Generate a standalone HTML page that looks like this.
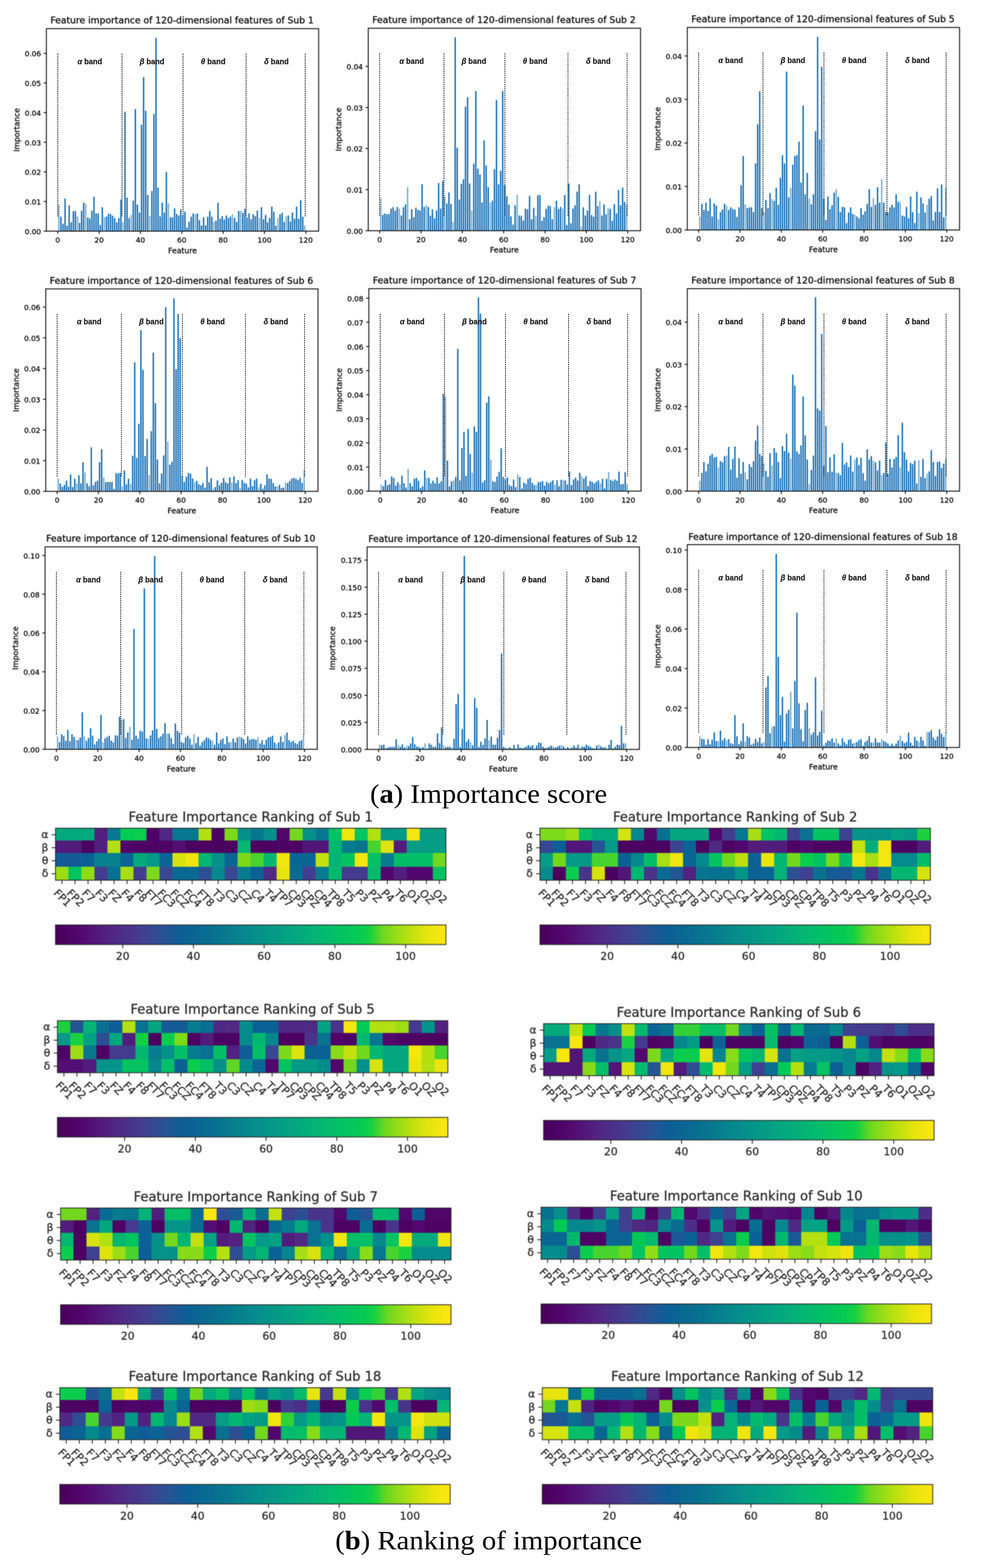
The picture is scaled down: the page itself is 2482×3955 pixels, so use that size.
<!DOCTYPE html>
<html lang="en"><head><meta charset="utf-8"><title>Feature importance</title>
<style>html,body{margin:0;padding:0;background:#fff}svg{display:block}text{font-family:"DejaVu Sans","Liberation Sans",sans-serif;fill:#151515}.bc text{stroke:#151515;stroke-width:0.4px}.bc text.bl{font-family:"Liberation Sans",sans-serif;font-weight:700;stroke-width:0.3px;stroke:#1a1a1a;fill:#1a1a1a}.tc text{stroke-width:0 !important}.tc line,.tc rect{stroke-width:1.2px}.hm text{fill:#303030;stroke:#303030;stroke-width:0.4px}.cap{font-family:"Liberation Serif","DejaVu Serif",serif;fill:#000}</style></head><body>
<svg width="2482" height="3955" viewBox="0 0 2482 3955">
<defs>
<filter id="b1" x="-1%" y="-1%" width="102%" height="102%" color-interpolation-filters="sRGB"><feGaussianBlur stdDeviation="0.8"/></filter>
<filter id="b0" x="-1%" y="-1%" width="102%" height="102%" color-interpolation-filters="sRGB"><feGaussianBlur stdDeviation="0.8"/></filter>
<filter id="b2" x="-1%" y="-1%" width="102%" height="102%" color-interpolation-filters="sRGB"><feGaussianBlur stdDeviation="0.8"/></filter>
<filter id="b3" x="-1%" y="-1%" width="102%" height="102%" color-interpolation-filters="sRGB"><feGaussianBlur stdDeviation="0.5"/></filter>
<linearGradient id="cb" x1="0" x2="1" y1="0" y2="0"><stop offset="0.0%" stop-color="#48005a"/><stop offset="6.0%" stop-color="#52066e"/><stop offset="14.0%" stop-color="#522482"/><stop offset="22.0%" stop-color="#423e90"/><stop offset="28.0%" stop-color="#265494"/><stop offset="32.0%" stop-color="#0c5e96"/><stop offset="40.0%" stop-color="#087090"/><stop offset="50.0%" stop-color="#068c8c"/><stop offset="60.0%" stop-color="#04a482"/><stop offset="70.0%" stop-color="#04bc6c"/><stop offset="78.0%" stop-color="#04cc52"/><stop offset="80.5%" stop-color="#18d042"/><stop offset="84.0%" stop-color="#70d81e"/><stop offset="90.0%" stop-color="#b6e010"/><stop offset="95.0%" stop-color="#e6e40e"/><stop offset="100.0%" stop-color="#ffe710"/></linearGradient>
</defs>
<rect width="2482" height="3955" fill="#fff"/>
<g filter="url(#b1)" class="bc">
<path d="M152.2 583.0v-36.6h3.0v36.6zM157.4 583.0v-18.7h3.0v18.7zM162.6 583.0v-82.2h3.0v82.2zM167.8 583.0v-13.5h3.0v13.5zM173.0 583.0v-65.0h3.0v65.0zM178.2 583.0v-22.4h3.0v22.4zM183.5 583.0v-50.8h3.0v50.8zM188.7 583.0v-50.8h3.0v50.8zM199.1 583.0v-20.9h3.0v20.9zM204.3 583.0v-51.6h3.0v51.6zM209.5 583.0v-71.7h3.0v71.7zM220.0 583.0v-34.4h3.0v34.4zM225.2 583.0v-32.1h3.0v32.1zM230.4 583.0v-51.6h3.0v51.6zM235.6 583.0v-86.7h3.0v86.7zM240.8 583.0v-44.8h3.0v44.8zM246.0 583.0v-44.8h3.0v44.8zM251.2 583.0v-15.7h3.0v15.7zM256.5 583.0v-60.5h3.0v60.5zM266.9 583.0v-36.6h3.0v36.6zM272.1 583.0v-44.1h3.0v44.1zM277.3 583.0v-43.3h3.0v43.3zM282.5 583.0v-38.9h3.0v38.9zM287.7 583.0v-32.9h3.0v32.9zM293.0 583.0v-21.7h3.0v21.7zM298.2 583.0v-32.9h3.0v32.9zM303.4 583.0v-80.0h3.0v80.0zM313.8 583.0v-301.2h3.0v301.2zM319.0 583.0v-84.4h3.0v84.4zM324.2 583.0v-32.9h3.0v32.9zM334.7 583.0v-77.0h3.0v77.0zM339.9 583.0v-307.9h3.0v307.9zM345.1 583.0v-67.3h3.0v67.3zM350.3 583.0v-47.1h3.0v47.1zM355.5 583.0v-268.3h3.0v268.3zM360.7 583.0v-388.6h3.0v388.6zM366.0 583.0v-303.4h3.0v303.4zM371.2 583.0v-91.2h3.0v91.2zM381.6 583.0v-100.9h3.0v100.9zM386.8 583.0v-295.2h3.0v295.2zM392.0 583.0v-487.2h3.0v487.2zM397.2 583.0v-109.9h3.0v109.9zM402.4 583.0v-37.4h3.0v37.4zM407.7 583.0v-71.7h3.0v71.7zM412.9 583.0v-47.1h3.0v47.1zM418.1 583.0v-149.5h3.0v149.5zM428.5 583.0v-35.1h3.0v35.1zM433.7 583.0v-34.4h3.0v34.4zM438.9 583.0v-57.5h3.0v57.5zM444.2 583.0v-43.3h3.0v43.3zM449.4 583.0v-39.6h3.0v39.6zM454.6 583.0v-55.3h3.0v55.3zM459.8 583.0v-39.6h3.0v39.6zM465.0 583.0v-49.3h3.0v49.3zM470.2 583.0v-9.0h3.0v9.0zM475.4 583.0v-23.9h3.0v23.9zM480.7 583.0v-36.6h3.0v36.6zM485.9 583.0v-44.8h3.0v44.8zM496.3 583.0v-44.8h3.0v44.8zM501.5 583.0v-27.7h3.0v27.7zM506.7 583.0v-14.2h3.0v14.2zM511.9 583.0v-35.1h3.0v35.1zM517.2 583.0v-14.9h3.0v14.9zM522.4 583.0v-36.6h3.0v36.6zM527.6 583.0v-50.8h3.0v50.8zM532.8 583.0v-36.6h3.0v36.6zM543.2 583.0v-26.2h3.0v26.2zM548.4 583.0v-71.7h3.0v71.7zM553.7 583.0v-31.4h3.0v31.4zM558.9 583.0v-38.1h3.0v38.1zM564.1 583.0v-29.1h3.0v29.1zM569.3 583.0v-39.6h3.0v39.6zM574.5 583.0v-32.9h3.0v32.9zM579.7 583.0v-36.6h3.0v36.6zM590.2 583.0v-33.6h3.0v33.6zM595.4 583.0v-23.2h3.0v23.2zM600.6 583.0v-50.8h3.0v50.8zM611.0 583.0v-46.3h3.0v46.3zM616.2 583.0v-56.8h3.0v56.8zM621.4 583.0v-35.1h3.0v35.1zM626.7 583.0v-44.8h3.0v44.8zM631.9 583.0v-29.9h3.0v29.9zM637.1 583.0v-42.6h3.0v42.6zM642.3 583.0v-38.1h3.0v38.1zM647.5 583.0v-52.3h3.0v52.3zM657.9 583.0v-60.5h3.0v60.5zM663.1 583.0v-29.9h3.0v29.9zM668.4 583.0v-41.1h3.0v41.1zM673.6 583.0v-22.4h3.0v22.4zM678.8 583.0v-33.6h3.0v33.6zM684.0 583.0v-62.0h3.0v62.0zM689.2 583.0v-49.3h3.0v49.3zM694.4 583.0v-13.5h3.0v13.5zM704.9 583.0v-42.6h3.0v42.6zM710.1 583.0v-46.3h3.0v46.3zM715.3 583.0v-23.2h3.0v23.2zM725.7 583.0v-39.6h3.0v39.6zM730.9 583.0v-23.9h3.0v23.9zM736.1 583.0v-47.1h3.0v47.1zM741.4 583.0v-31.4h3.0v31.4zM746.6 583.0v-62.0h3.0v62.0zM751.8 583.0v-31.4h3.0v31.4zM757.0 583.0v-78.5h3.0v78.5zM762.2 583.0v-36.6h3.0v36.6z" fill="#0062b0"/>
<path d="M147.0 583.0v-67.3h3.0v67.3zM193.9 583.0v-37.4h3.0v37.4zM214.7 583.0v-69.5h3.0v69.5zM261.7 583.0v-35.1h3.0v35.1zM308.6 583.0v-22.4h3.0v22.4zM329.5 583.0v-41.1h3.0v41.1zM376.4 583.0v-38.9h3.0v38.9zM423.3 583.0v-70.2h3.0v70.2zM491.1 583.0v-42.6h3.0v42.6zM538.0 583.0v-23.9h3.0v23.9zM584.9 583.0v-42.6h3.0v42.6zM605.8 583.0v-51.6h3.0v51.6zM652.7 583.0v-32.9h3.0v32.9zM699.6 583.0v-33.6h3.0v33.6zM720.5 583.0v-38.1h3.0v38.1zM767.4 583.0v-14.2h3.0v14.2z" fill="#6fa6c6"/>
<rect x="117.0" y="72.3" width="686.7" height="510.7" fill="none" stroke="#000" stroke-width="2.0"/>
<line x1="145.70" y1="583.0" x2="145.70" y2="589.7" stroke="#000" stroke-width="2.0"/>
<text x="145.70" y="612.0" font-size="18.4" text-anchor="middle">0</text>
<line x1="249.98" y1="583.0" x2="249.98" y2="589.7" stroke="#000" stroke-width="2.0"/>
<text x="249.98" y="612.0" font-size="18.4" text-anchor="middle">20</text>
<line x1="354.26" y1="583.0" x2="354.26" y2="589.7" stroke="#000" stroke-width="2.0"/>
<text x="354.26" y="612.0" font-size="18.4" text-anchor="middle">40</text>
<line x1="458.54" y1="583.0" x2="458.54" y2="589.7" stroke="#000" stroke-width="2.0"/>
<text x="458.54" y="612.0" font-size="18.4" text-anchor="middle">60</text>
<line x1="562.82" y1="583.0" x2="562.82" y2="589.7" stroke="#000" stroke-width="2.0"/>
<text x="562.82" y="612.0" font-size="18.4" text-anchor="middle">80</text>
<line x1="667.10" y1="583.0" x2="667.10" y2="589.7" stroke="#000" stroke-width="2.0"/>
<text x="667.10" y="612.0" font-size="18.4" text-anchor="middle">100</text>
<line x1="771.38" y1="583.0" x2="771.38" y2="589.7" stroke="#000" stroke-width="2.0"/>
<text x="771.38" y="612.0" font-size="18.4" text-anchor="middle">120</text>
<line x1="110.3" y1="583.00" x2="117.0" y2="583.00" stroke="#000" stroke-width="2.0"/>
<text x="103.4" y="590.70" font-size="18.4" text-anchor="end">0.00</text>
<line x1="110.3" y1="508.27" x2="117.0" y2="508.27" stroke="#000" stroke-width="2.0"/>
<text x="103.4" y="515.97" font-size="18.4" text-anchor="end">0.01</text>
<line x1="110.3" y1="433.54" x2="117.0" y2="433.54" stroke="#000" stroke-width="2.0"/>
<text x="103.4" y="441.24" font-size="18.4" text-anchor="end">0.02</text>
<line x1="110.3" y1="358.81" x2="117.0" y2="358.81" stroke="#000" stroke-width="2.0"/>
<text x="103.4" y="366.51" font-size="18.4" text-anchor="end">0.03</text>
<line x1="110.3" y1="284.08" x2="117.0" y2="284.08" stroke="#000" stroke-width="2.0"/>
<text x="103.4" y="291.78" font-size="18.4" text-anchor="end">0.04</text>
<line x1="110.3" y1="209.35" x2="117.0" y2="209.35" stroke="#000" stroke-width="2.0"/>
<text x="103.4" y="217.05" font-size="18.4" text-anchor="end">0.05</text>
<line x1="110.3" y1="134.62" x2="117.0" y2="134.62" stroke="#000" stroke-width="2.0"/>
<text x="103.4" y="142.32" font-size="18.4" text-anchor="end">0.06</text>
<text x="460.4" y="638.5" font-size="19.24" text-anchor="middle">Feature</text>
<text transform="translate(49.0,327.6) rotate(-90)" font-size="19.24" text-anchor="middle">Importance</text>
<text x="459.4" y="59.3" font-size="23.2" text-anchor="middle">Feature importance of 120-dimensional features of Sub 1</text>
</g><g class="bc">
<g class="tc" opacity="0.4"><rect x="117.0" y="72.3" width="686.7" height="510.7" fill="none" stroke="#000" stroke-width="2.0"/><line x1="145.70" y1="583.0" x2="145.70" y2="589.7" stroke="#000" stroke-width="2.0"/><text x="145.70" y="612.0" font-size="18.4" text-anchor="middle">0</text><line x1="249.98" y1="583.0" x2="249.98" y2="589.7" stroke="#000" stroke-width="2.0"/><text x="249.98" y="612.0" font-size="18.4" text-anchor="middle">20</text><line x1="354.26" y1="583.0" x2="354.26" y2="589.7" stroke="#000" stroke-width="2.0"/><text x="354.26" y="612.0" font-size="18.4" text-anchor="middle">40</text><line x1="458.54" y1="583.0" x2="458.54" y2="589.7" stroke="#000" stroke-width="2.0"/><text x="458.54" y="612.0" font-size="18.4" text-anchor="middle">60</text><line x1="562.82" y1="583.0" x2="562.82" y2="589.7" stroke="#000" stroke-width="2.0"/><text x="562.82" y="612.0" font-size="18.4" text-anchor="middle">80</text><line x1="667.10" y1="583.0" x2="667.10" y2="589.7" stroke="#000" stroke-width="2.0"/><text x="667.10" y="612.0" font-size="18.4" text-anchor="middle">100</text><line x1="771.38" y1="583.0" x2="771.38" y2="589.7" stroke="#000" stroke-width="2.0"/><text x="771.38" y="612.0" font-size="18.4" text-anchor="middle">120</text><line x1="110.3" y1="583.00" x2="117.0" y2="583.00" stroke="#000" stroke-width="2.0"/><text x="103.4" y="590.70" font-size="18.4" text-anchor="end">0.00</text><line x1="110.3" y1="508.27" x2="117.0" y2="508.27" stroke="#000" stroke-width="2.0"/><text x="103.4" y="515.97" font-size="18.4" text-anchor="end">0.01</text><line x1="110.3" y1="433.54" x2="117.0" y2="433.54" stroke="#000" stroke-width="2.0"/><text x="103.4" y="441.24" font-size="18.4" text-anchor="end">0.02</text><line x1="110.3" y1="358.81" x2="117.0" y2="358.81" stroke="#000" stroke-width="2.0"/><text x="103.4" y="366.51" font-size="18.4" text-anchor="end">0.03</text><line x1="110.3" y1="284.08" x2="117.0" y2="284.08" stroke="#000" stroke-width="2.0"/><text x="103.4" y="291.78" font-size="18.4" text-anchor="end">0.04</text><line x1="110.3" y1="209.35" x2="117.0" y2="209.35" stroke="#000" stroke-width="2.0"/><text x="103.4" y="217.05" font-size="18.4" text-anchor="end">0.05</text><line x1="110.3" y1="134.62" x2="117.0" y2="134.62" stroke="#000" stroke-width="2.0"/><text x="103.4" y="142.32" font-size="18.4" text-anchor="end">0.06</text><text x="460.4" y="638.5" font-size="19.24" text-anchor="middle">Feature</text><text transform="translate(49.0,327.6) rotate(-90)" font-size="19.24" text-anchor="middle">Importance</text><text x="459.4" y="59.3" font-size="23.2" text-anchor="middle">Feature importance of 120-dimensional features of Sub 1</text></g>
<path d="M152.8 582.6v-35.4h1.8v35.4zM158.0 582.6v-17.5h1.8v17.5zM163.2 582.6v-81.0h1.8v81.0zM168.4 582.6v-12.3h1.8v12.3zM173.6 582.6v-63.8h1.8v63.8zM178.8 582.6v-21.2h1.8v21.2zM184.1 582.6v-49.6h1.8v49.6zM189.3 582.6v-49.6h1.8v49.6zM199.7 582.6v-19.7h1.8v19.7zM204.9 582.6v-50.4h1.8v50.4zM210.1 582.6v-70.5h1.8v70.5zM220.6 582.6v-33.2h1.8v33.2zM225.8 582.6v-30.9h1.8v30.9zM231.0 582.6v-50.4h1.8v50.4zM236.2 582.6v-85.5h1.8v85.5zM241.4 582.6v-43.6h1.8v43.6zM246.6 582.6v-43.6h1.8v43.6zM251.8 582.6v-14.5h1.8v14.5zM257.1 582.6v-59.3h1.8v59.3zM267.5 582.6v-35.4h1.8v35.4zM272.7 582.6v-42.9h1.8v42.9zM277.9 582.6v-42.1h1.8v42.1zM283.1 582.6v-37.7h1.8v37.7zM288.3 582.6v-31.7h1.8v31.7zM293.6 582.6v-20.5h1.8v20.5zM298.8 582.6v-31.7h1.8v31.7zM304.0 582.6v-78.8h1.8v78.8zM314.4 582.6v-300.0h1.8v300.0zM319.6 582.6v-83.2h1.8v83.2zM324.8 582.6v-31.7h1.8v31.7zM335.3 582.6v-75.8h1.8v75.8zM340.5 582.6v-306.7h1.8v306.7zM345.7 582.6v-66.1h1.8v66.1zM350.9 582.6v-45.9h1.8v45.9zM356.1 582.6v-267.1h1.8v267.1zM361.3 582.6v-387.4h1.8v387.4zM366.6 582.6v-302.2h1.8v302.2zM371.8 582.6v-90.0h1.8v90.0zM382.2 582.6v-99.7h1.8v99.7zM387.4 582.6v-294.0h1.8v294.0zM392.6 582.6v-486.0h1.8v486.0zM397.8 582.6v-108.7h1.8v108.7zM403.0 582.6v-36.2h1.8v36.2zM408.3 582.6v-70.5h1.8v70.5zM413.5 582.6v-45.9h1.8v45.9zM418.7 582.6v-148.3h1.8v148.3zM429.1 582.6v-33.9h1.8v33.9zM434.3 582.6v-33.2h1.8v33.2zM439.5 582.6v-56.3h1.8v56.3zM444.8 582.6v-42.1h1.8v42.1zM450.0 582.6v-38.4h1.8v38.4zM455.2 582.6v-54.1h1.8v54.1zM460.4 582.6v-38.4h1.8v38.4zM465.6 582.6v-48.1h1.8v48.1zM470.8 582.6v-7.8h1.8v7.8zM476.0 582.6v-22.7h1.8v22.7zM481.3 582.6v-35.4h1.8v35.4zM486.5 582.6v-43.6h1.8v43.6zM496.9 582.6v-43.6h1.8v43.6zM502.1 582.6v-26.5h1.8v26.5zM507.3 582.6v-13.0h1.8v13.0zM512.5 582.6v-33.9h1.8v33.9zM517.8 582.6v-13.7h1.8v13.7zM523.0 582.6v-35.4h1.8v35.4zM528.2 582.6v-49.6h1.8v49.6zM533.4 582.6v-35.4h1.8v35.4zM543.8 582.6v-25.0h1.8v25.0zM549.0 582.6v-70.5h1.8v70.5zM554.3 582.6v-30.2h1.8v30.2zM559.5 582.6v-36.9h1.8v36.9zM564.7 582.6v-27.9h1.8v27.9zM569.9 582.6v-38.4h1.8v38.4zM575.1 582.6v-31.7h1.8v31.7zM580.3 582.6v-35.4h1.8v35.4zM590.8 582.6v-32.4h1.8v32.4zM596.0 582.6v-22.0h1.8v22.0zM601.2 582.6v-49.6h1.8v49.6zM611.6 582.6v-45.1h1.8v45.1zM616.8 582.6v-55.6h1.8v55.6zM622.0 582.6v-33.9h1.8v33.9zM627.3 582.6v-43.6h1.8v43.6zM632.5 582.6v-28.7h1.8v28.7zM637.7 582.6v-41.4h1.8v41.4zM642.9 582.6v-36.9h1.8v36.9zM648.1 582.6v-51.1h1.8v51.1zM658.5 582.6v-59.3h1.8v59.3zM663.7 582.6v-28.7h1.8v28.7zM669.0 582.6v-39.9h1.8v39.9zM674.2 582.6v-21.2h1.8v21.2zM679.4 582.6v-32.4h1.8v32.4zM684.6 582.6v-60.8h1.8v60.8zM689.8 582.6v-48.1h1.8v48.1zM695.0 582.6v-12.3h1.8v12.3zM705.5 582.6v-41.4h1.8v41.4zM710.7 582.6v-45.1h1.8v45.1zM715.9 582.6v-22.0h1.8v22.0zM726.3 582.6v-38.4h1.8v38.4zM731.5 582.6v-22.7h1.8v22.7zM736.7 582.6v-45.9h1.8v45.9zM742.0 582.6v-30.2h1.8v30.2zM747.2 582.6v-60.8h1.8v60.8zM752.4 582.6v-30.2h1.8v30.2zM757.6 582.6v-77.3h1.8v77.3zM762.8 582.6v-35.4h1.8v35.4z" fill="#0062b0" opacity="0.55"/>
<path d="M147.6 582.6v-66.1h1.8v66.1zM194.5 582.6v-36.2h1.8v36.2zM215.3 582.6v-68.3h1.8v68.3zM262.3 582.6v-33.9h1.8v33.9zM309.2 582.6v-21.2h1.8v21.2zM330.1 582.6v-39.9h1.8v39.9zM377.0 582.6v-37.7h1.8v37.7zM423.9 582.6v-69.0h1.8v69.0zM491.7 582.6v-41.4h1.8v41.4zM538.6 582.6v-22.7h1.8v22.7zM585.5 582.6v-41.4h1.8v41.4zM606.4 582.6v-50.4h1.8v50.4zM653.3 582.6v-31.7h1.8v31.7zM700.2 582.6v-32.4h1.8v32.4zM721.1 582.6v-36.9h1.8v36.9zM768.0 582.6v-13.0h1.8v13.0z" fill="#6fa6c6" opacity="0.55"/>
<line x1="145.70" y1="135.3" x2="145.70" y2="547.0" stroke="#1a1a1a" stroke-width="2.0" stroke-dasharray="3.4 2.1"/>
<line x1="307.86" y1="135.3" x2="307.86" y2="547.0" stroke="#1a1a1a" stroke-width="2.0" stroke-dasharray="3.4 2.1"/>
<line x1="461.67" y1="135.3" x2="461.67" y2="547.0" stroke="#1a1a1a" stroke-width="2.0" stroke-dasharray="3.4 2.1"/>
<line x1="620.70" y1="135.3" x2="620.70" y2="547.0" stroke="#1a1a1a" stroke-width="2.0" stroke-dasharray="3.4 2.1"/>
<line x1="769.82" y1="135.3" x2="769.82" y2="547.0" stroke="#1a1a1a" stroke-width="2.0" stroke-dasharray="3.4 2.1"/>
<text x="226.5" y="161.9" font-size="19.5" text-anchor="middle" textLength="62" class="bl" lengthAdjust="spacingAndGlyphs"><tspan font-style="italic">α</tspan> band</text>
<text x="383.5" y="161.9" font-size="19.5" text-anchor="middle" textLength="62" class="bl" lengthAdjust="spacingAndGlyphs"><tspan font-style="italic">β</tspan> band</text>
<text x="537.8" y="161.9" font-size="19.5" text-anchor="middle" textLength="62" class="bl" lengthAdjust="spacingAndGlyphs"><tspan font-style="italic">θ</tspan> band</text>
<text x="697.3" y="161.9" font-size="19.5" text-anchor="middle" textLength="62" class="bl" lengthAdjust="spacingAndGlyphs"><tspan font-style="italic">δ</tspan> band</text>
</g>
<g filter="url(#b1)" class="bc">
<path d="M964.1 581.9v-40.4h3.0v40.4zM969.3 581.9v-43.5h3.0v43.5zM974.5 581.9v-41.4h3.0v41.4zM979.7 581.9v-42.5h3.0v42.5zM984.9 581.9v-55.9h3.0v55.9zM990.1 581.9v-59.1h3.0v59.1zM995.4 581.9v-50.8h3.0v50.8zM1000.6 581.9v-60.1h3.0v60.1zM1011.0 581.9v-38.3h3.0v38.3zM1016.2 581.9v-59.1h3.0v59.1zM1021.4 581.9v-66.3h3.0v66.3zM1031.9 581.9v-29.0h3.0v29.0zM1037.1 581.9v-53.9h3.0v53.9zM1042.3 581.9v-34.2h3.0v34.2zM1047.5 581.9v-58.0h3.0v58.0zM1052.7 581.9v-52.8h3.0v52.8zM1057.9 581.9v-50.8h3.0v50.8zM1063.1 581.9v-117.1h3.0v117.1zM1068.4 581.9v-60.1h3.0v60.1zM1078.8 581.9v-60.1h3.0v60.1zM1084.0 581.9v-37.3h3.0v37.3zM1089.2 581.9v-53.9h3.0v53.9zM1094.4 581.9v-31.1h3.0v31.1zM1099.6 581.9v-50.8h3.0v50.8zM1104.9 581.9v-120.2h3.0v120.2zM1110.1 581.9v-55.9h3.0v55.9zM1115.3 581.9v-125.4h3.0v125.4zM1125.7 581.9v-68.4h3.0v68.4zM1130.9 581.9v-96.3h3.0v96.3zM1136.1 581.9v-67.3h3.0v67.3zM1146.6 581.9v-488.0h3.0v488.0zM1151.8 581.9v-209.3h3.0v209.3zM1157.0 581.9v-78.7h3.0v78.7zM1162.2 581.9v-118.1h3.0v118.1zM1167.4 581.9v-129.5h3.0v129.5zM1172.6 581.9v-312.9h3.0v312.9zM1177.9 581.9v-336.7h3.0v336.7zM1183.1 581.9v-119.1h3.0v119.1zM1193.5 581.9v-168.9h3.0v168.9zM1198.7 581.9v-352.2h3.0v352.2zM1203.9 581.9v-156.4h3.0v156.4zM1209.1 581.9v-141.9h3.0v141.9zM1214.3 581.9v-71.5h3.0v71.5zM1219.6 581.9v-227.9h3.0v227.9zM1224.8 581.9v-164.7h3.0v164.7zM1230.0 581.9v-109.8h3.0v109.8zM1240.4 581.9v-75.6h3.0v75.6zM1245.6 581.9v-155.4h3.0v155.4zM1250.8 581.9v-329.4h3.0v329.4zM1256.1 581.9v-117.1h3.0v117.1zM1261.3 581.9v-151.3h3.0v151.3zM1266.5 581.9v-352.2h3.0v352.2zM1271.7 581.9v-115.0h3.0v115.0zM1276.9 581.9v-87.0h3.0v87.0zM1282.1 581.9v-65.3h3.0v65.3zM1287.3 581.9v-36.3h3.0v36.3zM1292.6 581.9v-15.5h3.0v15.5zM1297.8 581.9v-64.2h3.0v64.2zM1308.2 581.9v-38.3h3.0v38.3zM1313.4 581.9v-37.3h3.0v37.3zM1318.6 581.9v-25.9h3.0v25.9zM1323.8 581.9v-55.9h3.0v55.9zM1329.1 581.9v-53.9h3.0v53.9zM1334.3 581.9v-88.1h3.0v88.1zM1339.5 581.9v-29.0h3.0v29.0zM1344.7 581.9v-58.0h3.0v58.0zM1355.1 581.9v-89.1h3.0v89.1zM1360.3 581.9v-90.1h3.0v90.1zM1365.6 581.9v-24.9h3.0v24.9zM1370.8 581.9v-34.2h3.0v34.2zM1376.0 581.9v-54.9h3.0v54.9zM1381.2 581.9v-63.2h3.0v63.2zM1386.4 581.9v-62.2h3.0v62.2zM1391.6 581.9v-29.0h3.0v29.0zM1402.1 581.9v-75.6h3.0v75.6zM1407.3 581.9v-54.9h3.0v54.9zM1412.5 581.9v-60.1h3.0v60.1zM1422.9 581.9v-90.1h3.0v90.1zM1428.1 581.9v-14.5h3.0v14.5zM1433.3 581.9v-119.1h3.0v119.1zM1438.6 581.9v-18.6h3.0v18.6zM1443.8 581.9v-55.9h3.0v55.9zM1449.0 581.9v-64.2h3.0v64.2zM1454.2 581.9v-98.4h3.0v98.4zM1459.4 581.9v-117.1h3.0v117.1zM1469.8 581.9v-59.1h3.0v59.1zM1475.0 581.9v-38.3h3.0v38.3zM1480.3 581.9v-50.8h3.0v50.8zM1485.5 581.9v-90.1h3.0v90.1zM1490.7 581.9v-39.4h3.0v39.4zM1495.9 581.9v-35.2h3.0v35.2zM1501.1 581.9v-98.4h3.0v98.4zM1506.3 581.9v-62.2h3.0v62.2zM1516.8 581.9v-38.3h3.0v38.3zM1522.0 581.9v-66.3h3.0v66.3zM1527.2 581.9v-41.4h3.0v41.4zM1537.6 581.9v-54.9h3.0v54.9zM1542.8 581.9v-24.9h3.0v24.9zM1548.0 581.9v-67.3h3.0v67.3zM1553.3 581.9v-43.5h3.0v43.5zM1558.5 581.9v-102.6h3.0v102.6zM1563.7 581.9v-64.2h3.0v64.2zM1568.9 581.9v-108.8h3.0v108.8zM1574.1 581.9v-72.5h3.0v72.5z" fill="#0062b0"/>
<path d="M958.9 581.9v-81.8h3.0v81.8zM1005.8 581.9v-55.9h3.0v55.9zM1026.6 581.9v-109.8h3.0v109.8zM1073.6 581.9v-64.2h3.0v64.2zM1120.5 581.9v-87.0h3.0v87.0zM1141.4 581.9v-21.8h3.0v21.8zM1188.3 581.9v-50.8h3.0v50.8zM1235.2 581.9v-70.4h3.0v70.4zM1303.0 581.9v-90.1h3.0v90.1zM1349.9 581.9v-37.3h3.0v37.3zM1396.8 581.9v-59.1h3.0v59.1zM1417.7 581.9v-55.9h3.0v55.9zM1464.6 581.9v-10.4h3.0v10.4zM1511.5 581.9v-74.6h3.0v74.6zM1532.4 581.9v-57.0h3.0v57.0zM1579.3 581.9v-65.3h3.0v65.3z" fill="#6fa6c6"/>
<rect x="928.9" y="71.2" width="686.7" height="510.7" fill="none" stroke="#000" stroke-width="2.0"/>
<line x1="957.60" y1="581.9" x2="957.60" y2="588.6" stroke="#000" stroke-width="2.0"/>
<text x="957.60" y="610.9" font-size="18.4" text-anchor="middle">0</text>
<line x1="1061.88" y1="581.9" x2="1061.88" y2="588.6" stroke="#000" stroke-width="2.0"/>
<text x="1061.88" y="610.9" font-size="18.4" text-anchor="middle">20</text>
<line x1="1166.16" y1="581.9" x2="1166.16" y2="588.6" stroke="#000" stroke-width="2.0"/>
<text x="1166.16" y="610.9" font-size="18.4" text-anchor="middle">40</text>
<line x1="1270.44" y1="581.9" x2="1270.44" y2="588.6" stroke="#000" stroke-width="2.0"/>
<text x="1270.44" y="610.9" font-size="18.4" text-anchor="middle">60</text>
<line x1="1374.72" y1="581.9" x2="1374.72" y2="588.6" stroke="#000" stroke-width="2.0"/>
<text x="1374.72" y="610.9" font-size="18.4" text-anchor="middle">80</text>
<line x1="1479.00" y1="581.9" x2="1479.00" y2="588.6" stroke="#000" stroke-width="2.0"/>
<text x="1479.00" y="610.9" font-size="18.4" text-anchor="middle">100</text>
<line x1="1583.28" y1="581.9" x2="1583.28" y2="588.6" stroke="#000" stroke-width="2.0"/>
<text x="1583.28" y="610.9" font-size="18.4" text-anchor="middle">120</text>
<line x1="922.2" y1="581.90" x2="928.9" y2="581.90" stroke="#000" stroke-width="2.0"/>
<text x="915.3" y="589.60" font-size="18.4" text-anchor="end">0.00</text>
<line x1="922.2" y1="478.30" x2="928.9" y2="478.30" stroke="#000" stroke-width="2.0"/>
<text x="915.3" y="486.00" font-size="18.4" text-anchor="end">0.01</text>
<line x1="922.2" y1="374.70" x2="928.9" y2="374.70" stroke="#000" stroke-width="2.0"/>
<text x="915.3" y="382.40" font-size="18.4" text-anchor="end">0.02</text>
<line x1="922.2" y1="271.10" x2="928.9" y2="271.10" stroke="#000" stroke-width="2.0"/>
<text x="915.3" y="278.80" font-size="18.4" text-anchor="end">0.03</text>
<line x1="922.2" y1="167.50" x2="928.9" y2="167.50" stroke="#000" stroke-width="2.0"/>
<text x="915.3" y="175.20" font-size="18.4" text-anchor="end">0.04</text>
<text x="1272.2" y="637.4" font-size="19.24" text-anchor="middle">Feature</text>
<text transform="translate(860.9,326.5) rotate(-90)" font-size="19.24" text-anchor="middle">Importance</text>
<text x="1271.2" y="58.2" font-size="23.2" text-anchor="middle">Feature importance of 120-dimensional features of Sub 2</text>
</g><g class="bc">
<g class="tc" opacity="0.4"><rect x="928.9" y="71.2" width="686.7" height="510.7" fill="none" stroke="#000" stroke-width="2.0"/><line x1="957.60" y1="581.9" x2="957.60" y2="588.6" stroke="#000" stroke-width="2.0"/><text x="957.60" y="610.9" font-size="18.4" text-anchor="middle">0</text><line x1="1061.88" y1="581.9" x2="1061.88" y2="588.6" stroke="#000" stroke-width="2.0"/><text x="1061.88" y="610.9" font-size="18.4" text-anchor="middle">20</text><line x1="1166.16" y1="581.9" x2="1166.16" y2="588.6" stroke="#000" stroke-width="2.0"/><text x="1166.16" y="610.9" font-size="18.4" text-anchor="middle">40</text><line x1="1270.44" y1="581.9" x2="1270.44" y2="588.6" stroke="#000" stroke-width="2.0"/><text x="1270.44" y="610.9" font-size="18.4" text-anchor="middle">60</text><line x1="1374.72" y1="581.9" x2="1374.72" y2="588.6" stroke="#000" stroke-width="2.0"/><text x="1374.72" y="610.9" font-size="18.4" text-anchor="middle">80</text><line x1="1479.00" y1="581.9" x2="1479.00" y2="588.6" stroke="#000" stroke-width="2.0"/><text x="1479.00" y="610.9" font-size="18.4" text-anchor="middle">100</text><line x1="1583.28" y1="581.9" x2="1583.28" y2="588.6" stroke="#000" stroke-width="2.0"/><text x="1583.28" y="610.9" font-size="18.4" text-anchor="middle">120</text><line x1="922.2" y1="581.90" x2="928.9" y2="581.90" stroke="#000" stroke-width="2.0"/><text x="915.3" y="589.60" font-size="18.4" text-anchor="end">0.00</text><line x1="922.2" y1="478.30" x2="928.9" y2="478.30" stroke="#000" stroke-width="2.0"/><text x="915.3" y="486.00" font-size="18.4" text-anchor="end">0.01</text><line x1="922.2" y1="374.70" x2="928.9" y2="374.70" stroke="#000" stroke-width="2.0"/><text x="915.3" y="382.40" font-size="18.4" text-anchor="end">0.02</text><line x1="922.2" y1="271.10" x2="928.9" y2="271.10" stroke="#000" stroke-width="2.0"/><text x="915.3" y="278.80" font-size="18.4" text-anchor="end">0.03</text><line x1="922.2" y1="167.50" x2="928.9" y2="167.50" stroke="#000" stroke-width="2.0"/><text x="915.3" y="175.20" font-size="18.4" text-anchor="end">0.04</text><text x="1272.2" y="637.4" font-size="19.24" text-anchor="middle">Feature</text><text transform="translate(860.9,326.5) rotate(-90)" font-size="19.24" text-anchor="middle">Importance</text><text x="1271.2" y="58.2" font-size="23.2" text-anchor="middle">Feature importance of 120-dimensional features of Sub 2</text></g>
<path d="M964.7 581.5v-39.2h1.8v39.2zM969.9 581.5v-42.3h1.8v42.3zM975.1 581.5v-40.2h1.8v40.2zM980.3 581.5v-41.3h1.8v41.3zM985.5 581.5v-54.7h1.8v54.7zM990.7 581.5v-57.9h1.8v57.9zM996.0 581.5v-49.6h1.8v49.6zM1001.2 581.5v-58.9h1.8v58.9zM1011.6 581.5v-37.1h1.8v37.1zM1016.8 581.5v-57.9h1.8v57.9zM1022.0 581.5v-65.1h1.8v65.1zM1032.5 581.5v-27.8h1.8v27.8zM1037.7 581.5v-52.7h1.8v52.7zM1042.9 581.5v-33.0h1.8v33.0zM1048.1 581.5v-56.8h1.8v56.8zM1053.3 581.5v-51.6h1.8v51.6zM1058.5 581.5v-49.6h1.8v49.6zM1063.7 581.5v-115.9h1.8v115.9zM1069.0 581.5v-58.9h1.8v58.9zM1079.4 581.5v-58.9h1.8v58.9zM1084.6 581.5v-36.1h1.8v36.1zM1089.8 581.5v-52.7h1.8v52.7zM1095.0 581.5v-29.9h1.8v29.9zM1100.2 581.5v-49.6h1.8v49.6zM1105.5 581.5v-119.0h1.8v119.0zM1110.7 581.5v-54.7h1.8v54.7zM1115.9 581.5v-124.2h1.8v124.2zM1126.3 581.5v-67.2h1.8v67.2zM1131.5 581.5v-95.1h1.8v95.1zM1136.7 581.5v-66.1h1.8v66.1zM1147.2 581.5v-486.8h1.8v486.8zM1152.4 581.5v-208.1h1.8v208.1zM1157.6 581.5v-77.5h1.8v77.5zM1162.8 581.5v-116.9h1.8v116.9zM1168.0 581.5v-128.3h1.8v128.3zM1173.2 581.5v-311.7h1.8v311.7zM1178.5 581.5v-335.5h1.8v335.5zM1183.7 581.5v-117.9h1.8v117.9zM1194.1 581.5v-167.7h1.8v167.7zM1199.3 581.5v-351.0h1.8v351.0zM1204.5 581.5v-155.2h1.8v155.2zM1209.7 581.5v-140.7h1.8v140.7zM1214.9 581.5v-70.3h1.8v70.3zM1220.2 581.5v-226.7h1.8v226.7zM1225.4 581.5v-163.5h1.8v163.5zM1230.6 581.5v-108.6h1.8v108.6zM1241.0 581.5v-74.4h1.8v74.4zM1246.2 581.5v-154.2h1.8v154.2zM1251.4 581.5v-328.2h1.8v328.2zM1256.7 581.5v-115.9h1.8v115.9zM1261.9 581.5v-150.1h1.8v150.1zM1267.1 581.5v-351.0h1.8v351.0zM1272.3 581.5v-113.8h1.8v113.8zM1277.5 581.5v-85.8h1.8v85.8zM1282.7 581.5v-64.1h1.8v64.1zM1287.9 581.5v-35.1h1.8v35.1zM1293.2 581.5v-14.3h1.8v14.3zM1298.4 581.5v-63.0h1.8v63.0zM1308.8 581.5v-37.1h1.8v37.1zM1314.0 581.5v-36.1h1.8v36.1zM1319.2 581.5v-24.7h1.8v24.7zM1324.4 581.5v-54.7h1.8v54.7zM1329.7 581.5v-52.7h1.8v52.7zM1334.9 581.5v-86.9h1.8v86.9zM1340.1 581.5v-27.8h1.8v27.8zM1345.3 581.5v-56.8h1.8v56.8zM1355.7 581.5v-87.9h1.8v87.9zM1360.9 581.5v-88.9h1.8v88.9zM1366.2 581.5v-23.7h1.8v23.7zM1371.4 581.5v-33.0h1.8v33.0zM1376.6 581.5v-53.7h1.8v53.7zM1381.8 581.5v-62.0h1.8v62.0zM1387.0 581.5v-61.0h1.8v61.0zM1392.2 581.5v-27.8h1.8v27.8zM1402.7 581.5v-74.4h1.8v74.4zM1407.9 581.5v-53.7h1.8v53.7zM1413.1 581.5v-58.9h1.8v58.9zM1423.5 581.5v-88.9h1.8v88.9zM1428.7 581.5v-13.3h1.8v13.3zM1433.9 581.5v-117.9h1.8v117.9zM1439.2 581.5v-17.4h1.8v17.4zM1444.4 581.5v-54.7h1.8v54.7zM1449.6 581.5v-63.0h1.8v63.0zM1454.8 581.5v-97.2h1.8v97.2zM1460.0 581.5v-115.9h1.8v115.9zM1470.4 581.5v-57.9h1.8v57.9zM1475.6 581.5v-37.1h1.8v37.1zM1480.9 581.5v-49.6h1.8v49.6zM1486.1 581.5v-88.9h1.8v88.9zM1491.3 581.5v-38.2h1.8v38.2zM1496.5 581.5v-34.0h1.8v34.0zM1501.7 581.5v-97.2h1.8v97.2zM1506.9 581.5v-61.0h1.8v61.0zM1517.4 581.5v-37.1h1.8v37.1zM1522.6 581.5v-65.1h1.8v65.1zM1527.8 581.5v-40.2h1.8v40.2zM1538.2 581.5v-53.7h1.8v53.7zM1543.4 581.5v-23.7h1.8v23.7zM1548.6 581.5v-66.1h1.8v66.1zM1553.9 581.5v-42.3h1.8v42.3zM1559.1 581.5v-101.4h1.8v101.4zM1564.3 581.5v-63.0h1.8v63.0zM1569.5 581.5v-107.6h1.8v107.6zM1574.7 581.5v-71.3h1.8v71.3z" fill="#0062b0" opacity="0.55"/>
<path d="M959.5 581.5v-80.6h1.8v80.6zM1006.4 581.5v-54.7h1.8v54.7zM1027.2 581.5v-108.6h1.8v108.6zM1074.2 581.5v-63.0h1.8v63.0zM1121.1 581.5v-85.8h1.8v85.8zM1142.0 581.5v-20.6h1.8v20.6zM1188.9 581.5v-49.6h1.8v49.6zM1235.8 581.5v-69.2h1.8v69.2zM1303.6 581.5v-88.9h1.8v88.9zM1350.5 581.5v-36.1h1.8v36.1zM1397.4 581.5v-57.9h1.8v57.9zM1418.3 581.5v-54.7h1.8v54.7zM1465.2 581.5v-9.2h1.8v9.2zM1512.1 581.5v-73.4h1.8v73.4zM1533.0 581.5v-55.8h1.8v55.8zM1579.9 581.5v-64.1h1.8v64.1z" fill="#6fa6c6" opacity="0.55"/>
<line x1="957.60" y1="134.2" x2="957.60" y2="545.9" stroke="#1a1a1a" stroke-width="2.0" stroke-dasharray="3.4 2.1"/>
<line x1="1119.76" y1="134.2" x2="1119.76" y2="545.9" stroke="#1a1a1a" stroke-width="2.0" stroke-dasharray="3.4 2.1"/>
<line x1="1273.57" y1="134.2" x2="1273.57" y2="545.9" stroke="#1a1a1a" stroke-width="2.0" stroke-dasharray="3.4 2.1"/>
<line x1="1432.60" y1="134.2" x2="1432.60" y2="545.9" stroke="#1a1a1a" stroke-width="2.0" stroke-dasharray="3.4 2.1"/>
<line x1="1581.72" y1="134.2" x2="1581.72" y2="545.9" stroke="#1a1a1a" stroke-width="2.0" stroke-dasharray="3.4 2.1"/>
<text x="1038.4" y="160.8" font-size="19.5" text-anchor="middle" textLength="62" class="bl" lengthAdjust="spacingAndGlyphs"><tspan font-style="italic">α</tspan> band</text>
<text x="1195.4" y="160.8" font-size="19.5" text-anchor="middle" textLength="62" class="bl" lengthAdjust="spacingAndGlyphs"><tspan font-style="italic">β</tspan> band</text>
<text x="1349.7" y="160.8" font-size="19.5" text-anchor="middle" textLength="62" class="bl" lengthAdjust="spacingAndGlyphs"><tspan font-style="italic">θ</tspan> band</text>
<text x="1509.2" y="160.8" font-size="19.5" text-anchor="middle" textLength="62" class="bl" lengthAdjust="spacingAndGlyphs"><tspan font-style="italic">δ</tspan> band</text>
</g>
<g filter="url(#b1)" class="bc">
<path d="M1768.8 580.0v-65.8h3.0v65.8zM1774.0 580.0v-50.5h3.0v50.5zM1779.2 580.0v-69.1h3.0v69.1zM1784.4 580.0v-48.3h3.0v48.3zM1789.6 580.0v-80.1h3.0v80.1zM1794.8 580.0v-34.0h3.0v34.0zM1800.1 580.0v-66.9h3.0v66.9zM1805.3 580.0v-61.4h3.0v61.4zM1815.7 580.0v-45.0h3.0v45.0zM1820.9 580.0v-51.6h3.0v51.6zM1826.1 580.0v-65.8h3.0v65.8zM1836.6 580.0v-50.5h3.0v50.5zM1841.8 580.0v-57.0h3.0v57.0zM1847.0 580.0v-52.7h3.0v52.7zM1852.2 580.0v-51.6h3.0v51.6zM1857.4 580.0v-32.9h3.0v32.9zM1862.6 580.0v-57.0h3.0v57.0zM1867.8 580.0v-113.0h3.0v113.0zM1873.1 580.0v-186.5h3.0v186.5zM1883.5 580.0v-54.9h3.0v54.9zM1888.7 580.0v-57.0h3.0v57.0zM1893.9 580.0v-57.0h3.0v57.0zM1899.1 580.0v-45.0h3.0v45.0zM1904.3 580.0v-167.8h3.0v167.8zM1909.6 580.0v-266.6h3.0v266.6zM1914.8 580.0v-349.9h3.0v349.9zM1920.0 580.0v-54.9h3.0v54.9zM1930.4 580.0v-75.7h3.0v75.7zM1935.6 580.0v-54.9h3.0v54.9zM1940.8 580.0v-93.2h3.0v93.2zM1951.3 580.0v-73.5h3.0v73.5zM1956.5 580.0v-106.4h3.0v106.4zM1961.7 580.0v-63.6h3.0v63.6zM1966.9 580.0v-131.6h3.0v131.6zM1972.1 580.0v-188.7h3.0v188.7zM1977.3 580.0v-167.8h3.0v167.8zM1982.6 580.0v-399.3h3.0v399.3zM1987.8 580.0v-82.3h3.0v82.3zM1998.2 580.0v-164.6h3.0v164.6zM2003.4 580.0v-186.5h3.0v186.5zM2008.6 580.0v-188.7h3.0v188.7zM2013.8 580.0v-222.7h3.0v222.7zM2019.0 580.0v-119.6h3.0v119.6zM2024.3 580.0v-313.7h3.0v313.7zM2029.5 580.0v-90.0h3.0v90.0zM2034.7 580.0v-143.7h3.0v143.7zM2045.1 580.0v-64.7h3.0v64.7zM2050.3 580.0v-90.0h3.0v90.0zM2055.5 580.0v-249.0h3.0v249.0zM2060.8 580.0v-487.1h3.0v487.1zM2066.0 580.0v-228.2h3.0v228.2zM2071.2 580.0v-411.4h3.0v411.4zM2076.4 580.0v-79.0h3.0v79.0zM2081.6 580.0v-25.2h3.0v25.2zM2086.8 580.0v-84.5h3.0v84.5zM2092.0 580.0v-52.7h3.0v52.7zM2097.3 580.0v-62.5h3.0v62.5zM2102.5 580.0v-94.3h3.0v94.3zM2112.9 580.0v-83.4h3.0v83.4zM2118.1 580.0v-45.0h3.0v45.0zM2123.3 580.0v-58.1h3.0v58.1zM2128.5 580.0v-57.0h3.0v57.0zM2133.8 580.0v-17.6h3.0v17.6zM2139.0 580.0v-43.9h3.0v43.9zM2144.2 580.0v-57.0h3.0v57.0zM2149.4 580.0v-40.6h3.0v40.6zM2159.8 580.0v-34.0h3.0v34.0zM2165.0 580.0v-29.6h3.0v29.6zM2170.3 580.0v-54.9h3.0v54.9zM2175.5 580.0v-38.4h3.0v38.4zM2180.7 580.0v-47.2h3.0v47.2zM2185.9 580.0v-65.8h3.0v65.8zM2191.1 580.0v-103.1h3.0v103.1zM2196.3 580.0v-58.1h3.0v58.1zM2206.8 580.0v-63.6h3.0v63.6zM2212.0 580.0v-107.5h3.0v107.5zM2217.2 580.0v-69.1h3.0v69.1zM2227.6 580.0v-69.1h3.0v69.1zM2232.8 580.0v-46.1h3.0v46.1zM2238.0 580.0v-43.9h3.0v43.9zM2243.3 580.0v-57.0h3.0v57.0zM2248.5 580.0v-63.6h3.0v63.6zM2253.7 580.0v-57.0h3.0v57.0zM2258.9 580.0v-90.0h3.0v90.0zM2264.1 580.0v-71.3h3.0v71.3zM2274.5 580.0v-36.2h3.0v36.2zM2279.7 580.0v-34.0h3.0v34.0zM2285.0 580.0v-58.1h3.0v58.1zM2290.2 580.0v-29.6h3.0v29.6zM2295.4 580.0v-84.5h3.0v84.5zM2300.6 580.0v-45.0h3.0v45.0zM2305.8 580.0v-17.6h3.0v17.6zM2311.0 580.0v-96.5h3.0v96.5zM2321.5 580.0v-82.3h3.0v82.3zM2326.7 580.0v-66.9h3.0v66.9zM2331.9 580.0v-43.9h3.0v43.9zM2342.3 580.0v-79.0h3.0v79.0zM2347.5 580.0v-85.6h3.0v85.6zM2352.7 580.0v-24.1h3.0v24.1zM2358.0 580.0v-45.0h3.0v45.0zM2363.2 580.0v-105.3h3.0v105.3zM2368.4 580.0v-45.0h3.0v45.0zM2373.6 580.0v-115.2h3.0v115.2zM2378.8 580.0v-31.8h3.0v31.8z" fill="#0062b0"/>
<path d="M1763.6 580.0v-34.0h3.0v34.0zM1810.5 580.0v-27.4h3.0v27.4zM1831.3 580.0v-61.4h3.0v61.4zM1878.3 580.0v-64.7h3.0v64.7zM1925.2 580.0v-45.0h3.0v45.0zM1946.1 580.0v-77.9h3.0v77.9zM1993.0 580.0v-106.4h3.0v106.4zM2039.9 580.0v-79.0h3.0v79.0zM2107.7 580.0v-103.1h3.0v103.1zM2154.6 580.0v-38.4h3.0v38.4zM2201.5 580.0v-80.1h3.0v80.1zM2222.4 580.0v-128.3h3.0v128.3zM2269.3 580.0v-69.1h3.0v69.1zM2316.2 580.0v-42.8h3.0v42.8zM2337.1 580.0v-63.6h3.0v63.6zM2384.0 580.0v-106.4h3.0v106.4z" fill="#6fa6c6"/>
<rect x="1733.6" y="69.3" width="686.7" height="510.7" fill="none" stroke="#000" stroke-width="2.0"/>
<line x1="1762.30" y1="580.0" x2="1762.30" y2="586.7" stroke="#000" stroke-width="2.0"/>
<text x="1762.30" y="609.0" font-size="18.4" text-anchor="middle">0</text>
<line x1="1866.58" y1="580.0" x2="1866.58" y2="586.7" stroke="#000" stroke-width="2.0"/>
<text x="1866.58" y="609.0" font-size="18.4" text-anchor="middle">20</text>
<line x1="1970.86" y1="580.0" x2="1970.86" y2="586.7" stroke="#000" stroke-width="2.0"/>
<text x="1970.86" y="609.0" font-size="18.4" text-anchor="middle">40</text>
<line x1="2075.14" y1="580.0" x2="2075.14" y2="586.7" stroke="#000" stroke-width="2.0"/>
<text x="2075.14" y="609.0" font-size="18.4" text-anchor="middle">60</text>
<line x1="2179.42" y1="580.0" x2="2179.42" y2="586.7" stroke="#000" stroke-width="2.0"/>
<text x="2179.42" y="609.0" font-size="18.4" text-anchor="middle">80</text>
<line x1="2283.70" y1="580.0" x2="2283.70" y2="586.7" stroke="#000" stroke-width="2.0"/>
<text x="2283.70" y="609.0" font-size="18.4" text-anchor="middle">100</text>
<line x1="2387.98" y1="580.0" x2="2387.98" y2="586.7" stroke="#000" stroke-width="2.0"/>
<text x="2387.98" y="609.0" font-size="18.4" text-anchor="middle">120</text>
<line x1="1726.9" y1="580.00" x2="1733.6" y2="580.00" stroke="#000" stroke-width="2.0"/>
<text x="1720.0" y="587.70" font-size="18.4" text-anchor="end">0.00</text>
<line x1="1726.9" y1="470.30" x2="1733.6" y2="470.30" stroke="#000" stroke-width="2.0"/>
<text x="1720.0" y="478.00" font-size="18.4" text-anchor="end">0.01</text>
<line x1="1726.9" y1="360.60" x2="1733.6" y2="360.60" stroke="#000" stroke-width="2.0"/>
<text x="1720.0" y="368.30" font-size="18.4" text-anchor="end">0.02</text>
<line x1="1726.9" y1="250.90" x2="1733.6" y2="250.90" stroke="#000" stroke-width="2.0"/>
<text x="1720.0" y="258.60" font-size="18.4" text-anchor="end">0.03</text>
<line x1="1726.9" y1="141.20" x2="1733.6" y2="141.20" stroke="#000" stroke-width="2.0"/>
<text x="1720.0" y="148.90" font-size="18.4" text-anchor="end">0.04</text>
<text x="2076.9" y="635.5" font-size="19.24" text-anchor="middle">Feature</text>
<text transform="translate(1665.6,324.6) rotate(-90)" font-size="19.24" text-anchor="middle">Importance</text>
<text x="2075.9" y="56.3" font-size="23.2" text-anchor="middle">Feature importance of 120-dimensional features of Sub 5</text>
</g><g class="bc">
<g class="tc" opacity="0.4"><rect x="1733.6" y="69.3" width="686.7" height="510.7" fill="none" stroke="#000" stroke-width="2.0"/><line x1="1762.30" y1="580.0" x2="1762.30" y2="586.7" stroke="#000" stroke-width="2.0"/><text x="1762.30" y="609.0" font-size="18.4" text-anchor="middle">0</text><line x1="1866.58" y1="580.0" x2="1866.58" y2="586.7" stroke="#000" stroke-width="2.0"/><text x="1866.58" y="609.0" font-size="18.4" text-anchor="middle">20</text><line x1="1970.86" y1="580.0" x2="1970.86" y2="586.7" stroke="#000" stroke-width="2.0"/><text x="1970.86" y="609.0" font-size="18.4" text-anchor="middle">40</text><line x1="2075.14" y1="580.0" x2="2075.14" y2="586.7" stroke="#000" stroke-width="2.0"/><text x="2075.14" y="609.0" font-size="18.4" text-anchor="middle">60</text><line x1="2179.42" y1="580.0" x2="2179.42" y2="586.7" stroke="#000" stroke-width="2.0"/><text x="2179.42" y="609.0" font-size="18.4" text-anchor="middle">80</text><line x1="2283.70" y1="580.0" x2="2283.70" y2="586.7" stroke="#000" stroke-width="2.0"/><text x="2283.70" y="609.0" font-size="18.4" text-anchor="middle">100</text><line x1="2387.98" y1="580.0" x2="2387.98" y2="586.7" stroke="#000" stroke-width="2.0"/><text x="2387.98" y="609.0" font-size="18.4" text-anchor="middle">120</text><line x1="1726.9" y1="580.00" x2="1733.6" y2="580.00" stroke="#000" stroke-width="2.0"/><text x="1720.0" y="587.70" font-size="18.4" text-anchor="end">0.00</text><line x1="1726.9" y1="470.30" x2="1733.6" y2="470.30" stroke="#000" stroke-width="2.0"/><text x="1720.0" y="478.00" font-size="18.4" text-anchor="end">0.01</text><line x1="1726.9" y1="360.60" x2="1733.6" y2="360.60" stroke="#000" stroke-width="2.0"/><text x="1720.0" y="368.30" font-size="18.4" text-anchor="end">0.02</text><line x1="1726.9" y1="250.90" x2="1733.6" y2="250.90" stroke="#000" stroke-width="2.0"/><text x="1720.0" y="258.60" font-size="18.4" text-anchor="end">0.03</text><line x1="1726.9" y1="141.20" x2="1733.6" y2="141.20" stroke="#000" stroke-width="2.0"/><text x="1720.0" y="148.90" font-size="18.4" text-anchor="end">0.04</text><text x="2076.9" y="635.5" font-size="19.24" text-anchor="middle">Feature</text><text transform="translate(1665.6,324.6) rotate(-90)" font-size="19.24" text-anchor="middle">Importance</text><text x="2075.9" y="56.3" font-size="23.2" text-anchor="middle">Feature importance of 120-dimensional features of Sub 5</text></g>
<path d="M1769.4 579.6v-64.6h1.8v64.6zM1774.6 579.6v-49.3h1.8v49.3zM1779.8 579.6v-67.9h1.8v67.9zM1785.0 579.6v-47.1h1.8v47.1zM1790.2 579.6v-78.9h1.8v78.9zM1795.4 579.6v-32.8h1.8v32.8zM1800.7 579.6v-65.7h1.8v65.7zM1805.9 579.6v-60.2h1.8v60.2zM1816.3 579.6v-43.8h1.8v43.8zM1821.5 579.6v-50.4h1.8v50.4zM1826.7 579.6v-64.6h1.8v64.6zM1837.2 579.6v-49.3h1.8v49.3zM1842.4 579.6v-55.8h1.8v55.8zM1847.6 579.6v-51.5h1.8v51.5zM1852.8 579.6v-50.4h1.8v50.4zM1858.0 579.6v-31.7h1.8v31.7zM1863.2 579.6v-55.8h1.8v55.8zM1868.4 579.6v-111.8h1.8v111.8zM1873.7 579.6v-185.3h1.8v185.3zM1884.1 579.6v-53.6h1.8v53.6zM1889.3 579.6v-55.8h1.8v55.8zM1894.5 579.6v-55.8h1.8v55.8zM1899.7 579.6v-43.8h1.8v43.8zM1904.9 579.6v-166.6h1.8v166.6zM1910.2 579.6v-265.4h1.8v265.4zM1915.4 579.6v-348.7h1.8v348.7zM1920.6 579.6v-53.6h1.8v53.6zM1931.0 579.6v-74.5h1.8v74.5zM1936.2 579.6v-53.6h1.8v53.6zM1941.4 579.6v-92.0h1.8v92.0zM1951.9 579.6v-72.3h1.8v72.3zM1957.1 579.6v-105.2h1.8v105.2zM1962.3 579.6v-62.4h1.8v62.4zM1967.5 579.6v-130.4h1.8v130.4zM1972.7 579.6v-187.5h1.8v187.5zM1977.9 579.6v-166.6h1.8v166.6zM1983.2 579.6v-398.1h1.8v398.1zM1988.4 579.6v-81.1h1.8v81.1zM1998.8 579.6v-163.4h1.8v163.4zM2004.0 579.6v-185.3h1.8v185.3zM2009.2 579.6v-187.5h1.8v187.5zM2014.4 579.6v-221.5h1.8v221.5zM2019.6 579.6v-118.4h1.8v118.4zM2024.9 579.6v-312.5h1.8v312.5zM2030.1 579.6v-88.8h1.8v88.8zM2035.3 579.6v-142.5h1.8v142.5zM2045.7 579.6v-63.5h1.8v63.5zM2050.9 579.6v-88.8h1.8v88.8zM2056.1 579.6v-247.8h1.8v247.8zM2061.4 579.6v-485.9h1.8v485.9zM2066.6 579.6v-227.0h1.8v227.0zM2071.8 579.6v-410.2h1.8v410.2zM2077.0 579.6v-77.8h1.8v77.8zM2082.2 579.6v-24.0h1.8v24.0zM2087.4 579.6v-83.3h1.8v83.3zM2092.6 579.6v-51.5h1.8v51.5zM2097.9 579.6v-61.3h1.8v61.3zM2103.1 579.6v-93.1h1.8v93.1zM2113.5 579.6v-82.2h1.8v82.2zM2118.7 579.6v-43.8h1.8v43.8zM2123.9 579.6v-56.9h1.8v56.9zM2129.1 579.6v-55.8h1.8v55.8zM2134.4 579.6v-16.4h1.8v16.4zM2139.6 579.6v-42.7h1.8v42.7zM2144.8 579.6v-55.8h1.8v55.8zM2150.0 579.6v-39.4h1.8v39.4zM2160.4 579.6v-32.8h1.8v32.8zM2165.6 579.6v-28.4h1.8v28.4zM2170.9 579.6v-53.6h1.8v53.6zM2176.1 579.6v-37.2h1.8v37.2zM2181.3 579.6v-46.0h1.8v46.0zM2186.5 579.6v-64.6h1.8v64.6zM2191.7 579.6v-101.9h1.8v101.9zM2196.9 579.6v-56.9h1.8v56.9zM2207.4 579.6v-62.4h1.8v62.4zM2212.6 579.6v-106.3h1.8v106.3zM2217.8 579.6v-67.9h1.8v67.9zM2228.2 579.6v-67.9h1.8v67.9zM2233.4 579.6v-44.9h1.8v44.9zM2238.6 579.6v-42.7h1.8v42.7zM2243.9 579.6v-55.8h1.8v55.8zM2249.1 579.6v-62.4h1.8v62.4zM2254.3 579.6v-55.8h1.8v55.8zM2259.5 579.6v-88.8h1.8v88.8zM2264.7 579.6v-70.1h1.8v70.1zM2275.1 579.6v-35.0h1.8v35.0zM2280.3 579.6v-32.8h1.8v32.8zM2285.6 579.6v-56.9h1.8v56.9zM2290.8 579.6v-28.4h1.8v28.4zM2296.0 579.6v-83.3h1.8v83.3zM2301.2 579.6v-43.8h1.8v43.8zM2306.4 579.6v-16.4h1.8v16.4zM2311.6 579.6v-95.3h1.8v95.3zM2322.1 579.6v-81.1h1.8v81.1zM2327.3 579.6v-65.7h1.8v65.7zM2332.5 579.6v-42.7h1.8v42.7zM2342.9 579.6v-77.8h1.8v77.8zM2348.1 579.6v-84.4h1.8v84.4zM2353.3 579.6v-22.9h1.8v22.9zM2358.6 579.6v-43.8h1.8v43.8zM2363.8 579.6v-104.1h1.8v104.1zM2369.0 579.6v-43.8h1.8v43.8zM2374.2 579.6v-114.0h1.8v114.0zM2379.4 579.6v-30.6h1.8v30.6z" fill="#0062b0" opacity="0.55"/>
<path d="M1764.2 579.6v-32.8h1.8v32.8zM1811.1 579.6v-26.2h1.8v26.2zM1831.9 579.6v-60.2h1.8v60.2zM1878.9 579.6v-63.5h1.8v63.5zM1925.8 579.6v-43.8h1.8v43.8zM1946.7 579.6v-76.7h1.8v76.7zM1993.6 579.6v-105.2h1.8v105.2zM2040.5 579.6v-77.8h1.8v77.8zM2108.3 579.6v-101.9h1.8v101.9zM2155.2 579.6v-37.2h1.8v37.2zM2202.1 579.6v-78.9h1.8v78.9zM2223.0 579.6v-127.1h1.8v127.1zM2269.9 579.6v-67.9h1.8v67.9zM2316.8 579.6v-41.6h1.8v41.6zM2337.7 579.6v-62.4h1.8v62.4zM2384.6 579.6v-105.2h1.8v105.2z" fill="#6fa6c6" opacity="0.55"/>
<line x1="1762.30" y1="132.3" x2="1762.30" y2="544.0" stroke="#1a1a1a" stroke-width="2.0" stroke-dasharray="3.4 2.1"/>
<line x1="1924.46" y1="132.3" x2="1924.46" y2="544.0" stroke="#1a1a1a" stroke-width="2.0" stroke-dasharray="3.4 2.1"/>
<line x1="2078.27" y1="132.3" x2="2078.27" y2="544.0" stroke="#1a1a1a" stroke-width="2.0" stroke-dasharray="3.4 2.1"/>
<line x1="2237.30" y1="132.3" x2="2237.30" y2="544.0" stroke="#1a1a1a" stroke-width="2.0" stroke-dasharray="3.4 2.1"/>
<line x1="2386.42" y1="132.3" x2="2386.42" y2="544.0" stroke="#1a1a1a" stroke-width="2.0" stroke-dasharray="3.4 2.1"/>
<text x="1843.1" y="158.9" font-size="19.5" text-anchor="middle" textLength="62" class="bl" lengthAdjust="spacingAndGlyphs"><tspan font-style="italic">α</tspan> band</text>
<text x="2000.1" y="158.9" font-size="19.5" text-anchor="middle" textLength="62" class="bl" lengthAdjust="spacingAndGlyphs"><tspan font-style="italic">β</tspan> band</text>
<text x="2154.4" y="158.9" font-size="19.5" text-anchor="middle" textLength="62" class="bl" lengthAdjust="spacingAndGlyphs"><tspan font-style="italic">θ</tspan> band</text>
<text x="2313.9" y="158.9" font-size="19.5" text-anchor="middle" textLength="62" class="bl" lengthAdjust="spacingAndGlyphs"><tspan font-style="italic">δ</tspan> band</text>
</g>
<g filter="url(#b1)" class="bc">
<path d="M150.6 1239.4v-20.1h3.0v20.1zM155.8 1239.4v-11.6h3.0v11.6zM161.0 1239.4v-16.3h3.0v16.3zM166.2 1239.4v-27.1h3.0v27.1zM171.4 1239.4v-11.6h3.0v11.6zM176.6 1239.4v-42.6h3.0v42.6zM181.9 1239.4v-10.8h3.0v10.8zM187.1 1239.4v-31.8h3.0v31.8zM197.5 1239.4v-41.0h3.0v41.0zM202.7 1239.4v-20.1h3.0v20.1zM207.9 1239.4v-73.6h3.0v73.6zM218.4 1239.4v-20.1h3.0v20.1zM223.6 1239.4v-13.2h3.0v13.2zM228.8 1239.4v-110.8h3.0v110.8zM234.0 1239.4v-15.5h3.0v15.5zM239.2 1239.4v-24.0h3.0v24.0zM244.4 1239.4v-27.1h3.0v27.1zM249.6 1239.4v-73.6h3.0v73.6zM254.9 1239.4v-106.9h3.0v106.9zM265.3 1239.4v-23.2h3.0v23.2zM270.5 1239.4v-24.0h3.0v24.0zM275.7 1239.4v-24.0h3.0v24.0zM280.9 1239.4v-24.0h3.0v24.0zM286.1 1239.4v-6.2h3.0v6.2zM291.4 1239.4v-45.7h3.0v45.7zM296.6 1239.4v-45.7h3.0v45.7zM301.8 1239.4v-47.2h3.0v47.2zM312.2 1239.4v-52.7h3.0v52.7zM317.4 1239.4v-17.8h3.0v17.8zM322.6 1239.4v-31.8h3.0v31.8zM333.1 1239.4v-89.8h3.0v89.8zM338.3 1239.4v-325.3h3.0v325.3zM343.5 1239.4v-84.4h3.0v84.4zM348.7 1239.4v-170.4h3.0v170.4zM353.9 1239.4v-406.6h3.0v406.6zM359.1 1239.4v-306.7h3.0v306.7zM364.4 1239.4v-89.1h3.0v89.1zM369.6 1239.4v-132.4h3.0v132.4zM380.0 1239.4v-151.8h3.0v151.8zM385.2 1239.4v-350.1h3.0v350.1zM390.4 1239.4v-222.3h3.0v222.3zM395.6 1239.4v-80.5h3.0v80.5zM400.8 1239.4v-20.1h3.0v20.1zM406.1 1239.4v-44.9h3.0v44.9zM411.3 1239.4v-90.6h3.0v90.6zM416.5 1239.4v-464.7h3.0v464.7zM426.9 1239.4v-67.4h3.0v67.4zM432.1 1239.4v-74.4h3.0v74.4zM437.3 1239.4v-487.2h3.0v487.2zM442.6 1239.4v-308.3h3.0v308.3zM447.8 1239.4v-447.7h3.0v447.7zM453.0 1239.4v-386.5h3.0v386.5zM458.2 1239.4v-38.7h3.0v38.7zM463.4 1239.4v-24.0h3.0v24.0zM468.6 1239.4v-37.2h3.0v37.2zM473.8 1239.4v-46.5h3.0v46.5zM479.1 1239.4v-44.9h3.0v44.9zM484.3 1239.4v-32.5h3.0v32.5zM494.7 1239.4v-26.3h3.0v26.3zM499.9 1239.4v-17.8h3.0v17.8zM505.1 1239.4v-15.5h3.0v15.5zM510.3 1239.4v-20.9h3.0v20.9zM515.6 1239.4v-9.3h3.0v9.3zM520.8 1239.4v-62.0h3.0v62.0zM526.0 1239.4v-23.2h3.0v23.2zM531.2 1239.4v-33.3h3.0v33.3zM541.6 1239.4v-10.8h3.0v10.8zM546.8 1239.4v-27.9h3.0v27.9zM552.1 1239.4v-15.5h3.0v15.5zM557.3 1239.4v-21.7h3.0v21.7zM562.5 1239.4v-34.1h3.0v34.1zM567.7 1239.4v-23.2h3.0v23.2zM572.9 1239.4v-20.1h3.0v20.1zM578.1 1239.4v-35.6h3.0v35.6zM588.6 1239.4v-38.0h3.0v38.0zM593.8 1239.4v-20.9h3.0v20.9zM599.0 1239.4v-27.9h3.0v27.9zM609.4 1239.4v-28.7h3.0v28.7zM614.6 1239.4v-21.7h3.0v21.7zM619.8 1239.4v-19.4h3.0v19.4zM625.1 1239.4v-10.1h3.0v10.1zM630.3 1239.4v-32.5h3.0v32.5zM635.5 1239.4v-13.2h3.0v13.2zM640.7 1239.4v-28.7h3.0v28.7zM645.9 1239.4v-32.5h3.0v32.5zM656.3 1239.4v-19.4h3.0v19.4zM661.5 1239.4v-7.0h3.0v7.0zM666.8 1239.4v-15.5h3.0v15.5zM672.0 1239.4v-42.6h3.0v42.6zM677.2 1239.4v-32.5h3.0v32.5zM682.4 1239.4v-31.8h3.0v31.8zM687.6 1239.4v-20.9h3.0v20.9zM692.8 1239.4v-12.4h3.0v12.4zM703.3 1239.4v-16.3h3.0v16.3zM708.5 1239.4v-8.5h3.0v8.5zM713.7 1239.4v-9.3h3.0v9.3zM724.1 1239.4v-20.9h3.0v20.9zM729.3 1239.4v-26.3h3.0v26.3zM734.5 1239.4v-32.5h3.0v32.5zM739.8 1239.4v-34.1h3.0v34.1zM745.0 1239.4v-31.8h3.0v31.8zM750.2 1239.4v-28.7h3.0v28.7zM755.4 1239.4v-34.1h3.0v34.1zM760.6 1239.4v-21.7h3.0v21.7z" fill="#0062b0"/>
<path d="M145.4 1239.4v-32.5h3.0v32.5zM192.3 1239.4v-20.1h3.0v20.1zM213.1 1239.4v-48.0h3.0v48.0zM260.1 1239.4v-34.9h3.0v34.9zM307.0 1239.4v-13.2h3.0v13.2zM327.9 1239.4v-18.6h3.0v18.6zM374.8 1239.4v-41.0h3.0v41.0zM421.7 1239.4v-125.5h3.0v125.5zM489.5 1239.4v-23.2h3.0v23.2zM536.4 1239.4v-7.0h3.0v7.0zM583.3 1239.4v-23.2h3.0v23.2zM604.2 1239.4v-9.3h3.0v9.3zM651.1 1239.4v-10.8h3.0v10.8zM698.0 1239.4v-12.4h3.0v12.4zM718.9 1239.4v-23.2h3.0v23.2zM765.8 1239.4v-52.7h3.0v52.7z" fill="#6fa6c6"/>
<rect x="115.4" y="728.7" width="686.7" height="510.7" fill="none" stroke="#000" stroke-width="2.0"/>
<line x1="144.10" y1="1239.4" x2="144.10" y2="1246.1" stroke="#000" stroke-width="2.0"/>
<text x="144.10" y="1268.4" font-size="18.4" text-anchor="middle">0</text>
<line x1="248.38" y1="1239.4" x2="248.38" y2="1246.1" stroke="#000" stroke-width="2.0"/>
<text x="248.38" y="1268.4" font-size="18.4" text-anchor="middle">20</text>
<line x1="352.66" y1="1239.4" x2="352.66" y2="1246.1" stroke="#000" stroke-width="2.0"/>
<text x="352.66" y="1268.4" font-size="18.4" text-anchor="middle">40</text>
<line x1="456.94" y1="1239.4" x2="456.94" y2="1246.1" stroke="#000" stroke-width="2.0"/>
<text x="456.94" y="1268.4" font-size="18.4" text-anchor="middle">60</text>
<line x1="561.22" y1="1239.4" x2="561.22" y2="1246.1" stroke="#000" stroke-width="2.0"/>
<text x="561.22" y="1268.4" font-size="18.4" text-anchor="middle">80</text>
<line x1="665.50" y1="1239.4" x2="665.50" y2="1246.1" stroke="#000" stroke-width="2.0"/>
<text x="665.50" y="1268.4" font-size="18.4" text-anchor="middle">100</text>
<line x1="769.78" y1="1239.4" x2="769.78" y2="1246.1" stroke="#000" stroke-width="2.0"/>
<text x="769.78" y="1268.4" font-size="18.4" text-anchor="middle">120</text>
<line x1="108.7" y1="1239.40" x2="115.4" y2="1239.40" stroke="#000" stroke-width="2.0"/>
<text x="101.8" y="1247.10" font-size="18.4" text-anchor="end">0.00</text>
<line x1="108.7" y1="1161.95" x2="115.4" y2="1161.95" stroke="#000" stroke-width="2.0"/>
<text x="101.8" y="1169.65" font-size="18.4" text-anchor="end">0.01</text>
<line x1="108.7" y1="1084.50" x2="115.4" y2="1084.50" stroke="#000" stroke-width="2.0"/>
<text x="101.8" y="1092.20" font-size="18.4" text-anchor="end">0.02</text>
<line x1="108.7" y1="1007.05" x2="115.4" y2="1007.05" stroke="#000" stroke-width="2.0"/>
<text x="101.8" y="1014.75" font-size="18.4" text-anchor="end">0.03</text>
<line x1="108.7" y1="929.60" x2="115.4" y2="929.60" stroke="#000" stroke-width="2.0"/>
<text x="101.8" y="937.30" font-size="18.4" text-anchor="end">0.04</text>
<line x1="108.7" y1="852.15" x2="115.4" y2="852.15" stroke="#000" stroke-width="2.0"/>
<text x="101.8" y="859.85" font-size="18.4" text-anchor="end">0.05</text>
<line x1="108.7" y1="774.70" x2="115.4" y2="774.70" stroke="#000" stroke-width="2.0"/>
<text x="101.8" y="782.40" font-size="18.4" text-anchor="end">0.06</text>
<text x="458.8" y="1294.9" font-size="19.24" text-anchor="middle">Feature</text>
<text transform="translate(47.4,984.1) rotate(-90)" font-size="19.24" text-anchor="middle">Importance</text>
<text x="457.8" y="715.7" font-size="23.2" text-anchor="middle">Feature importance of 120-dimensional features of Sub 6</text>
</g><g class="bc">
<g class="tc" opacity="0.4"><rect x="115.4" y="728.7" width="686.7" height="510.7" fill="none" stroke="#000" stroke-width="2.0"/><line x1="144.10" y1="1239.4" x2="144.10" y2="1246.1" stroke="#000" stroke-width="2.0"/><text x="144.10" y="1268.4" font-size="18.4" text-anchor="middle">0</text><line x1="248.38" y1="1239.4" x2="248.38" y2="1246.1" stroke="#000" stroke-width="2.0"/><text x="248.38" y="1268.4" font-size="18.4" text-anchor="middle">20</text><line x1="352.66" y1="1239.4" x2="352.66" y2="1246.1" stroke="#000" stroke-width="2.0"/><text x="352.66" y="1268.4" font-size="18.4" text-anchor="middle">40</text><line x1="456.94" y1="1239.4" x2="456.94" y2="1246.1" stroke="#000" stroke-width="2.0"/><text x="456.94" y="1268.4" font-size="18.4" text-anchor="middle">60</text><line x1="561.22" y1="1239.4" x2="561.22" y2="1246.1" stroke="#000" stroke-width="2.0"/><text x="561.22" y="1268.4" font-size="18.4" text-anchor="middle">80</text><line x1="665.50" y1="1239.4" x2="665.50" y2="1246.1" stroke="#000" stroke-width="2.0"/><text x="665.50" y="1268.4" font-size="18.4" text-anchor="middle">100</text><line x1="769.78" y1="1239.4" x2="769.78" y2="1246.1" stroke="#000" stroke-width="2.0"/><text x="769.78" y="1268.4" font-size="18.4" text-anchor="middle">120</text><line x1="108.7" y1="1239.40" x2="115.4" y2="1239.40" stroke="#000" stroke-width="2.0"/><text x="101.8" y="1247.10" font-size="18.4" text-anchor="end">0.00</text><line x1="108.7" y1="1161.95" x2="115.4" y2="1161.95" stroke="#000" stroke-width="2.0"/><text x="101.8" y="1169.65" font-size="18.4" text-anchor="end">0.01</text><line x1="108.7" y1="1084.50" x2="115.4" y2="1084.50" stroke="#000" stroke-width="2.0"/><text x="101.8" y="1092.20" font-size="18.4" text-anchor="end">0.02</text><line x1="108.7" y1="1007.05" x2="115.4" y2="1007.05" stroke="#000" stroke-width="2.0"/><text x="101.8" y="1014.75" font-size="18.4" text-anchor="end">0.03</text><line x1="108.7" y1="929.60" x2="115.4" y2="929.60" stroke="#000" stroke-width="2.0"/><text x="101.8" y="937.30" font-size="18.4" text-anchor="end">0.04</text><line x1="108.7" y1="852.15" x2="115.4" y2="852.15" stroke="#000" stroke-width="2.0"/><text x="101.8" y="859.85" font-size="18.4" text-anchor="end">0.05</text><line x1="108.7" y1="774.70" x2="115.4" y2="774.70" stroke="#000" stroke-width="2.0"/><text x="101.8" y="782.40" font-size="18.4" text-anchor="end">0.06</text><text x="458.8" y="1294.9" font-size="19.24" text-anchor="middle">Feature</text><text transform="translate(47.4,984.1) rotate(-90)" font-size="19.24" text-anchor="middle">Importance</text><text x="457.8" y="715.7" font-size="23.2" text-anchor="middle">Feature importance of 120-dimensional features of Sub 6</text></g>
<path d="M151.2 1239.0v-18.9h1.8v18.9zM156.4 1239.0v-10.4h1.8v10.4zM161.6 1239.0v-15.1h1.8v15.1zM166.8 1239.0v-25.9h1.8v25.9zM172.0 1239.0v-10.4h1.8v10.4zM177.2 1239.0v-41.4h1.8v41.4zM182.5 1239.0v-9.6h1.8v9.6zM187.7 1239.0v-30.6h1.8v30.6zM198.1 1239.0v-39.8h1.8v39.8zM203.3 1239.0v-18.9h1.8v18.9zM208.5 1239.0v-72.4h1.8v72.4zM219.0 1239.0v-18.9h1.8v18.9zM224.2 1239.0v-12.0h1.8v12.0zM229.4 1239.0v-109.6h1.8v109.6zM234.6 1239.0v-14.3h1.8v14.3zM239.8 1239.0v-22.8h1.8v22.8zM245.0 1239.0v-25.9h1.8v25.9zM250.2 1239.0v-72.4h1.8v72.4zM255.5 1239.0v-105.7h1.8v105.7zM265.9 1239.0v-22.0h1.8v22.0zM271.1 1239.0v-22.8h1.8v22.8zM276.3 1239.0v-22.8h1.8v22.8zM281.5 1239.0v-22.8h1.8v22.8zM286.7 1239.0v-5.0h1.8v5.0zM292.0 1239.0v-44.5h1.8v44.5zM297.2 1239.0v-44.5h1.8v44.5zM302.4 1239.0v-46.0h1.8v46.0zM312.8 1239.0v-51.5h1.8v51.5zM318.0 1239.0v-16.6h1.8v16.6zM323.2 1239.0v-30.6h1.8v30.6zM333.7 1239.0v-88.6h1.8v88.6zM338.9 1239.0v-324.1h1.8v324.1zM344.1 1239.0v-83.2h1.8v83.2zM349.3 1239.0v-169.2h1.8v169.2zM354.5 1239.0v-405.4h1.8v405.4zM359.7 1239.0v-305.5h1.8v305.5zM365.0 1239.0v-87.9h1.8v87.9zM370.2 1239.0v-131.2h1.8v131.2zM380.6 1239.0v-150.6h1.8v150.6zM385.8 1239.0v-348.9h1.8v348.9zM391.0 1239.0v-221.1h1.8v221.1zM396.2 1239.0v-79.3h1.8v79.3zM401.4 1239.0v-18.9h1.8v18.9zM406.7 1239.0v-43.7h1.8v43.7zM411.9 1239.0v-89.4h1.8v89.4zM417.1 1239.0v-463.5h1.8v463.5zM427.5 1239.0v-66.2h1.8v66.2zM432.7 1239.0v-73.2h1.8v73.2zM437.9 1239.0v-486.0h1.8v486.0zM443.2 1239.0v-307.1h1.8v307.1zM448.4 1239.0v-446.5h1.8v446.5zM453.6 1239.0v-385.3h1.8v385.3zM458.8 1239.0v-37.5h1.8v37.5zM464.0 1239.0v-22.8h1.8v22.8zM469.2 1239.0v-36.0h1.8v36.0zM474.4 1239.0v-45.3h1.8v45.3zM479.7 1239.0v-43.7h1.8v43.7zM484.9 1239.0v-31.3h1.8v31.3zM495.3 1239.0v-25.1h1.8v25.1zM500.5 1239.0v-16.6h1.8v16.6zM505.7 1239.0v-14.3h1.8v14.3zM510.9 1239.0v-19.7h1.8v19.7zM516.2 1239.0v-8.1h1.8v8.1zM521.4 1239.0v-60.8h1.8v60.8zM526.6 1239.0v-22.0h1.8v22.0zM531.8 1239.0v-32.1h1.8v32.1zM542.2 1239.0v-9.6h1.8v9.6zM547.4 1239.0v-26.7h1.8v26.7zM552.7 1239.0v-14.3h1.8v14.3zM557.9 1239.0v-20.5h1.8v20.5zM563.1 1239.0v-32.9h1.8v32.9zM568.3 1239.0v-22.0h1.8v22.0zM573.5 1239.0v-18.9h1.8v18.9zM578.7 1239.0v-34.4h1.8v34.4zM589.2 1239.0v-36.8h1.8v36.8zM594.4 1239.0v-19.7h1.8v19.7zM599.6 1239.0v-26.7h1.8v26.7zM610.0 1239.0v-27.5h1.8v27.5zM615.2 1239.0v-20.5h1.8v20.5zM620.4 1239.0v-18.2h1.8v18.2zM625.7 1239.0v-8.9h1.8v8.9zM630.9 1239.0v-31.3h1.8v31.3zM636.1 1239.0v-12.0h1.8v12.0zM641.3 1239.0v-27.5h1.8v27.5zM646.5 1239.0v-31.3h1.8v31.3zM656.9 1239.0v-18.2h1.8v18.2zM662.1 1239.0v-5.8h1.8v5.8zM667.4 1239.0v-14.3h1.8v14.3zM672.6 1239.0v-41.4h1.8v41.4zM677.8 1239.0v-31.3h1.8v31.3zM683.0 1239.0v-30.6h1.8v30.6zM688.2 1239.0v-19.7h1.8v19.7zM693.4 1239.0v-11.2h1.8v11.2zM703.9 1239.0v-15.1h1.8v15.1zM709.1 1239.0v-7.3h1.8v7.3zM714.3 1239.0v-8.1h1.8v8.1zM724.7 1239.0v-19.7h1.8v19.7zM729.9 1239.0v-25.1h1.8v25.1zM735.1 1239.0v-31.3h1.8v31.3zM740.4 1239.0v-32.9h1.8v32.9zM745.6 1239.0v-30.6h1.8v30.6zM750.8 1239.0v-27.5h1.8v27.5zM756.0 1239.0v-32.9h1.8v32.9zM761.2 1239.0v-20.5h1.8v20.5z" fill="#0062b0" opacity="0.55"/>
<path d="M146.0 1239.0v-31.3h1.8v31.3zM192.9 1239.0v-18.9h1.8v18.9zM213.7 1239.0v-46.8h1.8v46.8zM260.7 1239.0v-33.7h1.8v33.7zM307.6 1239.0v-12.0h1.8v12.0zM328.5 1239.0v-17.4h1.8v17.4zM375.4 1239.0v-39.8h1.8v39.8zM422.3 1239.0v-124.3h1.8v124.3zM490.1 1239.0v-22.0h1.8v22.0zM537.0 1239.0v-5.8h1.8v5.8zM583.9 1239.0v-22.0h1.8v22.0zM604.8 1239.0v-8.1h1.8v8.1zM651.7 1239.0v-9.6h1.8v9.6zM698.6 1239.0v-11.2h1.8v11.2zM719.5 1239.0v-22.0h1.8v22.0zM766.4 1239.0v-51.5h1.8v51.5z" fill="#6fa6c6" opacity="0.55"/>
<line x1="144.10" y1="791.7" x2="144.10" y2="1203.4" stroke="#1a1a1a" stroke-width="2.0" stroke-dasharray="3.4 2.1"/>
<line x1="306.26" y1="791.7" x2="306.26" y2="1203.4" stroke="#1a1a1a" stroke-width="2.0" stroke-dasharray="3.4 2.1"/>
<line x1="460.07" y1="791.7" x2="460.07" y2="1203.4" stroke="#1a1a1a" stroke-width="2.0" stroke-dasharray="3.4 2.1"/>
<line x1="619.10" y1="791.7" x2="619.10" y2="1203.4" stroke="#1a1a1a" stroke-width="2.0" stroke-dasharray="3.4 2.1"/>
<line x1="768.22" y1="791.7" x2="768.22" y2="1203.4" stroke="#1a1a1a" stroke-width="2.0" stroke-dasharray="3.4 2.1"/>
<text x="224.9" y="818.3" font-size="19.5" text-anchor="middle" textLength="62" class="bl" lengthAdjust="spacingAndGlyphs"><tspan font-style="italic">α</tspan> band</text>
<text x="381.9" y="818.3" font-size="19.5" text-anchor="middle" textLength="62" class="bl" lengthAdjust="spacingAndGlyphs"><tspan font-style="italic">β</tspan> band</text>
<text x="536.2" y="818.3" font-size="19.5" text-anchor="middle" textLength="62" class="bl" lengthAdjust="spacingAndGlyphs"><tspan font-style="italic">θ</tspan> band</text>
<text x="695.7" y="818.3" font-size="19.5" text-anchor="middle" textLength="62" class="bl" lengthAdjust="spacingAndGlyphs"><tspan font-style="italic">δ</tspan> band</text>
</g>
<g filter="url(#b1)" class="bc">
<path d="M965.5 1238.8v-12.2h3.0v12.2zM970.7 1238.8v-28.0h3.0v28.0zM975.9 1238.8v-14.6h3.0v14.6zM981.1 1238.8v-17.6h3.0v17.6zM986.3 1238.8v-37.1h3.0v37.1zM991.5 1238.8v-33.5h3.0v33.5zM996.8 1238.8v-14.0h3.0v14.0zM1002.0 1238.8v-22.5h3.0v22.5zM1012.4 1238.8v-38.9h3.0v38.9zM1017.6 1238.8v-20.1h3.0v20.1zM1022.8 1238.8v-9.1h3.0v9.1zM1033.3 1238.8v-20.1h3.0v20.1zM1038.5 1238.8v-12.2h3.0v12.2zM1043.7 1238.8v-31.6h3.0v31.6zM1048.9 1238.8v-33.5h3.0v33.5zM1054.1 1238.8v-26.2h3.0v26.2zM1059.3 1238.8v-7.9h3.0v7.9zM1064.5 1238.8v-12.2h3.0v12.2zM1069.8 1238.8v-52.3h3.0v52.3zM1080.2 1238.8v-33.5h3.0v33.5zM1085.4 1238.8v-19.5h3.0v19.5zM1090.6 1238.8v-26.2h3.0v26.2zM1095.8 1238.8v-20.1h3.0v20.1zM1101.0 1238.8v-34.7h3.0v34.7zM1106.3 1238.8v-19.5h3.0v19.5zM1111.5 1238.8v-24.9h3.0v24.9zM1116.7 1238.8v-245.8h3.0v245.8zM1127.1 1238.8v-77.3h3.0v77.3zM1132.3 1238.8v-12.2h3.0v12.2zM1137.5 1238.8v-24.9h3.0v24.9zM1148.0 1238.8v-35.9h3.0v35.9zM1153.2 1238.8v-358.9h3.0v358.9zM1158.4 1238.8v-27.4h3.0v27.4zM1163.6 1238.8v-108.9h3.0v108.9zM1168.8 1238.8v-149.6h3.0v149.6zM1174.0 1238.8v-38.9h3.0v38.9zM1179.3 1238.8v-156.9h3.0v156.9zM1184.5 1238.8v-93.7h3.0v93.7zM1194.9 1238.8v-163.0h3.0v163.0zM1200.1 1238.8v-149.6h3.0v149.6zM1205.3 1238.8v-488.5h3.0v488.5zM1210.5 1238.8v-447.7h3.0v447.7zM1215.7 1238.8v-21.9h3.0v21.9zM1221.0 1238.8v-27.4h3.0v27.4zM1226.2 1238.8v-223.2h3.0v223.2zM1231.4 1238.8v-239.1h3.0v239.1zM1241.8 1238.8v-24.9h3.0v24.9zM1247.0 1238.8v-23.1h3.0v23.1zM1252.2 1238.8v-37.1h3.0v37.1zM1257.5 1238.8v-48.7h3.0v48.7zM1262.7 1238.8v-108.3h3.0v108.3zM1267.9 1238.8v-35.9h3.0v35.9zM1273.1 1238.8v-31.0h3.0v31.0zM1278.3 1238.8v-34.7h3.0v34.7zM1283.5 1238.8v-15.2h3.0v15.2zM1288.7 1238.8v-12.2h3.0v12.2zM1294.0 1238.8v-29.2h3.0v29.2zM1299.2 1238.8v-10.3h3.0v10.3zM1309.6 1238.8v-35.9h3.0v35.9zM1314.8 1238.8v-6.7h3.0v6.7zM1320.0 1238.8v-21.3h3.0v21.3zM1325.2 1238.8v-18.2h3.0v18.2zM1330.5 1238.8v-31.0h3.0v31.0zM1335.7 1238.8v-34.1h3.0v34.1zM1340.9 1238.8v-21.3h3.0v21.3zM1346.1 1238.8v-15.2h3.0v15.2zM1356.5 1238.8v-23.1h3.0v23.1zM1361.7 1238.8v-23.1h3.0v23.1zM1367.0 1238.8v-25.5h3.0v25.5zM1372.2 1238.8v-14.0h3.0v14.0zM1377.4 1238.8v-23.7h3.0v23.7zM1382.6 1238.8v-19.5h3.0v19.5zM1387.8 1238.8v-23.1h3.0v23.1zM1393.0 1238.8v-27.4h3.0v27.4zM1403.5 1238.8v-27.4h3.0v27.4zM1408.7 1238.8v-12.8h3.0v12.8zM1413.9 1238.8v-28.6h3.0v28.6zM1424.3 1238.8v-27.4h3.0v27.4zM1429.5 1238.8v-17.0h3.0v17.0zM1434.7 1238.8v-49.3h3.0v49.3zM1440.0 1238.8v-15.2h3.0v15.2zM1445.2 1238.8v-29.2h3.0v29.2zM1450.4 1238.8v-34.1h3.0v34.1zM1455.6 1238.8v-26.8h3.0v26.8zM1460.8 1238.8v-46.2h3.0v46.2zM1471.2 1238.8v-31.6h3.0v31.6zM1476.4 1238.8v-37.7h3.0v37.7zM1481.7 1238.8v-12.8h3.0v12.8zM1486.9 1238.8v-25.5h3.0v25.5zM1492.1 1238.8v-23.7h3.0v23.7zM1497.3 1238.8v-19.5h3.0v19.5zM1502.5 1238.8v-23.7h3.0v23.7zM1507.7 1238.8v-27.4h3.0v27.4zM1518.2 1238.8v-31.0h3.0v31.0zM1523.4 1238.8v-6.7h3.0v6.7zM1528.6 1238.8v-31.0h3.0v31.0zM1539.0 1238.8v-28.6h3.0v28.6zM1544.2 1238.8v-25.5h3.0v25.5zM1549.4 1238.8v-29.2h3.0v29.2zM1554.7 1238.8v-26.8h3.0v26.8zM1559.9 1238.8v-49.3h3.0v49.3zM1565.1 1238.8v-17.0h3.0v17.0zM1570.3 1238.8v-18.2h3.0v18.2zM1575.5 1238.8v-48.1h3.0v48.1z" fill="#0062b0"/>
<path d="M960.3 1238.8v-16.4h3.0v16.4zM1007.2 1238.8v-17.6h3.0v17.6zM1028.0 1238.8v-56.0h3.0v56.0zM1075.0 1238.8v-33.5h3.0v33.5zM1121.9 1238.8v-238.5h3.0v238.5zM1142.8 1238.8v-26.8h3.0v26.8zM1189.7 1238.8v-46.8h3.0v46.8zM1236.6 1238.8v-79.7h3.0v79.7zM1304.4 1238.8v-42.0h3.0v42.0zM1351.3 1238.8v-16.4h3.0v16.4zM1398.2 1238.8v-16.4h3.0v16.4zM1419.1 1238.8v-28.6h3.0v28.6zM1466.0 1238.8v-37.7h3.0v37.7zM1512.9 1238.8v-19.5h3.0v19.5zM1533.8 1238.8v-48.7h3.0v48.7zM1580.7 1238.8v-18.2h3.0v18.2z" fill="#6fa6c6"/>
<rect x="930.3" y="728.1" width="686.7" height="510.7" fill="none" stroke="#000" stroke-width="2.0"/>
<line x1="959.00" y1="1238.8" x2="959.00" y2="1245.5" stroke="#000" stroke-width="2.0"/>
<text x="959.00" y="1267.8" font-size="18.4" text-anchor="middle">0</text>
<line x1="1063.28" y1="1238.8" x2="1063.28" y2="1245.5" stroke="#000" stroke-width="2.0"/>
<text x="1063.28" y="1267.8" font-size="18.4" text-anchor="middle">20</text>
<line x1="1167.56" y1="1238.8" x2="1167.56" y2="1245.5" stroke="#000" stroke-width="2.0"/>
<text x="1167.56" y="1267.8" font-size="18.4" text-anchor="middle">40</text>
<line x1="1271.84" y1="1238.8" x2="1271.84" y2="1245.5" stroke="#000" stroke-width="2.0"/>
<text x="1271.84" y="1267.8" font-size="18.4" text-anchor="middle">60</text>
<line x1="1376.12" y1="1238.8" x2="1376.12" y2="1245.5" stroke="#000" stroke-width="2.0"/>
<text x="1376.12" y="1267.8" font-size="18.4" text-anchor="middle">80</text>
<line x1="1480.40" y1="1238.8" x2="1480.40" y2="1245.5" stroke="#000" stroke-width="2.0"/>
<text x="1480.40" y="1267.8" font-size="18.4" text-anchor="middle">100</text>
<line x1="1584.68" y1="1238.8" x2="1584.68" y2="1245.5" stroke="#000" stroke-width="2.0"/>
<text x="1584.68" y="1267.8" font-size="18.4" text-anchor="middle">120</text>
<line x1="923.6" y1="1238.80" x2="930.3" y2="1238.80" stroke="#000" stroke-width="2.0"/>
<text x="916.7" y="1246.50" font-size="18.4" text-anchor="end">0.00</text>
<line x1="923.6" y1="1177.97" x2="930.3" y2="1177.97" stroke="#000" stroke-width="2.0"/>
<text x="916.7" y="1185.67" font-size="18.4" text-anchor="end">0.01</text>
<line x1="923.6" y1="1117.14" x2="930.3" y2="1117.14" stroke="#000" stroke-width="2.0"/>
<text x="916.7" y="1124.84" font-size="18.4" text-anchor="end">0.02</text>
<line x1="923.6" y1="1056.31" x2="930.3" y2="1056.31" stroke="#000" stroke-width="2.0"/>
<text x="916.7" y="1064.01" font-size="18.4" text-anchor="end">0.03</text>
<line x1="923.6" y1="995.48" x2="930.3" y2="995.48" stroke="#000" stroke-width="2.0"/>
<text x="916.7" y="1003.18" font-size="18.4" text-anchor="end">0.04</text>
<line x1="923.6" y1="934.65" x2="930.3" y2="934.65" stroke="#000" stroke-width="2.0"/>
<text x="916.7" y="942.35" font-size="18.4" text-anchor="end">0.05</text>
<line x1="923.6" y1="873.82" x2="930.3" y2="873.82" stroke="#000" stroke-width="2.0"/>
<text x="916.7" y="881.52" font-size="18.4" text-anchor="end">0.06</text>
<line x1="923.6" y1="812.99" x2="930.3" y2="812.99" stroke="#000" stroke-width="2.0"/>
<text x="916.7" y="820.69" font-size="18.4" text-anchor="end">0.07</text>
<line x1="923.6" y1="752.16" x2="930.3" y2="752.16" stroke="#000" stroke-width="2.0"/>
<text x="916.7" y="759.86" font-size="18.4" text-anchor="end">0.08</text>
<text x="1273.7" y="1294.3" font-size="19.24" text-anchor="middle">Feature</text>
<text transform="translate(862.3,983.4) rotate(-90)" font-size="19.24" text-anchor="middle">Importance</text>
<text x="1272.7" y="715.1" font-size="23.2" text-anchor="middle">Feature importance of 120-dimensional features of Sub 7</text>
</g><g class="bc">
<g class="tc" opacity="0.4"><rect x="930.3" y="728.1" width="686.7" height="510.7" fill="none" stroke="#000" stroke-width="2.0"/><line x1="959.00" y1="1238.8" x2="959.00" y2="1245.5" stroke="#000" stroke-width="2.0"/><text x="959.00" y="1267.8" font-size="18.4" text-anchor="middle">0</text><line x1="1063.28" y1="1238.8" x2="1063.28" y2="1245.5" stroke="#000" stroke-width="2.0"/><text x="1063.28" y="1267.8" font-size="18.4" text-anchor="middle">20</text><line x1="1167.56" y1="1238.8" x2="1167.56" y2="1245.5" stroke="#000" stroke-width="2.0"/><text x="1167.56" y="1267.8" font-size="18.4" text-anchor="middle">40</text><line x1="1271.84" y1="1238.8" x2="1271.84" y2="1245.5" stroke="#000" stroke-width="2.0"/><text x="1271.84" y="1267.8" font-size="18.4" text-anchor="middle">60</text><line x1="1376.12" y1="1238.8" x2="1376.12" y2="1245.5" stroke="#000" stroke-width="2.0"/><text x="1376.12" y="1267.8" font-size="18.4" text-anchor="middle">80</text><line x1="1480.40" y1="1238.8" x2="1480.40" y2="1245.5" stroke="#000" stroke-width="2.0"/><text x="1480.40" y="1267.8" font-size="18.4" text-anchor="middle">100</text><line x1="1584.68" y1="1238.8" x2="1584.68" y2="1245.5" stroke="#000" stroke-width="2.0"/><text x="1584.68" y="1267.8" font-size="18.4" text-anchor="middle">120</text><line x1="923.6" y1="1238.80" x2="930.3" y2="1238.80" stroke="#000" stroke-width="2.0"/><text x="916.7" y="1246.50" font-size="18.4" text-anchor="end">0.00</text><line x1="923.6" y1="1177.97" x2="930.3" y2="1177.97" stroke="#000" stroke-width="2.0"/><text x="916.7" y="1185.67" font-size="18.4" text-anchor="end">0.01</text><line x1="923.6" y1="1117.14" x2="930.3" y2="1117.14" stroke="#000" stroke-width="2.0"/><text x="916.7" y="1124.84" font-size="18.4" text-anchor="end">0.02</text><line x1="923.6" y1="1056.31" x2="930.3" y2="1056.31" stroke="#000" stroke-width="2.0"/><text x="916.7" y="1064.01" font-size="18.4" text-anchor="end">0.03</text><line x1="923.6" y1="995.48" x2="930.3" y2="995.48" stroke="#000" stroke-width="2.0"/><text x="916.7" y="1003.18" font-size="18.4" text-anchor="end">0.04</text><line x1="923.6" y1="934.65" x2="930.3" y2="934.65" stroke="#000" stroke-width="2.0"/><text x="916.7" y="942.35" font-size="18.4" text-anchor="end">0.05</text><line x1="923.6" y1="873.82" x2="930.3" y2="873.82" stroke="#000" stroke-width="2.0"/><text x="916.7" y="881.52" font-size="18.4" text-anchor="end">0.06</text><line x1="923.6" y1="812.99" x2="930.3" y2="812.99" stroke="#000" stroke-width="2.0"/><text x="916.7" y="820.69" font-size="18.4" text-anchor="end">0.07</text><line x1="923.6" y1="752.16" x2="930.3" y2="752.16" stroke="#000" stroke-width="2.0"/><text x="916.7" y="759.86" font-size="18.4" text-anchor="end">0.08</text><text x="1273.7" y="1294.3" font-size="19.24" text-anchor="middle">Feature</text><text transform="translate(862.3,983.4) rotate(-90)" font-size="19.24" text-anchor="middle">Importance</text><text x="1272.7" y="715.1" font-size="23.2" text-anchor="middle">Feature importance of 120-dimensional features of Sub 7</text></g>
<path d="M966.1 1238.4v-11.0h1.8v11.0zM971.3 1238.4v-26.8h1.8v26.8zM976.5 1238.4v-13.4h1.8v13.4zM981.7 1238.4v-16.4h1.8v16.4zM986.9 1238.4v-35.9h1.8v35.9zM992.1 1238.4v-32.3h1.8v32.3zM997.4 1238.4v-12.8h1.8v12.8zM1002.6 1238.4v-21.3h1.8v21.3zM1013.0 1238.4v-37.7h1.8v37.7zM1018.2 1238.4v-18.9h1.8v18.9zM1023.4 1238.4v-7.9h1.8v7.9zM1033.9 1238.4v-18.9h1.8v18.9zM1039.1 1238.4v-11.0h1.8v11.0zM1044.3 1238.4v-30.4h1.8v30.4zM1049.5 1238.4v-32.3h1.8v32.3zM1054.7 1238.4v-25.0h1.8v25.0zM1059.9 1238.4v-6.7h1.8v6.7zM1065.1 1238.4v-11.0h1.8v11.0zM1070.4 1238.4v-51.1h1.8v51.1zM1080.8 1238.4v-32.3h1.8v32.3zM1086.0 1238.4v-18.3h1.8v18.3zM1091.2 1238.4v-25.0h1.8v25.0zM1096.4 1238.4v-18.9h1.8v18.9zM1101.6 1238.4v-33.5h1.8v33.5zM1106.9 1238.4v-18.3h1.8v18.3zM1112.1 1238.4v-23.7h1.8v23.7zM1117.3 1238.4v-244.6h1.8v244.6zM1127.7 1238.4v-76.1h1.8v76.1zM1132.9 1238.4v-11.0h1.8v11.0zM1138.1 1238.4v-23.7h1.8v23.7zM1148.6 1238.4v-34.7h1.8v34.7zM1153.8 1238.4v-357.7h1.8v357.7zM1159.0 1238.4v-26.2h1.8v26.2zM1164.2 1238.4v-107.7h1.8v107.7zM1169.4 1238.4v-148.4h1.8v148.4zM1174.6 1238.4v-37.7h1.8v37.7zM1179.9 1238.4v-155.7h1.8v155.7zM1185.1 1238.4v-92.5h1.8v92.5zM1195.5 1238.4v-161.8h1.8v161.8zM1200.7 1238.4v-148.4h1.8v148.4zM1205.9 1238.4v-487.3h1.8v487.3zM1211.1 1238.4v-446.5h1.8v446.5zM1216.3 1238.4v-20.7h1.8v20.7zM1221.6 1238.4v-26.2h1.8v26.2zM1226.8 1238.4v-222.0h1.8v222.0zM1232.0 1238.4v-237.9h1.8v237.9zM1242.4 1238.4v-23.7h1.8v23.7zM1247.6 1238.4v-21.9h1.8v21.9zM1252.8 1238.4v-35.9h1.8v35.9zM1258.1 1238.4v-47.5h1.8v47.5zM1263.3 1238.4v-107.1h1.8v107.1zM1268.5 1238.4v-34.7h1.8v34.7zM1273.7 1238.4v-29.8h1.8v29.8zM1278.9 1238.4v-33.5h1.8v33.5zM1284.1 1238.4v-14.0h1.8v14.0zM1289.3 1238.4v-11.0h1.8v11.0zM1294.6 1238.4v-28.0h1.8v28.0zM1299.8 1238.4v-9.1h1.8v9.1zM1310.2 1238.4v-34.7h1.8v34.7zM1315.4 1238.4v-5.5h1.8v5.5zM1320.6 1238.4v-20.1h1.8v20.1zM1325.8 1238.4v-17.0h1.8v17.0zM1331.1 1238.4v-29.8h1.8v29.8zM1336.3 1238.4v-32.9h1.8v32.9zM1341.5 1238.4v-20.1h1.8v20.1zM1346.7 1238.4v-14.0h1.8v14.0zM1357.1 1238.4v-21.9h1.8v21.9zM1362.3 1238.4v-21.9h1.8v21.9zM1367.6 1238.4v-24.3h1.8v24.3zM1372.8 1238.4v-12.8h1.8v12.8zM1378.0 1238.4v-22.5h1.8v22.5zM1383.2 1238.4v-18.3h1.8v18.3zM1388.4 1238.4v-21.9h1.8v21.9zM1393.6 1238.4v-26.2h1.8v26.2zM1404.1 1238.4v-26.2h1.8v26.2zM1409.3 1238.4v-11.6h1.8v11.6zM1414.5 1238.4v-27.4h1.8v27.4zM1424.9 1238.4v-26.2h1.8v26.2zM1430.1 1238.4v-15.8h1.8v15.8zM1435.3 1238.4v-48.1h1.8v48.1zM1440.6 1238.4v-14.0h1.8v14.0zM1445.8 1238.4v-28.0h1.8v28.0zM1451.0 1238.4v-32.9h1.8v32.9zM1456.2 1238.4v-25.6h1.8v25.6zM1461.4 1238.4v-45.0h1.8v45.0zM1471.8 1238.4v-30.4h1.8v30.4zM1477.0 1238.4v-36.5h1.8v36.5zM1482.3 1238.4v-11.6h1.8v11.6zM1487.5 1238.4v-24.3h1.8v24.3zM1492.7 1238.4v-22.5h1.8v22.5zM1497.9 1238.4v-18.3h1.8v18.3zM1503.1 1238.4v-22.5h1.8v22.5zM1508.3 1238.4v-26.2h1.8v26.2zM1518.8 1238.4v-29.8h1.8v29.8zM1524.0 1238.4v-5.5h1.8v5.5zM1529.2 1238.4v-29.8h1.8v29.8zM1539.6 1238.4v-27.4h1.8v27.4zM1544.8 1238.4v-24.3h1.8v24.3zM1550.0 1238.4v-28.0h1.8v28.0zM1555.3 1238.4v-25.6h1.8v25.6zM1560.5 1238.4v-48.1h1.8v48.1zM1565.7 1238.4v-15.8h1.8v15.8zM1570.9 1238.4v-17.0h1.8v17.0zM1576.1 1238.4v-46.9h1.8v46.9z" fill="#0062b0" opacity="0.55"/>
<path d="M960.9 1238.4v-15.2h1.8v15.2zM1007.8 1238.4v-16.4h1.8v16.4zM1028.6 1238.4v-54.8h1.8v54.8zM1075.6 1238.4v-32.3h1.8v32.3zM1122.5 1238.4v-237.3h1.8v237.3zM1143.4 1238.4v-25.6h1.8v25.6zM1190.3 1238.4v-45.6h1.8v45.6zM1237.2 1238.4v-78.5h1.8v78.5zM1305.0 1238.4v-40.8h1.8v40.8zM1351.9 1238.4v-15.2h1.8v15.2zM1398.8 1238.4v-15.2h1.8v15.2zM1419.7 1238.4v-27.4h1.8v27.4zM1466.6 1238.4v-36.5h1.8v36.5zM1513.5 1238.4v-18.3h1.8v18.3zM1534.4 1238.4v-47.5h1.8v47.5zM1581.3 1238.4v-17.0h1.8v17.0z" fill="#6fa6c6" opacity="0.55"/>
<line x1="959.00" y1="791.1" x2="959.00" y2="1202.8" stroke="#1a1a1a" stroke-width="2.0" stroke-dasharray="3.4 2.1"/>
<line x1="1121.16" y1="791.1" x2="1121.16" y2="1202.8" stroke="#1a1a1a" stroke-width="2.0" stroke-dasharray="3.4 2.1"/>
<line x1="1274.97" y1="791.1" x2="1274.97" y2="1202.8" stroke="#1a1a1a" stroke-width="2.0" stroke-dasharray="3.4 2.1"/>
<line x1="1434.00" y1="791.1" x2="1434.00" y2="1202.8" stroke="#1a1a1a" stroke-width="2.0" stroke-dasharray="3.4 2.1"/>
<line x1="1583.12" y1="791.1" x2="1583.12" y2="1202.8" stroke="#1a1a1a" stroke-width="2.0" stroke-dasharray="3.4 2.1"/>
<text x="1039.8" y="817.7" font-size="19.5" text-anchor="middle" textLength="62" class="bl" lengthAdjust="spacingAndGlyphs"><tspan font-style="italic">α</tspan> band</text>
<text x="1196.8" y="817.7" font-size="19.5" text-anchor="middle" textLength="62" class="bl" lengthAdjust="spacingAndGlyphs"><tspan font-style="italic">β</tspan> band</text>
<text x="1351.1" y="817.7" font-size="19.5" text-anchor="middle" textLength="62" class="bl" lengthAdjust="spacingAndGlyphs"><tspan font-style="italic">θ</tspan> band</text>
<text x="1510.6" y="817.7" font-size="19.5" text-anchor="middle" textLength="62" class="bl" lengthAdjust="spacingAndGlyphs"><tspan font-style="italic">δ</tspan> band</text>
</g>
<g filter="url(#b1)" class="bc">
<path d="M1768.8 1238.8v-45.8h3.0v45.8zM1774.0 1238.8v-73.5h3.0v73.5zM1779.2 1238.8v-50.1h3.0v50.1zM1784.4 1238.8v-69.3h3.0v69.3zM1789.6 1238.8v-89.5h3.0v89.5zM1794.8 1238.8v-93.8h3.0v93.8zM1800.1 1238.8v-85.2h3.0v85.2zM1805.3 1238.8v-86.3h3.0v86.3zM1815.7 1238.8v-75.7h3.0v75.7zM1820.9 1238.8v-72.5h3.0v72.5zM1826.1 1238.8v-88.4h3.0v88.4zM1836.6 1238.8v-111.9h3.0v111.9zM1841.8 1238.8v-54.3h3.0v54.3zM1847.0 1238.8v-81.0h3.0v81.0zM1852.2 1238.8v-112.9h3.0v112.9zM1857.4 1238.8v-34.1h3.0v34.1zM1862.6 1238.8v-83.1h3.0v83.1zM1867.8 1238.8v-43.7h3.0v43.7zM1873.1 1238.8v-73.5h3.0v73.5zM1883.5 1238.8v-29.8h3.0v29.8zM1888.7 1238.8v-68.2h3.0v68.2zM1893.9 1238.8v-60.7h3.0v60.7zM1899.1 1238.8v-75.7h3.0v75.7zM1904.3 1238.8v-127.9h3.0v127.9zM1909.6 1238.8v-165.2h3.0v165.2zM1914.8 1238.8v-93.8h3.0v93.8zM1920.0 1238.8v-88.4h3.0v88.4zM1930.4 1238.8v-51.1h3.0v51.1zM1935.6 1238.8v-36.2h3.0v36.2zM1940.8 1238.8v-95.9h3.0v95.9zM1951.3 1238.8v-108.7h3.0v108.7zM1956.5 1238.8v-97.0h3.0v97.0zM1961.7 1238.8v-73.5h3.0v73.5zM1966.9 1238.8v-33.0h3.0v33.0zM1972.1 1238.8v-114.0h3.0v114.0zM1977.3 1238.8v-101.2h3.0v101.2zM1982.6 1238.8v-144.9h3.0v144.9zM1987.8 1238.8v-97.0h3.0v97.0zM1998.2 1238.8v-294.1h3.0v294.1zM2003.4 1238.8v-266.4h3.0v266.4zM2008.6 1238.8v-100.2h3.0v100.2zM2013.8 1238.8v-93.8h3.0v93.8zM2019.0 1238.8v-115.1h3.0v115.1zM2024.3 1238.8v-238.7h3.0v238.7zM2029.5 1238.8v-140.6h3.0v140.6zM2034.7 1238.8v-79.9h3.0v79.9zM2045.1 1238.8v-53.3h3.0v53.3zM2050.3 1238.8v-89.5h3.0v89.5zM2055.5 1238.8v-489.1h3.0v489.1zM2060.8 1238.8v-208.8h3.0v208.8zM2066.0 1238.8v-203.5h3.0v203.5zM2071.2 1238.8v-396.4h3.0v396.4zM2076.4 1238.8v-63.9h3.0v63.9zM2081.6 1238.8v-164.1h3.0v164.1zM2086.8 1238.8v-47.9h3.0v47.9zM2092.0 1238.8v-85.2h3.0v85.2zM2097.3 1238.8v-49.0h3.0v49.0zM2102.5 1238.8v-92.7h3.0v92.7zM2112.9 1238.8v-45.8h3.0v45.8zM2118.1 1238.8v-40.5h3.0v40.5zM2123.3 1238.8v-121.5h3.0v121.5zM2128.5 1238.8v-67.1h3.0v67.1zM2133.8 1238.8v-72.5h3.0v72.5zM2139.0 1238.8v-60.7h3.0v60.7zM2144.2 1238.8v-89.5h3.0v89.5zM2149.4 1238.8v-49.0h3.0v49.0zM2159.8 1238.8v-85.2h3.0v85.2zM2165.0 1238.8v-66.1h3.0v66.1zM2170.3 1238.8v-84.2h3.0v84.2zM2175.5 1238.8v-45.8h3.0v45.8zM2180.7 1238.8v-26.6h3.0v26.6zM2185.9 1238.8v-105.5h3.0v105.5zM2191.1 1238.8v-79.9h3.0v79.9zM2196.3 1238.8v-88.4h3.0v88.4zM2206.8 1238.8v-72.5h3.0v72.5zM2212.0 1238.8v-52.2h3.0v52.2zM2217.2 1238.8v-76.7h3.0v76.7zM2227.6 1238.8v-45.8h3.0v45.8zM2232.8 1238.8v-122.5h3.0v122.5zM2238.0 1238.8v-43.7h3.0v43.7zM2243.3 1238.8v-81.0h3.0v81.0zM2248.5 1238.8v-59.7h3.0v59.7zM2253.7 1238.8v-81.0h3.0v81.0zM2258.9 1238.8v-86.3h3.0v86.3zM2264.1 1238.8v-140.6h3.0v140.6zM2274.5 1238.8v-172.6h3.0v172.6zM2279.7 1238.8v-98.0h3.0v98.0zM2285.0 1238.8v-79.9h3.0v79.9zM2290.2 1238.8v-50.1h3.0v50.1zM2295.4 1238.8v-71.4h3.0v71.4zM2300.6 1238.8v-68.2h3.0v68.2zM2305.8 1238.8v-76.7h3.0v76.7zM2311.0 1238.8v-19.2h3.0v19.2zM2321.5 1238.8v-36.2h3.0v36.2zM2326.7 1238.8v-81.0h3.0v81.0zM2331.9 1238.8v-33.0h3.0v33.0zM2342.3 1238.8v-50.1h3.0v50.1zM2347.5 1238.8v-103.4h3.0v103.4zM2352.7 1238.8v-73.5h3.0v73.5zM2358.0 1238.8v-38.4h3.0v38.4zM2363.2 1238.8v-73.5h3.0v73.5zM2368.4 1238.8v-74.6h3.0v74.6zM2373.6 1238.8v-58.6h3.0v58.6zM2378.8 1238.8v-69.3h3.0v69.3z" fill="#0062b0"/>
<path d="M1763.6 1238.8v-26.6h3.0v26.6zM1810.5 1238.8v-59.7h3.0v59.7zM1831.3 1238.8v-89.5h3.0v89.5zM1878.3 1238.8v-47.9h3.0v47.9zM1925.2 1238.8v-70.3h3.0v70.3zM1946.1 1238.8v-65.0h3.0v65.0zM1993.0 1238.8v-82.0h3.0v82.0zM2039.9 1238.8v-18.1h3.0v18.1zM2107.7 1238.8v-46.9h3.0v46.9zM2154.6 1238.8v-79.9h3.0v79.9zM2201.5 1238.8v-76.7h3.0v76.7zM2222.4 1238.8v-40.5h3.0v40.5zM2269.3 1238.8v-59.7h3.0v59.7zM2316.2 1238.8v-77.8h3.0v77.8zM2337.1 1238.8v-43.7h3.0v43.7zM2384.0 1238.8v-81.0h3.0v81.0z" fill="#6fa6c6"/>
<rect x="1733.6" y="728.1" width="686.7" height="510.7" fill="none" stroke="#000" stroke-width="2.0"/>
<line x1="1762.30" y1="1238.8" x2="1762.30" y2="1245.5" stroke="#000" stroke-width="2.0"/>
<text x="1762.30" y="1267.8" font-size="18.4" text-anchor="middle">0</text>
<line x1="1866.58" y1="1238.8" x2="1866.58" y2="1245.5" stroke="#000" stroke-width="2.0"/>
<text x="1866.58" y="1267.8" font-size="18.4" text-anchor="middle">20</text>
<line x1="1970.86" y1="1238.8" x2="1970.86" y2="1245.5" stroke="#000" stroke-width="2.0"/>
<text x="1970.86" y="1267.8" font-size="18.4" text-anchor="middle">40</text>
<line x1="2075.14" y1="1238.8" x2="2075.14" y2="1245.5" stroke="#000" stroke-width="2.0"/>
<text x="2075.14" y="1267.8" font-size="18.4" text-anchor="middle">60</text>
<line x1="2179.42" y1="1238.8" x2="2179.42" y2="1245.5" stroke="#000" stroke-width="2.0"/>
<text x="2179.42" y="1267.8" font-size="18.4" text-anchor="middle">80</text>
<line x1="2283.70" y1="1238.8" x2="2283.70" y2="1245.5" stroke="#000" stroke-width="2.0"/>
<text x="2283.70" y="1267.8" font-size="18.4" text-anchor="middle">100</text>
<line x1="2387.98" y1="1238.8" x2="2387.98" y2="1245.5" stroke="#000" stroke-width="2.0"/>
<text x="2387.98" y="1267.8" font-size="18.4" text-anchor="middle">120</text>
<line x1="1726.9" y1="1238.80" x2="1733.6" y2="1238.80" stroke="#000" stroke-width="2.0"/>
<text x="1720.0" y="1246.50" font-size="18.4" text-anchor="end">0.00</text>
<line x1="1726.9" y1="1132.25" x2="1733.6" y2="1132.25" stroke="#000" stroke-width="2.0"/>
<text x="1720.0" y="1139.95" font-size="18.4" text-anchor="end">0.01</text>
<line x1="1726.9" y1="1025.70" x2="1733.6" y2="1025.70" stroke="#000" stroke-width="2.0"/>
<text x="1720.0" y="1033.40" font-size="18.4" text-anchor="end">0.02</text>
<line x1="1726.9" y1="919.15" x2="1733.6" y2="919.15" stroke="#000" stroke-width="2.0"/>
<text x="1720.0" y="926.85" font-size="18.4" text-anchor="end">0.03</text>
<line x1="1726.9" y1="812.60" x2="1733.6" y2="812.60" stroke="#000" stroke-width="2.0"/>
<text x="1720.0" y="820.30" font-size="18.4" text-anchor="end">0.04</text>
<text x="2076.9" y="1294.3" font-size="19.24" text-anchor="middle">Feature</text>
<text transform="translate(1665.6,983.4) rotate(-90)" font-size="19.24" text-anchor="middle">Importance</text>
<text x="2075.9" y="715.1" font-size="23.2" text-anchor="middle">Feature importance of 120-dimensional features of Sub 8</text>
</g><g class="bc">
<g class="tc" opacity="0.4"><rect x="1733.6" y="728.1" width="686.7" height="510.7" fill="none" stroke="#000" stroke-width="2.0"/><line x1="1762.30" y1="1238.8" x2="1762.30" y2="1245.5" stroke="#000" stroke-width="2.0"/><text x="1762.30" y="1267.8" font-size="18.4" text-anchor="middle">0</text><line x1="1866.58" y1="1238.8" x2="1866.58" y2="1245.5" stroke="#000" stroke-width="2.0"/><text x="1866.58" y="1267.8" font-size="18.4" text-anchor="middle">20</text><line x1="1970.86" y1="1238.8" x2="1970.86" y2="1245.5" stroke="#000" stroke-width="2.0"/><text x="1970.86" y="1267.8" font-size="18.4" text-anchor="middle">40</text><line x1="2075.14" y1="1238.8" x2="2075.14" y2="1245.5" stroke="#000" stroke-width="2.0"/><text x="2075.14" y="1267.8" font-size="18.4" text-anchor="middle">60</text><line x1="2179.42" y1="1238.8" x2="2179.42" y2="1245.5" stroke="#000" stroke-width="2.0"/><text x="2179.42" y="1267.8" font-size="18.4" text-anchor="middle">80</text><line x1="2283.70" y1="1238.8" x2="2283.70" y2="1245.5" stroke="#000" stroke-width="2.0"/><text x="2283.70" y="1267.8" font-size="18.4" text-anchor="middle">100</text><line x1="2387.98" y1="1238.8" x2="2387.98" y2="1245.5" stroke="#000" stroke-width="2.0"/><text x="2387.98" y="1267.8" font-size="18.4" text-anchor="middle">120</text><line x1="1726.9" y1="1238.80" x2="1733.6" y2="1238.80" stroke="#000" stroke-width="2.0"/><text x="1720.0" y="1246.50" font-size="18.4" text-anchor="end">0.00</text><line x1="1726.9" y1="1132.25" x2="1733.6" y2="1132.25" stroke="#000" stroke-width="2.0"/><text x="1720.0" y="1139.95" font-size="18.4" text-anchor="end">0.01</text><line x1="1726.9" y1="1025.70" x2="1733.6" y2="1025.70" stroke="#000" stroke-width="2.0"/><text x="1720.0" y="1033.40" font-size="18.4" text-anchor="end">0.02</text><line x1="1726.9" y1="919.15" x2="1733.6" y2="919.15" stroke="#000" stroke-width="2.0"/><text x="1720.0" y="926.85" font-size="18.4" text-anchor="end">0.03</text><line x1="1726.9" y1="812.60" x2="1733.6" y2="812.60" stroke="#000" stroke-width="2.0"/><text x="1720.0" y="820.30" font-size="18.4" text-anchor="end">0.04</text><text x="2076.9" y="1294.3" font-size="19.24" text-anchor="middle">Feature</text><text transform="translate(1665.6,983.4) rotate(-90)" font-size="19.24" text-anchor="middle">Importance</text><text x="2075.9" y="715.1" font-size="23.2" text-anchor="middle">Feature importance of 120-dimensional features of Sub 8</text></g>
<path d="M1769.4 1238.4v-44.6h1.8v44.6zM1774.6 1238.4v-72.3h1.8v72.3zM1779.8 1238.4v-48.9h1.8v48.9zM1785.0 1238.4v-68.1h1.8v68.1zM1790.2 1238.4v-88.3h1.8v88.3zM1795.4 1238.4v-92.6h1.8v92.6zM1800.7 1238.4v-84.0h1.8v84.0zM1805.9 1238.4v-85.1h1.8v85.1zM1816.3 1238.4v-74.5h1.8v74.5zM1821.5 1238.4v-71.3h1.8v71.3zM1826.7 1238.4v-87.2h1.8v87.2zM1837.2 1238.4v-110.7h1.8v110.7zM1842.4 1238.4v-53.1h1.8v53.1zM1847.6 1238.4v-79.8h1.8v79.8zM1852.8 1238.4v-111.7h1.8v111.7zM1858.0 1238.4v-32.9h1.8v32.9zM1863.2 1238.4v-81.9h1.8v81.9zM1868.4 1238.4v-42.5h1.8v42.5zM1873.7 1238.4v-72.3h1.8v72.3zM1884.1 1238.4v-28.6h1.8v28.6zM1889.3 1238.4v-67.0h1.8v67.0zM1894.5 1238.4v-59.5h1.8v59.5zM1899.7 1238.4v-74.5h1.8v74.5zM1904.9 1238.4v-126.7h1.8v126.7zM1910.2 1238.4v-164.0h1.8v164.0zM1915.4 1238.4v-92.6h1.8v92.6zM1920.6 1238.4v-87.2h1.8v87.2zM1931.0 1238.4v-49.9h1.8v49.9zM1936.2 1238.4v-35.0h1.8v35.0zM1941.4 1238.4v-94.7h1.8v94.7zM1951.9 1238.4v-107.5h1.8v107.5zM1957.1 1238.4v-95.8h1.8v95.8zM1962.3 1238.4v-72.3h1.8v72.3zM1967.5 1238.4v-31.8h1.8v31.8zM1972.7 1238.4v-112.8h1.8v112.8zM1977.9 1238.4v-100.0h1.8v100.0zM1983.2 1238.4v-143.7h1.8v143.7zM1988.4 1238.4v-95.8h1.8v95.8zM1998.8 1238.4v-292.9h1.8v292.9zM2004.0 1238.4v-265.2h1.8v265.2zM2009.2 1238.4v-99.0h1.8v99.0zM2014.4 1238.4v-92.6h1.8v92.6zM2019.6 1238.4v-113.9h1.8v113.9zM2024.9 1238.4v-237.5h1.8v237.5zM2030.1 1238.4v-139.4h1.8v139.4zM2035.3 1238.4v-78.7h1.8v78.7zM2045.7 1238.4v-52.1h1.8v52.1zM2050.9 1238.4v-88.3h1.8v88.3zM2056.1 1238.4v-487.9h1.8v487.9zM2061.4 1238.4v-207.6h1.8v207.6zM2066.6 1238.4v-202.3h1.8v202.3zM2071.8 1238.4v-395.2h1.8v395.2zM2077.0 1238.4v-62.7h1.8v62.7zM2082.2 1238.4v-162.9h1.8v162.9zM2087.4 1238.4v-46.7h1.8v46.7zM2092.6 1238.4v-84.0h1.8v84.0zM2097.9 1238.4v-47.8h1.8v47.8zM2103.1 1238.4v-91.5h1.8v91.5zM2113.5 1238.4v-44.6h1.8v44.6zM2118.7 1238.4v-39.3h1.8v39.3zM2123.9 1238.4v-120.3h1.8v120.3zM2129.1 1238.4v-65.9h1.8v65.9zM2134.4 1238.4v-71.3h1.8v71.3zM2139.6 1238.4v-59.5h1.8v59.5zM2144.8 1238.4v-88.3h1.8v88.3zM2150.0 1238.4v-47.8h1.8v47.8zM2160.4 1238.4v-84.0h1.8v84.0zM2165.6 1238.4v-64.9h1.8v64.9zM2170.9 1238.4v-83.0h1.8v83.0zM2176.1 1238.4v-44.6h1.8v44.6zM2181.3 1238.4v-25.4h1.8v25.4zM2186.5 1238.4v-104.3h1.8v104.3zM2191.7 1238.4v-78.7h1.8v78.7zM2196.9 1238.4v-87.2h1.8v87.2zM2207.4 1238.4v-71.3h1.8v71.3zM2212.6 1238.4v-51.0h1.8v51.0zM2217.8 1238.4v-75.5h1.8v75.5zM2228.2 1238.4v-44.6h1.8v44.6zM2233.4 1238.4v-121.3h1.8v121.3zM2238.6 1238.4v-42.5h1.8v42.5zM2243.9 1238.4v-79.8h1.8v79.8zM2249.1 1238.4v-58.5h1.8v58.5zM2254.3 1238.4v-79.8h1.8v79.8zM2259.5 1238.4v-85.1h1.8v85.1zM2264.7 1238.4v-139.4h1.8v139.4zM2275.1 1238.4v-171.4h1.8v171.4zM2280.3 1238.4v-96.8h1.8v96.8zM2285.6 1238.4v-78.7h1.8v78.7zM2290.8 1238.4v-48.9h1.8v48.9zM2296.0 1238.4v-70.2h1.8v70.2zM2301.2 1238.4v-67.0h1.8v67.0zM2306.4 1238.4v-75.5h1.8v75.5zM2311.6 1238.4v-18.0h1.8v18.0zM2322.1 1238.4v-35.0h1.8v35.0zM2327.3 1238.4v-79.8h1.8v79.8zM2332.5 1238.4v-31.8h1.8v31.8zM2342.9 1238.4v-48.9h1.8v48.9zM2348.1 1238.4v-102.2h1.8v102.2zM2353.3 1238.4v-72.3h1.8v72.3zM2358.6 1238.4v-37.2h1.8v37.2zM2363.8 1238.4v-72.3h1.8v72.3zM2369.0 1238.4v-73.4h1.8v73.4zM2374.2 1238.4v-57.4h1.8v57.4zM2379.4 1238.4v-68.1h1.8v68.1z" fill="#0062b0" opacity="0.55"/>
<path d="M1764.2 1238.4v-25.4h1.8v25.4zM1811.1 1238.4v-58.5h1.8v58.5zM1831.9 1238.4v-88.3h1.8v88.3zM1878.9 1238.4v-46.7h1.8v46.7zM1925.8 1238.4v-69.1h1.8v69.1zM1946.7 1238.4v-63.8h1.8v63.8zM1993.6 1238.4v-80.8h1.8v80.8zM2040.5 1238.4v-16.9h1.8v16.9zM2108.3 1238.4v-45.7h1.8v45.7zM2155.2 1238.4v-78.7h1.8v78.7zM2202.1 1238.4v-75.5h1.8v75.5zM2223.0 1238.4v-39.3h1.8v39.3zM2269.9 1238.4v-58.5h1.8v58.5zM2316.8 1238.4v-76.6h1.8v76.6zM2337.7 1238.4v-42.5h1.8v42.5zM2384.6 1238.4v-79.8h1.8v79.8z" fill="#6fa6c6" opacity="0.55"/>
<line x1="1762.30" y1="791.1" x2="1762.30" y2="1202.8" stroke="#1a1a1a" stroke-width="2.0" stroke-dasharray="3.4 2.1"/>
<line x1="1924.46" y1="791.1" x2="1924.46" y2="1202.8" stroke="#1a1a1a" stroke-width="2.0" stroke-dasharray="3.4 2.1"/>
<line x1="2078.27" y1="791.1" x2="2078.27" y2="1202.8" stroke="#1a1a1a" stroke-width="2.0" stroke-dasharray="3.4 2.1"/>
<line x1="2237.30" y1="791.1" x2="2237.30" y2="1202.8" stroke="#1a1a1a" stroke-width="2.0" stroke-dasharray="3.4 2.1"/>
<line x1="2386.42" y1="791.1" x2="2386.42" y2="1202.8" stroke="#1a1a1a" stroke-width="2.0" stroke-dasharray="3.4 2.1"/>
<text x="1843.1" y="817.7" font-size="19.5" text-anchor="middle" textLength="62" class="bl" lengthAdjust="spacingAndGlyphs"><tspan font-style="italic">α</tspan> band</text>
<text x="2000.1" y="817.7" font-size="19.5" text-anchor="middle" textLength="62" class="bl" lengthAdjust="spacingAndGlyphs"><tspan font-style="italic">β</tspan> band</text>
<text x="2154.4" y="817.7" font-size="19.5" text-anchor="middle" textLength="62" class="bl" lengthAdjust="spacingAndGlyphs"><tspan font-style="italic">θ</tspan> band</text>
<text x="2313.9" y="817.7" font-size="19.5" text-anchor="middle" textLength="62" class="bl" lengthAdjust="spacingAndGlyphs"><tspan font-style="italic">δ</tspan> band</text>
</g>
<g filter="url(#b1)" class="bc">
<path d="M148.8 1890.0v-18.6h3.0v18.6zM154.0 1890.0v-38.1h3.0v38.1zM159.2 1890.0v-33.7h3.0v33.7zM164.4 1890.0v-21.5h3.0v21.5zM169.6 1890.0v-48.9h3.0v48.9zM174.8 1890.0v-20.5h3.0v20.5zM180.1 1890.0v-38.1h3.0v38.1zM185.3 1890.0v-31.3h3.0v31.3zM195.7 1890.0v-23.5h3.0v23.5zM200.9 1890.0v-29.8h3.0v29.8zM206.1 1890.0v-93.4h3.0v93.4zM216.6 1890.0v-21.5h3.0v21.5zM221.8 1890.0v-28.4h3.0v28.4zM227.0 1890.0v-53.3h3.0v53.3zM232.2 1890.0v-34.2h3.0v34.2zM237.4 1890.0v-12.2h3.0v12.2zM242.6 1890.0v-20.0h3.0v20.0zM247.8 1890.0v-26.4h3.0v26.4zM253.1 1890.0v-86.5h3.0v86.5zM263.5 1890.0v-27.4h3.0v27.4zM268.7 1890.0v-31.3h3.0v31.3zM273.9 1890.0v-34.2h3.0v34.2zM279.1 1890.0v-22.0h3.0v22.0zM284.3 1890.0v-17.6h3.0v17.6zM289.6 1890.0v-35.2h3.0v35.2zM294.8 1890.0v-34.2h3.0v34.2zM300.0 1890.0v-82.6h3.0v82.6zM310.4 1890.0v-76.3h3.0v76.3zM315.6 1890.0v-28.4h3.0v28.4zM320.8 1890.0v-42.5h3.0v42.5zM331.3 1890.0v-24.0h3.0v24.0zM336.5 1890.0v-303.6h3.0v303.6zM341.7 1890.0v-34.2h3.0v34.2zM346.9 1890.0v-26.4h3.0v26.4zM352.1 1890.0v-46.9h3.0v46.9zM357.3 1890.0v-45.0h3.0v45.0zM362.6 1890.0v-405.8h3.0v405.8zM367.8 1890.0v-27.4h3.0v27.4zM378.2 1890.0v-35.2h3.0v35.2zM383.4 1890.0v-47.9h3.0v47.9zM388.6 1890.0v-487.4h3.0v487.4zM393.8 1890.0v-51.8h3.0v51.8zM399.0 1890.0v-28.4h3.0v28.4zM404.3 1890.0v-32.8h3.0v32.8zM409.5 1890.0v-39.6h3.0v39.6zM414.7 1890.0v-66.0h3.0v66.0zM425.1 1890.0v-39.6h3.0v39.6zM430.3 1890.0v-28.4h3.0v28.4zM435.5 1890.0v-13.7h3.0v13.7zM440.8 1890.0v-65.0h3.0v65.0zM446.0 1890.0v-46.9h3.0v46.9zM451.2 1890.0v-42.5h3.0v42.5zM456.4 1890.0v-18.6h3.0v18.6zM461.6 1890.0v-16.1h3.0v16.1zM466.8 1890.0v-29.8h3.0v29.8zM472.0 1890.0v-34.2h3.0v34.2zM477.3 1890.0v-27.4h3.0v27.4zM482.5 1890.0v-11.7h3.0v11.7zM492.9 1890.0v-15.6h3.0v15.6zM498.1 1890.0v-31.3h3.0v31.3zM503.3 1890.0v-9.3h3.0v9.3zM508.5 1890.0v-18.6h3.0v18.6zM513.8 1890.0v-23.0h3.0v23.0zM519.0 1890.0v-29.8h3.0v29.8zM524.2 1890.0v-28.4h3.0v28.4zM529.4 1890.0v-24.0h3.0v24.0zM539.8 1890.0v-11.7h3.0v11.7zM545.0 1890.0v-42.5h3.0v42.5zM550.3 1890.0v-14.7h3.0v14.7zM555.5 1890.0v-24.0h3.0v24.0zM560.7 1890.0v-27.4h3.0v27.4zM565.9 1890.0v-13.2h3.0v13.2zM571.1 1890.0v-32.8h3.0v32.8zM576.3 1890.0v-17.6h3.0v17.6zM586.8 1890.0v-27.4h3.0v27.4zM592.0 1890.0v-17.6h3.0v17.6zM597.2 1890.0v-29.8h3.0v29.8zM607.6 1890.0v-29.8h3.0v29.8zM612.8 1890.0v-25.9h3.0v25.9zM618.0 1890.0v-14.7h3.0v14.7zM623.3 1890.0v-32.8h3.0v32.8zM628.5 1890.0v-24.0h3.0v24.0zM633.7 1890.0v-25.9h3.0v25.9zM638.9 1890.0v-25.9h3.0v25.9zM644.1 1890.0v-24.0h3.0v24.0zM654.5 1890.0v-14.7h3.0v14.7zM659.7 1890.0v-23.0h3.0v23.0zM665.0 1890.0v-11.7h3.0v11.7zM670.2 1890.0v-24.0h3.0v24.0zM675.4 1890.0v-29.8h3.0v29.8zM680.6 1890.0v-31.3h3.0v31.3zM685.8 1890.0v-34.2h3.0v34.2zM691.0 1890.0v-17.6h3.0v17.6zM701.5 1890.0v-17.6h3.0v17.6zM706.7 1890.0v-32.8h3.0v32.8zM711.9 1890.0v-18.6h3.0v18.6zM722.3 1890.0v-42.5h3.0v42.5zM727.5 1890.0v-23.0h3.0v23.0zM732.7 1890.0v-18.6h3.0v18.6zM738.0 1890.0v-21.5h3.0v21.5zM743.2 1890.0v-15.6h3.0v15.6zM748.4 1890.0v-13.2h3.0v13.2zM753.6 1890.0v-20.0h3.0v20.0zM758.8 1890.0v-23.0h3.0v23.0z" fill="#0062b0"/>
<path d="M143.6 1890.0v-32.8h3.0v32.8zM190.5 1890.0v-23.5h3.0v23.5zM211.3 1890.0v-32.8h3.0v32.8zM258.3 1890.0v-17.6h3.0v17.6zM305.2 1890.0v-74.3h3.0v74.3zM326.1 1890.0v-56.2h3.0v56.2zM373.0 1890.0v-25.9h3.0v25.9zM419.9 1890.0v-39.6h3.0v39.6zM487.7 1890.0v-38.1h3.0v38.1zM534.6 1890.0v-21.5h3.0v21.5zM581.5 1890.0v-18.6h3.0v18.6zM602.4 1890.0v-32.3h3.0v32.3zM649.3 1890.0v-31.3h3.0v31.3zM696.2 1890.0v-13.2h3.0v13.2zM717.1 1890.0v-36.2h3.0v36.2zM764.0 1890.0v-38.1h3.0v38.1z" fill="#6fa6c6"/>
<rect x="113.6" y="1379.3" width="686.7" height="510.7" fill="none" stroke="#000" stroke-width="2.0"/>
<line x1="142.30" y1="1890.0" x2="142.30" y2="1896.7" stroke="#000" stroke-width="2.0"/>
<text x="142.30" y="1919.0" font-size="18.4" text-anchor="middle">0</text>
<line x1="246.58" y1="1890.0" x2="246.58" y2="1896.7" stroke="#000" stroke-width="2.0"/>
<text x="246.58" y="1919.0" font-size="18.4" text-anchor="middle">20</text>
<line x1="350.86" y1="1890.0" x2="350.86" y2="1896.7" stroke="#000" stroke-width="2.0"/>
<text x="350.86" y="1919.0" font-size="18.4" text-anchor="middle">40</text>
<line x1="455.14" y1="1890.0" x2="455.14" y2="1896.7" stroke="#000" stroke-width="2.0"/>
<text x="455.14" y="1919.0" font-size="18.4" text-anchor="middle">60</text>
<line x1="559.42" y1="1890.0" x2="559.42" y2="1896.7" stroke="#000" stroke-width="2.0"/>
<text x="559.42" y="1919.0" font-size="18.4" text-anchor="middle">80</text>
<line x1="663.70" y1="1890.0" x2="663.70" y2="1896.7" stroke="#000" stroke-width="2.0"/>
<text x="663.70" y="1919.0" font-size="18.4" text-anchor="middle">100</text>
<line x1="767.98" y1="1890.0" x2="767.98" y2="1896.7" stroke="#000" stroke-width="2.0"/>
<text x="767.98" y="1919.0" font-size="18.4" text-anchor="middle">120</text>
<line x1="106.9" y1="1890.00" x2="113.6" y2="1890.00" stroke="#000" stroke-width="2.0"/>
<text x="100.0" y="1897.70" font-size="18.4" text-anchor="end">0.00</text>
<line x1="106.9" y1="1792.22" x2="113.6" y2="1792.22" stroke="#000" stroke-width="2.0"/>
<text x="100.0" y="1799.92" font-size="18.4" text-anchor="end">0.02</text>
<line x1="106.9" y1="1694.44" x2="113.6" y2="1694.44" stroke="#000" stroke-width="2.0"/>
<text x="100.0" y="1702.14" font-size="18.4" text-anchor="end">0.04</text>
<line x1="106.9" y1="1596.66" x2="113.6" y2="1596.66" stroke="#000" stroke-width="2.0"/>
<text x="100.0" y="1604.36" font-size="18.4" text-anchor="end">0.06</text>
<line x1="106.9" y1="1498.88" x2="113.6" y2="1498.88" stroke="#000" stroke-width="2.0"/>
<text x="100.0" y="1506.58" font-size="18.4" text-anchor="end">0.08</text>
<line x1="106.9" y1="1401.10" x2="113.6" y2="1401.10" stroke="#000" stroke-width="2.0"/>
<text x="100.0" y="1408.80" font-size="18.4" text-anchor="end">0.10</text>
<text x="457.0" y="1945.5" font-size="19.24" text-anchor="middle">Feature</text>
<text transform="translate(45.6,1634.7) rotate(-90)" font-size="19.24" text-anchor="middle">Importance</text>
<text x="456.0" y="1366.3" font-size="23.2" text-anchor="middle">Feature importance of 120-dimensional features of Sub 10</text>
</g><g class="bc">
<g class="tc" opacity="0.4"><rect x="113.6" y="1379.3" width="686.7" height="510.7" fill="none" stroke="#000" stroke-width="2.0"/><line x1="142.30" y1="1890.0" x2="142.30" y2="1896.7" stroke="#000" stroke-width="2.0"/><text x="142.30" y="1919.0" font-size="18.4" text-anchor="middle">0</text><line x1="246.58" y1="1890.0" x2="246.58" y2="1896.7" stroke="#000" stroke-width="2.0"/><text x="246.58" y="1919.0" font-size="18.4" text-anchor="middle">20</text><line x1="350.86" y1="1890.0" x2="350.86" y2="1896.7" stroke="#000" stroke-width="2.0"/><text x="350.86" y="1919.0" font-size="18.4" text-anchor="middle">40</text><line x1="455.14" y1="1890.0" x2="455.14" y2="1896.7" stroke="#000" stroke-width="2.0"/><text x="455.14" y="1919.0" font-size="18.4" text-anchor="middle">60</text><line x1="559.42" y1="1890.0" x2="559.42" y2="1896.7" stroke="#000" stroke-width="2.0"/><text x="559.42" y="1919.0" font-size="18.4" text-anchor="middle">80</text><line x1="663.70" y1="1890.0" x2="663.70" y2="1896.7" stroke="#000" stroke-width="2.0"/><text x="663.70" y="1919.0" font-size="18.4" text-anchor="middle">100</text><line x1="767.98" y1="1890.0" x2="767.98" y2="1896.7" stroke="#000" stroke-width="2.0"/><text x="767.98" y="1919.0" font-size="18.4" text-anchor="middle">120</text><line x1="106.9" y1="1890.00" x2="113.6" y2="1890.00" stroke="#000" stroke-width="2.0"/><text x="100.0" y="1897.70" font-size="18.4" text-anchor="end">0.00</text><line x1="106.9" y1="1792.22" x2="113.6" y2="1792.22" stroke="#000" stroke-width="2.0"/><text x="100.0" y="1799.92" font-size="18.4" text-anchor="end">0.02</text><line x1="106.9" y1="1694.44" x2="113.6" y2="1694.44" stroke="#000" stroke-width="2.0"/><text x="100.0" y="1702.14" font-size="18.4" text-anchor="end">0.04</text><line x1="106.9" y1="1596.66" x2="113.6" y2="1596.66" stroke="#000" stroke-width="2.0"/><text x="100.0" y="1604.36" font-size="18.4" text-anchor="end">0.06</text><line x1="106.9" y1="1498.88" x2="113.6" y2="1498.88" stroke="#000" stroke-width="2.0"/><text x="100.0" y="1506.58" font-size="18.4" text-anchor="end">0.08</text><line x1="106.9" y1="1401.10" x2="113.6" y2="1401.10" stroke="#000" stroke-width="2.0"/><text x="100.0" y="1408.80" font-size="18.4" text-anchor="end">0.10</text><text x="457.0" y="1945.5" font-size="19.24" text-anchor="middle">Feature</text><text transform="translate(45.6,1634.7) rotate(-90)" font-size="19.24" text-anchor="middle">Importance</text><text x="456.0" y="1366.3" font-size="23.2" text-anchor="middle">Feature importance of 120-dimensional features of Sub 10</text></g>
<path d="M149.4 1889.6v-17.4h1.8v17.4zM154.6 1889.6v-36.9h1.8v36.9zM159.8 1889.6v-32.5h1.8v32.5zM165.0 1889.6v-20.3h1.8v20.3zM170.2 1889.6v-47.7h1.8v47.7zM175.4 1889.6v-19.3h1.8v19.3zM180.7 1889.6v-36.9h1.8v36.9zM185.9 1889.6v-30.1h1.8v30.1zM196.3 1889.6v-22.3h1.8v22.3zM201.5 1889.6v-28.6h1.8v28.6zM206.7 1889.6v-92.2h1.8v92.2zM217.2 1889.6v-20.3h1.8v20.3zM222.4 1889.6v-27.2h1.8v27.2zM227.6 1889.6v-52.1h1.8v52.1zM232.8 1889.6v-33.0h1.8v33.0zM238.0 1889.6v-11.0h1.8v11.0zM243.2 1889.6v-18.8h1.8v18.8zM248.4 1889.6v-25.2h1.8v25.2zM253.7 1889.6v-85.3h1.8v85.3zM264.1 1889.6v-26.2h1.8v26.2zM269.3 1889.6v-30.1h1.8v30.1zM274.5 1889.6v-33.0h1.8v33.0zM279.7 1889.6v-20.8h1.8v20.8zM284.9 1889.6v-16.4h1.8v16.4zM290.2 1889.6v-34.0h1.8v34.0zM295.4 1889.6v-33.0h1.8v33.0zM300.6 1889.6v-81.4h1.8v81.4zM311.0 1889.6v-75.1h1.8v75.1zM316.2 1889.6v-27.2h1.8v27.2zM321.4 1889.6v-41.3h1.8v41.3zM331.9 1889.6v-22.8h1.8v22.8zM337.1 1889.6v-302.4h1.8v302.4zM342.3 1889.6v-33.0h1.8v33.0zM347.5 1889.6v-25.2h1.8v25.2zM352.7 1889.6v-45.7h1.8v45.7zM357.9 1889.6v-43.8h1.8v43.8zM363.2 1889.6v-404.6h1.8v404.6zM368.4 1889.6v-26.2h1.8v26.2zM378.8 1889.6v-34.0h1.8v34.0zM384.0 1889.6v-46.7h1.8v46.7zM389.2 1889.6v-486.2h1.8v486.2zM394.4 1889.6v-50.6h1.8v50.6zM399.6 1889.6v-27.2h1.8v27.2zM404.9 1889.6v-31.6h1.8v31.6zM410.1 1889.6v-38.4h1.8v38.4zM415.3 1889.6v-64.8h1.8v64.8zM425.7 1889.6v-38.4h1.8v38.4zM430.9 1889.6v-27.2h1.8v27.2zM436.1 1889.6v-12.5h1.8v12.5zM441.4 1889.6v-63.8h1.8v63.8zM446.6 1889.6v-45.7h1.8v45.7zM451.8 1889.6v-41.3h1.8v41.3zM457.0 1889.6v-17.4h1.8v17.4zM462.2 1889.6v-14.9h1.8v14.9zM467.4 1889.6v-28.6h1.8v28.6zM472.6 1889.6v-33.0h1.8v33.0zM477.9 1889.6v-26.2h1.8v26.2zM483.1 1889.6v-10.5h1.8v10.5zM493.5 1889.6v-14.4h1.8v14.4zM498.7 1889.6v-30.1h1.8v30.1zM503.9 1889.6v-8.1h1.8v8.1zM509.1 1889.6v-17.4h1.8v17.4zM514.4 1889.6v-21.8h1.8v21.8zM519.6 1889.6v-28.6h1.8v28.6zM524.8 1889.6v-27.2h1.8v27.2zM530.0 1889.6v-22.8h1.8v22.8zM540.4 1889.6v-10.5h1.8v10.5zM545.6 1889.6v-41.3h1.8v41.3zM550.9 1889.6v-13.5h1.8v13.5zM556.1 1889.6v-22.8h1.8v22.8zM561.3 1889.6v-26.2h1.8v26.2zM566.5 1889.6v-12.0h1.8v12.0zM571.7 1889.6v-31.6h1.8v31.6zM576.9 1889.6v-16.4h1.8v16.4zM587.4 1889.6v-26.2h1.8v26.2zM592.6 1889.6v-16.4h1.8v16.4zM597.8 1889.6v-28.6h1.8v28.6zM608.2 1889.6v-28.6h1.8v28.6zM613.4 1889.6v-24.7h1.8v24.7zM618.6 1889.6v-13.5h1.8v13.5zM623.9 1889.6v-31.6h1.8v31.6zM629.1 1889.6v-22.8h1.8v22.8zM634.3 1889.6v-24.7h1.8v24.7zM639.5 1889.6v-24.7h1.8v24.7zM644.7 1889.6v-22.8h1.8v22.8zM655.1 1889.6v-13.5h1.8v13.5zM660.3 1889.6v-21.8h1.8v21.8zM665.6 1889.6v-10.5h1.8v10.5zM670.8 1889.6v-22.8h1.8v22.8zM676.0 1889.6v-28.6h1.8v28.6zM681.2 1889.6v-30.1h1.8v30.1zM686.4 1889.6v-33.0h1.8v33.0zM691.6 1889.6v-16.4h1.8v16.4zM702.1 1889.6v-16.4h1.8v16.4zM707.3 1889.6v-31.6h1.8v31.6zM712.5 1889.6v-17.4h1.8v17.4zM722.9 1889.6v-41.3h1.8v41.3zM728.1 1889.6v-21.8h1.8v21.8zM733.3 1889.6v-17.4h1.8v17.4zM738.6 1889.6v-20.3h1.8v20.3zM743.8 1889.6v-14.4h1.8v14.4zM749.0 1889.6v-12.0h1.8v12.0zM754.2 1889.6v-18.8h1.8v18.8zM759.4 1889.6v-21.8h1.8v21.8z" fill="#0062b0" opacity="0.55"/>
<path d="M144.2 1889.6v-31.6h1.8v31.6zM191.1 1889.6v-22.3h1.8v22.3zM211.9 1889.6v-31.6h1.8v31.6zM258.9 1889.6v-16.4h1.8v16.4zM305.8 1889.6v-73.1h1.8v73.1zM326.7 1889.6v-55.0h1.8v55.0zM373.6 1889.6v-24.7h1.8v24.7zM420.5 1889.6v-38.4h1.8v38.4zM488.3 1889.6v-36.9h1.8v36.9zM535.2 1889.6v-20.3h1.8v20.3zM582.1 1889.6v-17.4h1.8v17.4zM603.0 1889.6v-31.1h1.8v31.1zM649.9 1889.6v-30.1h1.8v30.1zM696.8 1889.6v-12.0h1.8v12.0zM717.7 1889.6v-35.0h1.8v35.0zM764.6 1889.6v-36.9h1.8v36.9z" fill="#6fa6c6" opacity="0.55"/>
<line x1="142.30" y1="1442.3" x2="142.30" y2="1854.0" stroke="#1a1a1a" stroke-width="2.0" stroke-dasharray="3.4 2.1"/>
<line x1="304.46" y1="1442.3" x2="304.46" y2="1854.0" stroke="#1a1a1a" stroke-width="2.0" stroke-dasharray="3.4 2.1"/>
<line x1="458.27" y1="1442.3" x2="458.27" y2="1854.0" stroke="#1a1a1a" stroke-width="2.0" stroke-dasharray="3.4 2.1"/>
<line x1="617.30" y1="1442.3" x2="617.30" y2="1854.0" stroke="#1a1a1a" stroke-width="2.0" stroke-dasharray="3.4 2.1"/>
<line x1="766.42" y1="1442.3" x2="766.42" y2="1854.0" stroke="#1a1a1a" stroke-width="2.0" stroke-dasharray="3.4 2.1"/>
<text x="223.1" y="1468.9" font-size="19.5" text-anchor="middle" textLength="62" class="bl" lengthAdjust="spacingAndGlyphs"><tspan font-style="italic">α</tspan> band</text>
<text x="380.1" y="1468.9" font-size="19.5" text-anchor="middle" textLength="62" class="bl" lengthAdjust="spacingAndGlyphs"><tspan font-style="italic">β</tspan> band</text>
<text x="534.4" y="1468.9" font-size="19.5" text-anchor="middle" textLength="62" class="bl" lengthAdjust="spacingAndGlyphs"><tspan font-style="italic">θ</tspan> band</text>
<text x="693.9" y="1468.9" font-size="19.5" text-anchor="middle" textLength="62" class="bl" lengthAdjust="spacingAndGlyphs"><tspan font-style="italic">δ</tspan> band</text>
</g>
<g filter="url(#b1)" class="bc">
<path d="M961.3 1890.3v-10.9h3.0v10.9zM966.5 1890.3v-12.0h3.0v12.0zM971.7 1890.3v-2.7h3.0v2.7zM976.9 1890.3v-4.9h3.0v4.9zM982.1 1890.3v-6.5h3.0v6.5zM987.3 1890.3v-6.5h3.0v6.5zM992.6 1890.3v-7.1h3.0v7.1zM997.8 1890.3v-25.7h3.0v25.7zM1008.2 1890.3v-7.1h3.0v7.1zM1013.4 1890.3v-13.1h3.0v13.1zM1018.6 1890.3v-4.9h3.0v4.9zM1029.1 1890.3v-8.7h3.0v8.7zM1034.3 1890.3v-14.7h3.0v14.7zM1039.5 1890.3v-31.1h3.0v31.1zM1044.7 1890.3v-13.1h3.0v13.1zM1049.9 1890.3v-7.6h3.0v7.6zM1055.1 1890.3v-6.5h3.0v6.5zM1060.3 1890.3v-3.3h3.0v3.3zM1065.6 1890.3v-6.0h3.0v6.0zM1076.0 1890.3v-2.2h3.0v2.2zM1081.2 1890.3v-15.3h3.0v15.3zM1086.4 1890.3v-11.5h3.0v11.5zM1091.6 1890.3v-7.1h3.0v7.1zM1096.8 1890.3v-7.1h3.0v7.1zM1102.1 1890.3v-40.4h3.0v40.4zM1107.3 1890.3v-15.8h3.0v15.8zM1112.5 1890.3v-55.7h3.0v55.7zM1122.9 1890.3v-6.0h3.0v6.0zM1128.1 1890.3v-7.1h3.0v7.1zM1133.3 1890.3v-7.1h3.0v7.1zM1143.8 1890.3v-26.7h3.0v26.7zM1149.0 1890.3v-114.3h3.0v114.3zM1154.2 1890.3v-139.5h3.0v139.5zM1159.4 1890.3v-6.0h3.0v6.0zM1164.6 1890.3v-51.9h3.0v51.9zM1169.8 1890.3v-487.7h3.0v487.7zM1175.1 1890.3v-19.6h3.0v19.6zM1180.3 1890.3v-25.7h3.0v25.7zM1190.7 1890.3v-10.4h3.0v10.4zM1195.9 1890.3v-129.6h3.0v129.6zM1201.1 1890.3v-104.8h3.0v104.8zM1206.3 1890.3v-6.0h3.0v6.0zM1211.5 1890.3v-19.6h3.0v19.6zM1216.8 1890.3v-11.5h3.0v11.5zM1222.0 1890.3v-27.8h3.0v27.8zM1227.2 1890.3v-74.2h3.0v74.2zM1237.6 1890.3v-32.7h3.0v32.7zM1242.8 1890.3v-12.0h3.0v12.0zM1248.0 1890.3v-12.0h3.0v12.0zM1253.3 1890.3v-29.5h3.0v29.5zM1258.5 1890.3v-49.1h3.0v49.1zM1263.7 1890.3v-241.8h3.0v241.8zM1268.9 1890.3v-6.5h3.0v6.5zM1274.1 1890.3v-3.3h3.0v3.3zM1279.3 1890.3v-2.7h3.0v2.7zM1284.5 1890.3v-5.5h3.0v5.5zM1289.8 1890.3v-2.2h3.0v2.2zM1295.0 1890.3v-11.2h3.0v11.2zM1305.4 1890.3v-12.6h3.0v12.6zM1310.6 1890.3v-4.4h3.0v4.4zM1315.8 1890.3v-2.7h3.0v2.7zM1321.0 1890.3v-4.9h3.0v4.9zM1326.3 1890.3v-7.6h3.0v7.6zM1331.5 1890.3v-10.9h3.0v10.9zM1336.7 1890.3v-7.6h3.0v7.6zM1341.9 1890.3v-10.9h3.0v10.9zM1352.3 1890.3v-9.8h3.0v9.8zM1357.5 1890.3v-17.5h3.0v17.5zM1362.8 1890.3v-16.4h3.0v16.4zM1368.0 1890.3v-7.1h3.0v7.1zM1373.2 1890.3v-3.5h3.0v3.5zM1378.4 1890.3v-4.4h3.0v4.4zM1383.6 1890.3v-7.1h3.0v7.1zM1388.8 1890.3v-9.8h3.0v9.8zM1399.3 1890.3v-4.9h3.0v4.9zM1404.5 1890.3v-7.1h3.0v7.1zM1409.7 1890.3v-9.8h3.0v9.8zM1420.1 1890.3v-7.6h3.0v7.6zM1425.3 1890.3v-2.2h3.0v2.2zM1430.5 1890.3v-5.5h3.0v5.5zM1435.8 1890.3v-2.2h3.0v2.2zM1441.0 1890.3v-4.9h3.0v4.9zM1446.2 1890.3v-9.8h3.0v9.8zM1451.4 1890.3v-4.9h3.0v4.9zM1456.6 1890.3v-12.0h3.0v12.0zM1467.0 1890.3v-7.1h3.0v7.1zM1472.2 1890.3v-7.1h3.0v7.1zM1477.5 1890.3v-12.0h3.0v12.0zM1482.7 1890.3v-8.7h3.0v8.7zM1487.9 1890.3v-7.1h3.0v7.1zM1493.1 1890.3v-3.3h3.0v3.3zM1498.3 1890.3v-2.2h3.0v2.2zM1503.5 1890.3v-9.3h3.0v9.3zM1514.0 1890.3v-8.2h3.0v8.2zM1519.2 1890.3v-4.9h3.0v4.9zM1524.4 1890.3v-5.5h3.0v5.5zM1534.8 1890.3v-12.0h3.0v12.0zM1540.0 1890.3v-24.0h3.0v24.0zM1545.2 1890.3v-2.7h3.0v2.7zM1550.5 1890.3v-7.1h3.0v7.1zM1555.7 1890.3v-12.0h3.0v12.0zM1560.9 1890.3v-10.9h3.0v10.9zM1566.1 1890.3v-59.5h3.0v59.5zM1571.3 1890.3v-15.3h3.0v15.3z" fill="#0062b0"/>
<path d="M956.1 1890.3v-12.0h3.0v12.0zM1003.0 1890.3v-10.9h3.0v10.9zM1023.8 1890.3v-8.7h3.0v8.7zM1070.8 1890.3v-15.3h3.0v15.3zM1117.7 1890.3v-10.4h3.0v10.4zM1138.6 1890.3v-4.4h3.0v4.4zM1185.5 1890.3v-18.0h3.0v18.0zM1232.4 1890.3v-22.9h3.0v22.9zM1300.2 1890.3v-2.2h3.0v2.2zM1347.1 1890.3v-2.2h3.0v2.2zM1394.0 1890.3v-7.6h3.0v7.6zM1414.9 1890.3v-10.9h3.0v10.9zM1461.8 1890.3v-4.9h3.0v4.9zM1508.7 1890.3v-12.0h3.0v12.0zM1529.6 1890.3v-1.6h3.0v1.6zM1576.5 1890.3v-15.6h3.0v15.6z" fill="#6fa6c6"/>
<rect x="926.1" y="1379.6" width="686.7" height="510.7" fill="none" stroke="#000" stroke-width="2.0"/>
<line x1="954.80" y1="1890.3" x2="954.80" y2="1897.0" stroke="#000" stroke-width="2.0"/>
<text x="954.80" y="1919.3" font-size="18.4" text-anchor="middle">0</text>
<line x1="1059.08" y1="1890.3" x2="1059.08" y2="1897.0" stroke="#000" stroke-width="2.0"/>
<text x="1059.08" y="1919.3" font-size="18.4" text-anchor="middle">20</text>
<line x1="1163.36" y1="1890.3" x2="1163.36" y2="1897.0" stroke="#000" stroke-width="2.0"/>
<text x="1163.36" y="1919.3" font-size="18.4" text-anchor="middle">40</text>
<line x1="1267.64" y1="1890.3" x2="1267.64" y2="1897.0" stroke="#000" stroke-width="2.0"/>
<text x="1267.64" y="1919.3" font-size="18.4" text-anchor="middle">60</text>
<line x1="1371.92" y1="1890.3" x2="1371.92" y2="1897.0" stroke="#000" stroke-width="2.0"/>
<text x="1371.92" y="1919.3" font-size="18.4" text-anchor="middle">80</text>
<line x1="1476.20" y1="1890.3" x2="1476.20" y2="1897.0" stroke="#000" stroke-width="2.0"/>
<text x="1476.20" y="1919.3" font-size="18.4" text-anchor="middle">100</text>
<line x1="1580.48" y1="1890.3" x2="1580.48" y2="1897.0" stroke="#000" stroke-width="2.0"/>
<text x="1580.48" y="1919.3" font-size="18.4" text-anchor="middle">120</text>
<line x1="919.4" y1="1890.30" x2="926.1" y2="1890.30" stroke="#000" stroke-width="2.0"/>
<text x="912.5" y="1898.00" font-size="18.4" text-anchor="end">0.000</text>
<line x1="919.4" y1="1822.08" x2="926.1" y2="1822.08" stroke="#000" stroke-width="2.0"/>
<text x="912.5" y="1829.78" font-size="18.4" text-anchor="end">0.025</text>
<line x1="919.4" y1="1753.85" x2="926.1" y2="1753.85" stroke="#000" stroke-width="2.0"/>
<text x="912.5" y="1761.55" font-size="18.4" text-anchor="end">0.050</text>
<line x1="919.4" y1="1685.62" x2="926.1" y2="1685.62" stroke="#000" stroke-width="2.0"/>
<text x="912.5" y="1693.33" font-size="18.4" text-anchor="end">0.075</text>
<line x1="919.4" y1="1617.40" x2="926.1" y2="1617.40" stroke="#000" stroke-width="2.0"/>
<text x="912.5" y="1625.10" font-size="18.4" text-anchor="end">0.100</text>
<line x1="919.4" y1="1549.17" x2="926.1" y2="1549.17" stroke="#000" stroke-width="2.0"/>
<text x="912.5" y="1556.88" font-size="18.4" text-anchor="end">0.125</text>
<line x1="919.4" y1="1480.95" x2="926.1" y2="1480.95" stroke="#000" stroke-width="2.0"/>
<text x="912.5" y="1488.65" font-size="18.4" text-anchor="end">0.150</text>
<line x1="919.4" y1="1412.72" x2="926.1" y2="1412.72" stroke="#000" stroke-width="2.0"/>
<text x="912.5" y="1420.42" font-size="18.4" text-anchor="end">0.175</text>
<text x="1269.5" y="1945.8" font-size="19.24" text-anchor="middle">Feature</text>
<text transform="translate(845.1,1634.9) rotate(-90)" font-size="19.24" text-anchor="middle">Importance</text>
<text x="1268.5" y="1366.6" font-size="23.2" text-anchor="middle">Feature importance of 120-dimensional features of Sub 12</text>
</g><g class="bc">
<g class="tc" opacity="0.4"><rect x="926.1" y="1379.6" width="686.7" height="510.7" fill="none" stroke="#000" stroke-width="2.0"/><line x1="954.80" y1="1890.3" x2="954.80" y2="1897.0" stroke="#000" stroke-width="2.0"/><text x="954.80" y="1919.3" font-size="18.4" text-anchor="middle">0</text><line x1="1059.08" y1="1890.3" x2="1059.08" y2="1897.0" stroke="#000" stroke-width="2.0"/><text x="1059.08" y="1919.3" font-size="18.4" text-anchor="middle">20</text><line x1="1163.36" y1="1890.3" x2="1163.36" y2="1897.0" stroke="#000" stroke-width="2.0"/><text x="1163.36" y="1919.3" font-size="18.4" text-anchor="middle">40</text><line x1="1267.64" y1="1890.3" x2="1267.64" y2="1897.0" stroke="#000" stroke-width="2.0"/><text x="1267.64" y="1919.3" font-size="18.4" text-anchor="middle">60</text><line x1="1371.92" y1="1890.3" x2="1371.92" y2="1897.0" stroke="#000" stroke-width="2.0"/><text x="1371.92" y="1919.3" font-size="18.4" text-anchor="middle">80</text><line x1="1476.20" y1="1890.3" x2="1476.20" y2="1897.0" stroke="#000" stroke-width="2.0"/><text x="1476.20" y="1919.3" font-size="18.4" text-anchor="middle">100</text><line x1="1580.48" y1="1890.3" x2="1580.48" y2="1897.0" stroke="#000" stroke-width="2.0"/><text x="1580.48" y="1919.3" font-size="18.4" text-anchor="middle">120</text><line x1="919.4" y1="1890.30" x2="926.1" y2="1890.30" stroke="#000" stroke-width="2.0"/><text x="912.5" y="1898.00" font-size="18.4" text-anchor="end">0.000</text><line x1="919.4" y1="1822.08" x2="926.1" y2="1822.08" stroke="#000" stroke-width="2.0"/><text x="912.5" y="1829.78" font-size="18.4" text-anchor="end">0.025</text><line x1="919.4" y1="1753.85" x2="926.1" y2="1753.85" stroke="#000" stroke-width="2.0"/><text x="912.5" y="1761.55" font-size="18.4" text-anchor="end">0.050</text><line x1="919.4" y1="1685.62" x2="926.1" y2="1685.62" stroke="#000" stroke-width="2.0"/><text x="912.5" y="1693.33" font-size="18.4" text-anchor="end">0.075</text><line x1="919.4" y1="1617.40" x2="926.1" y2="1617.40" stroke="#000" stroke-width="2.0"/><text x="912.5" y="1625.10" font-size="18.4" text-anchor="end">0.100</text><line x1="919.4" y1="1549.17" x2="926.1" y2="1549.17" stroke="#000" stroke-width="2.0"/><text x="912.5" y="1556.88" font-size="18.4" text-anchor="end">0.125</text><line x1="919.4" y1="1480.95" x2="926.1" y2="1480.95" stroke="#000" stroke-width="2.0"/><text x="912.5" y="1488.65" font-size="18.4" text-anchor="end">0.150</text><line x1="919.4" y1="1412.72" x2="926.1" y2="1412.72" stroke="#000" stroke-width="2.0"/><text x="912.5" y="1420.42" font-size="18.4" text-anchor="end">0.175</text><text x="1269.5" y="1945.8" font-size="19.24" text-anchor="middle">Feature</text><text transform="translate(845.1,1634.9) rotate(-90)" font-size="19.24" text-anchor="middle">Importance</text><text x="1268.5" y="1366.6" font-size="23.2" text-anchor="middle">Feature importance of 120-dimensional features of Sub 12</text></g>
<path d="M961.9 1889.9v-9.7h1.8v9.7zM967.1 1889.9v-10.8h1.8v10.8zM972.3 1889.9v-1.5h1.8v1.5zM977.5 1889.9v-3.7h1.8v3.7zM982.7 1889.9v-5.3h1.8v5.3zM987.9 1889.9v-5.3h1.8v5.3zM993.2 1889.9v-5.9h1.8v5.9zM998.4 1889.9v-24.5h1.8v24.5zM1008.8 1889.9v-5.9h1.8v5.9zM1014.0 1889.9v-11.9h1.8v11.9zM1019.2 1889.9v-3.7h1.8v3.7zM1029.7 1889.9v-7.5h1.8v7.5zM1034.9 1889.9v-13.5h1.8v13.5zM1040.1 1889.9v-29.9h1.8v29.9zM1045.3 1889.9v-11.9h1.8v11.9zM1050.5 1889.9v-6.4h1.8v6.4zM1055.7 1889.9v-5.3h1.8v5.3zM1060.9 1889.9v-2.1h1.8v2.1zM1066.2 1889.9v-4.8h1.8v4.8zM1076.6 1889.9v-1.0h1.8v1.0zM1081.8 1889.9v-14.1h1.8v14.1zM1087.0 1889.9v-10.3h1.8v10.3zM1092.2 1889.9v-5.9h1.8v5.9zM1097.4 1889.9v-5.9h1.8v5.9zM1102.7 1889.9v-39.2h1.8v39.2zM1107.9 1889.9v-14.6h1.8v14.6zM1113.1 1889.9v-54.5h1.8v54.5zM1123.5 1889.9v-4.8h1.8v4.8zM1128.7 1889.9v-5.9h1.8v5.9zM1133.9 1889.9v-5.9h1.8v5.9zM1144.4 1889.9v-25.5h1.8v25.5zM1149.6 1889.9v-113.1h1.8v113.1zM1154.8 1889.9v-138.3h1.8v138.3zM1160.0 1889.9v-4.8h1.8v4.8zM1165.2 1889.9v-50.7h1.8v50.7zM1170.4 1889.9v-486.5h1.8v486.5zM1175.7 1889.9v-18.4h1.8v18.4zM1180.9 1889.9v-24.5h1.8v24.5zM1191.3 1889.9v-9.2h1.8v9.2zM1196.5 1889.9v-128.4h1.8v128.4zM1201.7 1889.9v-103.6h1.8v103.6zM1206.9 1889.9v-4.8h1.8v4.8zM1212.1 1889.9v-18.4h1.8v18.4zM1217.4 1889.9v-10.3h1.8v10.3zM1222.6 1889.9v-26.6h1.8v26.6zM1227.8 1889.9v-73.0h1.8v73.0zM1238.2 1889.9v-31.5h1.8v31.5zM1243.4 1889.9v-10.8h1.8v10.8zM1248.6 1889.9v-10.8h1.8v10.8zM1253.9 1889.9v-28.3h1.8v28.3zM1259.1 1889.9v-47.9h1.8v47.9zM1264.3 1889.9v-240.6h1.8v240.6zM1269.5 1889.9v-5.3h1.8v5.3zM1274.7 1889.9v-2.1h1.8v2.1zM1279.9 1889.9v-1.5h1.8v1.5zM1285.1 1889.9v-4.3h1.8v4.3zM1290.4 1889.9v-1.0h1.8v1.0zM1295.6 1889.9v-10.0h1.8v10.0zM1306.0 1889.9v-11.4h1.8v11.4zM1311.2 1889.9v-3.2h1.8v3.2zM1316.4 1889.9v-1.5h1.8v1.5zM1321.6 1889.9v-3.7h1.8v3.7zM1326.9 1889.9v-6.4h1.8v6.4zM1332.1 1889.9v-9.7h1.8v9.7zM1337.3 1889.9v-6.4h1.8v6.4zM1342.5 1889.9v-9.7h1.8v9.7zM1352.9 1889.9v-8.6h1.8v8.6zM1358.1 1889.9v-16.3h1.8v16.3zM1363.4 1889.9v-15.2h1.8v15.2zM1368.6 1889.9v-5.9h1.8v5.9zM1373.8 1889.9v-2.3h1.8v2.3zM1379.0 1889.9v-3.2h1.8v3.2zM1384.2 1889.9v-5.9h1.8v5.9zM1389.4 1889.9v-8.6h1.8v8.6zM1399.9 1889.9v-3.7h1.8v3.7zM1405.1 1889.9v-5.9h1.8v5.9zM1410.3 1889.9v-8.6h1.8v8.6zM1420.7 1889.9v-6.4h1.8v6.4zM1425.9 1889.9v-1.0h1.8v1.0zM1431.1 1889.9v-4.3h1.8v4.3zM1436.4 1889.9v-1.0h1.8v1.0zM1441.6 1889.9v-3.7h1.8v3.7zM1446.8 1889.9v-8.6h1.8v8.6zM1452.0 1889.9v-3.7h1.8v3.7zM1457.2 1889.9v-10.8h1.8v10.8zM1467.6 1889.9v-5.9h1.8v5.9zM1472.8 1889.9v-5.9h1.8v5.9zM1478.1 1889.9v-10.8h1.8v10.8zM1483.3 1889.9v-7.5h1.8v7.5zM1488.5 1889.9v-5.9h1.8v5.9zM1493.7 1889.9v-2.1h1.8v2.1zM1498.9 1889.9v-1.0h1.8v1.0zM1504.1 1889.9v-8.1h1.8v8.1zM1514.6 1889.9v-7.0h1.8v7.0zM1519.8 1889.9v-3.7h1.8v3.7zM1525.0 1889.9v-4.3h1.8v4.3zM1535.4 1889.9v-10.8h1.8v10.8zM1540.6 1889.9v-22.8h1.8v22.8zM1545.8 1889.9v-1.5h1.8v1.5zM1551.1 1889.9v-5.9h1.8v5.9zM1556.3 1889.9v-10.8h1.8v10.8zM1561.5 1889.9v-9.7h1.8v9.7zM1566.7 1889.9v-58.3h1.8v58.3zM1571.9 1889.9v-14.1h1.8v14.1z" fill="#0062b0" opacity="0.55"/>
<path d="M956.7 1889.9v-10.8h1.8v10.8zM1003.6 1889.9v-9.7h1.8v9.7zM1024.4 1889.9v-7.5h1.8v7.5zM1071.4 1889.9v-14.1h1.8v14.1zM1118.3 1889.9v-9.2h1.8v9.2zM1139.2 1889.9v-3.2h1.8v3.2zM1186.1 1889.9v-16.8h1.8v16.8zM1233.0 1889.9v-21.7h1.8v21.7zM1300.8 1889.9v-1.0h1.8v1.0zM1347.7 1889.9v-1.0h1.8v1.0zM1394.6 1889.9v-6.4h1.8v6.4zM1415.5 1889.9v-9.7h1.8v9.7zM1462.4 1889.9v-3.7h1.8v3.7zM1509.3 1889.9v-10.8h1.8v10.8zM1530.2 1889.9v-0.4h1.8v0.4zM1577.1 1889.9v-14.4h1.8v14.4z" fill="#6fa6c6" opacity="0.55"/>
<line x1="954.80" y1="1442.6" x2="954.80" y2="1854.3" stroke="#1a1a1a" stroke-width="2.0" stroke-dasharray="3.4 2.1"/>
<line x1="1116.96" y1="1442.6" x2="1116.96" y2="1854.3" stroke="#1a1a1a" stroke-width="2.0" stroke-dasharray="3.4 2.1"/>
<line x1="1270.77" y1="1442.6" x2="1270.77" y2="1854.3" stroke="#1a1a1a" stroke-width="2.0" stroke-dasharray="3.4 2.1"/>
<line x1="1429.80" y1="1442.6" x2="1429.80" y2="1854.3" stroke="#1a1a1a" stroke-width="2.0" stroke-dasharray="3.4 2.1"/>
<line x1="1578.92" y1="1442.6" x2="1578.92" y2="1854.3" stroke="#1a1a1a" stroke-width="2.0" stroke-dasharray="3.4 2.1"/>
<text x="1035.6" y="1469.2" font-size="19.5" text-anchor="middle" textLength="62" class="bl" lengthAdjust="spacingAndGlyphs"><tspan font-style="italic">α</tspan> band</text>
<text x="1192.6" y="1469.2" font-size="19.5" text-anchor="middle" textLength="62" class="bl" lengthAdjust="spacingAndGlyphs"><tspan font-style="italic">β</tspan> band</text>
<text x="1346.9" y="1469.2" font-size="19.5" text-anchor="middle" textLength="62" class="bl" lengthAdjust="spacingAndGlyphs"><tspan font-style="italic">θ</tspan> band</text>
<text x="1506.4" y="1469.2" font-size="19.5" text-anchor="middle" textLength="62" class="bl" lengthAdjust="spacingAndGlyphs"><tspan font-style="italic">δ</tspan> band</text>
</g>
<g filter="url(#b1)" class="bc">
<path d="M1768.8 1885.4v-21.9h3.0v21.9zM1774.0 1885.4v-20.9h3.0v20.9zM1779.2 1885.4v-7.0h3.0v7.0zM1784.4 1885.4v-20.9h3.0v20.9zM1789.6 1885.4v-8.5h3.0v8.5zM1794.8 1885.4v-19.4h3.0v19.4zM1800.1 1885.4v-38.3h3.0v38.3zM1805.3 1885.4v-16.4h3.0v16.4zM1815.7 1885.4v-42.8h3.0v42.8zM1820.9 1885.4v-17.9h3.0v17.9zM1826.1 1885.4v-23.4h3.0v23.4zM1836.6 1885.4v-20.9h3.0v20.9zM1841.8 1885.4v-11.0h3.0v11.0zM1847.0 1885.4v-8.5h3.0v8.5zM1852.2 1885.4v-81.7h3.0v81.7zM1857.4 1885.4v-28.4h3.0v28.4zM1862.6 1885.4v-8.5h3.0v8.5zM1867.8 1885.4v-16.4h3.0v16.4zM1873.1 1885.4v-60.8h3.0v60.8zM1883.5 1885.4v-28.9h3.0v28.9zM1888.7 1885.4v-24.9h3.0v24.9zM1893.9 1885.4v-7.0h3.0v7.0zM1899.1 1885.4v-10.0h3.0v10.0zM1904.3 1885.4v-21.9h3.0v21.9zM1909.6 1885.4v-13.9h3.0v13.9zM1914.8 1885.4v-24.9h3.0v24.9zM1920.0 1885.4v-10.5h3.0v10.5zM1930.4 1885.4v-151.4h3.0v151.4zM1935.6 1885.4v-179.8h3.0v179.8zM1940.8 1885.4v-35.9h3.0v35.9zM1951.3 1885.4v-53.8h3.0v53.8zM1956.5 1885.4v-488.5h3.0v488.5zM1961.7 1885.4v-228.6h3.0v228.6zM1966.9 1885.4v-81.7h3.0v81.7zM1972.1 1885.4v-127.5h3.0v127.5zM1977.3 1885.4v-14.9h3.0v14.9zM1982.6 1885.4v-85.7h3.0v85.7zM1987.8 1885.4v-95.1h3.0v95.1zM1998.2 1885.4v-48.3h3.0v48.3zM2003.4 1885.4v-167.8h3.0v167.8zM2008.6 1885.4v-340.1h3.0v340.1zM2013.8 1885.4v-111.1h3.0v111.1zM2019.0 1885.4v-46.3h3.0v46.3zM2024.3 1885.4v-15.9h3.0v15.9zM2029.5 1885.4v-94.1h3.0v94.1zM2034.7 1885.4v-113.0h3.0v113.0zM2045.1 1885.4v-31.9h3.0v31.9zM2050.3 1885.4v-38.3h3.0v38.3zM2055.5 1885.4v-176.8h3.0v176.8zM2060.8 1885.4v-30.4h3.0v30.4zM2066.0 1885.4v-39.8h3.0v39.8zM2071.2 1885.4v-92.6h3.0v92.6zM2076.4 1885.4v-5.0h3.0v5.0zM2081.6 1885.4v-12.0h3.0v12.0zM2086.8 1885.4v-17.9h3.0v17.9zM2092.0 1885.4v-16.9h3.0v16.9zM2097.3 1885.4v-23.4h3.0v23.4zM2102.5 1885.4v-12.4h3.0v12.4zM2112.9 1885.4v-10.5h3.0v10.5zM2118.1 1885.4v-5.5h3.0v5.5zM2123.3 1885.4v-23.4h3.0v23.4zM2128.5 1885.4v-13.9h3.0v13.9zM2133.8 1885.4v-8.5h3.0v8.5zM2139.0 1885.4v-19.4h3.0v19.4zM2144.2 1885.4v-20.9h3.0v20.9zM2149.4 1885.4v-10.0h3.0v10.0zM2159.8 1885.4v-13.9h3.0v13.9zM2165.0 1885.4v-18.9h3.0v18.9zM2170.3 1885.4v-20.9h3.0v20.9zM2175.5 1885.4v-4.5h3.0v4.5zM2180.7 1885.4v-13.9h3.0v13.9zM2185.9 1885.4v-17.9h3.0v17.9zM2191.1 1885.4v-28.9h3.0v28.9zM2196.3 1885.4v-12.4h3.0v12.4zM2206.8 1885.4v-23.4h3.0v23.4zM2212.0 1885.4v-12.4h3.0v12.4zM2217.2 1885.4v-12.4h3.0v12.4zM2227.6 1885.4v-16.4h3.0v16.4zM2232.8 1885.4v-13.9h3.0v13.9zM2238.0 1885.4v-10.5h3.0v10.5zM2243.3 1885.4v-4.5h3.0v4.5zM2248.5 1885.4v-10.0h3.0v10.0zM2253.7 1885.4v-4.5h3.0v4.5zM2258.9 1885.4v-10.0h3.0v10.0zM2264.1 1885.4v-17.9h3.0v17.9zM2274.5 1885.4v-16.4h3.0v16.4zM2279.7 1885.4v-11.0h3.0v11.0zM2285.0 1885.4v-13.9h3.0v13.9zM2290.2 1885.4v-37.8h3.0v37.8zM2295.4 1885.4v-12.4h3.0v12.4zM2300.6 1885.4v-5.5h3.0v5.5zM2305.8 1885.4v-26.9h3.0v26.9zM2311.0 1885.4v-17.9h3.0v17.9zM2321.5 1885.4v-26.9h3.0v26.9zM2326.7 1885.4v-17.9h3.0v17.9zM2331.9 1885.4v-4.5h3.0v4.5zM2342.3 1885.4v-38.8h3.0v38.8zM2347.5 1885.4v-43.3h3.0v43.3zM2352.7 1885.4v-24.9h3.0v24.9zM2358.0 1885.4v-18.9h3.0v18.9zM2363.2 1885.4v-27.9h3.0v27.9zM2368.4 1885.4v-45.8h3.0v45.8zM2373.6 1885.4v-34.4h3.0v34.4zM2378.8 1885.4v-26.4h3.0v26.4z" fill="#0062b0"/>
<path d="M1763.6 1885.4v-28.9h3.0v28.9zM1810.5 1885.4v-16.4h3.0v16.4zM1831.3 1885.4v-17.9h3.0v17.9zM1878.3 1885.4v-14.9h3.0v14.9zM1925.2 1885.4v-13.9h3.0v13.9zM1946.1 1885.4v-51.8h3.0v51.8zM1993.0 1885.4v-140.9h3.0v140.9zM2039.9 1885.4v-48.3h3.0v48.3zM2107.7 1885.4v-22.4h3.0v22.4zM2154.6 1885.4v-12.4h3.0v12.4zM2201.5 1885.4v-12.4h3.0v12.4zM2222.4 1885.4v-21.4h3.0v21.4zM2269.3 1885.4v-29.9h3.0v29.9zM2316.2 1885.4v-13.9h3.0v13.9zM2337.1 1885.4v-38.8h3.0v38.8zM2384.0 1885.4v-38.8h3.0v38.8z" fill="#6fa6c6"/>
<rect x="1733.6" y="1373.7" width="686.7" height="511.7" fill="none" stroke="#000" stroke-width="2.0"/>
<line x1="1762.30" y1="1885.4" x2="1762.30" y2="1892.1" stroke="#000" stroke-width="2.0"/>
<text x="1762.30" y="1914.4" font-size="18.4" text-anchor="middle">0</text>
<line x1="1866.58" y1="1885.4" x2="1866.58" y2="1892.1" stroke="#000" stroke-width="2.0"/>
<text x="1866.58" y="1914.4" font-size="18.4" text-anchor="middle">20</text>
<line x1="1970.86" y1="1885.4" x2="1970.86" y2="1892.1" stroke="#000" stroke-width="2.0"/>
<text x="1970.86" y="1914.4" font-size="18.4" text-anchor="middle">40</text>
<line x1="2075.14" y1="1885.4" x2="2075.14" y2="1892.1" stroke="#000" stroke-width="2.0"/>
<text x="2075.14" y="1914.4" font-size="18.4" text-anchor="middle">60</text>
<line x1="2179.42" y1="1885.4" x2="2179.42" y2="1892.1" stroke="#000" stroke-width="2.0"/>
<text x="2179.42" y="1914.4" font-size="18.4" text-anchor="middle">80</text>
<line x1="2283.70" y1="1885.4" x2="2283.70" y2="1892.1" stroke="#000" stroke-width="2.0"/>
<text x="2283.70" y="1914.4" font-size="18.4" text-anchor="middle">100</text>
<line x1="2387.98" y1="1885.4" x2="2387.98" y2="1892.1" stroke="#000" stroke-width="2.0"/>
<text x="2387.98" y="1914.4" font-size="18.4" text-anchor="middle">120</text>
<line x1="1726.9" y1="1885.40" x2="1733.6" y2="1885.40" stroke="#000" stroke-width="2.0"/>
<text x="1720.0" y="1893.10" font-size="18.4" text-anchor="end">0.00</text>
<line x1="1726.9" y1="1785.80" x2="1733.6" y2="1785.80" stroke="#000" stroke-width="2.0"/>
<text x="1720.0" y="1793.50" font-size="18.4" text-anchor="end">0.02</text>
<line x1="1726.9" y1="1686.20" x2="1733.6" y2="1686.20" stroke="#000" stroke-width="2.0"/>
<text x="1720.0" y="1693.90" font-size="18.4" text-anchor="end">0.04</text>
<line x1="1726.9" y1="1586.60" x2="1733.6" y2="1586.60" stroke="#000" stroke-width="2.0"/>
<text x="1720.0" y="1594.30" font-size="18.4" text-anchor="end">0.06</text>
<line x1="1726.9" y1="1487.00" x2="1733.6" y2="1487.00" stroke="#000" stroke-width="2.0"/>
<text x="1720.0" y="1494.70" font-size="18.4" text-anchor="end">0.08</text>
<line x1="1726.9" y1="1387.40" x2="1733.6" y2="1387.40" stroke="#000" stroke-width="2.0"/>
<text x="1720.0" y="1395.10" font-size="18.4" text-anchor="end">0.10</text>
<text x="2076.9" y="1940.9" font-size="19.24" text-anchor="middle">Feature</text>
<text transform="translate(1665.6,1630.1) rotate(-90)" font-size="19.24" text-anchor="middle">Importance</text>
<text x="2075.9" y="1362.1" font-size="23.2" text-anchor="middle">Feature importance of 120-dimensional features of Sub 18</text>
</g><g class="bc">
<g class="tc" opacity="0.4"><rect x="1733.6" y="1373.7" width="686.7" height="511.7" fill="none" stroke="#000" stroke-width="2.0"/><line x1="1762.30" y1="1885.4" x2="1762.30" y2="1892.1" stroke="#000" stroke-width="2.0"/><text x="1762.30" y="1914.4" font-size="18.4" text-anchor="middle">0</text><line x1="1866.58" y1="1885.4" x2="1866.58" y2="1892.1" stroke="#000" stroke-width="2.0"/><text x="1866.58" y="1914.4" font-size="18.4" text-anchor="middle">20</text><line x1="1970.86" y1="1885.4" x2="1970.86" y2="1892.1" stroke="#000" stroke-width="2.0"/><text x="1970.86" y="1914.4" font-size="18.4" text-anchor="middle">40</text><line x1="2075.14" y1="1885.4" x2="2075.14" y2="1892.1" stroke="#000" stroke-width="2.0"/><text x="2075.14" y="1914.4" font-size="18.4" text-anchor="middle">60</text><line x1="2179.42" y1="1885.4" x2="2179.42" y2="1892.1" stroke="#000" stroke-width="2.0"/><text x="2179.42" y="1914.4" font-size="18.4" text-anchor="middle">80</text><line x1="2283.70" y1="1885.4" x2="2283.70" y2="1892.1" stroke="#000" stroke-width="2.0"/><text x="2283.70" y="1914.4" font-size="18.4" text-anchor="middle">100</text><line x1="2387.98" y1="1885.4" x2="2387.98" y2="1892.1" stroke="#000" stroke-width="2.0"/><text x="2387.98" y="1914.4" font-size="18.4" text-anchor="middle">120</text><line x1="1726.9" y1="1885.40" x2="1733.6" y2="1885.40" stroke="#000" stroke-width="2.0"/><text x="1720.0" y="1893.10" font-size="18.4" text-anchor="end">0.00</text><line x1="1726.9" y1="1785.80" x2="1733.6" y2="1785.80" stroke="#000" stroke-width="2.0"/><text x="1720.0" y="1793.50" font-size="18.4" text-anchor="end">0.02</text><line x1="1726.9" y1="1686.20" x2="1733.6" y2="1686.20" stroke="#000" stroke-width="2.0"/><text x="1720.0" y="1693.90" font-size="18.4" text-anchor="end">0.04</text><line x1="1726.9" y1="1586.60" x2="1733.6" y2="1586.60" stroke="#000" stroke-width="2.0"/><text x="1720.0" y="1594.30" font-size="18.4" text-anchor="end">0.06</text><line x1="1726.9" y1="1487.00" x2="1733.6" y2="1487.00" stroke="#000" stroke-width="2.0"/><text x="1720.0" y="1494.70" font-size="18.4" text-anchor="end">0.08</text><line x1="1726.9" y1="1387.40" x2="1733.6" y2="1387.40" stroke="#000" stroke-width="2.0"/><text x="1720.0" y="1395.10" font-size="18.4" text-anchor="end">0.10</text><text x="2076.9" y="1940.9" font-size="19.24" text-anchor="middle">Feature</text><text transform="translate(1665.6,1630.1) rotate(-90)" font-size="19.24" text-anchor="middle">Importance</text><text x="2075.9" y="1362.1" font-size="23.2" text-anchor="middle">Feature importance of 120-dimensional features of Sub 18</text></g>
<path d="M1769.4 1885.0v-20.7h1.8v20.7zM1774.6 1885.0v-19.7h1.8v19.7zM1779.8 1885.0v-5.8h1.8v5.8zM1785.0 1885.0v-19.7h1.8v19.7zM1790.2 1885.0v-7.3h1.8v7.3zM1795.4 1885.0v-18.2h1.8v18.2zM1800.7 1885.0v-37.1h1.8v37.1zM1805.9 1885.0v-15.2h1.8v15.2zM1816.3 1885.0v-41.6h1.8v41.6zM1821.5 1885.0v-16.7h1.8v16.7zM1826.7 1885.0v-22.2h1.8v22.2zM1837.2 1885.0v-19.7h1.8v19.7zM1842.4 1885.0v-9.8h1.8v9.8zM1847.6 1885.0v-7.3h1.8v7.3zM1852.8 1885.0v-80.5h1.8v80.5zM1858.0 1885.0v-27.2h1.8v27.2zM1863.2 1885.0v-7.3h1.8v7.3zM1868.4 1885.0v-15.2h1.8v15.2zM1873.7 1885.0v-59.6h1.8v59.6zM1884.1 1885.0v-27.7h1.8v27.7zM1889.3 1885.0v-23.7h1.8v23.7zM1894.5 1885.0v-5.8h1.8v5.8zM1899.7 1885.0v-8.8h1.8v8.8zM1904.9 1885.0v-20.7h1.8v20.7zM1910.2 1885.0v-12.7h1.8v12.7zM1915.4 1885.0v-23.7h1.8v23.7zM1920.6 1885.0v-9.3h1.8v9.3zM1931.0 1885.0v-150.2h1.8v150.2zM1936.2 1885.0v-178.6h1.8v178.6zM1941.4 1885.0v-34.7h1.8v34.7zM1951.9 1885.0v-52.6h1.8v52.6zM1957.1 1885.0v-487.3h1.8v487.3zM1962.3 1885.0v-227.4h1.8v227.4zM1967.5 1885.0v-80.5h1.8v80.5zM1972.7 1885.0v-126.3h1.8v126.3zM1977.9 1885.0v-13.7h1.8v13.7zM1983.2 1885.0v-84.5h1.8v84.5zM1988.4 1885.0v-93.9h1.8v93.9zM1998.8 1885.0v-47.1h1.8v47.1zM2004.0 1885.0v-166.6h1.8v166.6zM2009.2 1885.0v-338.9h1.8v338.9zM2014.4 1885.0v-109.9h1.8v109.9zM2019.6 1885.0v-45.1h1.8v45.1zM2024.9 1885.0v-14.7h1.8v14.7zM2030.1 1885.0v-92.9h1.8v92.9zM2035.3 1885.0v-111.8h1.8v111.8zM2045.7 1885.0v-30.7h1.8v30.7zM2050.9 1885.0v-37.1h1.8v37.1zM2056.1 1885.0v-175.6h1.8v175.6zM2061.4 1885.0v-29.2h1.8v29.2zM2066.6 1885.0v-38.6h1.8v38.6zM2071.8 1885.0v-91.4h1.8v91.4zM2077.0 1885.0v-3.8h1.8v3.8zM2082.2 1885.0v-10.8h1.8v10.8zM2087.4 1885.0v-16.7h1.8v16.7zM2092.6 1885.0v-15.7h1.8v15.7zM2097.9 1885.0v-22.2h1.8v22.2zM2103.1 1885.0v-11.2h1.8v11.2zM2113.5 1885.0v-9.3h1.8v9.3zM2118.7 1885.0v-4.3h1.8v4.3zM2123.9 1885.0v-22.2h1.8v22.2zM2129.1 1885.0v-12.7h1.8v12.7zM2134.4 1885.0v-7.3h1.8v7.3zM2139.6 1885.0v-18.2h1.8v18.2zM2144.8 1885.0v-19.7h1.8v19.7zM2150.0 1885.0v-8.8h1.8v8.8zM2160.4 1885.0v-12.7h1.8v12.7zM2165.6 1885.0v-17.7h1.8v17.7zM2170.9 1885.0v-19.7h1.8v19.7zM2176.1 1885.0v-3.3h1.8v3.3zM2181.3 1885.0v-12.7h1.8v12.7zM2186.5 1885.0v-16.7h1.8v16.7zM2191.7 1885.0v-27.7h1.8v27.7zM2196.9 1885.0v-11.2h1.8v11.2zM2207.4 1885.0v-22.2h1.8v22.2zM2212.6 1885.0v-11.2h1.8v11.2zM2217.8 1885.0v-11.2h1.8v11.2zM2228.2 1885.0v-15.2h1.8v15.2zM2233.4 1885.0v-12.7h1.8v12.7zM2238.6 1885.0v-9.3h1.8v9.3zM2243.9 1885.0v-3.3h1.8v3.3zM2249.1 1885.0v-8.8h1.8v8.8zM2254.3 1885.0v-3.3h1.8v3.3zM2259.5 1885.0v-8.8h1.8v8.8zM2264.7 1885.0v-16.7h1.8v16.7zM2275.1 1885.0v-15.2h1.8v15.2zM2280.3 1885.0v-9.8h1.8v9.8zM2285.6 1885.0v-12.7h1.8v12.7zM2290.8 1885.0v-36.6h1.8v36.6zM2296.0 1885.0v-11.2h1.8v11.2zM2301.2 1885.0v-4.3h1.8v4.3zM2306.4 1885.0v-25.7h1.8v25.7zM2311.6 1885.0v-16.7h1.8v16.7zM2322.1 1885.0v-25.7h1.8v25.7zM2327.3 1885.0v-16.7h1.8v16.7zM2332.5 1885.0v-3.3h1.8v3.3zM2342.9 1885.0v-37.6h1.8v37.6zM2348.1 1885.0v-42.1h1.8v42.1zM2353.3 1885.0v-23.7h1.8v23.7zM2358.6 1885.0v-17.7h1.8v17.7zM2363.8 1885.0v-26.7h1.8v26.7zM2369.0 1885.0v-44.6h1.8v44.6zM2374.2 1885.0v-33.2h1.8v33.2zM2379.4 1885.0v-25.2h1.8v25.2z" fill="#0062b0" opacity="0.55"/>
<path d="M1764.2 1885.0v-27.7h1.8v27.7zM1811.1 1885.0v-15.2h1.8v15.2zM1831.9 1885.0v-16.7h1.8v16.7zM1878.9 1885.0v-13.7h1.8v13.7zM1925.8 1885.0v-12.7h1.8v12.7zM1946.7 1885.0v-50.6h1.8v50.6zM1993.6 1885.0v-139.7h1.8v139.7zM2040.5 1885.0v-47.1h1.8v47.1zM2108.3 1885.0v-21.2h1.8v21.2zM2155.2 1885.0v-11.2h1.8v11.2zM2202.1 1885.0v-11.2h1.8v11.2zM2223.0 1885.0v-20.2h1.8v20.2zM2269.9 1885.0v-28.7h1.8v28.7zM2316.8 1885.0v-12.7h1.8v12.7zM2337.7 1885.0v-37.6h1.8v37.6zM2384.6 1885.0v-37.6h1.8v37.6z" fill="#6fa6c6" opacity="0.55"/>
<line x1="1762.30" y1="1437.7" x2="1762.30" y2="1849.4" stroke="#1a1a1a" stroke-width="2.0" stroke-dasharray="3.4 2.1"/>
<line x1="1924.46" y1="1437.7" x2="1924.46" y2="1849.4" stroke="#1a1a1a" stroke-width="2.0" stroke-dasharray="3.4 2.1"/>
<line x1="2078.27" y1="1437.7" x2="2078.27" y2="1849.4" stroke="#1a1a1a" stroke-width="2.0" stroke-dasharray="3.4 2.1"/>
<line x1="2237.30" y1="1437.7" x2="2237.30" y2="1849.4" stroke="#1a1a1a" stroke-width="2.0" stroke-dasharray="3.4 2.1"/>
<line x1="2386.42" y1="1437.7" x2="2386.42" y2="1849.4" stroke="#1a1a1a" stroke-width="2.0" stroke-dasharray="3.4 2.1"/>
<text x="1843.1" y="1464.3" font-size="19.5" text-anchor="middle" textLength="62" class="bl" lengthAdjust="spacingAndGlyphs"><tspan font-style="italic">α</tspan> band</text>
<text x="2000.1" y="1464.3" font-size="19.5" text-anchor="middle" textLength="62" class="bl" lengthAdjust="spacingAndGlyphs"><tspan font-style="italic">β</tspan> band</text>
<text x="2154.4" y="1464.3" font-size="19.5" text-anchor="middle" textLength="62" class="bl" lengthAdjust="spacingAndGlyphs"><tspan font-style="italic">θ</tspan> band</text>
<text x="2313.9" y="1464.3" font-size="19.5" text-anchor="middle" textLength="62" class="bl" lengthAdjust="spacingAndGlyphs"><tspan font-style="italic">δ</tspan> band</text>
</g>
<g filter="url(#b2)" class="hm">
<path d="M139.7 2088.7h33.4v31.9h-33.4z" fill="#04aa7c"/>
<path d="M172.5 2088.7h33.4v31.9h-33.4z" fill="#04aa7c"/>
<path d="M205.4 2088.7h33.4v31.9h-33.4z" fill="#04aa7c"/>
<path d="M238.2 2088.7h33.4v31.9h-33.4z" fill="#521f7f"/>
<path d="M271.0 2088.7h33.4v31.9h-33.4z" fill="#07778f"/>
<path d="M303.8 2088.7h33.4v31.9h-33.4z" fill="#04cc52"/>
<path d="M336.7 2088.7h33.4v31.9h-33.4z" fill="#0acd4d"/>
<path d="M369.5 2088.7h33.4v31.9h-33.4z" fill="#4e0466"/>
<path d="M402.3 2088.7h33.4v31.9h-33.4z" fill="#4f2984"/>
<path d="M435.1 2088.7h33.4v31.9h-33.4z" fill="#07778f"/>
<path d="M468.0 2088.7h33.4v31.9h-33.4z" fill="#07778f"/>
<path d="M500.8 2088.7h33.4v31.9h-33.4z" fill="#b2e011"/>
<path d="M533.6 2088.7h33.4v31.9h-33.4z" fill="#4e0466"/>
<path d="M566.4 2088.7h33.4v31.9h-33.4z" fill="#7dda1b"/>
<path d="M599.3 2088.7h33.4v31.9h-33.4z" fill="#06908a"/>
<path d="M632.1 2088.7h33.4v31.9h-33.4z" fill="#07778f"/>
<path d="M664.9 2088.7h33.4v31.9h-33.4z" fill="#06908a"/>
<path d="M697.8 2088.7h33.4v31.9h-33.4z" fill="#500569"/>
<path d="M730.6 2088.7h33.4v31.9h-33.4z" fill="#73d81d"/>
<path d="M763.4 2088.7h33.4v31.9h-33.4z" fill="#06908a"/>
<path d="M796.2 2088.7h33.4v31.9h-33.4z" fill="#07778f"/>
<path d="M829.1 2088.7h33.4v31.9h-33.4z" fill="#04c361"/>
<path d="M861.9 2088.7h33.4v31.9h-33.4z" fill="#f0e50f"/>
<path d="M894.7 2088.7h33.4v31.9h-33.4z" fill="#04c361"/>
<path d="M927.5 2088.7h33.4v31.9h-33.4z" fill="#b2e011"/>
<path d="M960.4 2088.7h33.4v31.9h-33.4z" fill="#059987"/>
<path d="M993.2 2088.7h33.4v31.9h-33.4z" fill="#059987"/>
<path d="M1026.0 2088.7h33.4v31.9h-33.4z" fill="#f4e60f"/>
<path d="M1058.8 2088.7h33.4v31.9h-33.4z" fill="#059d85"/>
<path d="M1091.7 2088.7h33.4v31.9h-33.4z" fill="#059d85"/>
<path d="M139.7 2120.0h33.4v32.1h-33.4z" fill="#521c7c"/>
<path d="M172.5 2120.0h33.4v32.1h-33.4z" fill="#521c7c"/>
<path d="M205.4 2120.0h33.4v32.1h-33.4z" fill="#4b0260"/>
<path d="M238.2 2120.0h33.4v32.1h-33.4z" fill="#521f7f"/>
<path d="M271.0 2120.0h33.4v32.1h-33.4z" fill="#b2e011"/>
<path d="M303.8 2120.0h33.4v32.1h-33.4z" fill="#500569"/>
<path d="M336.7 2120.0h33.4v32.1h-33.4z" fill="#4d0363"/>
<path d="M369.5 2120.0h33.4v32.1h-33.4z" fill="#4d0363"/>
<path d="M402.3 2120.0h33.4v32.1h-33.4z" fill="#4d0363"/>
<path d="M435.1 2120.0h33.4v32.1h-33.4z" fill="#520e73"/>
<path d="M468.0 2120.0h33.4v32.1h-33.4z" fill="#4b0260"/>
<path d="M500.8 2120.0h33.4v32.1h-33.4z" fill="#4b0260"/>
<path d="M533.6 2120.0h33.4v32.1h-33.4z" fill="#4b0260"/>
<path d="M566.4 2120.0h33.4v32.1h-33.4z" fill="#4b0260"/>
<path d="M599.3 2120.0h33.4v32.1h-33.4z" fill="#04b573"/>
<path d="M632.1 2120.0h33.4v32.1h-33.4z" fill="#4b0260"/>
<path d="M664.9 2120.0h33.4v32.1h-33.4z" fill="#4b0260"/>
<path d="M697.8 2120.0h33.4v32.1h-33.4z" fill="#4d0363"/>
<path d="M730.6 2120.0h33.4v32.1h-33.4z" fill="#4d0363"/>
<path d="M763.4 2120.0h33.4v32.1h-33.4z" fill="#521578"/>
<path d="M796.2 2120.0h33.4v32.1h-33.4z" fill="#521578"/>
<path d="M829.1 2120.0h33.4v32.1h-33.4z" fill="#04b771"/>
<path d="M861.9 2120.0h33.4v32.1h-33.4z" fill="#077c8e"/>
<path d="M894.7 2120.0h33.4v32.1h-33.4z" fill="#08758f"/>
<path d="M927.5 2120.0h33.4v32.1h-33.4z" fill="#48d42e"/>
<path d="M960.4 2120.0h33.4v32.1h-33.4z" fill="#dee30e"/>
<path d="M993.2 2120.0h33.4v32.1h-33.4z" fill="#521c7c"/>
<path d="M1026.0 2120.0h33.4v32.1h-33.4z" fill="#059d85"/>
<path d="M1058.8 2120.0h33.4v32.1h-33.4z" fill="#059d85"/>
<path d="M1091.7 2120.0h33.4v32.1h-33.4z" fill="#059d85"/>
<path d="M139.7 2151.5h33.4v35.3h-33.4z" fill="#145b95"/>
<path d="M172.5 2151.5h33.4v35.3h-33.4z" fill="#145b95"/>
<path d="M205.4 2151.5h33.4v35.3h-33.4z" fill="#0b6195"/>
<path d="M238.2 2151.5h33.4v35.3h-33.4z" fill="#07818e"/>
<path d="M271.0 2151.5h33.4v35.3h-33.4z" fill="#07818e"/>
<path d="M303.8 2151.5h33.4v35.3h-33.4z" fill="#0a6594"/>
<path d="M336.7 2151.5h33.4v35.3h-33.4z" fill="#04aa7c"/>
<path d="M369.5 2151.5h33.4v35.3h-33.4z" fill="#059987"/>
<path d="M402.3 2151.5h33.4v35.3h-33.4z" fill="#0a6594"/>
<path d="M435.1 2151.5h33.4v35.3h-33.4z" fill="#d6e30f"/>
<path d="M468.0 2151.5h33.4v35.3h-33.4z" fill="#f0e50f"/>
<path d="M500.8 2151.5h33.4v35.3h-33.4z" fill="#04b573"/>
<path d="M533.6 2151.5h33.4v35.3h-33.4z" fill="#06908a"/>
<path d="M566.4 2151.5h33.4v35.3h-33.4z" fill="#0a6594"/>
<path d="M599.3 2151.5h33.4v35.3h-33.4z" fill="#7dda1b"/>
<path d="M632.1 2151.5h33.4v35.3h-33.4z" fill="#48d42e"/>
<path d="M664.9 2151.5h33.4v35.3h-33.4z" fill="#04b573"/>
<path d="M697.8 2151.5h33.4v35.3h-33.4z" fill="#f0e50f"/>
<path d="M730.6 2151.5h33.4v35.3h-33.4z" fill="#0a6594"/>
<path d="M763.4 2151.5h33.4v35.3h-33.4z" fill="#0a6594"/>
<path d="M796.2 2151.5h33.4v35.3h-33.4z" fill="#c4e10f"/>
<path d="M829.1 2151.5h33.4v35.3h-33.4z" fill="#04b375"/>
<path d="M861.9 2151.5h33.4v35.3h-33.4z" fill="#04c361"/>
<path d="M894.7 2151.5h33.4v35.3h-33.4z" fill="#f4e60f"/>
<path d="M927.5 2151.5h33.4v35.3h-33.4z" fill="#04bf67"/>
<path d="M960.4 2151.5h33.4v35.3h-33.4z" fill="#077c8e"/>
<path d="M993.2 2151.5h33.4v35.3h-33.4z" fill="#04bf67"/>
<path d="M1026.0 2151.5h33.4v35.3h-33.4z" fill="#04bf67"/>
<path d="M1058.8 2151.5h33.4v35.3h-33.4z" fill="#04bf67"/>
<path d="M1091.7 2151.5h33.4v35.3h-33.4z" fill="#73d81d"/>
<path d="M139.7 2186.2h33.4v34.3h-33.4z" fill="#9ddd15"/>
<path d="M172.5 2186.2h33.4v34.3h-33.4z" fill="#04c361"/>
<path d="M205.4 2186.2h33.4v34.3h-33.4z" fill="#92dc17"/>
<path d="M238.2 2186.2h33.4v34.3h-33.4z" fill="#433d90"/>
<path d="M271.0 2186.2h33.4v34.3h-33.4z" fill="#087090"/>
<path d="M303.8 2186.2h33.4v34.3h-33.4z" fill="#a8de13"/>
<path d="M336.7 2186.2h33.4v34.3h-33.4z" fill="#433d90"/>
<path d="M369.5 2186.2h33.4v34.3h-33.4z" fill="#7dda1b"/>
<path d="M402.3 2186.2h33.4v34.3h-33.4z" fill="#374792"/>
<path d="M435.1 2186.2h33.4v34.3h-33.4z" fill="#096a92"/>
<path d="M468.0 2186.2h33.4v34.3h-33.4z" fill="#096a92"/>
<path d="M500.8 2186.2h33.4v34.3h-33.4z" fill="#2e4e93"/>
<path d="M533.6 2186.2h33.4v34.3h-33.4z" fill="#06898c"/>
<path d="M566.4 2186.2h33.4v34.3h-33.4z" fill="#374792"/>
<path d="M599.3 2186.2h33.4v34.3h-33.4z" fill="#077c8e"/>
<path d="M632.1 2186.2h33.4v34.3h-33.4z" fill="#0b6195"/>
<path d="M664.9 2186.2h33.4v34.3h-33.4z" fill="#4f2984"/>
<path d="M697.8 2186.2h33.4v34.3h-33.4z" fill="#e7e40e"/>
<path d="M730.6 2186.2h33.4v34.3h-33.4z" fill="#096a92"/>
<path d="M763.4 2186.2h33.4v34.3h-33.4z" fill="#433d90"/>
<path d="M796.2 2186.2h33.4v34.3h-33.4z" fill="#077c8e"/>
<path d="M829.1 2186.2h33.4v34.3h-33.4z" fill="#04bb6d"/>
<path d="M861.9 2186.2h33.4v34.3h-33.4z" fill="#443a8e"/>
<path d="M894.7 2186.2h33.4v34.3h-33.4z" fill="#443a8e"/>
<path d="M927.5 2186.2h33.4v34.3h-33.4z" fill="#04bb6d"/>
<path d="M960.4 2186.2h33.4v34.3h-33.4z" fill="#52076f"/>
<path d="M993.2 2186.2h33.4v34.3h-33.4z" fill="#521f7f"/>
<path d="M1026.0 2186.2h33.4v34.3h-33.4z" fill="#52076f"/>
<path d="M1058.8 2186.2h33.4v34.3h-33.4z" fill="#52076f"/>
<path d="M1091.7 2186.2h33.4v34.3h-33.4z" fill="#04c361"/>
<rect x="140.0" y="2089.0" width="984.8" height="131.2" fill="none" stroke="#222" stroke-width="2"/>
<line x1="130.4" y1="2105.40" x2="140.0" y2="2105.40" stroke="#222" stroke-width="2"/>
<text x="122.0" y="2113.90" font-size="27.0" text-anchor="end">α</text>
<line x1="130.4" y1="2138.20" x2="140.0" y2="2138.20" stroke="#222" stroke-width="2"/>
<text x="122.0" y="2146.70" font-size="27.0" text-anchor="end">β</text>
<line x1="130.4" y1="2171.00" x2="140.0" y2="2171.00" stroke="#222" stroke-width="2"/>
<text x="122.0" y="2179.50" font-size="27.0" text-anchor="end">θ</text>
<line x1="130.4" y1="2203.80" x2="140.0" y2="2203.80" stroke="#222" stroke-width="2"/>
<text x="122.0" y="2212.30" font-size="27.0" text-anchor="end">δ</text>
<line x1="156.41" y1="2220.2" x2="156.41" y2="2229.8" stroke="#222" stroke-width="2"/>
<text transform="translate(156.41,2266.28) rotate(45)" y="7.43" font-size="27.0" text-anchor="middle">FP1</text>
<line x1="189.24" y1="2220.2" x2="189.24" y2="2229.8" stroke="#222" stroke-width="2"/>
<text transform="translate(189.24,2266.28) rotate(45)" y="7.43" font-size="27.0" text-anchor="middle">FP2</text>
<line x1="222.07" y1="2220.2" x2="222.07" y2="2229.8" stroke="#222" stroke-width="2"/>
<text transform="translate(222.07,2260.52) rotate(45)" y="7.43" font-size="27.0" text-anchor="middle">F7</text>
<line x1="254.89" y1="2220.2" x2="254.89" y2="2229.8" stroke="#222" stroke-width="2"/>
<text transform="translate(254.89,2260.52) rotate(45)" y="7.43" font-size="27.0" text-anchor="middle">F3</text>
<line x1="287.72" y1="2220.2" x2="287.72" y2="2229.8" stroke="#222" stroke-width="2"/>
<text transform="translate(287.72,2260.99) rotate(45)" y="7.43" font-size="27.0" text-anchor="middle">FZ</text>
<line x1="320.55" y1="2220.2" x2="320.55" y2="2229.8" stroke="#222" stroke-width="2"/>
<text transform="translate(320.55,2260.52) rotate(45)" y="7.43" font-size="27.0" text-anchor="middle">F4</text>
<line x1="353.37" y1="2220.2" x2="353.37" y2="2229.8" stroke="#222" stroke-width="2"/>
<text transform="translate(353.37,2260.52) rotate(45)" y="7.43" font-size="27.0" text-anchor="middle">F8</text>
<line x1="386.20" y1="2220.2" x2="386.20" y2="2229.8" stroke="#222" stroke-width="2"/>
<text transform="translate(386.20,2266.35) rotate(45)" y="7.43" font-size="27.0" text-anchor="middle">FT7</text>
<line x1="419.03" y1="2220.2" x2="419.03" y2="2229.8" stroke="#222" stroke-width="2"/>
<text transform="translate(419.03,2267.18) rotate(45)" y="7.43" font-size="27.0" text-anchor="middle">FC3</text>
<line x1="451.85" y1="2220.2" x2="451.85" y2="2229.8" stroke="#222" stroke-width="2"/>
<text transform="translate(451.85,2267.65) rotate(45)" y="7.43" font-size="27.0" text-anchor="middle">FCZ</text>
<line x1="484.68" y1="2220.2" x2="484.68" y2="2229.8" stroke="#222" stroke-width="2"/>
<text transform="translate(484.68,2267.18) rotate(45)" y="7.43" font-size="27.0" text-anchor="middle">FC4</text>
<line x1="517.51" y1="2220.2" x2="517.51" y2="2229.8" stroke="#222" stroke-width="2"/>
<text transform="translate(517.51,2266.35) rotate(45)" y="7.43" font-size="27.0" text-anchor="middle">FT8</text>
<line x1="550.33" y1="2220.2" x2="550.33" y2="2229.8" stroke="#222" stroke-width="2"/>
<text transform="translate(550.33,2260.86) rotate(45)" y="7.43" font-size="27.0" text-anchor="middle">T3</text>
<line x1="583.16" y1="2220.2" x2="583.16" y2="2229.8" stroke="#222" stroke-width="2"/>
<text transform="translate(583.16,2261.69) rotate(45)" y="7.43" font-size="27.0" text-anchor="middle">C3</text>
<line x1="615.99" y1="2220.2" x2="615.99" y2="2229.8" stroke="#222" stroke-width="2"/>
<text transform="translate(615.99,2262.16) rotate(45)" y="7.43" font-size="27.0" text-anchor="middle">CZ</text>
<line x1="648.81" y1="2220.2" x2="648.81" y2="2229.8" stroke="#222" stroke-width="2"/>
<text transform="translate(648.81,2261.69) rotate(45)" y="7.43" font-size="27.0" text-anchor="middle">C4</text>
<line x1="681.64" y1="2220.2" x2="681.64" y2="2229.8" stroke="#222" stroke-width="2"/>
<text transform="translate(681.64,2260.86) rotate(45)" y="7.43" font-size="27.0" text-anchor="middle">T4</text>
<line x1="714.47" y1="2220.2" x2="714.47" y2="2229.8" stroke="#222" stroke-width="2"/>
<text transform="translate(714.47,2266.62) rotate(45)" y="7.43" font-size="27.0" text-anchor="middle">TP7</text>
<line x1="747.29" y1="2220.2" x2="747.29" y2="2229.8" stroke="#222" stroke-width="2"/>
<text transform="translate(747.29,2267.45) rotate(45)" y="7.43" font-size="27.0" text-anchor="middle">CP3</text>
<line x1="780.12" y1="2220.2" x2="780.12" y2="2229.8" stroke="#222" stroke-width="2"/>
<text transform="translate(780.12,2267.92) rotate(45)" y="7.43" font-size="27.0" text-anchor="middle">CPZ</text>
<line x1="812.95" y1="2220.2" x2="812.95" y2="2229.8" stroke="#222" stroke-width="2"/>
<text transform="translate(812.95,2267.45) rotate(45)" y="7.43" font-size="27.0" text-anchor="middle">CP4</text>
<line x1="845.77" y1="2220.2" x2="845.77" y2="2229.8" stroke="#222" stroke-width="2"/>
<text transform="translate(845.77,2266.62) rotate(45)" y="7.43" font-size="27.0" text-anchor="middle">TP8</text>
<line x1="878.60" y1="2220.2" x2="878.60" y2="2229.8" stroke="#222" stroke-width="2"/>
<text transform="translate(878.60,2260.86) rotate(45)" y="7.43" font-size="27.0" text-anchor="middle">T5</text>
<line x1="911.43" y1="2220.2" x2="911.43" y2="2229.8" stroke="#222" stroke-width="2"/>
<text transform="translate(911.43,2260.79) rotate(45)" y="7.43" font-size="27.0" text-anchor="middle">P3</text>
<line x1="944.25" y1="2220.2" x2="944.25" y2="2229.8" stroke="#222" stroke-width="2"/>
<text transform="translate(944.25,2261.25) rotate(45)" y="7.43" font-size="27.0" text-anchor="middle">PZ</text>
<line x1="977.08" y1="2220.2" x2="977.08" y2="2229.8" stroke="#222" stroke-width="2"/>
<text transform="translate(977.08,2260.79) rotate(45)" y="7.43" font-size="27.0" text-anchor="middle">P4</text>
<line x1="1009.91" y1="2220.2" x2="1009.91" y2="2229.8" stroke="#222" stroke-width="2"/>
<text transform="translate(1009.91,2260.86) rotate(45)" y="7.43" font-size="27.0" text-anchor="middle">T6</text>
<line x1="1042.73" y1="2220.2" x2="1042.73" y2="2229.8" stroke="#222" stroke-width="2"/>
<text transform="translate(1042.73,2262.54) rotate(45)" y="7.43" font-size="27.0" text-anchor="middle">O1</text>
<line x1="1075.56" y1="2220.2" x2="1075.56" y2="2229.8" stroke="#222" stroke-width="2"/>
<text transform="translate(1075.56,2263.01) rotate(45)" y="7.43" font-size="27.0" text-anchor="middle">OZ</text>
<line x1="1108.39" y1="2220.2" x2="1108.39" y2="2229.8" stroke="#222" stroke-width="2"/>
<text transform="translate(1108.39,2262.54) rotate(45)" y="7.43" font-size="27.0" text-anchor="middle">O2</text>
<text x="632.4" y="2071.8" font-size="33.05" text-anchor="middle">Feature Importance Ranking of Sub 1</text>
<rect x="140.0" y="2333.0" width="984.8" height="49.4" fill="url(#cb)" stroke="#222" stroke-width="2"/>
<line x1="309.49" y1="2382.4" x2="309.49" y2="2392.0" stroke="#222" stroke-width="2"/>
<text x="309.49" y="2421.4" font-size="27.0" text-anchor="middle">20</text>
<line x1="487.89" y1="2382.4" x2="487.89" y2="2392.0" stroke="#222" stroke-width="2"/>
<text x="487.89" y="2421.4" font-size="27.0" text-anchor="middle">40</text>
<line x1="666.30" y1="2382.4" x2="666.30" y2="2392.0" stroke="#222" stroke-width="2"/>
<text x="666.30" y="2421.4" font-size="27.0" text-anchor="middle">60</text>
<line x1="844.70" y1="2382.4" x2="844.70" y2="2392.0" stroke="#222" stroke-width="2"/>
<text x="844.70" y="2421.4" font-size="27.0" text-anchor="middle">80</text>
<line x1="1023.11" y1="2382.4" x2="1023.11" y2="2392.0" stroke="#222" stroke-width="2"/>
<text x="1023.11" y="2421.4" font-size="27.0" text-anchor="middle">100</text>
</g><g class="hm tc" opacity="0.28"><line x1="130.4" y1="2105.40" x2="140.0" y2="2105.40" stroke="#222" stroke-width="2"/><text x="122.0" y="2113.90" font-size="27.0" text-anchor="end">α</text><line x1="130.4" y1="2138.20" x2="140.0" y2="2138.20" stroke="#222" stroke-width="2"/><text x="122.0" y="2146.70" font-size="27.0" text-anchor="end">β</text><line x1="130.4" y1="2171.00" x2="140.0" y2="2171.00" stroke="#222" stroke-width="2"/><text x="122.0" y="2179.50" font-size="27.0" text-anchor="end">θ</text><line x1="130.4" y1="2203.80" x2="140.0" y2="2203.80" stroke="#222" stroke-width="2"/><text x="122.0" y="2212.30" font-size="27.0" text-anchor="end">δ</text><line x1="156.41" y1="2220.2" x2="156.41" y2="2229.8" stroke="#222" stroke-width="2"/><text transform="translate(156.41,2266.28) rotate(45)" y="7.43" font-size="27.0" text-anchor="middle">FP1</text><line x1="189.24" y1="2220.2" x2="189.24" y2="2229.8" stroke="#222" stroke-width="2"/><text transform="translate(189.24,2266.28) rotate(45)" y="7.43" font-size="27.0" text-anchor="middle">FP2</text><line x1="222.07" y1="2220.2" x2="222.07" y2="2229.8" stroke="#222" stroke-width="2"/><text transform="translate(222.07,2260.52) rotate(45)" y="7.43" font-size="27.0" text-anchor="middle">F7</text><line x1="254.89" y1="2220.2" x2="254.89" y2="2229.8" stroke="#222" stroke-width="2"/><text transform="translate(254.89,2260.52) rotate(45)" y="7.43" font-size="27.0" text-anchor="middle">F3</text><line x1="287.72" y1="2220.2" x2="287.72" y2="2229.8" stroke="#222" stroke-width="2"/><text transform="translate(287.72,2260.99) rotate(45)" y="7.43" font-size="27.0" text-anchor="middle">FZ</text><line x1="320.55" y1="2220.2" x2="320.55" y2="2229.8" stroke="#222" stroke-width="2"/><text transform="translate(320.55,2260.52) rotate(45)" y="7.43" font-size="27.0" text-anchor="middle">F4</text><line x1="353.37" y1="2220.2" x2="353.37" y2="2229.8" stroke="#222" stroke-width="2"/><text transform="translate(353.37,2260.52) rotate(45)" y="7.43" font-size="27.0" text-anchor="middle">F8</text><line x1="386.20" y1="2220.2" x2="386.20" y2="2229.8" stroke="#222" stroke-width="2"/><text transform="translate(386.20,2266.35) rotate(45)" y="7.43" font-size="27.0" text-anchor="middle">FT7</text><line x1="419.03" y1="2220.2" x2="419.03" y2="2229.8" stroke="#222" stroke-width="2"/><text transform="translate(419.03,2267.18) rotate(45)" y="7.43" font-size="27.0" text-anchor="middle">FC3</text><line x1="451.85" y1="2220.2" x2="451.85" y2="2229.8" stroke="#222" stroke-width="2"/><text transform="translate(451.85,2267.65) rotate(45)" y="7.43" font-size="27.0" text-anchor="middle">FCZ</text><line x1="484.68" y1="2220.2" x2="484.68" y2="2229.8" stroke="#222" stroke-width="2"/><text transform="translate(484.68,2267.18) rotate(45)" y="7.43" font-size="27.0" text-anchor="middle">FC4</text><line x1="517.51" y1="2220.2" x2="517.51" y2="2229.8" stroke="#222" stroke-width="2"/><text transform="translate(517.51,2266.35) rotate(45)" y="7.43" font-size="27.0" text-anchor="middle">FT8</text><line x1="550.33" y1="2220.2" x2="550.33" y2="2229.8" stroke="#222" stroke-width="2"/><text transform="translate(550.33,2260.86) rotate(45)" y="7.43" font-size="27.0" text-anchor="middle">T3</text><line x1="583.16" y1="2220.2" x2="583.16" y2="2229.8" stroke="#222" stroke-width="2"/><text transform="translate(583.16,2261.69) rotate(45)" y="7.43" font-size="27.0" text-anchor="middle">C3</text><line x1="615.99" y1="2220.2" x2="615.99" y2="2229.8" stroke="#222" stroke-width="2"/><text transform="translate(615.99,2262.16) rotate(45)" y="7.43" font-size="27.0" text-anchor="middle">CZ</text><line x1="648.81" y1="2220.2" x2="648.81" y2="2229.8" stroke="#222" stroke-width="2"/><text transform="translate(648.81,2261.69) rotate(45)" y="7.43" font-size="27.0" text-anchor="middle">C4</text><line x1="681.64" y1="2220.2" x2="681.64" y2="2229.8" stroke="#222" stroke-width="2"/><text transform="translate(681.64,2260.86) rotate(45)" y="7.43" font-size="27.0" text-anchor="middle">T4</text><line x1="714.47" y1="2220.2" x2="714.47" y2="2229.8" stroke="#222" stroke-width="2"/><text transform="translate(714.47,2266.62) rotate(45)" y="7.43" font-size="27.0" text-anchor="middle">TP7</text><line x1="747.29" y1="2220.2" x2="747.29" y2="2229.8" stroke="#222" stroke-width="2"/><text transform="translate(747.29,2267.45) rotate(45)" y="7.43" font-size="27.0" text-anchor="middle">CP3</text><line x1="780.12" y1="2220.2" x2="780.12" y2="2229.8" stroke="#222" stroke-width="2"/><text transform="translate(780.12,2267.92) rotate(45)" y="7.43" font-size="27.0" text-anchor="middle">CPZ</text><line x1="812.95" y1="2220.2" x2="812.95" y2="2229.8" stroke="#222" stroke-width="2"/><text transform="translate(812.95,2267.45) rotate(45)" y="7.43" font-size="27.0" text-anchor="middle">CP4</text><line x1="845.77" y1="2220.2" x2="845.77" y2="2229.8" stroke="#222" stroke-width="2"/><text transform="translate(845.77,2266.62) rotate(45)" y="7.43" font-size="27.0" text-anchor="middle">TP8</text><line x1="878.60" y1="2220.2" x2="878.60" y2="2229.8" stroke="#222" stroke-width="2"/><text transform="translate(878.60,2260.86) rotate(45)" y="7.43" font-size="27.0" text-anchor="middle">T5</text><line x1="911.43" y1="2220.2" x2="911.43" y2="2229.8" stroke="#222" stroke-width="2"/><text transform="translate(911.43,2260.79) rotate(45)" y="7.43" font-size="27.0" text-anchor="middle">P3</text><line x1="944.25" y1="2220.2" x2="944.25" y2="2229.8" stroke="#222" stroke-width="2"/><text transform="translate(944.25,2261.25) rotate(45)" y="7.43" font-size="27.0" text-anchor="middle">PZ</text><line x1="977.08" y1="2220.2" x2="977.08" y2="2229.8" stroke="#222" stroke-width="2"/><text transform="translate(977.08,2260.79) rotate(45)" y="7.43" font-size="27.0" text-anchor="middle">P4</text><line x1="1009.91" y1="2220.2" x2="1009.91" y2="2229.8" stroke="#222" stroke-width="2"/><text transform="translate(1009.91,2260.86) rotate(45)" y="7.43" font-size="27.0" text-anchor="middle">T6</text><line x1="1042.73" y1="2220.2" x2="1042.73" y2="2229.8" stroke="#222" stroke-width="2"/><text transform="translate(1042.73,2262.54) rotate(45)" y="7.43" font-size="27.0" text-anchor="middle">O1</text><line x1="1075.56" y1="2220.2" x2="1075.56" y2="2229.8" stroke="#222" stroke-width="2"/><text transform="translate(1075.56,2263.01) rotate(45)" y="7.43" font-size="27.0" text-anchor="middle">OZ</text><line x1="1108.39" y1="2220.2" x2="1108.39" y2="2229.8" stroke="#222" stroke-width="2"/><text transform="translate(1108.39,2262.54) rotate(45)" y="7.43" font-size="27.0" text-anchor="middle">O2</text><text x="632.4" y="2071.8" font-size="33.05" text-anchor="middle">Feature Importance Ranking of Sub 1</text><line x1="309.49" y1="2382.4" x2="309.49" y2="2392.0" stroke="#222" stroke-width="2"/><text x="309.49" y="2421.4" font-size="27.0" text-anchor="middle">20</text><line x1="487.89" y1="2382.4" x2="487.89" y2="2392.0" stroke="#222" stroke-width="2"/><text x="487.89" y="2421.4" font-size="27.0" text-anchor="middle">40</text><line x1="666.30" y1="2382.4" x2="666.30" y2="2392.0" stroke="#222" stroke-width="2"/><text x="666.30" y="2421.4" font-size="27.0" text-anchor="middle">60</text><line x1="844.70" y1="2382.4" x2="844.70" y2="2392.0" stroke="#222" stroke-width="2"/><text x="844.70" y="2421.4" font-size="27.0" text-anchor="middle">80</text><line x1="1023.11" y1="2382.4" x2="1023.11" y2="2392.0" stroke="#222" stroke-width="2"/><text x="1023.11" y="2421.4" font-size="27.0" text-anchor="middle">100</text>
</g>
<g filter="url(#b2)" class="hm">
<path d="M1361.7 2088.7h33.4v31.9h-33.4z" fill="#7dda1b"/>
<path d="M1394.5 2088.7h33.4v31.9h-33.4z" fill="#7dda1b"/>
<path d="M1427.4 2088.7h33.4v31.9h-33.4z" fill="#9ddd15"/>
<path d="M1460.2 2088.7h33.4v31.9h-33.4z" fill="#04bf67"/>
<path d="M1493.0 2088.7h33.4v31.9h-33.4z" fill="#04aa7c"/>
<path d="M1525.8 2088.7h33.4v31.9h-33.4z" fill="#04aa7c"/>
<path d="M1558.7 2088.7h33.4v31.9h-33.4z" fill="#d6e30f"/>
<path d="M1591.5 2088.7h33.4v31.9h-33.4z" fill="#06898c"/>
<path d="M1624.3 2088.7h33.4v31.9h-33.4z" fill="#52076f"/>
<path d="M1657.1 2088.7h33.4v31.9h-33.4z" fill="#087090"/>
<path d="M1690.0 2088.7h33.4v31.9h-33.4z" fill="#04a680"/>
<path d="M1722.8 2088.7h33.4v31.9h-33.4z" fill="#04a680"/>
<path d="M1755.6 2088.7h33.4v31.9h-33.4z" fill="#04a680"/>
<path d="M1788.4 2088.7h33.4v31.9h-33.4z" fill="#51056c"/>
<path d="M1821.3 2088.7h33.4v31.9h-33.4z" fill="#433d90"/>
<path d="M1854.1 2088.7h33.4v31.9h-33.4z" fill="#07778f"/>
<path d="M1886.9 2088.7h33.4v31.9h-33.4z" fill="#a8de13"/>
<path d="M1919.8 2088.7h33.4v31.9h-33.4z" fill="#04c361"/>
<path d="M1952.6 2088.7h33.4v31.9h-33.4z" fill="#04b771"/>
<path d="M1985.4 2088.7h33.4v31.9h-33.4z" fill="#3f4090"/>
<path d="M2018.2 2088.7h33.4v31.9h-33.4z" fill="#087290"/>
<path d="M2051.1 2088.7h33.4v31.9h-33.4z" fill="#04c361"/>
<path d="M2083.9 2088.7h33.4v31.9h-33.4z" fill="#04c361"/>
<path d="M2116.7 2088.7h33.4v31.9h-33.4z" fill="#3b4491"/>
<path d="M2149.5 2088.7h33.4v31.9h-33.4z" fill="#059489"/>
<path d="M2182.4 2088.7h33.4v31.9h-33.4z" fill="#059489"/>
<path d="M2215.2 2088.7h33.4v31.9h-33.4z" fill="#059489"/>
<path d="M2248.0 2088.7h33.4v31.9h-33.4z" fill="#04a183"/>
<path d="M2280.8 2088.7h33.4v31.9h-33.4z" fill="#059987"/>
<path d="M2313.7 2088.7h33.4v31.9h-33.4z" fill="#1bd041"/>
<path d="M1361.7 2120.0h33.4v32.1h-33.4z" fill="#374792"/>
<path d="M1394.5 2120.0h33.4v32.1h-33.4z" fill="#0b6195"/>
<path d="M1427.4 2120.0h33.4v32.1h-33.4z" fill="#521578"/>
<path d="M1460.2 2120.0h33.4v32.1h-33.4z" fill="#521578"/>
<path d="M1493.0 2120.0h33.4v32.1h-33.4z" fill="#255494"/>
<path d="M1525.8 2120.0h33.4v32.1h-33.4z" fill="#059987"/>
<path d="M1558.7 2120.0h33.4v32.1h-33.4z" fill="#4b0260"/>
<path d="M1591.5 2120.0h33.4v32.1h-33.4z" fill="#4b0260"/>
<path d="M1624.3 2120.0h33.4v32.1h-33.4z" fill="#4b0260"/>
<path d="M1657.1 2120.0h33.4v32.1h-33.4z" fill="#4b0260"/>
<path d="M1690.0 2120.0h33.4v32.1h-33.4z" fill="#3b4491"/>
<path d="M1722.8 2120.0h33.4v32.1h-33.4z" fill="#0a6594"/>
<path d="M1755.6 2120.0h33.4v32.1h-33.4z" fill="#4b0260"/>
<path d="M1788.4 2120.0h33.4v32.1h-33.4z" fill="#4f2984"/>
<path d="M1821.3 2120.0h33.4v32.1h-33.4z" fill="#4d0363"/>
<path d="M1854.1 2120.0h33.4v32.1h-33.4z" fill="#52076f"/>
<path d="M1886.9 2120.0h33.4v32.1h-33.4z" fill="#521c7c"/>
<path d="M1919.8 2120.0h33.4v32.1h-33.4z" fill="#521c7c"/>
<path d="M1952.6 2120.0h33.4v32.1h-33.4z" fill="#521c7c"/>
<path d="M1985.4 2120.0h33.4v32.1h-33.4z" fill="#4d0363"/>
<path d="M2018.2 2120.0h33.4v32.1h-33.4z" fill="#52076f"/>
<path d="M2051.1 2120.0h33.4v32.1h-33.4z" fill="#4b0260"/>
<path d="M2083.9 2120.0h33.4v32.1h-33.4z" fill="#4b0260"/>
<path d="M2116.7 2120.0h33.4v32.1h-33.4z" fill="#4b0260"/>
<path d="M2149.5 2120.0h33.4v32.1h-33.4z" fill="#c4e10f"/>
<path d="M2182.4 2120.0h33.4v32.1h-33.4z" fill="#04ae79"/>
<path d="M2215.2 2120.0h33.4v32.1h-33.4z" fill="#f4e60f"/>
<path d="M2248.0 2120.0h33.4v32.1h-33.4z" fill="#4b0260"/>
<path d="M2280.8 2120.0h33.4v32.1h-33.4z" fill="#4b0260"/>
<path d="M2313.7 2120.0h33.4v32.1h-33.4z" fill="#521c7c"/>
<path d="M1361.7 2151.5h33.4v35.3h-33.4z" fill="#059d85"/>
<path d="M1394.5 2151.5h33.4v35.3h-33.4z" fill="#73d81d"/>
<path d="M1427.4 2151.5h33.4v35.3h-33.4z" fill="#059987"/>
<path d="M1460.2 2151.5h33.4v35.3h-33.4z" fill="#059987"/>
<path d="M1493.0 2151.5h33.4v35.3h-33.4z" fill="#48d42e"/>
<path d="M1525.8 2151.5h33.4v35.3h-33.4z" fill="#48d42e"/>
<path d="M1558.7 2151.5h33.4v35.3h-33.4z" fill="#0b6195"/>
<path d="M1591.5 2151.5h33.4v35.3h-33.4z" fill="#06898c"/>
<path d="M1624.3 2151.5h33.4v35.3h-33.4z" fill="#04bf67"/>
<path d="M1657.1 2151.5h33.4v35.3h-33.4z" fill="#a8de13"/>
<path d="M1690.0 2151.5h33.4v35.3h-33.4z" fill="#f0e50f"/>
<path d="M1722.8 2151.5h33.4v35.3h-33.4z" fill="#0a6594"/>
<path d="M1755.6 2151.5h33.4v35.3h-33.4z" fill="#06898c"/>
<path d="M1788.4 2151.5h33.4v35.3h-33.4z" fill="#04c361"/>
<path d="M1821.3 2151.5h33.4v35.3h-33.4z" fill="#73d81d"/>
<path d="M1854.1 2151.5h33.4v35.3h-33.4z" fill="#bce010"/>
<path d="M1886.9 2151.5h33.4v35.3h-33.4z" fill="#0b6195"/>
<path d="M1919.8 2151.5h33.4v35.3h-33.4z" fill="#ebe50e"/>
<path d="M1952.6 2151.5h33.4v35.3h-33.4z" fill="#04b771"/>
<path d="M1985.4 2151.5h33.4v35.3h-33.4z" fill="#73d81d"/>
<path d="M2018.2 2151.5h33.4v35.3h-33.4z" fill="#0acd4d"/>
<path d="M2051.1 2151.5h33.4v35.3h-33.4z" fill="#04c361"/>
<path d="M2083.9 2151.5h33.4v35.3h-33.4z" fill="#7dda1b"/>
<path d="M2116.7 2151.5h33.4v35.3h-33.4z" fill="#04bb6d"/>
<path d="M2149.5 2151.5h33.4v35.3h-33.4z" fill="#f4e60f"/>
<path d="M2182.4 2151.5h33.4v35.3h-33.4z" fill="#a8de13"/>
<path d="M2215.2 2151.5h33.4v35.3h-33.4z" fill="#f4e60f"/>
<path d="M2248.0 2151.5h33.4v35.3h-33.4z" fill="#068b8c"/>
<path d="M2280.8 2151.5h33.4v35.3h-33.4z" fill="#068b8c"/>
<path d="M2313.7 2151.5h33.4v35.3h-33.4z" fill="#04bf67"/>
<path d="M1361.7 2186.2h33.4v34.3h-33.4z" fill="#068b8c"/>
<path d="M1394.5 2186.2h33.4v34.3h-33.4z" fill="#4a015d"/>
<path d="M1427.4 2186.2h33.4v34.3h-33.4z" fill="#0acd4d"/>
<path d="M1460.2 2186.2h33.4v34.3h-33.4z" fill="#48348b"/>
<path d="M1493.0 2186.2h33.4v34.3h-33.4z" fill="#d6e30f"/>
<path d="M1525.8 2186.2h33.4v34.3h-33.4z" fill="#4b0260"/>
<path d="M1558.7 2186.2h33.4v34.3h-33.4z" fill="#521578"/>
<path d="M1591.5 2186.2h33.4v34.3h-33.4z" fill="#04b771"/>
<path d="M1624.3 2186.2h33.4v34.3h-33.4z" fill="#48348b"/>
<path d="M1657.1 2186.2h33.4v34.3h-33.4z" fill="#096a92"/>
<path d="M1690.0 2186.2h33.4v34.3h-33.4z" fill="#205694"/>
<path d="M1722.8 2186.2h33.4v34.3h-33.4z" fill="#522281"/>
<path d="M1755.6 2186.2h33.4v34.3h-33.4z" fill="#08758f"/>
<path d="M1788.4 2186.2h33.4v34.3h-33.4z" fill="#087090"/>
<path d="M1821.3 2186.2h33.4v34.3h-33.4z" fill="#08758f"/>
<path d="M1854.1 2186.2h33.4v34.3h-33.4z" fill="#059489"/>
<path d="M1886.9 2186.2h33.4v34.3h-33.4z" fill="#0b6195"/>
<path d="M1919.8 2186.2h33.4v34.3h-33.4z" fill="#0a6594"/>
<path d="M1952.6 2186.2h33.4v34.3h-33.4z" fill="#04b375"/>
<path d="M1985.4 2186.2h33.4v34.3h-33.4z" fill="#2e4e93"/>
<path d="M2018.2 2186.2h33.4v34.3h-33.4z" fill="#3f4090"/>
<path d="M2051.1 2186.2h33.4v34.3h-33.4z" fill="#087290"/>
<path d="M2083.9 2186.2h33.4v34.3h-33.4z" fill="#145b95"/>
<path d="M2116.7 2186.2h33.4v34.3h-33.4z" fill="#1a5995"/>
<path d="M2149.5 2186.2h33.4v34.3h-33.4z" fill="#07778f"/>
<path d="M2182.4 2186.2h33.4v34.3h-33.4z" fill="#48348b"/>
<path d="M2215.2 2186.2h33.4v34.3h-33.4z" fill="#096e91"/>
<path d="M2248.0 2186.2h33.4v34.3h-33.4z" fill="#04b771"/>
<path d="M2280.8 2186.2h33.4v34.3h-33.4z" fill="#04b771"/>
<path d="M2313.7 2186.2h33.4v34.3h-33.4z" fill="#d6e30f"/>
<rect x="1362.0" y="2089.0" width="984.8" height="131.2" fill="none" stroke="#222" stroke-width="2"/>
<line x1="1352.4" y1="2105.40" x2="1362.0" y2="2105.40" stroke="#222" stroke-width="2"/>
<text x="1344.0" y="2113.90" font-size="27.0" text-anchor="end">α</text>
<line x1="1352.4" y1="2138.20" x2="1362.0" y2="2138.20" stroke="#222" stroke-width="2"/>
<text x="1344.0" y="2146.70" font-size="27.0" text-anchor="end">β</text>
<line x1="1352.4" y1="2171.00" x2="1362.0" y2="2171.00" stroke="#222" stroke-width="2"/>
<text x="1344.0" y="2179.50" font-size="27.0" text-anchor="end">θ</text>
<line x1="1352.4" y1="2203.80" x2="1362.0" y2="2203.80" stroke="#222" stroke-width="2"/>
<text x="1344.0" y="2212.30" font-size="27.0" text-anchor="end">δ</text>
<line x1="1378.41" y1="2220.2" x2="1378.41" y2="2229.8" stroke="#222" stroke-width="2"/>
<text transform="translate(1378.41,2266.28) rotate(45)" y="7.43" font-size="27.0" text-anchor="middle">FP1</text>
<line x1="1411.24" y1="2220.2" x2="1411.24" y2="2229.8" stroke="#222" stroke-width="2"/>
<text transform="translate(1411.24,2266.28) rotate(45)" y="7.43" font-size="27.0" text-anchor="middle">FP2</text>
<line x1="1444.07" y1="2220.2" x2="1444.07" y2="2229.8" stroke="#222" stroke-width="2"/>
<text transform="translate(1444.07,2260.52) rotate(45)" y="7.43" font-size="27.0" text-anchor="middle">F7</text>
<line x1="1476.89" y1="2220.2" x2="1476.89" y2="2229.8" stroke="#222" stroke-width="2"/>
<text transform="translate(1476.89,2260.52) rotate(45)" y="7.43" font-size="27.0" text-anchor="middle">F3</text>
<line x1="1509.72" y1="2220.2" x2="1509.72" y2="2229.8" stroke="#222" stroke-width="2"/>
<text transform="translate(1509.72,2260.99) rotate(45)" y="7.43" font-size="27.0" text-anchor="middle">FZ</text>
<line x1="1542.55" y1="2220.2" x2="1542.55" y2="2229.8" stroke="#222" stroke-width="2"/>
<text transform="translate(1542.55,2260.52) rotate(45)" y="7.43" font-size="27.0" text-anchor="middle">F4</text>
<line x1="1575.37" y1="2220.2" x2="1575.37" y2="2229.8" stroke="#222" stroke-width="2"/>
<text transform="translate(1575.37,2260.52) rotate(45)" y="7.43" font-size="27.0" text-anchor="middle">F8</text>
<line x1="1608.20" y1="2220.2" x2="1608.20" y2="2229.8" stroke="#222" stroke-width="2"/>
<text transform="translate(1608.20,2266.35) rotate(45)" y="7.43" font-size="27.0" text-anchor="middle">FT7</text>
<line x1="1641.03" y1="2220.2" x2="1641.03" y2="2229.8" stroke="#222" stroke-width="2"/>
<text transform="translate(1641.03,2267.18) rotate(45)" y="7.43" font-size="27.0" text-anchor="middle">FC3</text>
<line x1="1673.85" y1="2220.2" x2="1673.85" y2="2229.8" stroke="#222" stroke-width="2"/>
<text transform="translate(1673.85,2267.65) rotate(45)" y="7.43" font-size="27.0" text-anchor="middle">FCZ</text>
<line x1="1706.68" y1="2220.2" x2="1706.68" y2="2229.8" stroke="#222" stroke-width="2"/>
<text transform="translate(1706.68,2267.18) rotate(45)" y="7.43" font-size="27.0" text-anchor="middle">FC4</text>
<line x1="1739.51" y1="2220.2" x2="1739.51" y2="2229.8" stroke="#222" stroke-width="2"/>
<text transform="translate(1739.51,2266.35) rotate(45)" y="7.43" font-size="27.0" text-anchor="middle">FT8</text>
<line x1="1772.33" y1="2220.2" x2="1772.33" y2="2229.8" stroke="#222" stroke-width="2"/>
<text transform="translate(1772.33,2260.86) rotate(45)" y="7.43" font-size="27.0" text-anchor="middle">T3</text>
<line x1="1805.16" y1="2220.2" x2="1805.16" y2="2229.8" stroke="#222" stroke-width="2"/>
<text transform="translate(1805.16,2261.69) rotate(45)" y="7.43" font-size="27.0" text-anchor="middle">C3</text>
<line x1="1837.99" y1="2220.2" x2="1837.99" y2="2229.8" stroke="#222" stroke-width="2"/>
<text transform="translate(1837.99,2262.16) rotate(45)" y="7.43" font-size="27.0" text-anchor="middle">CZ</text>
<line x1="1870.81" y1="2220.2" x2="1870.81" y2="2229.8" stroke="#222" stroke-width="2"/>
<text transform="translate(1870.81,2261.69) rotate(45)" y="7.43" font-size="27.0" text-anchor="middle">C4</text>
<line x1="1903.64" y1="2220.2" x2="1903.64" y2="2229.8" stroke="#222" stroke-width="2"/>
<text transform="translate(1903.64,2260.86) rotate(45)" y="7.43" font-size="27.0" text-anchor="middle">T4</text>
<line x1="1936.47" y1="2220.2" x2="1936.47" y2="2229.8" stroke="#222" stroke-width="2"/>
<text transform="translate(1936.47,2266.62) rotate(45)" y="7.43" font-size="27.0" text-anchor="middle">TP7</text>
<line x1="1969.29" y1="2220.2" x2="1969.29" y2="2229.8" stroke="#222" stroke-width="2"/>
<text transform="translate(1969.29,2267.45) rotate(45)" y="7.43" font-size="27.0" text-anchor="middle">CP3</text>
<line x1="2002.12" y1="2220.2" x2="2002.12" y2="2229.8" stroke="#222" stroke-width="2"/>
<text transform="translate(2002.12,2267.92) rotate(45)" y="7.43" font-size="27.0" text-anchor="middle">CPZ</text>
<line x1="2034.95" y1="2220.2" x2="2034.95" y2="2229.8" stroke="#222" stroke-width="2"/>
<text transform="translate(2034.95,2267.45) rotate(45)" y="7.43" font-size="27.0" text-anchor="middle">CP4</text>
<line x1="2067.77" y1="2220.2" x2="2067.77" y2="2229.8" stroke="#222" stroke-width="2"/>
<text transform="translate(2067.77,2266.62) rotate(45)" y="7.43" font-size="27.0" text-anchor="middle">TP8</text>
<line x1="2100.60" y1="2220.2" x2="2100.60" y2="2229.8" stroke="#222" stroke-width="2"/>
<text transform="translate(2100.60,2260.86) rotate(45)" y="7.43" font-size="27.0" text-anchor="middle">T5</text>
<line x1="2133.43" y1="2220.2" x2="2133.43" y2="2229.8" stroke="#222" stroke-width="2"/>
<text transform="translate(2133.43,2260.79) rotate(45)" y="7.43" font-size="27.0" text-anchor="middle">P3</text>
<line x1="2166.25" y1="2220.2" x2="2166.25" y2="2229.8" stroke="#222" stroke-width="2"/>
<text transform="translate(2166.25,2261.25) rotate(45)" y="7.43" font-size="27.0" text-anchor="middle">PZ</text>
<line x1="2199.08" y1="2220.2" x2="2199.08" y2="2229.8" stroke="#222" stroke-width="2"/>
<text transform="translate(2199.08,2260.79) rotate(45)" y="7.43" font-size="27.0" text-anchor="middle">P4</text>
<line x1="2231.91" y1="2220.2" x2="2231.91" y2="2229.8" stroke="#222" stroke-width="2"/>
<text transform="translate(2231.91,2260.86) rotate(45)" y="7.43" font-size="27.0" text-anchor="middle">T6</text>
<line x1="2264.73" y1="2220.2" x2="2264.73" y2="2229.8" stroke="#222" stroke-width="2"/>
<text transform="translate(2264.73,2262.54) rotate(45)" y="7.43" font-size="27.0" text-anchor="middle">O1</text>
<line x1="2297.56" y1="2220.2" x2="2297.56" y2="2229.8" stroke="#222" stroke-width="2"/>
<text transform="translate(2297.56,2263.01) rotate(45)" y="7.43" font-size="27.0" text-anchor="middle">OZ</text>
<line x1="2330.39" y1="2220.2" x2="2330.39" y2="2229.8" stroke="#222" stroke-width="2"/>
<text transform="translate(2330.39,2262.54) rotate(45)" y="7.43" font-size="27.0" text-anchor="middle">O2</text>
<text x="1854.4" y="2071.8" font-size="33.05" text-anchor="middle">Feature Importance Ranking of Sub 2</text>
<rect x="1362.0" y="2333.0" width="984.8" height="49.4" fill="url(#cb)" stroke="#222" stroke-width="2"/>
<line x1="1531.49" y1="2382.4" x2="1531.49" y2="2392.0" stroke="#222" stroke-width="2"/>
<text x="1531.49" y="2421.4" font-size="27.0" text-anchor="middle">20</text>
<line x1="1709.89" y1="2382.4" x2="1709.89" y2="2392.0" stroke="#222" stroke-width="2"/>
<text x="1709.89" y="2421.4" font-size="27.0" text-anchor="middle">40</text>
<line x1="1888.30" y1="2382.4" x2="1888.30" y2="2392.0" stroke="#222" stroke-width="2"/>
<text x="1888.30" y="2421.4" font-size="27.0" text-anchor="middle">60</text>
<line x1="2066.70" y1="2382.4" x2="2066.70" y2="2392.0" stroke="#222" stroke-width="2"/>
<text x="2066.70" y="2421.4" font-size="27.0" text-anchor="middle">80</text>
<line x1="2245.11" y1="2382.4" x2="2245.11" y2="2392.0" stroke="#222" stroke-width="2"/>
<text x="2245.11" y="2421.4" font-size="27.0" text-anchor="middle">100</text>
</g><g class="hm tc" opacity="0.28"><line x1="1352.4" y1="2105.40" x2="1362.0" y2="2105.40" stroke="#222" stroke-width="2"/><text x="1344.0" y="2113.90" font-size="27.0" text-anchor="end">α</text><line x1="1352.4" y1="2138.20" x2="1362.0" y2="2138.20" stroke="#222" stroke-width="2"/><text x="1344.0" y="2146.70" font-size="27.0" text-anchor="end">β</text><line x1="1352.4" y1="2171.00" x2="1362.0" y2="2171.00" stroke="#222" stroke-width="2"/><text x="1344.0" y="2179.50" font-size="27.0" text-anchor="end">θ</text><line x1="1352.4" y1="2203.80" x2="1362.0" y2="2203.80" stroke="#222" stroke-width="2"/><text x="1344.0" y="2212.30" font-size="27.0" text-anchor="end">δ</text><line x1="1378.41" y1="2220.2" x2="1378.41" y2="2229.8" stroke="#222" stroke-width="2"/><text transform="translate(1378.41,2266.28) rotate(45)" y="7.43" font-size="27.0" text-anchor="middle">FP1</text><line x1="1411.24" y1="2220.2" x2="1411.24" y2="2229.8" stroke="#222" stroke-width="2"/><text transform="translate(1411.24,2266.28) rotate(45)" y="7.43" font-size="27.0" text-anchor="middle">FP2</text><line x1="1444.07" y1="2220.2" x2="1444.07" y2="2229.8" stroke="#222" stroke-width="2"/><text transform="translate(1444.07,2260.52) rotate(45)" y="7.43" font-size="27.0" text-anchor="middle">F7</text><line x1="1476.89" y1="2220.2" x2="1476.89" y2="2229.8" stroke="#222" stroke-width="2"/><text transform="translate(1476.89,2260.52) rotate(45)" y="7.43" font-size="27.0" text-anchor="middle">F3</text><line x1="1509.72" y1="2220.2" x2="1509.72" y2="2229.8" stroke="#222" stroke-width="2"/><text transform="translate(1509.72,2260.99) rotate(45)" y="7.43" font-size="27.0" text-anchor="middle">FZ</text><line x1="1542.55" y1="2220.2" x2="1542.55" y2="2229.8" stroke="#222" stroke-width="2"/><text transform="translate(1542.55,2260.52) rotate(45)" y="7.43" font-size="27.0" text-anchor="middle">F4</text><line x1="1575.37" y1="2220.2" x2="1575.37" y2="2229.8" stroke="#222" stroke-width="2"/><text transform="translate(1575.37,2260.52) rotate(45)" y="7.43" font-size="27.0" text-anchor="middle">F8</text><line x1="1608.20" y1="2220.2" x2="1608.20" y2="2229.8" stroke="#222" stroke-width="2"/><text transform="translate(1608.20,2266.35) rotate(45)" y="7.43" font-size="27.0" text-anchor="middle">FT7</text><line x1="1641.03" y1="2220.2" x2="1641.03" y2="2229.8" stroke="#222" stroke-width="2"/><text transform="translate(1641.03,2267.18) rotate(45)" y="7.43" font-size="27.0" text-anchor="middle">FC3</text><line x1="1673.85" y1="2220.2" x2="1673.85" y2="2229.8" stroke="#222" stroke-width="2"/><text transform="translate(1673.85,2267.65) rotate(45)" y="7.43" font-size="27.0" text-anchor="middle">FCZ</text><line x1="1706.68" y1="2220.2" x2="1706.68" y2="2229.8" stroke="#222" stroke-width="2"/><text transform="translate(1706.68,2267.18) rotate(45)" y="7.43" font-size="27.0" text-anchor="middle">FC4</text><line x1="1739.51" y1="2220.2" x2="1739.51" y2="2229.8" stroke="#222" stroke-width="2"/><text transform="translate(1739.51,2266.35) rotate(45)" y="7.43" font-size="27.0" text-anchor="middle">FT8</text><line x1="1772.33" y1="2220.2" x2="1772.33" y2="2229.8" stroke="#222" stroke-width="2"/><text transform="translate(1772.33,2260.86) rotate(45)" y="7.43" font-size="27.0" text-anchor="middle">T3</text><line x1="1805.16" y1="2220.2" x2="1805.16" y2="2229.8" stroke="#222" stroke-width="2"/><text transform="translate(1805.16,2261.69) rotate(45)" y="7.43" font-size="27.0" text-anchor="middle">C3</text><line x1="1837.99" y1="2220.2" x2="1837.99" y2="2229.8" stroke="#222" stroke-width="2"/><text transform="translate(1837.99,2262.16) rotate(45)" y="7.43" font-size="27.0" text-anchor="middle">CZ</text><line x1="1870.81" y1="2220.2" x2="1870.81" y2="2229.8" stroke="#222" stroke-width="2"/><text transform="translate(1870.81,2261.69) rotate(45)" y="7.43" font-size="27.0" text-anchor="middle">C4</text><line x1="1903.64" y1="2220.2" x2="1903.64" y2="2229.8" stroke="#222" stroke-width="2"/><text transform="translate(1903.64,2260.86) rotate(45)" y="7.43" font-size="27.0" text-anchor="middle">T4</text><line x1="1936.47" y1="2220.2" x2="1936.47" y2="2229.8" stroke="#222" stroke-width="2"/><text transform="translate(1936.47,2266.62) rotate(45)" y="7.43" font-size="27.0" text-anchor="middle">TP7</text><line x1="1969.29" y1="2220.2" x2="1969.29" y2="2229.8" stroke="#222" stroke-width="2"/><text transform="translate(1969.29,2267.45) rotate(45)" y="7.43" font-size="27.0" text-anchor="middle">CP3</text><line x1="2002.12" y1="2220.2" x2="2002.12" y2="2229.8" stroke="#222" stroke-width="2"/><text transform="translate(2002.12,2267.92) rotate(45)" y="7.43" font-size="27.0" text-anchor="middle">CPZ</text><line x1="2034.95" y1="2220.2" x2="2034.95" y2="2229.8" stroke="#222" stroke-width="2"/><text transform="translate(2034.95,2267.45) rotate(45)" y="7.43" font-size="27.0" text-anchor="middle">CP4</text><line x1="2067.77" y1="2220.2" x2="2067.77" y2="2229.8" stroke="#222" stroke-width="2"/><text transform="translate(2067.77,2266.62) rotate(45)" y="7.43" font-size="27.0" text-anchor="middle">TP8</text><line x1="2100.60" y1="2220.2" x2="2100.60" y2="2229.8" stroke="#222" stroke-width="2"/><text transform="translate(2100.60,2260.86) rotate(45)" y="7.43" font-size="27.0" text-anchor="middle">T5</text><line x1="2133.43" y1="2220.2" x2="2133.43" y2="2229.8" stroke="#222" stroke-width="2"/><text transform="translate(2133.43,2260.79) rotate(45)" y="7.43" font-size="27.0" text-anchor="middle">P3</text><line x1="2166.25" y1="2220.2" x2="2166.25" y2="2229.8" stroke="#222" stroke-width="2"/><text transform="translate(2166.25,2261.25) rotate(45)" y="7.43" font-size="27.0" text-anchor="middle">PZ</text><line x1="2199.08" y1="2220.2" x2="2199.08" y2="2229.8" stroke="#222" stroke-width="2"/><text transform="translate(2199.08,2260.79) rotate(45)" y="7.43" font-size="27.0" text-anchor="middle">P4</text><line x1="2231.91" y1="2220.2" x2="2231.91" y2="2229.8" stroke="#222" stroke-width="2"/><text transform="translate(2231.91,2260.86) rotate(45)" y="7.43" font-size="27.0" text-anchor="middle">T6</text><line x1="2264.73" y1="2220.2" x2="2264.73" y2="2229.8" stroke="#222" stroke-width="2"/><text transform="translate(2264.73,2262.54) rotate(45)" y="7.43" font-size="27.0" text-anchor="middle">O1</text><line x1="2297.56" y1="2220.2" x2="2297.56" y2="2229.8" stroke="#222" stroke-width="2"/><text transform="translate(2297.56,2263.01) rotate(45)" y="7.43" font-size="27.0" text-anchor="middle">OZ</text><line x1="2330.39" y1="2220.2" x2="2330.39" y2="2229.8" stroke="#222" stroke-width="2"/><text transform="translate(2330.39,2262.54) rotate(45)" y="7.43" font-size="27.0" text-anchor="middle">O2</text><text x="1854.4" y="2071.8" font-size="33.05" text-anchor="middle">Feature Importance Ranking of Sub 2</text><line x1="1531.49" y1="2382.4" x2="1531.49" y2="2392.0" stroke="#222" stroke-width="2"/><text x="1531.49" y="2421.4" font-size="27.0" text-anchor="middle">20</text><line x1="1709.89" y1="2382.4" x2="1709.89" y2="2392.0" stroke="#222" stroke-width="2"/><text x="1709.89" y="2421.4" font-size="27.0" text-anchor="middle">40</text><line x1="1888.30" y1="2382.4" x2="1888.30" y2="2392.0" stroke="#222" stroke-width="2"/><text x="1888.30" y="2421.4" font-size="27.0" text-anchor="middle">60</text><line x1="2066.70" y1="2382.4" x2="2066.70" y2="2392.0" stroke="#222" stroke-width="2"/><text x="2066.70" y="2421.4" font-size="27.0" text-anchor="middle">80</text><line x1="2245.11" y1="2382.4" x2="2245.11" y2="2392.0" stroke="#222" stroke-width="2"/><text x="2245.11" y="2421.4" font-size="27.0" text-anchor="middle">100</text>
</g>
<g filter="url(#b2)" class="hm">
<path d="M144.5 2574.2h33.4v31.9h-33.4z" fill="#1bd041"/>
<path d="M177.3 2574.2h33.4v31.9h-33.4z" fill="#255494"/>
<path d="M210.2 2574.2h33.4v31.9h-33.4z" fill="#04b375"/>
<path d="M243.0 2574.2h33.4v31.9h-33.4z" fill="#087090"/>
<path d="M275.8 2574.2h33.4v31.9h-33.4z" fill="#0e5d96"/>
<path d="M308.6 2574.2h33.4v31.9h-33.4z" fill="#b2e011"/>
<path d="M341.5 2574.2h33.4v31.9h-33.4z" fill="#087290"/>
<path d="M374.3 2574.2h33.4v31.9h-33.4z" fill="#04a680"/>
<path d="M407.1 2574.2h33.4v31.9h-33.4z" fill="#145b95"/>
<path d="M439.9 2574.2h33.4v31.9h-33.4z" fill="#145b95"/>
<path d="M472.8 2574.2h33.4v31.9h-33.4z" fill="#077c8e"/>
<path d="M505.6 2574.2h33.4v31.9h-33.4z" fill="#096e91"/>
<path d="M538.4 2574.2h33.4v31.9h-33.4z" fill="#4f2984"/>
<path d="M571.2 2574.2h33.4v31.9h-33.4z" fill="#4f2984"/>
<path d="M604.1 2574.2h33.4v31.9h-33.4z" fill="#068b8c"/>
<path d="M636.9 2574.2h33.4v31.9h-33.4z" fill="#0b6195"/>
<path d="M669.7 2574.2h33.4v31.9h-33.4z" fill="#0b6195"/>
<path d="M702.6 2574.2h33.4v31.9h-33.4z" fill="#4f2984"/>
<path d="M735.4 2574.2h33.4v31.9h-33.4z" fill="#4f2984"/>
<path d="M768.2 2574.2h33.4v31.9h-33.4z" fill="#4f2984"/>
<path d="M801.0 2574.2h33.4v31.9h-33.4z" fill="#04a183"/>
<path d="M833.9 2574.2h33.4v31.9h-33.4z" fill="#48348b"/>
<path d="M866.7 2574.2h33.4v31.9h-33.4z" fill="#f4e60f"/>
<path d="M899.5 2574.2h33.4v31.9h-33.4z" fill="#04ca55"/>
<path d="M932.3 2574.2h33.4v31.9h-33.4z" fill="#b2e011"/>
<path d="M965.2 2574.2h33.4v31.9h-33.4z" fill="#b2e011"/>
<path d="M998.0 2574.2h33.4v31.9h-33.4z" fill="#9ddd15"/>
<path d="M1030.8 2574.2h33.4v31.9h-33.4z" fill="#443a8e"/>
<path d="M1063.6 2574.2h33.4v31.9h-33.4z" fill="#059489"/>
<path d="M1096.5 2574.2h33.4v31.9h-33.4z" fill="#522281"/>
<path d="M144.5 2605.5h33.4v32.1h-33.4z" fill="#059987"/>
<path d="M177.3 2605.5h33.4v32.1h-33.4z" fill="#1bd041"/>
<path d="M210.2 2605.5h33.4v32.1h-33.4z" fill="#04a183"/>
<path d="M243.0 2605.5h33.4v32.1h-33.4z" fill="#2e4e93"/>
<path d="M275.8 2605.5h33.4v32.1h-33.4z" fill="#04a680"/>
<path d="M308.6 2605.5h33.4v32.1h-33.4z" fill="#521c7c"/>
<path d="M341.5 2605.5h33.4v32.1h-33.4z" fill="#12cf47"/>
<path d="M374.3 2605.5h33.4v32.1h-33.4z" fill="#4b0260"/>
<path d="M407.1 2605.5h33.4v32.1h-33.4z" fill="#0acd4d"/>
<path d="M439.9 2605.5h33.4v32.1h-33.4z" fill="#7dda1b"/>
<path d="M472.8 2605.5h33.4v32.1h-33.4z" fill="#4d0363"/>
<path d="M505.6 2605.5h33.4v32.1h-33.4z" fill="#521c7c"/>
<path d="M538.4 2605.5h33.4v32.1h-33.4z" fill="#4d0363"/>
<path d="M571.2 2605.5h33.4v32.1h-33.4z" fill="#4d0363"/>
<path d="M604.1 2605.5h33.4v32.1h-33.4z" fill="#068b8c"/>
<path d="M636.9 2605.5h33.4v32.1h-33.4z" fill="#04b771"/>
<path d="M669.7 2605.5h33.4v32.1h-33.4z" fill="#06868d"/>
<path d="M702.6 2605.5h33.4v32.1h-33.4z" fill="#4b0260"/>
<path d="M735.4 2605.5h33.4v32.1h-33.4z" fill="#4b0260"/>
<path d="M768.2 2605.5h33.4v32.1h-33.4z" fill="#48348b"/>
<path d="M801.0 2605.5h33.4v32.1h-33.4z" fill="#087290"/>
<path d="M833.9 2605.5h33.4v32.1h-33.4z" fill="#500569"/>
<path d="M866.7 2605.5h33.4v32.1h-33.4z" fill="#4d0363"/>
<path d="M899.5 2605.5h33.4v32.1h-33.4z" fill="#04b771"/>
<path d="M932.3 2605.5h33.4v32.1h-33.4z" fill="#07778f"/>
<path d="M965.2 2605.5h33.4v32.1h-33.4z" fill="#52076f"/>
<path d="M998.0 2605.5h33.4v32.1h-33.4z" fill="#4d0363"/>
<path d="M1030.8 2605.5h33.4v32.1h-33.4z" fill="#4d0363"/>
<path d="M1063.6 2605.5h33.4v32.1h-33.4z" fill="#4d0363"/>
<path d="M1096.5 2605.5h33.4v32.1h-33.4z" fill="#4d0363"/>
<path d="M144.5 2637.0h33.4v35.3h-33.4z" fill="#4d0363"/>
<path d="M177.3 2637.0h33.4v35.3h-33.4z" fill="#9ddd15"/>
<path d="M210.2 2637.0h33.4v35.3h-33.4z" fill="#07778f"/>
<path d="M243.0 2637.0h33.4v35.3h-33.4z" fill="#4d0363"/>
<path d="M275.8 2637.0h33.4v35.3h-33.4z" fill="#443a8e"/>
<path d="M308.6 2637.0h33.4v35.3h-33.4z" fill="#443a8e"/>
<path d="M341.5 2637.0h33.4v35.3h-33.4z" fill="#04b771"/>
<path d="M374.3 2637.0h33.4v35.3h-33.4z" fill="#077c8e"/>
<path d="M407.1 2637.0h33.4v35.3h-33.4z" fill="#06908a"/>
<path d="M439.9 2637.0h33.4v35.3h-33.4z" fill="#04bf67"/>
<path d="M472.8 2637.0h33.4v35.3h-33.4z" fill="#077c8e"/>
<path d="M505.6 2637.0h33.4v35.3h-33.4z" fill="#087290"/>
<path d="M538.4 2637.0h33.4v35.3h-33.4z" fill="#04bf67"/>
<path d="M571.2 2637.0h33.4v35.3h-33.4z" fill="#522281"/>
<path d="M604.1 2637.0h33.4v35.3h-33.4z" fill="#0e5d96"/>
<path d="M636.9 2637.0h33.4v35.3h-33.4z" fill="#04bf67"/>
<path d="M669.7 2637.0h33.4v35.3h-33.4z" fill="#374792"/>
<path d="M702.6 2637.0h33.4v35.3h-33.4z" fill="#7dda1b"/>
<path d="M735.4 2637.0h33.4v35.3h-33.4z" fill="#dee30e"/>
<path d="M768.2 2637.0h33.4v35.3h-33.4z" fill="#0b6195"/>
<path d="M801.0 2637.0h33.4v35.3h-33.4z" fill="#0b6195"/>
<path d="M833.9 2637.0h33.4v35.3h-33.4z" fill="#88db19"/>
<path d="M866.7 2637.0h33.4v35.3h-33.4z" fill="#c4e10f"/>
<path d="M899.5 2637.0h33.4v35.3h-33.4z" fill="#73d81d"/>
<path d="M932.3 2637.0h33.4v35.3h-33.4z" fill="#04b771"/>
<path d="M965.2 2637.0h33.4v35.3h-33.4z" fill="#04a680"/>
<path d="M998.0 2637.0h33.4v35.3h-33.4z" fill="#04a680"/>
<path d="M1030.8 2637.0h33.4v35.3h-33.4z" fill="#f4e60f"/>
<path d="M1063.6 2637.0h33.4v35.3h-33.4z" fill="#b2e011"/>
<path d="M1096.5 2637.0h33.4v35.3h-33.4z" fill="#48d42e"/>
<path d="M144.5 2671.7h33.4v34.3h-33.4z" fill="#520e73"/>
<path d="M177.3 2671.7h33.4v34.3h-33.4z" fill="#520e73"/>
<path d="M210.2 2671.7h33.4v34.3h-33.4z" fill="#521c7c"/>
<path d="M243.0 2671.7h33.4v34.3h-33.4z" fill="#059489"/>
<path d="M275.8 2671.7h33.4v34.3h-33.4z" fill="#059489"/>
<path d="M308.6 2671.7h33.4v34.3h-33.4z" fill="#04c361"/>
<path d="M341.5 2671.7h33.4v34.3h-33.4z" fill="#04c361"/>
<path d="M374.3 2671.7h33.4v34.3h-33.4z" fill="#06868d"/>
<path d="M407.1 2671.7h33.4v34.3h-33.4z" fill="#04bf67"/>
<path d="M439.9 2671.7h33.4v34.3h-33.4z" fill="#0b6195"/>
<path d="M472.8 2671.7h33.4v34.3h-33.4z" fill="#0acd4d"/>
<path d="M505.6 2671.7h33.4v34.3h-33.4z" fill="#04bf67"/>
<path d="M538.4 2671.7h33.4v34.3h-33.4z" fill="#06908a"/>
<path d="M571.2 2671.7h33.4v34.3h-33.4z" fill="#5fd625"/>
<path d="M604.1 2671.7h33.4v34.3h-33.4z" fill="#068b8c"/>
<path d="M636.9 2671.7h33.4v34.3h-33.4z" fill="#0a6594"/>
<path d="M669.7 2671.7h33.4v34.3h-33.4z" fill="#52076f"/>
<path d="M702.6 2671.7h33.4v34.3h-33.4z" fill="#04c361"/>
<path d="M735.4 2671.7h33.4v34.3h-33.4z" fill="#059987"/>
<path d="M768.2 2671.7h33.4v34.3h-33.4z" fill="#059987"/>
<path d="M801.0 2671.7h33.4v34.3h-33.4z" fill="#068b8c"/>
<path d="M833.9 2671.7h33.4v34.3h-33.4z" fill="#52076f"/>
<path d="M866.7 2671.7h33.4v34.3h-33.4z" fill="#73d81d"/>
<path d="M899.5 2671.7h33.4v34.3h-33.4z" fill="#06908a"/>
<path d="M932.3 2671.7h33.4v34.3h-33.4z" fill="#d6e30f"/>
<path d="M965.2 2671.7h33.4v34.3h-33.4z" fill="#04a680"/>
<path d="M998.0 2671.7h33.4v34.3h-33.4z" fill="#04a680"/>
<path d="M1030.8 2671.7h33.4v34.3h-33.4z" fill="#ebe50e"/>
<path d="M1063.6 2671.7h33.4v34.3h-33.4z" fill="#b2e011"/>
<path d="M1096.5 2671.7h33.4v34.3h-33.4z" fill="#ebe50e"/>
<rect x="144.8" y="2574.5" width="984.8" height="131.2" fill="none" stroke="#222" stroke-width="2"/>
<line x1="135.2" y1="2590.90" x2="144.8" y2="2590.90" stroke="#222" stroke-width="2"/>
<text x="126.8" y="2599.40" font-size="27.0" text-anchor="end">α</text>
<line x1="135.2" y1="2623.70" x2="144.8" y2="2623.70" stroke="#222" stroke-width="2"/>
<text x="126.8" y="2632.20" font-size="27.0" text-anchor="end">β</text>
<line x1="135.2" y1="2656.50" x2="144.8" y2="2656.50" stroke="#222" stroke-width="2"/>
<text x="126.8" y="2665.00" font-size="27.0" text-anchor="end">θ</text>
<line x1="135.2" y1="2689.30" x2="144.8" y2="2689.30" stroke="#222" stroke-width="2"/>
<text x="126.8" y="2697.80" font-size="27.0" text-anchor="end">δ</text>
<line x1="161.21" y1="2705.7" x2="161.21" y2="2715.3" stroke="#222" stroke-width="2"/>
<text transform="translate(161.21,2751.78) rotate(45)" y="7.43" font-size="27.0" text-anchor="middle">FP1</text>
<line x1="194.04" y1="2705.7" x2="194.04" y2="2715.3" stroke="#222" stroke-width="2"/>
<text transform="translate(194.04,2751.78) rotate(45)" y="7.43" font-size="27.0" text-anchor="middle">FP2</text>
<line x1="226.87" y1="2705.7" x2="226.87" y2="2715.3" stroke="#222" stroke-width="2"/>
<text transform="translate(226.87,2746.02) rotate(45)" y="7.43" font-size="27.0" text-anchor="middle">F7</text>
<line x1="259.69" y1="2705.7" x2="259.69" y2="2715.3" stroke="#222" stroke-width="2"/>
<text transform="translate(259.69,2746.02) rotate(45)" y="7.43" font-size="27.0" text-anchor="middle">F3</text>
<line x1="292.52" y1="2705.7" x2="292.52" y2="2715.3" stroke="#222" stroke-width="2"/>
<text transform="translate(292.52,2746.49) rotate(45)" y="7.43" font-size="27.0" text-anchor="middle">FZ</text>
<line x1="325.35" y1="2705.7" x2="325.35" y2="2715.3" stroke="#222" stroke-width="2"/>
<text transform="translate(325.35,2746.02) rotate(45)" y="7.43" font-size="27.0" text-anchor="middle">F4</text>
<line x1="358.17" y1="2705.7" x2="358.17" y2="2715.3" stroke="#222" stroke-width="2"/>
<text transform="translate(358.17,2746.02) rotate(45)" y="7.43" font-size="27.0" text-anchor="middle">F8</text>
<line x1="391.00" y1="2705.7" x2="391.00" y2="2715.3" stroke="#222" stroke-width="2"/>
<text transform="translate(391.00,2751.85) rotate(45)" y="7.43" font-size="27.0" text-anchor="middle">FT7</text>
<line x1="423.83" y1="2705.7" x2="423.83" y2="2715.3" stroke="#222" stroke-width="2"/>
<text transform="translate(423.83,2752.68) rotate(45)" y="7.43" font-size="27.0" text-anchor="middle">FC3</text>
<line x1="456.65" y1="2705.7" x2="456.65" y2="2715.3" stroke="#222" stroke-width="2"/>
<text transform="translate(456.65,2753.15) rotate(45)" y="7.43" font-size="27.0" text-anchor="middle">FCZ</text>
<line x1="489.48" y1="2705.7" x2="489.48" y2="2715.3" stroke="#222" stroke-width="2"/>
<text transform="translate(489.48,2752.68) rotate(45)" y="7.43" font-size="27.0" text-anchor="middle">FC4</text>
<line x1="522.31" y1="2705.7" x2="522.31" y2="2715.3" stroke="#222" stroke-width="2"/>
<text transform="translate(522.31,2751.85) rotate(45)" y="7.43" font-size="27.0" text-anchor="middle">FT8</text>
<line x1="555.13" y1="2705.7" x2="555.13" y2="2715.3" stroke="#222" stroke-width="2"/>
<text transform="translate(555.13,2746.36) rotate(45)" y="7.43" font-size="27.0" text-anchor="middle">T3</text>
<line x1="587.96" y1="2705.7" x2="587.96" y2="2715.3" stroke="#222" stroke-width="2"/>
<text transform="translate(587.96,2747.19) rotate(45)" y="7.43" font-size="27.0" text-anchor="middle">C3</text>
<line x1="620.79" y1="2705.7" x2="620.79" y2="2715.3" stroke="#222" stroke-width="2"/>
<text transform="translate(620.79,2747.66) rotate(45)" y="7.43" font-size="27.0" text-anchor="middle">CZ</text>
<line x1="653.61" y1="2705.7" x2="653.61" y2="2715.3" stroke="#222" stroke-width="2"/>
<text transform="translate(653.61,2747.19) rotate(45)" y="7.43" font-size="27.0" text-anchor="middle">C4</text>
<line x1="686.44" y1="2705.7" x2="686.44" y2="2715.3" stroke="#222" stroke-width="2"/>
<text transform="translate(686.44,2746.36) rotate(45)" y="7.43" font-size="27.0" text-anchor="middle">T4</text>
<line x1="719.27" y1="2705.7" x2="719.27" y2="2715.3" stroke="#222" stroke-width="2"/>
<text transform="translate(719.27,2752.12) rotate(45)" y="7.43" font-size="27.0" text-anchor="middle">TP7</text>
<line x1="752.09" y1="2705.7" x2="752.09" y2="2715.3" stroke="#222" stroke-width="2"/>
<text transform="translate(752.09,2752.95) rotate(45)" y="7.43" font-size="27.0" text-anchor="middle">CP3</text>
<line x1="784.92" y1="2705.7" x2="784.92" y2="2715.3" stroke="#222" stroke-width="2"/>
<text transform="translate(784.92,2753.42) rotate(45)" y="7.43" font-size="27.0" text-anchor="middle">CPZ</text>
<line x1="817.75" y1="2705.7" x2="817.75" y2="2715.3" stroke="#222" stroke-width="2"/>
<text transform="translate(817.75,2752.95) rotate(45)" y="7.43" font-size="27.0" text-anchor="middle">CP4</text>
<line x1="850.57" y1="2705.7" x2="850.57" y2="2715.3" stroke="#222" stroke-width="2"/>
<text transform="translate(850.57,2752.12) rotate(45)" y="7.43" font-size="27.0" text-anchor="middle">TP8</text>
<line x1="883.40" y1="2705.7" x2="883.40" y2="2715.3" stroke="#222" stroke-width="2"/>
<text transform="translate(883.40,2746.36) rotate(45)" y="7.43" font-size="27.0" text-anchor="middle">T5</text>
<line x1="916.23" y1="2705.7" x2="916.23" y2="2715.3" stroke="#222" stroke-width="2"/>
<text transform="translate(916.23,2746.29) rotate(45)" y="7.43" font-size="27.0" text-anchor="middle">P3</text>
<line x1="949.05" y1="2705.7" x2="949.05" y2="2715.3" stroke="#222" stroke-width="2"/>
<text transform="translate(949.05,2746.75) rotate(45)" y="7.43" font-size="27.0" text-anchor="middle">PZ</text>
<line x1="981.88" y1="2705.7" x2="981.88" y2="2715.3" stroke="#222" stroke-width="2"/>
<text transform="translate(981.88,2746.29) rotate(45)" y="7.43" font-size="27.0" text-anchor="middle">P4</text>
<line x1="1014.71" y1="2705.7" x2="1014.71" y2="2715.3" stroke="#222" stroke-width="2"/>
<text transform="translate(1014.71,2746.36) rotate(45)" y="7.43" font-size="27.0" text-anchor="middle">T6</text>
<line x1="1047.53" y1="2705.7" x2="1047.53" y2="2715.3" stroke="#222" stroke-width="2"/>
<text transform="translate(1047.53,2748.04) rotate(45)" y="7.43" font-size="27.0" text-anchor="middle">O1</text>
<line x1="1080.36" y1="2705.7" x2="1080.36" y2="2715.3" stroke="#222" stroke-width="2"/>
<text transform="translate(1080.36,2748.51) rotate(45)" y="7.43" font-size="27.0" text-anchor="middle">OZ</text>
<line x1="1113.19" y1="2705.7" x2="1113.19" y2="2715.3" stroke="#222" stroke-width="2"/>
<text transform="translate(1113.19,2748.04) rotate(45)" y="7.43" font-size="27.0" text-anchor="middle">O2</text>
<text x="637.2" y="2557.3" font-size="33.05" text-anchor="middle">Feature Importance Ranking of Sub 5</text>
<rect x="144.8" y="2818.5" width="984.8" height="49.4" fill="url(#cb)" stroke="#222" stroke-width="2"/>
<line x1="314.29" y1="2867.9" x2="314.29" y2="2877.5" stroke="#222" stroke-width="2"/>
<text x="314.29" y="2906.9" font-size="27.0" text-anchor="middle">20</text>
<line x1="492.69" y1="2867.9" x2="492.69" y2="2877.5" stroke="#222" stroke-width="2"/>
<text x="492.69" y="2906.9" font-size="27.0" text-anchor="middle">40</text>
<line x1="671.10" y1="2867.9" x2="671.10" y2="2877.5" stroke="#222" stroke-width="2"/>
<text x="671.10" y="2906.9" font-size="27.0" text-anchor="middle">60</text>
<line x1="849.50" y1="2867.9" x2="849.50" y2="2877.5" stroke="#222" stroke-width="2"/>
<text x="849.50" y="2906.9" font-size="27.0" text-anchor="middle">80</text>
<line x1="1027.91" y1="2867.9" x2="1027.91" y2="2877.5" stroke="#222" stroke-width="2"/>
<text x="1027.91" y="2906.9" font-size="27.0" text-anchor="middle">100</text>
</g><g class="hm tc" opacity="0.28"><line x1="135.2" y1="2590.90" x2="144.8" y2="2590.90" stroke="#222" stroke-width="2"/><text x="126.8" y="2599.40" font-size="27.0" text-anchor="end">α</text><line x1="135.2" y1="2623.70" x2="144.8" y2="2623.70" stroke="#222" stroke-width="2"/><text x="126.8" y="2632.20" font-size="27.0" text-anchor="end">β</text><line x1="135.2" y1="2656.50" x2="144.8" y2="2656.50" stroke="#222" stroke-width="2"/><text x="126.8" y="2665.00" font-size="27.0" text-anchor="end">θ</text><line x1="135.2" y1="2689.30" x2="144.8" y2="2689.30" stroke="#222" stroke-width="2"/><text x="126.8" y="2697.80" font-size="27.0" text-anchor="end">δ</text><line x1="161.21" y1="2705.7" x2="161.21" y2="2715.3" stroke="#222" stroke-width="2"/><text transform="translate(161.21,2751.78) rotate(45)" y="7.43" font-size="27.0" text-anchor="middle">FP1</text><line x1="194.04" y1="2705.7" x2="194.04" y2="2715.3" stroke="#222" stroke-width="2"/><text transform="translate(194.04,2751.78) rotate(45)" y="7.43" font-size="27.0" text-anchor="middle">FP2</text><line x1="226.87" y1="2705.7" x2="226.87" y2="2715.3" stroke="#222" stroke-width="2"/><text transform="translate(226.87,2746.02) rotate(45)" y="7.43" font-size="27.0" text-anchor="middle">F7</text><line x1="259.69" y1="2705.7" x2="259.69" y2="2715.3" stroke="#222" stroke-width="2"/><text transform="translate(259.69,2746.02) rotate(45)" y="7.43" font-size="27.0" text-anchor="middle">F3</text><line x1="292.52" y1="2705.7" x2="292.52" y2="2715.3" stroke="#222" stroke-width="2"/><text transform="translate(292.52,2746.49) rotate(45)" y="7.43" font-size="27.0" text-anchor="middle">FZ</text><line x1="325.35" y1="2705.7" x2="325.35" y2="2715.3" stroke="#222" stroke-width="2"/><text transform="translate(325.35,2746.02) rotate(45)" y="7.43" font-size="27.0" text-anchor="middle">F4</text><line x1="358.17" y1="2705.7" x2="358.17" y2="2715.3" stroke="#222" stroke-width="2"/><text transform="translate(358.17,2746.02) rotate(45)" y="7.43" font-size="27.0" text-anchor="middle">F8</text><line x1="391.00" y1="2705.7" x2="391.00" y2="2715.3" stroke="#222" stroke-width="2"/><text transform="translate(391.00,2751.85) rotate(45)" y="7.43" font-size="27.0" text-anchor="middle">FT7</text><line x1="423.83" y1="2705.7" x2="423.83" y2="2715.3" stroke="#222" stroke-width="2"/><text transform="translate(423.83,2752.68) rotate(45)" y="7.43" font-size="27.0" text-anchor="middle">FC3</text><line x1="456.65" y1="2705.7" x2="456.65" y2="2715.3" stroke="#222" stroke-width="2"/><text transform="translate(456.65,2753.15) rotate(45)" y="7.43" font-size="27.0" text-anchor="middle">FCZ</text><line x1="489.48" y1="2705.7" x2="489.48" y2="2715.3" stroke="#222" stroke-width="2"/><text transform="translate(489.48,2752.68) rotate(45)" y="7.43" font-size="27.0" text-anchor="middle">FC4</text><line x1="522.31" y1="2705.7" x2="522.31" y2="2715.3" stroke="#222" stroke-width="2"/><text transform="translate(522.31,2751.85) rotate(45)" y="7.43" font-size="27.0" text-anchor="middle">FT8</text><line x1="555.13" y1="2705.7" x2="555.13" y2="2715.3" stroke="#222" stroke-width="2"/><text transform="translate(555.13,2746.36) rotate(45)" y="7.43" font-size="27.0" text-anchor="middle">T3</text><line x1="587.96" y1="2705.7" x2="587.96" y2="2715.3" stroke="#222" stroke-width="2"/><text transform="translate(587.96,2747.19) rotate(45)" y="7.43" font-size="27.0" text-anchor="middle">C3</text><line x1="620.79" y1="2705.7" x2="620.79" y2="2715.3" stroke="#222" stroke-width="2"/><text transform="translate(620.79,2747.66) rotate(45)" y="7.43" font-size="27.0" text-anchor="middle">CZ</text><line x1="653.61" y1="2705.7" x2="653.61" y2="2715.3" stroke="#222" stroke-width="2"/><text transform="translate(653.61,2747.19) rotate(45)" y="7.43" font-size="27.0" text-anchor="middle">C4</text><line x1="686.44" y1="2705.7" x2="686.44" y2="2715.3" stroke="#222" stroke-width="2"/><text transform="translate(686.44,2746.36) rotate(45)" y="7.43" font-size="27.0" text-anchor="middle">T4</text><line x1="719.27" y1="2705.7" x2="719.27" y2="2715.3" stroke="#222" stroke-width="2"/><text transform="translate(719.27,2752.12) rotate(45)" y="7.43" font-size="27.0" text-anchor="middle">TP7</text><line x1="752.09" y1="2705.7" x2="752.09" y2="2715.3" stroke="#222" stroke-width="2"/><text transform="translate(752.09,2752.95) rotate(45)" y="7.43" font-size="27.0" text-anchor="middle">CP3</text><line x1="784.92" y1="2705.7" x2="784.92" y2="2715.3" stroke="#222" stroke-width="2"/><text transform="translate(784.92,2753.42) rotate(45)" y="7.43" font-size="27.0" text-anchor="middle">CPZ</text><line x1="817.75" y1="2705.7" x2="817.75" y2="2715.3" stroke="#222" stroke-width="2"/><text transform="translate(817.75,2752.95) rotate(45)" y="7.43" font-size="27.0" text-anchor="middle">CP4</text><line x1="850.57" y1="2705.7" x2="850.57" y2="2715.3" stroke="#222" stroke-width="2"/><text transform="translate(850.57,2752.12) rotate(45)" y="7.43" font-size="27.0" text-anchor="middle">TP8</text><line x1="883.40" y1="2705.7" x2="883.40" y2="2715.3" stroke="#222" stroke-width="2"/><text transform="translate(883.40,2746.36) rotate(45)" y="7.43" font-size="27.0" text-anchor="middle">T5</text><line x1="916.23" y1="2705.7" x2="916.23" y2="2715.3" stroke="#222" stroke-width="2"/><text transform="translate(916.23,2746.29) rotate(45)" y="7.43" font-size="27.0" text-anchor="middle">P3</text><line x1="949.05" y1="2705.7" x2="949.05" y2="2715.3" stroke="#222" stroke-width="2"/><text transform="translate(949.05,2746.75) rotate(45)" y="7.43" font-size="27.0" text-anchor="middle">PZ</text><line x1="981.88" y1="2705.7" x2="981.88" y2="2715.3" stroke="#222" stroke-width="2"/><text transform="translate(981.88,2746.29) rotate(45)" y="7.43" font-size="27.0" text-anchor="middle">P4</text><line x1="1014.71" y1="2705.7" x2="1014.71" y2="2715.3" stroke="#222" stroke-width="2"/><text transform="translate(1014.71,2746.36) rotate(45)" y="7.43" font-size="27.0" text-anchor="middle">T6</text><line x1="1047.53" y1="2705.7" x2="1047.53" y2="2715.3" stroke="#222" stroke-width="2"/><text transform="translate(1047.53,2748.04) rotate(45)" y="7.43" font-size="27.0" text-anchor="middle">O1</text><line x1="1080.36" y1="2705.7" x2="1080.36" y2="2715.3" stroke="#222" stroke-width="2"/><text transform="translate(1080.36,2748.51) rotate(45)" y="7.43" font-size="27.0" text-anchor="middle">OZ</text><line x1="1113.19" y1="2705.7" x2="1113.19" y2="2715.3" stroke="#222" stroke-width="2"/><text transform="translate(1113.19,2748.04) rotate(45)" y="7.43" font-size="27.0" text-anchor="middle">O2</text><text x="637.2" y="2557.3" font-size="33.05" text-anchor="middle">Feature Importance Ranking of Sub 5</text><line x1="314.29" y1="2867.9" x2="314.29" y2="2877.5" stroke="#222" stroke-width="2"/><text x="314.29" y="2906.9" font-size="27.0" text-anchor="middle">20</text><line x1="492.69" y1="2867.9" x2="492.69" y2="2877.5" stroke="#222" stroke-width="2"/><text x="492.69" y="2906.9" font-size="27.0" text-anchor="middle">40</text><line x1="671.10" y1="2867.9" x2="671.10" y2="2877.5" stroke="#222" stroke-width="2"/><text x="671.10" y="2906.9" font-size="27.0" text-anchor="middle">60</text><line x1="849.50" y1="2867.9" x2="849.50" y2="2877.5" stroke="#222" stroke-width="2"/><text x="849.50" y="2906.9" font-size="27.0" text-anchor="middle">80</text><line x1="1027.91" y1="2867.9" x2="1027.91" y2="2877.5" stroke="#222" stroke-width="2"/><text x="1027.91" y="2906.9" font-size="27.0" text-anchor="middle">100</text>
</g>
<g filter="url(#b2)" class="hm">
<path d="M1370.9 2581.7h33.4v31.9h-33.4z" fill="#04aa7c"/>
<path d="M1403.7 2581.7h33.4v31.9h-33.4z" fill="#04aa7c"/>
<path d="M1436.6 2581.7h33.4v31.9h-33.4z" fill="#c4e10f"/>
<path d="M1469.4 2581.7h33.4v31.9h-33.4z" fill="#04ca55"/>
<path d="M1502.2 2581.7h33.4v31.9h-33.4z" fill="#07778f"/>
<path d="M1535.0 2581.7h33.4v31.9h-33.4z" fill="#06908a"/>
<path d="M1567.9 2581.7h33.4v31.9h-33.4z" fill="#c4e10f"/>
<path d="M1600.7 2581.7h33.4v31.9h-33.4z" fill="#04bb6d"/>
<path d="M1633.5 2581.7h33.4v31.9h-33.4z" fill="#0a6594"/>
<path d="M1666.3 2581.7h33.4v31.9h-33.4z" fill="#087290"/>
<path d="M1699.2 2581.7h33.4v31.9h-33.4z" fill="#32d237"/>
<path d="M1732.0 2581.7h33.4v31.9h-33.4z" fill="#32d237"/>
<path d="M1764.8 2581.7h33.4v31.9h-33.4z" fill="#04bf67"/>
<path d="M1797.6 2581.7h33.4v31.9h-33.4z" fill="#04bf67"/>
<path d="M1830.5 2581.7h33.4v31.9h-33.4z" fill="#73d81d"/>
<path d="M1863.3 2581.7h33.4v31.9h-33.4z" fill="#068b8c"/>
<path d="M1896.1 2581.7h33.4v31.9h-33.4z" fill="#0b6195"/>
<path d="M1929.0 2581.7h33.4v31.9h-33.4z" fill="#04c361"/>
<path d="M1961.8 2581.7h33.4v31.9h-33.4z" fill="#0a6594"/>
<path d="M1994.6 2581.7h33.4v31.9h-33.4z" fill="#04b771"/>
<path d="M2027.4 2581.7h33.4v31.9h-33.4z" fill="#096a92"/>
<path d="M2060.3 2581.7h33.4v31.9h-33.4z" fill="#096a92"/>
<path d="M2093.1 2581.7h33.4v31.9h-33.4z" fill="#06868d"/>
<path d="M2125.9 2581.7h33.4v31.9h-33.4z" fill="#3f4090"/>
<path d="M2158.7 2581.7h33.4v31.9h-33.4z" fill="#443a8e"/>
<path d="M2191.6 2581.7h33.4v31.9h-33.4z" fill="#443a8e"/>
<path d="M2224.4 2581.7h33.4v31.9h-33.4z" fill="#48348b"/>
<path d="M2257.2 2581.7h33.4v31.9h-33.4z" fill="#2e4e93"/>
<path d="M2290.0 2581.7h33.4v31.9h-33.4z" fill="#4c2e88"/>
<path d="M2322.9 2581.7h33.4v31.9h-33.4z" fill="#4c2e88"/>
<path d="M1370.9 2613.0h33.4v32.1h-33.4z" fill="#087290"/>
<path d="M1403.7 2613.0h33.4v32.1h-33.4z" fill="#087290"/>
<path d="M1436.6 2613.0h33.4v32.1h-33.4z" fill="#f9e60f"/>
<path d="M1469.4 2613.0h33.4v32.1h-33.4z" fill="#4b0260"/>
<path d="M1502.2 2613.0h33.4v32.1h-33.4z" fill="#4f2984"/>
<path d="M1535.0 2613.0h33.4v32.1h-33.4z" fill="#48348b"/>
<path d="M1567.9 2613.0h33.4v32.1h-33.4z" fill="#1bd041"/>
<path d="M1600.7 2613.0h33.4v32.1h-33.4z" fill="#443a8e"/>
<path d="M1633.5 2613.0h33.4v32.1h-33.4z" fill="#4d0363"/>
<path d="M1666.3 2613.0h33.4v32.1h-33.4z" fill="#500569"/>
<path d="M1699.2 2613.0h33.4v32.1h-33.4z" fill="#06868d"/>
<path d="M1732.0 2613.0h33.4v32.1h-33.4z" fill="#059987"/>
<path d="M1764.8 2613.0h33.4v32.1h-33.4z" fill="#4b0260"/>
<path d="M1797.6 2613.0h33.4v32.1h-33.4z" fill="#0a6594"/>
<path d="M1830.5 2613.0h33.4v32.1h-33.4z" fill="#4d0363"/>
<path d="M1863.3 2613.0h33.4v32.1h-33.4z" fill="#4d0363"/>
<path d="M1896.1 2613.0h33.4v32.1h-33.4z" fill="#4d0363"/>
<path d="M1929.0 2613.0h33.4v32.1h-33.4z" fill="#04bb6d"/>
<path d="M1961.8 2613.0h33.4v32.1h-33.4z" fill="#4d0363"/>
<path d="M1994.6 2613.0h33.4v32.1h-33.4z" fill="#51056c"/>
<path d="M2027.4 2613.0h33.4v32.1h-33.4z" fill="#0a6594"/>
<path d="M2060.3 2613.0h33.4v32.1h-33.4z" fill="#0e5d96"/>
<path d="M2093.1 2613.0h33.4v32.1h-33.4z" fill="#4d0363"/>
<path d="M2125.9 2613.0h33.4v32.1h-33.4z" fill="#b2e011"/>
<path d="M2158.7 2613.0h33.4v32.1h-33.4z" fill="#0b6195"/>
<path d="M2191.6 2613.0h33.4v32.1h-33.4z" fill="#520e73"/>
<path d="M2224.4 2613.0h33.4v32.1h-33.4z" fill="#4d0363"/>
<path d="M2257.2 2613.0h33.4v32.1h-33.4z" fill="#4d0363"/>
<path d="M2290.0 2613.0h33.4v32.1h-33.4z" fill="#4d0363"/>
<path d="M2322.9 2613.0h33.4v32.1h-33.4z" fill="#4d0363"/>
<path d="M1370.9 2644.5h33.4v35.3h-33.4z" fill="#059d85"/>
<path d="M1403.7 2644.5h33.4v35.3h-33.4z" fill="#f9e60f"/>
<path d="M1436.6 2644.5h33.4v35.3h-33.4z" fill="#521578"/>
<path d="M1469.4 2644.5h33.4v35.3h-33.4z" fill="#04aa7c"/>
<path d="M1502.2 2644.5h33.4v35.3h-33.4z" fill="#087290"/>
<path d="M1535.0 2644.5h33.4v35.3h-33.4z" fill="#059489"/>
<path d="M1567.9 2644.5h33.4v35.3h-33.4z" fill="#04a680"/>
<path d="M1600.7 2644.5h33.4v35.3h-33.4z" fill="#52076f"/>
<path d="M1633.5 2644.5h33.4v35.3h-33.4z" fill="#7dda1b"/>
<path d="M1666.3 2644.5h33.4v35.3h-33.4z" fill="#04a680"/>
<path d="M1699.2 2644.5h33.4v35.3h-33.4z" fill="#0acd4d"/>
<path d="M1732.0 2644.5h33.4v35.3h-33.4z" fill="#0acd4d"/>
<path d="M1764.8 2644.5h33.4v35.3h-33.4z" fill="#e7e40e"/>
<path d="M1797.6 2644.5h33.4v35.3h-33.4z" fill="#06868d"/>
<path d="M1830.5 2644.5h33.4v35.3h-33.4z" fill="#88db19"/>
<path d="M1863.3 2644.5h33.4v35.3h-33.4z" fill="#04c361"/>
<path d="M1896.1 2644.5h33.4v35.3h-33.4z" fill="#04b771"/>
<path d="M1929.0 2644.5h33.4v35.3h-33.4z" fill="#d6e30f"/>
<path d="M1961.8 2644.5h33.4v35.3h-33.4z" fill="#087290"/>
<path d="M1994.6 2644.5h33.4v35.3h-33.4z" fill="#04a183"/>
<path d="M2027.4 2644.5h33.4v35.3h-33.4z" fill="#059987"/>
<path d="M2060.3 2644.5h33.4v35.3h-33.4z" fill="#059987"/>
<path d="M2093.1 2644.5h33.4v35.3h-33.4z" fill="#059489"/>
<path d="M2125.9 2644.5h33.4v35.3h-33.4z" fill="#06868d"/>
<path d="M2158.7 2644.5h33.4v35.3h-33.4z" fill="#04a183"/>
<path d="M2191.6 2644.5h33.4v35.3h-33.4z" fill="#06868d"/>
<path d="M2224.4 2644.5h33.4v35.3h-33.4z" fill="#c4e10f"/>
<path d="M2257.2 2644.5h33.4v35.3h-33.4z" fill="#88db19"/>
<path d="M2290.0 2644.5h33.4v35.3h-33.4z" fill="#04bf67"/>
<path d="M2322.9 2644.5h33.4v35.3h-33.4z" fill="#88db19"/>
<path d="M1370.9 2679.2h33.4v34.3h-33.4z" fill="#521578"/>
<path d="M1403.7 2679.2h33.4v34.3h-33.4z" fill="#521578"/>
<path d="M1436.6 2679.2h33.4v34.3h-33.4z" fill="#521578"/>
<path d="M1469.4 2679.2h33.4v34.3h-33.4z" fill="#88db19"/>
<path d="M1502.2 2679.2h33.4v34.3h-33.4z" fill="#04bf67"/>
<path d="M1535.0 2679.2h33.4v34.3h-33.4z" fill="#521578"/>
<path d="M1567.9 2679.2h33.4v34.3h-33.4z" fill="#d6e30f"/>
<path d="M1600.7 2679.2h33.4v34.3h-33.4z" fill="#04bb6d"/>
<path d="M1633.5 2679.2h33.4v34.3h-33.4z" fill="#255494"/>
<path d="M1666.3 2679.2h33.4v34.3h-33.4z" fill="#f0e50f"/>
<path d="M1699.2 2679.2h33.4v34.3h-33.4z" fill="#521c7c"/>
<path d="M1732.0 2679.2h33.4v34.3h-33.4z" fill="#2e4e93"/>
<path d="M1764.8 2679.2h33.4v34.3h-33.4z" fill="#04bb6d"/>
<path d="M1797.6 2679.2h33.4v34.3h-33.4z" fill="#f0e50f"/>
<path d="M1830.5 2679.2h33.4v34.3h-33.4z" fill="#73d81d"/>
<path d="M1863.3 2679.2h33.4v34.3h-33.4z" fill="#059d85"/>
<path d="M1896.1 2679.2h33.4v34.3h-33.4z" fill="#3f4090"/>
<path d="M1929.0 2679.2h33.4v34.3h-33.4z" fill="#096e91"/>
<path d="M1961.8 2679.2h33.4v34.3h-33.4z" fill="#04ca55"/>
<path d="M1994.6 2679.2h33.4v34.3h-33.4z" fill="#b2e011"/>
<path d="M2027.4 2679.2h33.4v34.3h-33.4z" fill="#077c8e"/>
<path d="M2060.3 2679.2h33.4v34.3h-33.4z" fill="#04c361"/>
<path d="M2093.1 2679.2h33.4v34.3h-33.4z" fill="#0b6195"/>
<path d="M2125.9 2679.2h33.4v34.3h-33.4z" fill="#068b8c"/>
<path d="M2158.7 2679.2h33.4v34.3h-33.4z" fill="#4d0363"/>
<path d="M2191.6 2679.2h33.4v34.3h-33.4z" fill="#522281"/>
<path d="M2224.4 2679.2h33.4v34.3h-33.4z" fill="#059489"/>
<path d="M2257.2 2679.2h33.4v34.3h-33.4z" fill="#059987"/>
<path d="M2290.0 2679.2h33.4v34.3h-33.4z" fill="#0a6594"/>
<path d="M2322.9 2679.2h33.4v34.3h-33.4z" fill="#4e0466"/>
<rect x="1371.2" y="2582.0" width="984.8" height="131.2" fill="none" stroke="#222" stroke-width="2"/>
<line x1="1361.6" y1="2598.40" x2="1371.2" y2="2598.40" stroke="#222" stroke-width="2"/>
<text x="1353.2" y="2606.90" font-size="27.0" text-anchor="end">α</text>
<line x1="1361.6" y1="2631.20" x2="1371.2" y2="2631.20" stroke="#222" stroke-width="2"/>
<text x="1353.2" y="2639.70" font-size="27.0" text-anchor="end">β</text>
<line x1="1361.6" y1="2664.00" x2="1371.2" y2="2664.00" stroke="#222" stroke-width="2"/>
<text x="1353.2" y="2672.50" font-size="27.0" text-anchor="end">θ</text>
<line x1="1361.6" y1="2696.80" x2="1371.2" y2="2696.80" stroke="#222" stroke-width="2"/>
<text x="1353.2" y="2705.30" font-size="27.0" text-anchor="end">δ</text>
<line x1="1387.61" y1="2713.2" x2="1387.61" y2="2722.8" stroke="#222" stroke-width="2"/>
<text transform="translate(1387.61,2759.28) rotate(45)" y="7.43" font-size="27.0" text-anchor="middle">FP1</text>
<line x1="1420.44" y1="2713.2" x2="1420.44" y2="2722.8" stroke="#222" stroke-width="2"/>
<text transform="translate(1420.44,2759.28) rotate(45)" y="7.43" font-size="27.0" text-anchor="middle">FP2</text>
<line x1="1453.27" y1="2713.2" x2="1453.27" y2="2722.8" stroke="#222" stroke-width="2"/>
<text transform="translate(1453.27,2753.52) rotate(45)" y="7.43" font-size="27.0" text-anchor="middle">F7</text>
<line x1="1486.09" y1="2713.2" x2="1486.09" y2="2722.8" stroke="#222" stroke-width="2"/>
<text transform="translate(1486.09,2753.52) rotate(45)" y="7.43" font-size="27.0" text-anchor="middle">F3</text>
<line x1="1518.92" y1="2713.2" x2="1518.92" y2="2722.8" stroke="#222" stroke-width="2"/>
<text transform="translate(1518.92,2753.99) rotate(45)" y="7.43" font-size="27.0" text-anchor="middle">FZ</text>
<line x1="1551.75" y1="2713.2" x2="1551.75" y2="2722.8" stroke="#222" stroke-width="2"/>
<text transform="translate(1551.75,2753.52) rotate(45)" y="7.43" font-size="27.0" text-anchor="middle">F4</text>
<line x1="1584.57" y1="2713.2" x2="1584.57" y2="2722.8" stroke="#222" stroke-width="2"/>
<text transform="translate(1584.57,2753.52) rotate(45)" y="7.43" font-size="27.0" text-anchor="middle">F8</text>
<line x1="1617.40" y1="2713.2" x2="1617.40" y2="2722.8" stroke="#222" stroke-width="2"/>
<text transform="translate(1617.40,2759.35) rotate(45)" y="7.43" font-size="27.0" text-anchor="middle">FT7</text>
<line x1="1650.23" y1="2713.2" x2="1650.23" y2="2722.8" stroke="#222" stroke-width="2"/>
<text transform="translate(1650.23,2760.18) rotate(45)" y="7.43" font-size="27.0" text-anchor="middle">FC3</text>
<line x1="1683.05" y1="2713.2" x2="1683.05" y2="2722.8" stroke="#222" stroke-width="2"/>
<text transform="translate(1683.05,2760.65) rotate(45)" y="7.43" font-size="27.0" text-anchor="middle">FCZ</text>
<line x1="1715.88" y1="2713.2" x2="1715.88" y2="2722.8" stroke="#222" stroke-width="2"/>
<text transform="translate(1715.88,2760.18) rotate(45)" y="7.43" font-size="27.0" text-anchor="middle">FC4</text>
<line x1="1748.71" y1="2713.2" x2="1748.71" y2="2722.8" stroke="#222" stroke-width="2"/>
<text transform="translate(1748.71,2759.35) rotate(45)" y="7.43" font-size="27.0" text-anchor="middle">FT8</text>
<line x1="1781.53" y1="2713.2" x2="1781.53" y2="2722.8" stroke="#222" stroke-width="2"/>
<text transform="translate(1781.53,2753.86) rotate(45)" y="7.43" font-size="27.0" text-anchor="middle">T3</text>
<line x1="1814.36" y1="2713.2" x2="1814.36" y2="2722.8" stroke="#222" stroke-width="2"/>
<text transform="translate(1814.36,2754.69) rotate(45)" y="7.43" font-size="27.0" text-anchor="middle">C3</text>
<line x1="1847.19" y1="2713.2" x2="1847.19" y2="2722.8" stroke="#222" stroke-width="2"/>
<text transform="translate(1847.19,2755.16) rotate(45)" y="7.43" font-size="27.0" text-anchor="middle">CZ</text>
<line x1="1880.01" y1="2713.2" x2="1880.01" y2="2722.8" stroke="#222" stroke-width="2"/>
<text transform="translate(1880.01,2754.69) rotate(45)" y="7.43" font-size="27.0" text-anchor="middle">C4</text>
<line x1="1912.84" y1="2713.2" x2="1912.84" y2="2722.8" stroke="#222" stroke-width="2"/>
<text transform="translate(1912.84,2753.86) rotate(45)" y="7.43" font-size="27.0" text-anchor="middle">T4</text>
<line x1="1945.67" y1="2713.2" x2="1945.67" y2="2722.8" stroke="#222" stroke-width="2"/>
<text transform="translate(1945.67,2759.62) rotate(45)" y="7.43" font-size="27.0" text-anchor="middle">TP7</text>
<line x1="1978.49" y1="2713.2" x2="1978.49" y2="2722.8" stroke="#222" stroke-width="2"/>
<text transform="translate(1978.49,2760.45) rotate(45)" y="7.43" font-size="27.0" text-anchor="middle">CP3</text>
<line x1="2011.32" y1="2713.2" x2="2011.32" y2="2722.8" stroke="#222" stroke-width="2"/>
<text transform="translate(2011.32,2760.92) rotate(45)" y="7.43" font-size="27.0" text-anchor="middle">CPZ</text>
<line x1="2044.15" y1="2713.2" x2="2044.15" y2="2722.8" stroke="#222" stroke-width="2"/>
<text transform="translate(2044.15,2760.45) rotate(45)" y="7.43" font-size="27.0" text-anchor="middle">CP4</text>
<line x1="2076.97" y1="2713.2" x2="2076.97" y2="2722.8" stroke="#222" stroke-width="2"/>
<text transform="translate(2076.97,2759.62) rotate(45)" y="7.43" font-size="27.0" text-anchor="middle">TP8</text>
<line x1="2109.80" y1="2713.2" x2="2109.80" y2="2722.8" stroke="#222" stroke-width="2"/>
<text transform="translate(2109.80,2753.86) rotate(45)" y="7.43" font-size="27.0" text-anchor="middle">T5</text>
<line x1="2142.63" y1="2713.2" x2="2142.63" y2="2722.8" stroke="#222" stroke-width="2"/>
<text transform="translate(2142.63,2753.79) rotate(45)" y="7.43" font-size="27.0" text-anchor="middle">P3</text>
<line x1="2175.45" y1="2713.2" x2="2175.45" y2="2722.8" stroke="#222" stroke-width="2"/>
<text transform="translate(2175.45,2754.25) rotate(45)" y="7.43" font-size="27.0" text-anchor="middle">PZ</text>
<line x1="2208.28" y1="2713.2" x2="2208.28" y2="2722.8" stroke="#222" stroke-width="2"/>
<text transform="translate(2208.28,2753.79) rotate(45)" y="7.43" font-size="27.0" text-anchor="middle">P4</text>
<line x1="2241.11" y1="2713.2" x2="2241.11" y2="2722.8" stroke="#222" stroke-width="2"/>
<text transform="translate(2241.11,2753.86) rotate(45)" y="7.43" font-size="27.0" text-anchor="middle">T6</text>
<line x1="2273.93" y1="2713.2" x2="2273.93" y2="2722.8" stroke="#222" stroke-width="2"/>
<text transform="translate(2273.93,2755.54) rotate(45)" y="7.43" font-size="27.0" text-anchor="middle">O1</text>
<line x1="2306.76" y1="2713.2" x2="2306.76" y2="2722.8" stroke="#222" stroke-width="2"/>
<text transform="translate(2306.76,2756.01) rotate(45)" y="7.43" font-size="27.0" text-anchor="middle">OZ</text>
<line x1="2339.59" y1="2713.2" x2="2339.59" y2="2722.8" stroke="#222" stroke-width="2"/>
<text transform="translate(2339.59,2755.54) rotate(45)" y="7.43" font-size="27.0" text-anchor="middle">O2</text>
<text x="1863.6" y="2564.8" font-size="33.05" text-anchor="middle">Feature Importance Ranking of Sub 6</text>
<rect x="1371.2" y="2826.0" width="984.8" height="49.4" fill="url(#cb)" stroke="#222" stroke-width="2"/>
<line x1="1540.69" y1="2875.4" x2="1540.69" y2="2885.0" stroke="#222" stroke-width="2"/>
<text x="1540.69" y="2914.4" font-size="27.0" text-anchor="middle">20</text>
<line x1="1719.09" y1="2875.4" x2="1719.09" y2="2885.0" stroke="#222" stroke-width="2"/>
<text x="1719.09" y="2914.4" font-size="27.0" text-anchor="middle">40</text>
<line x1="1897.50" y1="2875.4" x2="1897.50" y2="2885.0" stroke="#222" stroke-width="2"/>
<text x="1897.50" y="2914.4" font-size="27.0" text-anchor="middle">60</text>
<line x1="2075.90" y1="2875.4" x2="2075.90" y2="2885.0" stroke="#222" stroke-width="2"/>
<text x="2075.90" y="2914.4" font-size="27.0" text-anchor="middle">80</text>
<line x1="2254.31" y1="2875.4" x2="2254.31" y2="2885.0" stroke="#222" stroke-width="2"/>
<text x="2254.31" y="2914.4" font-size="27.0" text-anchor="middle">100</text>
</g><g class="hm tc" opacity="0.28"><line x1="1361.6" y1="2598.40" x2="1371.2" y2="2598.40" stroke="#222" stroke-width="2"/><text x="1353.2" y="2606.90" font-size="27.0" text-anchor="end">α</text><line x1="1361.6" y1="2631.20" x2="1371.2" y2="2631.20" stroke="#222" stroke-width="2"/><text x="1353.2" y="2639.70" font-size="27.0" text-anchor="end">β</text><line x1="1361.6" y1="2664.00" x2="1371.2" y2="2664.00" stroke="#222" stroke-width="2"/><text x="1353.2" y="2672.50" font-size="27.0" text-anchor="end">θ</text><line x1="1361.6" y1="2696.80" x2="1371.2" y2="2696.80" stroke="#222" stroke-width="2"/><text x="1353.2" y="2705.30" font-size="27.0" text-anchor="end">δ</text><line x1="1387.61" y1="2713.2" x2="1387.61" y2="2722.8" stroke="#222" stroke-width="2"/><text transform="translate(1387.61,2759.28) rotate(45)" y="7.43" font-size="27.0" text-anchor="middle">FP1</text><line x1="1420.44" y1="2713.2" x2="1420.44" y2="2722.8" stroke="#222" stroke-width="2"/><text transform="translate(1420.44,2759.28) rotate(45)" y="7.43" font-size="27.0" text-anchor="middle">FP2</text><line x1="1453.27" y1="2713.2" x2="1453.27" y2="2722.8" stroke="#222" stroke-width="2"/><text transform="translate(1453.27,2753.52) rotate(45)" y="7.43" font-size="27.0" text-anchor="middle">F7</text><line x1="1486.09" y1="2713.2" x2="1486.09" y2="2722.8" stroke="#222" stroke-width="2"/><text transform="translate(1486.09,2753.52) rotate(45)" y="7.43" font-size="27.0" text-anchor="middle">F3</text><line x1="1518.92" y1="2713.2" x2="1518.92" y2="2722.8" stroke="#222" stroke-width="2"/><text transform="translate(1518.92,2753.99) rotate(45)" y="7.43" font-size="27.0" text-anchor="middle">FZ</text><line x1="1551.75" y1="2713.2" x2="1551.75" y2="2722.8" stroke="#222" stroke-width="2"/><text transform="translate(1551.75,2753.52) rotate(45)" y="7.43" font-size="27.0" text-anchor="middle">F4</text><line x1="1584.57" y1="2713.2" x2="1584.57" y2="2722.8" stroke="#222" stroke-width="2"/><text transform="translate(1584.57,2753.52) rotate(45)" y="7.43" font-size="27.0" text-anchor="middle">F8</text><line x1="1617.40" y1="2713.2" x2="1617.40" y2="2722.8" stroke="#222" stroke-width="2"/><text transform="translate(1617.40,2759.35) rotate(45)" y="7.43" font-size="27.0" text-anchor="middle">FT7</text><line x1="1650.23" y1="2713.2" x2="1650.23" y2="2722.8" stroke="#222" stroke-width="2"/><text transform="translate(1650.23,2760.18) rotate(45)" y="7.43" font-size="27.0" text-anchor="middle">FC3</text><line x1="1683.05" y1="2713.2" x2="1683.05" y2="2722.8" stroke="#222" stroke-width="2"/><text transform="translate(1683.05,2760.65) rotate(45)" y="7.43" font-size="27.0" text-anchor="middle">FCZ</text><line x1="1715.88" y1="2713.2" x2="1715.88" y2="2722.8" stroke="#222" stroke-width="2"/><text transform="translate(1715.88,2760.18) rotate(45)" y="7.43" font-size="27.0" text-anchor="middle">FC4</text><line x1="1748.71" y1="2713.2" x2="1748.71" y2="2722.8" stroke="#222" stroke-width="2"/><text transform="translate(1748.71,2759.35) rotate(45)" y="7.43" font-size="27.0" text-anchor="middle">FT8</text><line x1="1781.53" y1="2713.2" x2="1781.53" y2="2722.8" stroke="#222" stroke-width="2"/><text transform="translate(1781.53,2753.86) rotate(45)" y="7.43" font-size="27.0" text-anchor="middle">T3</text><line x1="1814.36" y1="2713.2" x2="1814.36" y2="2722.8" stroke="#222" stroke-width="2"/><text transform="translate(1814.36,2754.69) rotate(45)" y="7.43" font-size="27.0" text-anchor="middle">C3</text><line x1="1847.19" y1="2713.2" x2="1847.19" y2="2722.8" stroke="#222" stroke-width="2"/><text transform="translate(1847.19,2755.16) rotate(45)" y="7.43" font-size="27.0" text-anchor="middle">CZ</text><line x1="1880.01" y1="2713.2" x2="1880.01" y2="2722.8" stroke="#222" stroke-width="2"/><text transform="translate(1880.01,2754.69) rotate(45)" y="7.43" font-size="27.0" text-anchor="middle">C4</text><line x1="1912.84" y1="2713.2" x2="1912.84" y2="2722.8" stroke="#222" stroke-width="2"/><text transform="translate(1912.84,2753.86) rotate(45)" y="7.43" font-size="27.0" text-anchor="middle">T4</text><line x1="1945.67" y1="2713.2" x2="1945.67" y2="2722.8" stroke="#222" stroke-width="2"/><text transform="translate(1945.67,2759.62) rotate(45)" y="7.43" font-size="27.0" text-anchor="middle">TP7</text><line x1="1978.49" y1="2713.2" x2="1978.49" y2="2722.8" stroke="#222" stroke-width="2"/><text transform="translate(1978.49,2760.45) rotate(45)" y="7.43" font-size="27.0" text-anchor="middle">CP3</text><line x1="2011.32" y1="2713.2" x2="2011.32" y2="2722.8" stroke="#222" stroke-width="2"/><text transform="translate(2011.32,2760.92) rotate(45)" y="7.43" font-size="27.0" text-anchor="middle">CPZ</text><line x1="2044.15" y1="2713.2" x2="2044.15" y2="2722.8" stroke="#222" stroke-width="2"/><text transform="translate(2044.15,2760.45) rotate(45)" y="7.43" font-size="27.0" text-anchor="middle">CP4</text><line x1="2076.97" y1="2713.2" x2="2076.97" y2="2722.8" stroke="#222" stroke-width="2"/><text transform="translate(2076.97,2759.62) rotate(45)" y="7.43" font-size="27.0" text-anchor="middle">TP8</text><line x1="2109.80" y1="2713.2" x2="2109.80" y2="2722.8" stroke="#222" stroke-width="2"/><text transform="translate(2109.80,2753.86) rotate(45)" y="7.43" font-size="27.0" text-anchor="middle">T5</text><line x1="2142.63" y1="2713.2" x2="2142.63" y2="2722.8" stroke="#222" stroke-width="2"/><text transform="translate(2142.63,2753.79) rotate(45)" y="7.43" font-size="27.0" text-anchor="middle">P3</text><line x1="2175.45" y1="2713.2" x2="2175.45" y2="2722.8" stroke="#222" stroke-width="2"/><text transform="translate(2175.45,2754.25) rotate(45)" y="7.43" font-size="27.0" text-anchor="middle">PZ</text><line x1="2208.28" y1="2713.2" x2="2208.28" y2="2722.8" stroke="#222" stroke-width="2"/><text transform="translate(2208.28,2753.79) rotate(45)" y="7.43" font-size="27.0" text-anchor="middle">P4</text><line x1="2241.11" y1="2713.2" x2="2241.11" y2="2722.8" stroke="#222" stroke-width="2"/><text transform="translate(2241.11,2753.86) rotate(45)" y="7.43" font-size="27.0" text-anchor="middle">T6</text><line x1="2273.93" y1="2713.2" x2="2273.93" y2="2722.8" stroke="#222" stroke-width="2"/><text transform="translate(2273.93,2755.54) rotate(45)" y="7.43" font-size="27.0" text-anchor="middle">O1</text><line x1="2306.76" y1="2713.2" x2="2306.76" y2="2722.8" stroke="#222" stroke-width="2"/><text transform="translate(2306.76,2756.01) rotate(45)" y="7.43" font-size="27.0" text-anchor="middle">OZ</text><line x1="2339.59" y1="2713.2" x2="2339.59" y2="2722.8" stroke="#222" stroke-width="2"/><text transform="translate(2339.59,2755.54) rotate(45)" y="7.43" font-size="27.0" text-anchor="middle">O2</text><text x="1863.6" y="2564.8" font-size="33.05" text-anchor="middle">Feature Importance Ranking of Sub 6</text><line x1="1540.69" y1="2875.4" x2="1540.69" y2="2885.0" stroke="#222" stroke-width="2"/><text x="1540.69" y="2914.4" font-size="27.0" text-anchor="middle">20</text><line x1="1719.09" y1="2875.4" x2="1719.09" y2="2885.0" stroke="#222" stroke-width="2"/><text x="1719.09" y="2914.4" font-size="27.0" text-anchor="middle">40</text><line x1="1897.50" y1="2875.4" x2="1897.50" y2="2885.0" stroke="#222" stroke-width="2"/><text x="1897.50" y="2914.4" font-size="27.0" text-anchor="middle">60</text><line x1="2075.90" y1="2875.4" x2="2075.90" y2="2885.0" stroke="#222" stroke-width="2"/><text x="2075.90" y="2914.4" font-size="27.0" text-anchor="middle">80</text><line x1="2254.31" y1="2875.4" x2="2254.31" y2="2885.0" stroke="#222" stroke-width="2"/><text x="2254.31" y="2914.4" font-size="27.0" text-anchor="middle">100</text>
</g>
<g filter="url(#b2)" class="hm">
<path d="M152.5 3046.7h33.4v31.9h-33.4z" fill="#73d81d"/>
<path d="M185.3 3046.7h33.4v31.9h-33.4z" fill="#73d81d"/>
<path d="M218.2 3046.7h33.4v31.9h-33.4z" fill="#522281"/>
<path d="M251.0 3046.7h33.4v31.9h-33.4z" fill="#096a92"/>
<path d="M283.8 3046.7h33.4v31.9h-33.4z" fill="#077c8e"/>
<path d="M316.6 3046.7h33.4v31.9h-33.4z" fill="#07778f"/>
<path d="M349.5 3046.7h33.4v31.9h-33.4z" fill="#04b375"/>
<path d="M382.3 3046.7h33.4v31.9h-33.4z" fill="#521c7c"/>
<path d="M415.1 3046.7h33.4v31.9h-33.4z" fill="#04bf67"/>
<path d="M447.9 3046.7h33.4v31.9h-33.4z" fill="#04bf67"/>
<path d="M480.8 3046.7h33.4v31.9h-33.4z" fill="#096a92"/>
<path d="M513.6 3046.7h33.4v31.9h-33.4z" fill="#f9e60f"/>
<path d="M546.4 3046.7h33.4v31.9h-33.4z" fill="#2e4e93"/>
<path d="M579.2 3046.7h33.4v31.9h-33.4z" fill="#1a5995"/>
<path d="M612.1 3046.7h33.4v31.9h-33.4z" fill="#04b771"/>
<path d="M644.9 3046.7h33.4v31.9h-33.4z" fill="#096e91"/>
<path d="M677.7 3046.7h33.4v31.9h-33.4z" fill="#c4e10f"/>
<path d="M710.6 3046.7h33.4v31.9h-33.4z" fill="#3f4090"/>
<path d="M743.4 3046.7h33.4v31.9h-33.4z" fill="#2e4e93"/>
<path d="M776.2 3046.7h33.4v31.9h-33.4z" fill="#48348b"/>
<path d="M809.0 3046.7h33.4v31.9h-33.4z" fill="#48348b"/>
<path d="M841.9 3046.7h33.4v31.9h-33.4z" fill="#52076f"/>
<path d="M874.7 3046.7h33.4v31.9h-33.4z" fill="#0e5d96"/>
<path d="M907.5 3046.7h33.4v31.9h-33.4z" fill="#255494"/>
<path d="M940.3 3046.7h33.4v31.9h-33.4z" fill="#04bb6d"/>
<path d="M973.2 3046.7h33.4v31.9h-33.4z" fill="#04b771"/>
<path d="M1006.0 3046.7h33.4v31.9h-33.4z" fill="#52076f"/>
<path d="M1038.8 3046.7h33.4v31.9h-33.4z" fill="#0e5d96"/>
<path d="M1071.6 3046.7h33.4v31.9h-33.4z" fill="#500569"/>
<path d="M1104.5 3046.7h33.4v31.9h-33.4z" fill="#500569"/>
<path d="M152.5 3078.0h33.4v32.1h-33.4z" fill="#521c7c"/>
<path d="M185.3 3078.0h33.4v32.1h-33.4z" fill="#4b0260"/>
<path d="M218.2 3078.0h33.4v32.1h-33.4z" fill="#087290"/>
<path d="M251.0 3078.0h33.4v32.1h-33.4z" fill="#04a680"/>
<path d="M283.8 3078.0h33.4v32.1h-33.4z" fill="#4d0363"/>
<path d="M316.6 3078.0h33.4v32.1h-33.4z" fill="#443a8e"/>
<path d="M349.5 3078.0h33.4v32.1h-33.4z" fill="#0b6195"/>
<path d="M382.3 3078.0h33.4v32.1h-33.4z" fill="#4d0363"/>
<path d="M415.1 3078.0h33.4v32.1h-33.4z" fill="#059489"/>
<path d="M447.9 3078.0h33.4v32.1h-33.4z" fill="#059489"/>
<path d="M480.8 3078.0h33.4v32.1h-33.4z" fill="#096e91"/>
<path d="M513.6 3078.0h33.4v32.1h-33.4z" fill="#520e73"/>
<path d="M546.4 3078.0h33.4v32.1h-33.4z" fill="#4d0363"/>
<path d="M579.2 3078.0h33.4v32.1h-33.4z" fill="#04b771"/>
<path d="M612.1 3078.0h33.4v32.1h-33.4z" fill="#522281"/>
<path d="M644.9 3078.0h33.4v32.1h-33.4z" fill="#4e0466"/>
<path d="M677.7 3078.0h33.4v32.1h-33.4z" fill="#096a92"/>
<path d="M710.6 3078.0h33.4v32.1h-33.4z" fill="#077c8e"/>
<path d="M743.4 3078.0h33.4v32.1h-33.4z" fill="#04aa7c"/>
<path d="M776.2 3078.0h33.4v32.1h-33.4z" fill="#087290"/>
<path d="M809.0 3078.0h33.4v32.1h-33.4z" fill="#48348b"/>
<path d="M841.9 3078.0h33.4v32.1h-33.4z" fill="#4d0363"/>
<path d="M874.7 3078.0h33.4v32.1h-33.4z" fill="#4e0466"/>
<path d="M907.5 3078.0h33.4v32.1h-33.4z" fill="#096e91"/>
<path d="M940.3 3078.0h33.4v32.1h-33.4z" fill="#4b0260"/>
<path d="M973.2 3078.0h33.4v32.1h-33.4z" fill="#48348b"/>
<path d="M1006.0 3078.0h33.4v32.1h-33.4z" fill="#4d0363"/>
<path d="M1038.8 3078.0h33.4v32.1h-33.4z" fill="#52076f"/>
<path d="M1071.6 3078.0h33.4v32.1h-33.4z" fill="#4d0363"/>
<path d="M1104.5 3078.0h33.4v32.1h-33.4z" fill="#4d0363"/>
<path d="M152.5 3109.5h33.4v35.3h-33.4z" fill="#04b771"/>
<path d="M185.3 3109.5h33.4v35.3h-33.4z" fill="#4b0260"/>
<path d="M218.2 3109.5h33.4v35.3h-33.4z" fill="#d6e30f"/>
<path d="M251.0 3109.5h33.4v35.3h-33.4z" fill="#b2e011"/>
<path d="M283.8 3109.5h33.4v35.3h-33.4z" fill="#04b771"/>
<path d="M316.6 3109.5h33.4v35.3h-33.4z" fill="#04c361"/>
<path d="M349.5 3109.5h33.4v35.3h-33.4z" fill="#0b6195"/>
<path d="M382.3 3109.5h33.4v35.3h-33.4z" fill="#06908a"/>
<path d="M415.1 3109.5h33.4v35.3h-33.4z" fill="#73d81d"/>
<path d="M447.9 3109.5h33.4v35.3h-33.4z" fill="#04b771"/>
<path d="M480.8 3109.5h33.4v35.3h-33.4z" fill="#c4e10f"/>
<path d="M513.6 3109.5h33.4v35.3h-33.4z" fill="#04a183"/>
<path d="M546.4 3109.5h33.4v35.3h-33.4z" fill="#521c7c"/>
<path d="M579.2 3109.5h33.4v35.3h-33.4z" fill="#522281"/>
<path d="M612.1 3109.5h33.4v35.3h-33.4z" fill="#04c361"/>
<path d="M644.9 3109.5h33.4v35.3h-33.4z" fill="#059987"/>
<path d="M677.7 3109.5h33.4v35.3h-33.4z" fill="#04a183"/>
<path d="M710.6 3109.5h33.4v35.3h-33.4z" fill="#521c7c"/>
<path d="M743.4 3109.5h33.4v35.3h-33.4z" fill="#4f2984"/>
<path d="M776.2 3109.5h33.4v35.3h-33.4z" fill="#087290"/>
<path d="M809.0 3109.5h33.4v35.3h-33.4z" fill="#06908a"/>
<path d="M841.9 3109.5h33.4v35.3h-33.4z" fill="#f4e60f"/>
<path d="M874.7 3109.5h33.4v35.3h-33.4z" fill="#04bf67"/>
<path d="M907.5 3109.5h33.4v35.3h-33.4z" fill="#04bf67"/>
<path d="M940.3 3109.5h33.4v35.3h-33.4z" fill="#06868d"/>
<path d="M973.2 3109.5h33.4v35.3h-33.4z" fill="#04c361"/>
<path d="M1006.0 3109.5h33.4v35.3h-33.4z" fill="#f4e60f"/>
<path d="M1038.8 3109.5h33.4v35.3h-33.4z" fill="#04aa7c"/>
<path d="M1071.6 3109.5h33.4v35.3h-33.4z" fill="#04aa7c"/>
<path d="M1104.5 3109.5h33.4v35.3h-33.4z" fill="#f0e50f"/>
<path d="M152.5 3144.2h33.4v34.3h-33.4z" fill="#0acd4d"/>
<path d="M185.3 3144.2h33.4v34.3h-33.4z" fill="#4b0260"/>
<path d="M218.2 3144.2h33.4v34.3h-33.4z" fill="#3f4090"/>
<path d="M251.0 3144.2h33.4v34.3h-33.4z" fill="#dee30e"/>
<path d="M283.8 3144.2h33.4v34.3h-33.4z" fill="#9ddd15"/>
<path d="M316.6 3144.2h33.4v34.3h-33.4z" fill="#48d42e"/>
<path d="M349.5 3144.2h33.4v34.3h-33.4z" fill="#0e5d96"/>
<path d="M382.3 3144.2h33.4v34.3h-33.4z" fill="#06908a"/>
<path d="M415.1 3144.2h33.4v34.3h-33.4z" fill="#06908a"/>
<path d="M447.9 3144.2h33.4v34.3h-33.4z" fill="#88db19"/>
<path d="M480.8 3144.2h33.4v34.3h-33.4z" fill="#88db19"/>
<path d="M513.6 3144.2h33.4v34.3h-33.4z" fill="#0acd4d"/>
<path d="M546.4 3144.2h33.4v34.3h-33.4z" fill="#b2e011"/>
<path d="M579.2 3144.2h33.4v34.3h-33.4z" fill="#2e4e93"/>
<path d="M612.1 3144.2h33.4v34.3h-33.4z" fill="#059987"/>
<path d="M644.9 3144.2h33.4v34.3h-33.4z" fill="#04b375"/>
<path d="M677.7 3144.2h33.4v34.3h-33.4z" fill="#0b6195"/>
<path d="M710.6 3144.2h33.4v34.3h-33.4z" fill="#06868d"/>
<path d="M743.4 3144.2h33.4v34.3h-33.4z" fill="#a8de13"/>
<path d="M776.2 3144.2h33.4v34.3h-33.4z" fill="#d6e30f"/>
<path d="M809.0 3144.2h33.4v34.3h-33.4z" fill="#04b375"/>
<path d="M841.9 3144.2h33.4v34.3h-33.4z" fill="#096e91"/>
<path d="M874.7 3144.2h33.4v34.3h-33.4z" fill="#04a680"/>
<path d="M907.5 3144.2h33.4v34.3h-33.4z" fill="#88db19"/>
<path d="M940.3 3144.2h33.4v34.3h-33.4z" fill="#07778f"/>
<path d="M973.2 3144.2h33.4v34.3h-33.4z" fill="#48d42e"/>
<path d="M1006.0 3144.2h33.4v34.3h-33.4z" fill="#1bd041"/>
<path d="M1038.8 3144.2h33.4v34.3h-33.4z" fill="#068b8c"/>
<path d="M1071.6 3144.2h33.4v34.3h-33.4z" fill="#068b8c"/>
<path d="M1104.5 3144.2h33.4v34.3h-33.4z" fill="#068b8c"/>
<rect x="152.8" y="3047.0" width="984.8" height="131.2" fill="none" stroke="#222" stroke-width="2"/>
<line x1="143.2" y1="3063.40" x2="152.8" y2="3063.40" stroke="#222" stroke-width="2"/>
<text x="134.8" y="3071.90" font-size="27.0" text-anchor="end">α</text>
<line x1="143.2" y1="3096.20" x2="152.8" y2="3096.20" stroke="#222" stroke-width="2"/>
<text x="134.8" y="3104.70" font-size="27.0" text-anchor="end">β</text>
<line x1="143.2" y1="3129.00" x2="152.8" y2="3129.00" stroke="#222" stroke-width="2"/>
<text x="134.8" y="3137.50" font-size="27.0" text-anchor="end">θ</text>
<line x1="143.2" y1="3161.80" x2="152.8" y2="3161.80" stroke="#222" stroke-width="2"/>
<text x="134.8" y="3170.30" font-size="27.0" text-anchor="end">δ</text>
<line x1="169.21" y1="3178.2" x2="169.21" y2="3187.8" stroke="#222" stroke-width="2"/>
<text transform="translate(169.21,3224.28) rotate(45)" y="7.43" font-size="27.0" text-anchor="middle">FP1</text>
<line x1="202.04" y1="3178.2" x2="202.04" y2="3187.8" stroke="#222" stroke-width="2"/>
<text transform="translate(202.04,3224.28) rotate(45)" y="7.43" font-size="27.0" text-anchor="middle">FP2</text>
<line x1="234.87" y1="3178.2" x2="234.87" y2="3187.8" stroke="#222" stroke-width="2"/>
<text transform="translate(234.87,3218.52) rotate(45)" y="7.43" font-size="27.0" text-anchor="middle">F7</text>
<line x1="267.69" y1="3178.2" x2="267.69" y2="3187.8" stroke="#222" stroke-width="2"/>
<text transform="translate(267.69,3218.52) rotate(45)" y="7.43" font-size="27.0" text-anchor="middle">F3</text>
<line x1="300.52" y1="3178.2" x2="300.52" y2="3187.8" stroke="#222" stroke-width="2"/>
<text transform="translate(300.52,3218.99) rotate(45)" y="7.43" font-size="27.0" text-anchor="middle">FZ</text>
<line x1="333.35" y1="3178.2" x2="333.35" y2="3187.8" stroke="#222" stroke-width="2"/>
<text transform="translate(333.35,3218.52) rotate(45)" y="7.43" font-size="27.0" text-anchor="middle">F4</text>
<line x1="366.17" y1="3178.2" x2="366.17" y2="3187.8" stroke="#222" stroke-width="2"/>
<text transform="translate(366.17,3218.52) rotate(45)" y="7.43" font-size="27.0" text-anchor="middle">F8</text>
<line x1="399.00" y1="3178.2" x2="399.00" y2="3187.8" stroke="#222" stroke-width="2"/>
<text transform="translate(399.00,3224.35) rotate(45)" y="7.43" font-size="27.0" text-anchor="middle">FT7</text>
<line x1="431.83" y1="3178.2" x2="431.83" y2="3187.8" stroke="#222" stroke-width="2"/>
<text transform="translate(431.83,3225.18) rotate(45)" y="7.43" font-size="27.0" text-anchor="middle">FC3</text>
<line x1="464.65" y1="3178.2" x2="464.65" y2="3187.8" stroke="#222" stroke-width="2"/>
<text transform="translate(464.65,3225.65) rotate(45)" y="7.43" font-size="27.0" text-anchor="middle">FCZ</text>
<line x1="497.48" y1="3178.2" x2="497.48" y2="3187.8" stroke="#222" stroke-width="2"/>
<text transform="translate(497.48,3225.18) rotate(45)" y="7.43" font-size="27.0" text-anchor="middle">FC4</text>
<line x1="530.31" y1="3178.2" x2="530.31" y2="3187.8" stroke="#222" stroke-width="2"/>
<text transform="translate(530.31,3224.35) rotate(45)" y="7.43" font-size="27.0" text-anchor="middle">FT8</text>
<line x1="563.13" y1="3178.2" x2="563.13" y2="3187.8" stroke="#222" stroke-width="2"/>
<text transform="translate(563.13,3218.86) rotate(45)" y="7.43" font-size="27.0" text-anchor="middle">T3</text>
<line x1="595.96" y1="3178.2" x2="595.96" y2="3187.8" stroke="#222" stroke-width="2"/>
<text transform="translate(595.96,3219.69) rotate(45)" y="7.43" font-size="27.0" text-anchor="middle">C3</text>
<line x1="628.79" y1="3178.2" x2="628.79" y2="3187.8" stroke="#222" stroke-width="2"/>
<text transform="translate(628.79,3220.16) rotate(45)" y="7.43" font-size="27.0" text-anchor="middle">CZ</text>
<line x1="661.61" y1="3178.2" x2="661.61" y2="3187.8" stroke="#222" stroke-width="2"/>
<text transform="translate(661.61,3219.69) rotate(45)" y="7.43" font-size="27.0" text-anchor="middle">C4</text>
<line x1="694.44" y1="3178.2" x2="694.44" y2="3187.8" stroke="#222" stroke-width="2"/>
<text transform="translate(694.44,3218.86) rotate(45)" y="7.43" font-size="27.0" text-anchor="middle">T4</text>
<line x1="727.27" y1="3178.2" x2="727.27" y2="3187.8" stroke="#222" stroke-width="2"/>
<text transform="translate(727.27,3224.62) rotate(45)" y="7.43" font-size="27.0" text-anchor="middle">TP7</text>
<line x1="760.09" y1="3178.2" x2="760.09" y2="3187.8" stroke="#222" stroke-width="2"/>
<text transform="translate(760.09,3225.45) rotate(45)" y="7.43" font-size="27.0" text-anchor="middle">CP3</text>
<line x1="792.92" y1="3178.2" x2="792.92" y2="3187.8" stroke="#222" stroke-width="2"/>
<text transform="translate(792.92,3225.92) rotate(45)" y="7.43" font-size="27.0" text-anchor="middle">CPZ</text>
<line x1="825.75" y1="3178.2" x2="825.75" y2="3187.8" stroke="#222" stroke-width="2"/>
<text transform="translate(825.75,3225.45) rotate(45)" y="7.43" font-size="27.0" text-anchor="middle">CP4</text>
<line x1="858.57" y1="3178.2" x2="858.57" y2="3187.8" stroke="#222" stroke-width="2"/>
<text transform="translate(858.57,3224.62) rotate(45)" y="7.43" font-size="27.0" text-anchor="middle">TP8</text>
<line x1="891.40" y1="3178.2" x2="891.40" y2="3187.8" stroke="#222" stroke-width="2"/>
<text transform="translate(891.40,3218.86) rotate(45)" y="7.43" font-size="27.0" text-anchor="middle">T5</text>
<line x1="924.23" y1="3178.2" x2="924.23" y2="3187.8" stroke="#222" stroke-width="2"/>
<text transform="translate(924.23,3218.79) rotate(45)" y="7.43" font-size="27.0" text-anchor="middle">P3</text>
<line x1="957.05" y1="3178.2" x2="957.05" y2="3187.8" stroke="#222" stroke-width="2"/>
<text transform="translate(957.05,3219.25) rotate(45)" y="7.43" font-size="27.0" text-anchor="middle">PZ</text>
<line x1="989.88" y1="3178.2" x2="989.88" y2="3187.8" stroke="#222" stroke-width="2"/>
<text transform="translate(989.88,3218.79) rotate(45)" y="7.43" font-size="27.0" text-anchor="middle">P4</text>
<line x1="1022.71" y1="3178.2" x2="1022.71" y2="3187.8" stroke="#222" stroke-width="2"/>
<text transform="translate(1022.71,3218.86) rotate(45)" y="7.43" font-size="27.0" text-anchor="middle">T6</text>
<line x1="1055.53" y1="3178.2" x2="1055.53" y2="3187.8" stroke="#222" stroke-width="2"/>
<text transform="translate(1055.53,3220.54) rotate(45)" y="7.43" font-size="27.0" text-anchor="middle">O1</text>
<line x1="1088.36" y1="3178.2" x2="1088.36" y2="3187.8" stroke="#222" stroke-width="2"/>
<text transform="translate(1088.36,3221.01) rotate(45)" y="7.43" font-size="27.0" text-anchor="middle">OZ</text>
<line x1="1121.19" y1="3178.2" x2="1121.19" y2="3187.8" stroke="#222" stroke-width="2"/>
<text transform="translate(1121.19,3220.54) rotate(45)" y="7.43" font-size="27.0" text-anchor="middle">O2</text>
<text x="645.2" y="3029.8" font-size="33.05" text-anchor="middle">Feature Importance Ranking of Sub 7</text>
<rect x="152.8" y="3291.0" width="984.8" height="49.4" fill="url(#cb)" stroke="#222" stroke-width="2"/>
<line x1="322.29" y1="3340.4" x2="322.29" y2="3350.0" stroke="#222" stroke-width="2"/>
<text x="322.29" y="3379.4" font-size="27.0" text-anchor="middle">20</text>
<line x1="500.69" y1="3340.4" x2="500.69" y2="3350.0" stroke="#222" stroke-width="2"/>
<text x="500.69" y="3379.4" font-size="27.0" text-anchor="middle">40</text>
<line x1="679.10" y1="3340.4" x2="679.10" y2="3350.0" stroke="#222" stroke-width="2"/>
<text x="679.10" y="3379.4" font-size="27.0" text-anchor="middle">60</text>
<line x1="857.50" y1="3340.4" x2="857.50" y2="3350.0" stroke="#222" stroke-width="2"/>
<text x="857.50" y="3379.4" font-size="27.0" text-anchor="middle">80</text>
<line x1="1035.91" y1="3340.4" x2="1035.91" y2="3350.0" stroke="#222" stroke-width="2"/>
<text x="1035.91" y="3379.4" font-size="27.0" text-anchor="middle">100</text>
</g><g class="hm tc" opacity="0.28"><line x1="143.2" y1="3063.40" x2="152.8" y2="3063.40" stroke="#222" stroke-width="2"/><text x="134.8" y="3071.90" font-size="27.0" text-anchor="end">α</text><line x1="143.2" y1="3096.20" x2="152.8" y2="3096.20" stroke="#222" stroke-width="2"/><text x="134.8" y="3104.70" font-size="27.0" text-anchor="end">β</text><line x1="143.2" y1="3129.00" x2="152.8" y2="3129.00" stroke="#222" stroke-width="2"/><text x="134.8" y="3137.50" font-size="27.0" text-anchor="end">θ</text><line x1="143.2" y1="3161.80" x2="152.8" y2="3161.80" stroke="#222" stroke-width="2"/><text x="134.8" y="3170.30" font-size="27.0" text-anchor="end">δ</text><line x1="169.21" y1="3178.2" x2="169.21" y2="3187.8" stroke="#222" stroke-width="2"/><text transform="translate(169.21,3224.28) rotate(45)" y="7.43" font-size="27.0" text-anchor="middle">FP1</text><line x1="202.04" y1="3178.2" x2="202.04" y2="3187.8" stroke="#222" stroke-width="2"/><text transform="translate(202.04,3224.28) rotate(45)" y="7.43" font-size="27.0" text-anchor="middle">FP2</text><line x1="234.87" y1="3178.2" x2="234.87" y2="3187.8" stroke="#222" stroke-width="2"/><text transform="translate(234.87,3218.52) rotate(45)" y="7.43" font-size="27.0" text-anchor="middle">F7</text><line x1="267.69" y1="3178.2" x2="267.69" y2="3187.8" stroke="#222" stroke-width="2"/><text transform="translate(267.69,3218.52) rotate(45)" y="7.43" font-size="27.0" text-anchor="middle">F3</text><line x1="300.52" y1="3178.2" x2="300.52" y2="3187.8" stroke="#222" stroke-width="2"/><text transform="translate(300.52,3218.99) rotate(45)" y="7.43" font-size="27.0" text-anchor="middle">FZ</text><line x1="333.35" y1="3178.2" x2="333.35" y2="3187.8" stroke="#222" stroke-width="2"/><text transform="translate(333.35,3218.52) rotate(45)" y="7.43" font-size="27.0" text-anchor="middle">F4</text><line x1="366.17" y1="3178.2" x2="366.17" y2="3187.8" stroke="#222" stroke-width="2"/><text transform="translate(366.17,3218.52) rotate(45)" y="7.43" font-size="27.0" text-anchor="middle">F8</text><line x1="399.00" y1="3178.2" x2="399.00" y2="3187.8" stroke="#222" stroke-width="2"/><text transform="translate(399.00,3224.35) rotate(45)" y="7.43" font-size="27.0" text-anchor="middle">FT7</text><line x1="431.83" y1="3178.2" x2="431.83" y2="3187.8" stroke="#222" stroke-width="2"/><text transform="translate(431.83,3225.18) rotate(45)" y="7.43" font-size="27.0" text-anchor="middle">FC3</text><line x1="464.65" y1="3178.2" x2="464.65" y2="3187.8" stroke="#222" stroke-width="2"/><text transform="translate(464.65,3225.65) rotate(45)" y="7.43" font-size="27.0" text-anchor="middle">FCZ</text><line x1="497.48" y1="3178.2" x2="497.48" y2="3187.8" stroke="#222" stroke-width="2"/><text transform="translate(497.48,3225.18) rotate(45)" y="7.43" font-size="27.0" text-anchor="middle">FC4</text><line x1="530.31" y1="3178.2" x2="530.31" y2="3187.8" stroke="#222" stroke-width="2"/><text transform="translate(530.31,3224.35) rotate(45)" y="7.43" font-size="27.0" text-anchor="middle">FT8</text><line x1="563.13" y1="3178.2" x2="563.13" y2="3187.8" stroke="#222" stroke-width="2"/><text transform="translate(563.13,3218.86) rotate(45)" y="7.43" font-size="27.0" text-anchor="middle">T3</text><line x1="595.96" y1="3178.2" x2="595.96" y2="3187.8" stroke="#222" stroke-width="2"/><text transform="translate(595.96,3219.69) rotate(45)" y="7.43" font-size="27.0" text-anchor="middle">C3</text><line x1="628.79" y1="3178.2" x2="628.79" y2="3187.8" stroke="#222" stroke-width="2"/><text transform="translate(628.79,3220.16) rotate(45)" y="7.43" font-size="27.0" text-anchor="middle">CZ</text><line x1="661.61" y1="3178.2" x2="661.61" y2="3187.8" stroke="#222" stroke-width="2"/><text transform="translate(661.61,3219.69) rotate(45)" y="7.43" font-size="27.0" text-anchor="middle">C4</text><line x1="694.44" y1="3178.2" x2="694.44" y2="3187.8" stroke="#222" stroke-width="2"/><text transform="translate(694.44,3218.86) rotate(45)" y="7.43" font-size="27.0" text-anchor="middle">T4</text><line x1="727.27" y1="3178.2" x2="727.27" y2="3187.8" stroke="#222" stroke-width="2"/><text transform="translate(727.27,3224.62) rotate(45)" y="7.43" font-size="27.0" text-anchor="middle">TP7</text><line x1="760.09" y1="3178.2" x2="760.09" y2="3187.8" stroke="#222" stroke-width="2"/><text transform="translate(760.09,3225.45) rotate(45)" y="7.43" font-size="27.0" text-anchor="middle">CP3</text><line x1="792.92" y1="3178.2" x2="792.92" y2="3187.8" stroke="#222" stroke-width="2"/><text transform="translate(792.92,3225.92) rotate(45)" y="7.43" font-size="27.0" text-anchor="middle">CPZ</text><line x1="825.75" y1="3178.2" x2="825.75" y2="3187.8" stroke="#222" stroke-width="2"/><text transform="translate(825.75,3225.45) rotate(45)" y="7.43" font-size="27.0" text-anchor="middle">CP4</text><line x1="858.57" y1="3178.2" x2="858.57" y2="3187.8" stroke="#222" stroke-width="2"/><text transform="translate(858.57,3224.62) rotate(45)" y="7.43" font-size="27.0" text-anchor="middle">TP8</text><line x1="891.40" y1="3178.2" x2="891.40" y2="3187.8" stroke="#222" stroke-width="2"/><text transform="translate(891.40,3218.86) rotate(45)" y="7.43" font-size="27.0" text-anchor="middle">T5</text><line x1="924.23" y1="3178.2" x2="924.23" y2="3187.8" stroke="#222" stroke-width="2"/><text transform="translate(924.23,3218.79) rotate(45)" y="7.43" font-size="27.0" text-anchor="middle">P3</text><line x1="957.05" y1="3178.2" x2="957.05" y2="3187.8" stroke="#222" stroke-width="2"/><text transform="translate(957.05,3219.25) rotate(45)" y="7.43" font-size="27.0" text-anchor="middle">PZ</text><line x1="989.88" y1="3178.2" x2="989.88" y2="3187.8" stroke="#222" stroke-width="2"/><text transform="translate(989.88,3218.79) rotate(45)" y="7.43" font-size="27.0" text-anchor="middle">P4</text><line x1="1022.71" y1="3178.2" x2="1022.71" y2="3187.8" stroke="#222" stroke-width="2"/><text transform="translate(1022.71,3218.86) rotate(45)" y="7.43" font-size="27.0" text-anchor="middle">T6</text><line x1="1055.53" y1="3178.2" x2="1055.53" y2="3187.8" stroke="#222" stroke-width="2"/><text transform="translate(1055.53,3220.54) rotate(45)" y="7.43" font-size="27.0" text-anchor="middle">O1</text><line x1="1088.36" y1="3178.2" x2="1088.36" y2="3187.8" stroke="#222" stroke-width="2"/><text transform="translate(1088.36,3221.01) rotate(45)" y="7.43" font-size="27.0" text-anchor="middle">OZ</text><line x1="1121.19" y1="3178.2" x2="1121.19" y2="3187.8" stroke="#222" stroke-width="2"/><text transform="translate(1121.19,3220.54) rotate(45)" y="7.43" font-size="27.0" text-anchor="middle">O2</text><text x="645.2" y="3029.8" font-size="33.05" text-anchor="middle">Feature Importance Ranking of Sub 7</text><line x1="322.29" y1="3340.4" x2="322.29" y2="3350.0" stroke="#222" stroke-width="2"/><text x="322.29" y="3379.4" font-size="27.0" text-anchor="middle">20</text><line x1="500.69" y1="3340.4" x2="500.69" y2="3350.0" stroke="#222" stroke-width="2"/><text x="500.69" y="3379.4" font-size="27.0" text-anchor="middle">40</text><line x1="679.10" y1="3340.4" x2="679.10" y2="3350.0" stroke="#222" stroke-width="2"/><text x="679.10" y="3379.4" font-size="27.0" text-anchor="middle">60</text><line x1="857.50" y1="3340.4" x2="857.50" y2="3350.0" stroke="#222" stroke-width="2"/><text x="857.50" y="3379.4" font-size="27.0" text-anchor="middle">80</text><line x1="1035.91" y1="3340.4" x2="1035.91" y2="3350.0" stroke="#222" stroke-width="2"/><text x="1035.91" y="3379.4" font-size="27.0" text-anchor="middle">100</text>
</g>
<g filter="url(#b2)" class="hm">
<path d="M1364.5 3044.7h33.4v31.9h-33.4z" fill="#087290"/>
<path d="M1397.3 3044.7h33.4v31.9h-33.4z" fill="#06908a"/>
<path d="M1430.2 3044.7h33.4v31.9h-33.4z" fill="#4c2e88"/>
<path d="M1463.0 3044.7h33.4v31.9h-33.4z" fill="#4e0466"/>
<path d="M1495.8 3044.7h33.4v31.9h-33.4z" fill="#3f4090"/>
<path d="M1528.6 3044.7h33.4v31.9h-33.4z" fill="#04a183"/>
<path d="M1561.5 3044.7h33.4v31.9h-33.4z" fill="#3f4090"/>
<path d="M1594.3 3044.7h33.4v31.9h-33.4z" fill="#04b375"/>
<path d="M1627.1 3044.7h33.4v31.9h-33.4z" fill="#500569"/>
<path d="M1659.9 3044.7h33.4v31.9h-33.4z" fill="#443a8e"/>
<path d="M1692.8 3044.7h33.4v31.9h-33.4z" fill="#04b771"/>
<path d="M1725.6 3044.7h33.4v31.9h-33.4z" fill="#52076f"/>
<path d="M1758.4 3044.7h33.4v31.9h-33.4z" fill="#4c2e88"/>
<path d="M1791.2 3044.7h33.4v31.9h-33.4z" fill="#0b6195"/>
<path d="M1824.1 3044.7h33.4v31.9h-33.4z" fill="#3f4090"/>
<path d="M1856.9 3044.7h33.4v31.9h-33.4z" fill="#04a680"/>
<path d="M1889.7 3044.7h33.4v31.9h-33.4z" fill="#500569"/>
<path d="M1922.6 3044.7h33.4v31.9h-33.4z" fill="#521578"/>
<path d="M1955.4 3044.7h33.4v31.9h-33.4z" fill="#520e73"/>
<path d="M1988.2 3044.7h33.4v31.9h-33.4z" fill="#52076f"/>
<path d="M2021.0 3044.7h33.4v31.9h-33.4z" fill="#06868d"/>
<path d="M2053.9 3044.7h33.4v31.9h-33.4z" fill="#4d0363"/>
<path d="M2086.7 3044.7h33.4v31.9h-33.4z" fill="#521578"/>
<path d="M2119.5 3044.7h33.4v31.9h-33.4z" fill="#06868d"/>
<path d="M2152.3 3044.7h33.4v31.9h-33.4z" fill="#087290"/>
<path d="M2185.2 3044.7h33.4v31.9h-33.4z" fill="#087290"/>
<path d="M2218.0 3044.7h33.4v31.9h-33.4z" fill="#06908a"/>
<path d="M2250.8 3044.7h33.4v31.9h-33.4z" fill="#059987"/>
<path d="M2283.6 3044.7h33.4v31.9h-33.4z" fill="#059987"/>
<path d="M2316.5 3044.7h33.4v31.9h-33.4z" fill="#4c2e88"/>
<path d="M1364.5 3076.0h33.4v32.1h-33.4z" fill="#068b8c"/>
<path d="M1397.3 3076.0h33.4v32.1h-33.4z" fill="#04ca55"/>
<path d="M1430.2 3076.0h33.4v32.1h-33.4z" fill="#06868d"/>
<path d="M1463.0 3076.0h33.4v32.1h-33.4z" fill="#06868d"/>
<path d="M1495.8 3076.0h33.4v32.1h-33.4z" fill="#059489"/>
<path d="M1528.6 3076.0h33.4v32.1h-33.4z" fill="#0a6594"/>
<path d="M1561.5 3076.0h33.4v32.1h-33.4z" fill="#3f4090"/>
<path d="M1594.3 3076.0h33.4v32.1h-33.4z" fill="#4f2984"/>
<path d="M1627.1 3076.0h33.4v32.1h-33.4z" fill="#522281"/>
<path d="M1659.9 3076.0h33.4v32.1h-33.4z" fill="#06868d"/>
<path d="M1692.8 3076.0h33.4v32.1h-33.4z" fill="#096e91"/>
<path d="M1725.6 3076.0h33.4v32.1h-33.4z" fill="#4c2e88"/>
<path d="M1758.4 3076.0h33.4v32.1h-33.4z" fill="#4d0363"/>
<path d="M1791.2 3076.0h33.4v32.1h-33.4z" fill="#059489"/>
<path d="M1824.1 3076.0h33.4v32.1h-33.4z" fill="#521c7c"/>
<path d="M1856.9 3076.0h33.4v32.1h-33.4z" fill="#4d0363"/>
<path d="M1889.7 3076.0h33.4v32.1h-33.4z" fill="#096e91"/>
<path d="M1922.6 3076.0h33.4v32.1h-33.4z" fill="#4d0363"/>
<path d="M1955.4 3076.0h33.4v32.1h-33.4z" fill="#06868d"/>
<path d="M1988.2 3076.0h33.4v32.1h-33.4z" fill="#4f2984"/>
<path d="M2021.0 3076.0h33.4v32.1h-33.4z" fill="#04a183"/>
<path d="M2053.9 3076.0h33.4v32.1h-33.4z" fill="#04a183"/>
<path d="M2086.7 3076.0h33.4v32.1h-33.4z" fill="#4d0363"/>
<path d="M2119.5 3076.0h33.4v32.1h-33.4z" fill="#059987"/>
<path d="M2152.3 3076.0h33.4v32.1h-33.4z" fill="#0b6195"/>
<path d="M2185.2 3076.0h33.4v32.1h-33.4z" fill="#04b771"/>
<path d="M2218.0 3076.0h33.4v32.1h-33.4z" fill="#4d0363"/>
<path d="M2250.8 3076.0h33.4v32.1h-33.4z" fill="#4d0363"/>
<path d="M2283.6 3076.0h33.4v32.1h-33.4z" fill="#521578"/>
<path d="M2316.5 3076.0h33.4v32.1h-33.4z" fill="#4e0466"/>
<path d="M1364.5 3107.5h33.4v35.3h-33.4z" fill="#0a6594"/>
<path d="M1397.3 3107.5h33.4v35.3h-33.4z" fill="#0a6594"/>
<path d="M1430.2 3107.5h33.4v35.3h-33.4z" fill="#04b771"/>
<path d="M1463.0 3107.5h33.4v35.3h-33.4z" fill="#4d0363"/>
<path d="M1495.8 3107.5h33.4v35.3h-33.4z" fill="#4d0363"/>
<path d="M1528.6 3107.5h33.4v35.3h-33.4z" fill="#0a6594"/>
<path d="M1561.5 3107.5h33.4v35.3h-33.4z" fill="#0a6594"/>
<path d="M1594.3 3107.5h33.4v35.3h-33.4z" fill="#04ca55"/>
<path d="M1627.1 3107.5h33.4v35.3h-33.4z" fill="#04bb6d"/>
<path d="M1659.9 3107.5h33.4v35.3h-33.4z" fill="#4d0363"/>
<path d="M1692.8 3107.5h33.4v35.3h-33.4z" fill="#1a5995"/>
<path d="M1725.6 3107.5h33.4v35.3h-33.4z" fill="#0b6195"/>
<path d="M1758.4 3107.5h33.4v35.3h-33.4z" fill="#4f2984"/>
<path d="M1791.2 3107.5h33.4v35.3h-33.4z" fill="#3f4090"/>
<path d="M1824.1 3107.5h33.4v35.3h-33.4z" fill="#087290"/>
<path d="M1856.9 3107.5h33.4v35.3h-33.4z" fill="#0acd4d"/>
<path d="M1889.7 3107.5h33.4v35.3h-33.4z" fill="#0b6195"/>
<path d="M1922.6 3107.5h33.4v35.3h-33.4z" fill="#4d0363"/>
<path d="M1955.4 3107.5h33.4v35.3h-33.4z" fill="#04b771"/>
<path d="M1988.2 3107.5h33.4v35.3h-33.4z" fill="#1a5995"/>
<path d="M2021.0 3107.5h33.4v35.3h-33.4z" fill="#b2e011"/>
<path d="M2053.9 3107.5h33.4v35.3h-33.4z" fill="#b2e011"/>
<path d="M2086.7 3107.5h33.4v35.3h-33.4z" fill="#04ca55"/>
<path d="M2119.5 3107.5h33.4v35.3h-33.4z" fill="#087290"/>
<path d="M2152.3 3107.5h33.4v35.3h-33.4z" fill="#087290"/>
<path d="M2185.2 3107.5h33.4v35.3h-33.4z" fill="#04b771"/>
<path d="M2218.0 3107.5h33.4v35.3h-33.4z" fill="#06908a"/>
<path d="M2250.8 3107.5h33.4v35.3h-33.4z" fill="#06908a"/>
<path d="M2283.6 3107.5h33.4v35.3h-33.4z" fill="#059489"/>
<path d="M2316.5 3107.5h33.4v35.3h-33.4z" fill="#2e4e93"/>
<path d="M1364.5 3142.2h33.4v34.3h-33.4z" fill="#068b8c"/>
<path d="M1397.3 3142.2h33.4v34.3h-33.4z" fill="#068b8c"/>
<path d="M1430.2 3142.2h33.4v34.3h-33.4z" fill="#2e4e93"/>
<path d="M1463.0 3142.2h33.4v34.3h-33.4z" fill="#0acd4d"/>
<path d="M1495.8 3142.2h33.4v34.3h-33.4z" fill="#48d42e"/>
<path d="M1528.6 3142.2h33.4v34.3h-33.4z" fill="#48d42e"/>
<path d="M1561.5 3142.2h33.4v34.3h-33.4z" fill="#73d81d"/>
<path d="M1594.3 3142.2h33.4v34.3h-33.4z" fill="#04c361"/>
<path d="M1627.1 3142.2h33.4v34.3h-33.4z" fill="#92dc17"/>
<path d="M1659.9 3142.2h33.4v34.3h-33.4z" fill="#04c361"/>
<path d="M1692.8 3142.2h33.4v34.3h-33.4z" fill="#04c361"/>
<path d="M1725.6 3142.2h33.4v34.3h-33.4z" fill="#73d81d"/>
<path d="M1758.4 3142.2h33.4v34.3h-33.4z" fill="#04bf67"/>
<path d="M1791.2 3142.2h33.4v34.3h-33.4z" fill="#f0e50f"/>
<path d="M1824.1 3142.2h33.4v34.3h-33.4z" fill="#b2e011"/>
<path d="M1856.9 3142.2h33.4v34.3h-33.4z" fill="#7dda1b"/>
<path d="M1889.7 3142.2h33.4v34.3h-33.4z" fill="#f4e60f"/>
<path d="M1922.6 3142.2h33.4v34.3h-33.4z" fill="#cde20f"/>
<path d="M1955.4 3142.2h33.4v34.3h-33.4z" fill="#dee30e"/>
<path d="M1988.2 3142.2h33.4v34.3h-33.4z" fill="#9ddd15"/>
<path d="M2021.0 3142.2h33.4v34.3h-33.4z" fill="#88db19"/>
<path d="M2053.9 3142.2h33.4v34.3h-33.4z" fill="#c4e10f"/>
<path d="M2086.7 3142.2h33.4v34.3h-33.4z" fill="#d6e30f"/>
<path d="M2119.5 3142.2h33.4v34.3h-33.4z" fill="#f0e50f"/>
<path d="M2152.3 3142.2h33.4v34.3h-33.4z" fill="#04c361"/>
<path d="M2185.2 3142.2h33.4v34.3h-33.4z" fill="#04ca55"/>
<path d="M2218.0 3142.2h33.4v34.3h-33.4z" fill="#9ddd15"/>
<path d="M2250.8 3142.2h33.4v34.3h-33.4z" fill="#88db19"/>
<path d="M2283.6 3142.2h33.4v34.3h-33.4z" fill="#e7e40e"/>
<path d="M2316.5 3142.2h33.4v34.3h-33.4z" fill="#b2e011"/>
<rect x="1364.8" y="3045.0" width="984.8" height="131.2" fill="none" stroke="#222" stroke-width="2"/>
<line x1="1355.2" y1="3061.40" x2="1364.8" y2="3061.40" stroke="#222" stroke-width="2"/>
<text x="1346.8" y="3069.90" font-size="27.0" text-anchor="end">α</text>
<line x1="1355.2" y1="3094.20" x2="1364.8" y2="3094.20" stroke="#222" stroke-width="2"/>
<text x="1346.8" y="3102.70" font-size="27.0" text-anchor="end">β</text>
<line x1="1355.2" y1="3127.00" x2="1364.8" y2="3127.00" stroke="#222" stroke-width="2"/>
<text x="1346.8" y="3135.50" font-size="27.0" text-anchor="end">θ</text>
<line x1="1355.2" y1="3159.80" x2="1364.8" y2="3159.80" stroke="#222" stroke-width="2"/>
<text x="1346.8" y="3168.30" font-size="27.0" text-anchor="end">δ</text>
<line x1="1381.21" y1="3176.2" x2="1381.21" y2="3185.8" stroke="#222" stroke-width="2"/>
<text transform="translate(1381.21,3222.28) rotate(45)" y="7.43" font-size="27.0" text-anchor="middle">FP1</text>
<line x1="1414.04" y1="3176.2" x2="1414.04" y2="3185.8" stroke="#222" stroke-width="2"/>
<text transform="translate(1414.04,3222.28) rotate(45)" y="7.43" font-size="27.0" text-anchor="middle">FP2</text>
<line x1="1446.87" y1="3176.2" x2="1446.87" y2="3185.8" stroke="#222" stroke-width="2"/>
<text transform="translate(1446.87,3216.52) rotate(45)" y="7.43" font-size="27.0" text-anchor="middle">F7</text>
<line x1="1479.69" y1="3176.2" x2="1479.69" y2="3185.8" stroke="#222" stroke-width="2"/>
<text transform="translate(1479.69,3216.52) rotate(45)" y="7.43" font-size="27.0" text-anchor="middle">F3</text>
<line x1="1512.52" y1="3176.2" x2="1512.52" y2="3185.8" stroke="#222" stroke-width="2"/>
<text transform="translate(1512.52,3216.99) rotate(45)" y="7.43" font-size="27.0" text-anchor="middle">FZ</text>
<line x1="1545.35" y1="3176.2" x2="1545.35" y2="3185.8" stroke="#222" stroke-width="2"/>
<text transform="translate(1545.35,3216.52) rotate(45)" y="7.43" font-size="27.0" text-anchor="middle">F4</text>
<line x1="1578.17" y1="3176.2" x2="1578.17" y2="3185.8" stroke="#222" stroke-width="2"/>
<text transform="translate(1578.17,3216.52) rotate(45)" y="7.43" font-size="27.0" text-anchor="middle">F8</text>
<line x1="1611.00" y1="3176.2" x2="1611.00" y2="3185.8" stroke="#222" stroke-width="2"/>
<text transform="translate(1611.00,3222.35) rotate(45)" y="7.43" font-size="27.0" text-anchor="middle">FT7</text>
<line x1="1643.83" y1="3176.2" x2="1643.83" y2="3185.8" stroke="#222" stroke-width="2"/>
<text transform="translate(1643.83,3223.18) rotate(45)" y="7.43" font-size="27.0" text-anchor="middle">FC3</text>
<line x1="1676.65" y1="3176.2" x2="1676.65" y2="3185.8" stroke="#222" stroke-width="2"/>
<text transform="translate(1676.65,3223.65) rotate(45)" y="7.43" font-size="27.0" text-anchor="middle">FCZ</text>
<line x1="1709.48" y1="3176.2" x2="1709.48" y2="3185.8" stroke="#222" stroke-width="2"/>
<text transform="translate(1709.48,3223.18) rotate(45)" y="7.43" font-size="27.0" text-anchor="middle">FC4</text>
<line x1="1742.31" y1="3176.2" x2="1742.31" y2="3185.8" stroke="#222" stroke-width="2"/>
<text transform="translate(1742.31,3222.35) rotate(45)" y="7.43" font-size="27.0" text-anchor="middle">FT8</text>
<line x1="1775.13" y1="3176.2" x2="1775.13" y2="3185.8" stroke="#222" stroke-width="2"/>
<text transform="translate(1775.13,3216.86) rotate(45)" y="7.43" font-size="27.0" text-anchor="middle">T3</text>
<line x1="1807.96" y1="3176.2" x2="1807.96" y2="3185.8" stroke="#222" stroke-width="2"/>
<text transform="translate(1807.96,3217.69) rotate(45)" y="7.43" font-size="27.0" text-anchor="middle">C3</text>
<line x1="1840.79" y1="3176.2" x2="1840.79" y2="3185.8" stroke="#222" stroke-width="2"/>
<text transform="translate(1840.79,3218.16) rotate(45)" y="7.43" font-size="27.0" text-anchor="middle">CZ</text>
<line x1="1873.61" y1="3176.2" x2="1873.61" y2="3185.8" stroke="#222" stroke-width="2"/>
<text transform="translate(1873.61,3217.69) rotate(45)" y="7.43" font-size="27.0" text-anchor="middle">C4</text>
<line x1="1906.44" y1="3176.2" x2="1906.44" y2="3185.8" stroke="#222" stroke-width="2"/>
<text transform="translate(1906.44,3216.86) rotate(45)" y="7.43" font-size="27.0" text-anchor="middle">T4</text>
<line x1="1939.27" y1="3176.2" x2="1939.27" y2="3185.8" stroke="#222" stroke-width="2"/>
<text transform="translate(1939.27,3222.62) rotate(45)" y="7.43" font-size="27.0" text-anchor="middle">TP7</text>
<line x1="1972.09" y1="3176.2" x2="1972.09" y2="3185.8" stroke="#222" stroke-width="2"/>
<text transform="translate(1972.09,3223.45) rotate(45)" y="7.43" font-size="27.0" text-anchor="middle">CP3</text>
<line x1="2004.92" y1="3176.2" x2="2004.92" y2="3185.8" stroke="#222" stroke-width="2"/>
<text transform="translate(2004.92,3223.92) rotate(45)" y="7.43" font-size="27.0" text-anchor="middle">CPZ</text>
<line x1="2037.75" y1="3176.2" x2="2037.75" y2="3185.8" stroke="#222" stroke-width="2"/>
<text transform="translate(2037.75,3223.45) rotate(45)" y="7.43" font-size="27.0" text-anchor="middle">CP4</text>
<line x1="2070.57" y1="3176.2" x2="2070.57" y2="3185.8" stroke="#222" stroke-width="2"/>
<text transform="translate(2070.57,3222.62) rotate(45)" y="7.43" font-size="27.0" text-anchor="middle">TP8</text>
<line x1="2103.40" y1="3176.2" x2="2103.40" y2="3185.8" stroke="#222" stroke-width="2"/>
<text transform="translate(2103.40,3216.86) rotate(45)" y="7.43" font-size="27.0" text-anchor="middle">T5</text>
<line x1="2136.23" y1="3176.2" x2="2136.23" y2="3185.8" stroke="#222" stroke-width="2"/>
<text transform="translate(2136.23,3216.79) rotate(45)" y="7.43" font-size="27.0" text-anchor="middle">P3</text>
<line x1="2169.05" y1="3176.2" x2="2169.05" y2="3185.8" stroke="#222" stroke-width="2"/>
<text transform="translate(2169.05,3217.25) rotate(45)" y="7.43" font-size="27.0" text-anchor="middle">PZ</text>
<line x1="2201.88" y1="3176.2" x2="2201.88" y2="3185.8" stroke="#222" stroke-width="2"/>
<text transform="translate(2201.88,3216.79) rotate(45)" y="7.43" font-size="27.0" text-anchor="middle">P4</text>
<line x1="2234.71" y1="3176.2" x2="2234.71" y2="3185.8" stroke="#222" stroke-width="2"/>
<text transform="translate(2234.71,3216.86) rotate(45)" y="7.43" font-size="27.0" text-anchor="middle">T6</text>
<line x1="2267.53" y1="3176.2" x2="2267.53" y2="3185.8" stroke="#222" stroke-width="2"/>
<text transform="translate(2267.53,3218.54) rotate(45)" y="7.43" font-size="27.0" text-anchor="middle">O1</text>
<line x1="2300.36" y1="3176.2" x2="2300.36" y2="3185.8" stroke="#222" stroke-width="2"/>
<text transform="translate(2300.36,3219.01) rotate(45)" y="7.43" font-size="27.0" text-anchor="middle">OZ</text>
<line x1="2333.19" y1="3176.2" x2="2333.19" y2="3185.8" stroke="#222" stroke-width="2"/>
<text transform="translate(2333.19,3218.54) rotate(45)" y="7.43" font-size="27.0" text-anchor="middle">O2</text>
<text x="1857.2" y="3027.8" font-size="33.05" text-anchor="middle">Feature Importance Ranking of Sub 10</text>
<rect x="1364.8" y="3289.0" width="984.8" height="49.4" fill="url(#cb)" stroke="#222" stroke-width="2"/>
<line x1="1534.29" y1="3338.4" x2="1534.29" y2="3348.0" stroke="#222" stroke-width="2"/>
<text x="1534.29" y="3377.4" font-size="27.0" text-anchor="middle">20</text>
<line x1="1712.69" y1="3338.4" x2="1712.69" y2="3348.0" stroke="#222" stroke-width="2"/>
<text x="1712.69" y="3377.4" font-size="27.0" text-anchor="middle">40</text>
<line x1="1891.10" y1="3338.4" x2="1891.10" y2="3348.0" stroke="#222" stroke-width="2"/>
<text x="1891.10" y="3377.4" font-size="27.0" text-anchor="middle">60</text>
<line x1="2069.50" y1="3338.4" x2="2069.50" y2="3348.0" stroke="#222" stroke-width="2"/>
<text x="2069.50" y="3377.4" font-size="27.0" text-anchor="middle">80</text>
<line x1="2247.91" y1="3338.4" x2="2247.91" y2="3348.0" stroke="#222" stroke-width="2"/>
<text x="2247.91" y="3377.4" font-size="27.0" text-anchor="middle">100</text>
</g><g class="hm tc" opacity="0.28"><line x1="1355.2" y1="3061.40" x2="1364.8" y2="3061.40" stroke="#222" stroke-width="2"/><text x="1346.8" y="3069.90" font-size="27.0" text-anchor="end">α</text><line x1="1355.2" y1="3094.20" x2="1364.8" y2="3094.20" stroke="#222" stroke-width="2"/><text x="1346.8" y="3102.70" font-size="27.0" text-anchor="end">β</text><line x1="1355.2" y1="3127.00" x2="1364.8" y2="3127.00" stroke="#222" stroke-width="2"/><text x="1346.8" y="3135.50" font-size="27.0" text-anchor="end">θ</text><line x1="1355.2" y1="3159.80" x2="1364.8" y2="3159.80" stroke="#222" stroke-width="2"/><text x="1346.8" y="3168.30" font-size="27.0" text-anchor="end">δ</text><line x1="1381.21" y1="3176.2" x2="1381.21" y2="3185.8" stroke="#222" stroke-width="2"/><text transform="translate(1381.21,3222.28) rotate(45)" y="7.43" font-size="27.0" text-anchor="middle">FP1</text><line x1="1414.04" y1="3176.2" x2="1414.04" y2="3185.8" stroke="#222" stroke-width="2"/><text transform="translate(1414.04,3222.28) rotate(45)" y="7.43" font-size="27.0" text-anchor="middle">FP2</text><line x1="1446.87" y1="3176.2" x2="1446.87" y2="3185.8" stroke="#222" stroke-width="2"/><text transform="translate(1446.87,3216.52) rotate(45)" y="7.43" font-size="27.0" text-anchor="middle">F7</text><line x1="1479.69" y1="3176.2" x2="1479.69" y2="3185.8" stroke="#222" stroke-width="2"/><text transform="translate(1479.69,3216.52) rotate(45)" y="7.43" font-size="27.0" text-anchor="middle">F3</text><line x1="1512.52" y1="3176.2" x2="1512.52" y2="3185.8" stroke="#222" stroke-width="2"/><text transform="translate(1512.52,3216.99) rotate(45)" y="7.43" font-size="27.0" text-anchor="middle">FZ</text><line x1="1545.35" y1="3176.2" x2="1545.35" y2="3185.8" stroke="#222" stroke-width="2"/><text transform="translate(1545.35,3216.52) rotate(45)" y="7.43" font-size="27.0" text-anchor="middle">F4</text><line x1="1578.17" y1="3176.2" x2="1578.17" y2="3185.8" stroke="#222" stroke-width="2"/><text transform="translate(1578.17,3216.52) rotate(45)" y="7.43" font-size="27.0" text-anchor="middle">F8</text><line x1="1611.00" y1="3176.2" x2="1611.00" y2="3185.8" stroke="#222" stroke-width="2"/><text transform="translate(1611.00,3222.35) rotate(45)" y="7.43" font-size="27.0" text-anchor="middle">FT7</text><line x1="1643.83" y1="3176.2" x2="1643.83" y2="3185.8" stroke="#222" stroke-width="2"/><text transform="translate(1643.83,3223.18) rotate(45)" y="7.43" font-size="27.0" text-anchor="middle">FC3</text><line x1="1676.65" y1="3176.2" x2="1676.65" y2="3185.8" stroke="#222" stroke-width="2"/><text transform="translate(1676.65,3223.65) rotate(45)" y="7.43" font-size="27.0" text-anchor="middle">FCZ</text><line x1="1709.48" y1="3176.2" x2="1709.48" y2="3185.8" stroke="#222" stroke-width="2"/><text transform="translate(1709.48,3223.18) rotate(45)" y="7.43" font-size="27.0" text-anchor="middle">FC4</text><line x1="1742.31" y1="3176.2" x2="1742.31" y2="3185.8" stroke="#222" stroke-width="2"/><text transform="translate(1742.31,3222.35) rotate(45)" y="7.43" font-size="27.0" text-anchor="middle">FT8</text><line x1="1775.13" y1="3176.2" x2="1775.13" y2="3185.8" stroke="#222" stroke-width="2"/><text transform="translate(1775.13,3216.86) rotate(45)" y="7.43" font-size="27.0" text-anchor="middle">T3</text><line x1="1807.96" y1="3176.2" x2="1807.96" y2="3185.8" stroke="#222" stroke-width="2"/><text transform="translate(1807.96,3217.69) rotate(45)" y="7.43" font-size="27.0" text-anchor="middle">C3</text><line x1="1840.79" y1="3176.2" x2="1840.79" y2="3185.8" stroke="#222" stroke-width="2"/><text transform="translate(1840.79,3218.16) rotate(45)" y="7.43" font-size="27.0" text-anchor="middle">CZ</text><line x1="1873.61" y1="3176.2" x2="1873.61" y2="3185.8" stroke="#222" stroke-width="2"/><text transform="translate(1873.61,3217.69) rotate(45)" y="7.43" font-size="27.0" text-anchor="middle">C4</text><line x1="1906.44" y1="3176.2" x2="1906.44" y2="3185.8" stroke="#222" stroke-width="2"/><text transform="translate(1906.44,3216.86) rotate(45)" y="7.43" font-size="27.0" text-anchor="middle">T4</text><line x1="1939.27" y1="3176.2" x2="1939.27" y2="3185.8" stroke="#222" stroke-width="2"/><text transform="translate(1939.27,3222.62) rotate(45)" y="7.43" font-size="27.0" text-anchor="middle">TP7</text><line x1="1972.09" y1="3176.2" x2="1972.09" y2="3185.8" stroke="#222" stroke-width="2"/><text transform="translate(1972.09,3223.45) rotate(45)" y="7.43" font-size="27.0" text-anchor="middle">CP3</text><line x1="2004.92" y1="3176.2" x2="2004.92" y2="3185.8" stroke="#222" stroke-width="2"/><text transform="translate(2004.92,3223.92) rotate(45)" y="7.43" font-size="27.0" text-anchor="middle">CPZ</text><line x1="2037.75" y1="3176.2" x2="2037.75" y2="3185.8" stroke="#222" stroke-width="2"/><text transform="translate(2037.75,3223.45) rotate(45)" y="7.43" font-size="27.0" text-anchor="middle">CP4</text><line x1="2070.57" y1="3176.2" x2="2070.57" y2="3185.8" stroke="#222" stroke-width="2"/><text transform="translate(2070.57,3222.62) rotate(45)" y="7.43" font-size="27.0" text-anchor="middle">TP8</text><line x1="2103.40" y1="3176.2" x2="2103.40" y2="3185.8" stroke="#222" stroke-width="2"/><text transform="translate(2103.40,3216.86) rotate(45)" y="7.43" font-size="27.0" text-anchor="middle">T5</text><line x1="2136.23" y1="3176.2" x2="2136.23" y2="3185.8" stroke="#222" stroke-width="2"/><text transform="translate(2136.23,3216.79) rotate(45)" y="7.43" font-size="27.0" text-anchor="middle">P3</text><line x1="2169.05" y1="3176.2" x2="2169.05" y2="3185.8" stroke="#222" stroke-width="2"/><text transform="translate(2169.05,3217.25) rotate(45)" y="7.43" font-size="27.0" text-anchor="middle">PZ</text><line x1="2201.88" y1="3176.2" x2="2201.88" y2="3185.8" stroke="#222" stroke-width="2"/><text transform="translate(2201.88,3216.79) rotate(45)" y="7.43" font-size="27.0" text-anchor="middle">P4</text><line x1="2234.71" y1="3176.2" x2="2234.71" y2="3185.8" stroke="#222" stroke-width="2"/><text transform="translate(2234.71,3216.86) rotate(45)" y="7.43" font-size="27.0" text-anchor="middle">T6</text><line x1="2267.53" y1="3176.2" x2="2267.53" y2="3185.8" stroke="#222" stroke-width="2"/><text transform="translate(2267.53,3218.54) rotate(45)" y="7.43" font-size="27.0" text-anchor="middle">O1</text><line x1="2300.36" y1="3176.2" x2="2300.36" y2="3185.8" stroke="#222" stroke-width="2"/><text transform="translate(2300.36,3219.01) rotate(45)" y="7.43" font-size="27.0" text-anchor="middle">OZ</text><line x1="2333.19" y1="3176.2" x2="2333.19" y2="3185.8" stroke="#222" stroke-width="2"/><text transform="translate(2333.19,3218.54) rotate(45)" y="7.43" font-size="27.0" text-anchor="middle">O2</text><text x="1857.2" y="3027.8" font-size="33.05" text-anchor="middle">Feature Importance Ranking of Sub 10</text><line x1="1534.29" y1="3338.4" x2="1534.29" y2="3348.0" stroke="#222" stroke-width="2"/><text x="1534.29" y="3377.4" font-size="27.0" text-anchor="middle">20</text><line x1="1712.69" y1="3338.4" x2="1712.69" y2="3348.0" stroke="#222" stroke-width="2"/><text x="1712.69" y="3377.4" font-size="27.0" text-anchor="middle">40</text><line x1="1891.10" y1="3338.4" x2="1891.10" y2="3348.0" stroke="#222" stroke-width="2"/><text x="1891.10" y="3377.4" font-size="27.0" text-anchor="middle">60</text><line x1="2069.50" y1="3338.4" x2="2069.50" y2="3348.0" stroke="#222" stroke-width="2"/><text x="2069.50" y="3377.4" font-size="27.0" text-anchor="middle">80</text><line x1="2247.91" y1="3338.4" x2="2247.91" y2="3348.0" stroke="#222" stroke-width="2"/><text x="2247.91" y="3377.4" font-size="27.0" text-anchor="middle">100</text>
</g>
<g filter="url(#b2)" class="hm">
<path d="M150.5 3499.9h33.4v31.9h-33.4z" fill="#0acd4d"/>
<path d="M183.3 3499.9h33.4v31.9h-33.4z" fill="#0acd4d"/>
<path d="M216.2 3499.9h33.4v31.9h-33.4z" fill="#255494"/>
<path d="M249.0 3499.9h33.4v31.9h-33.4z" fill="#087290"/>
<path d="M281.8 3499.9h33.4v31.9h-33.4z" fill="#c4e10f"/>
<path d="M314.6 3499.9h33.4v31.9h-33.4z" fill="#f9e60f"/>
<path d="M347.5 3499.9h33.4v31.9h-33.4z" fill="#04a680"/>
<path d="M380.3 3499.9h33.4v31.9h-33.4z" fill="#2e4e93"/>
<path d="M413.1 3499.9h33.4v31.9h-33.4z" fill="#04c361"/>
<path d="M445.9 3499.9h33.4v31.9h-33.4z" fill="#07778f"/>
<path d="M478.8 3499.9h33.4v31.9h-33.4z" fill="#73d81d"/>
<path d="M511.6 3499.9h33.4v31.9h-33.4z" fill="#04aa7c"/>
<path d="M544.4 3499.9h33.4v31.9h-33.4z" fill="#04bf67"/>
<path d="M577.2 3499.9h33.4v31.9h-33.4z" fill="#06868d"/>
<path d="M610.1 3499.9h33.4v31.9h-33.4z" fill="#04c361"/>
<path d="M642.9 3499.9h33.4v31.9h-33.4z" fill="#07778f"/>
<path d="M675.7 3499.9h33.4v31.9h-33.4z" fill="#04a183"/>
<path d="M708.6 3499.9h33.4v31.9h-33.4z" fill="#06908a"/>
<path d="M741.4 3499.9h33.4v31.9h-33.4z" fill="#04bb6d"/>
<path d="M774.2 3499.9h33.4v31.9h-33.4z" fill="#e7e40e"/>
<path d="M807.0 3499.9h33.4v31.9h-33.4z" fill="#443a8e"/>
<path d="M839.9 3499.9h33.4v31.9h-33.4z" fill="#c4e10f"/>
<path d="M872.7 3499.9h33.4v31.9h-33.4z" fill="#06868d"/>
<path d="M905.5 3499.9h33.4v31.9h-33.4z" fill="#0acd4d"/>
<path d="M938.3 3499.9h33.4v31.9h-33.4z" fill="#32d237"/>
<path d="M971.2 3499.9h33.4v31.9h-33.4z" fill="#443a8e"/>
<path d="M1004.0 3499.9h33.4v31.9h-33.4z" fill="#b2e011"/>
<path d="M1036.8 3499.9h33.4v31.9h-33.4z" fill="#04a680"/>
<path d="M1069.6 3499.9h33.4v31.9h-33.4z" fill="#06908a"/>
<path d="M1102.5 3499.9h33.4v31.9h-33.4z" fill="#06868d"/>
<path d="M150.5 3531.2h33.4v32.1h-33.4z" fill="#4d0363"/>
<path d="M183.3 3531.2h33.4v32.1h-33.4z" fill="#4d0363"/>
<path d="M216.2 3531.2h33.4v32.1h-33.4z" fill="#4b0260"/>
<path d="M249.0 3531.2h33.4v32.1h-33.4z" fill="#0a6594"/>
<path d="M281.8 3531.2h33.4v32.1h-33.4z" fill="#4d0363"/>
<path d="M314.6 3531.2h33.4v32.1h-33.4z" fill="#500569"/>
<path d="M347.5 3531.2h33.4v32.1h-33.4z" fill="#4e0466"/>
<path d="M380.3 3531.2h33.4v32.1h-33.4z" fill="#51056c"/>
<path d="M413.1 3531.2h33.4v32.1h-33.4z" fill="#068b8c"/>
<path d="M445.9 3531.2h33.4v32.1h-33.4z" fill="#0a6594"/>
<path d="M478.8 3531.2h33.4v32.1h-33.4z" fill="#4b0260"/>
<path d="M511.6 3531.2h33.4v32.1h-33.4z" fill="#4b0260"/>
<path d="M544.4 3531.2h33.4v32.1h-33.4z" fill="#4b0260"/>
<path d="M577.2 3531.2h33.4v32.1h-33.4z" fill="#4b0260"/>
<path d="M610.1 3531.2h33.4v32.1h-33.4z" fill="#9ddd15"/>
<path d="M642.9 3531.2h33.4v32.1h-33.4z" fill="#88db19"/>
<path d="M675.7 3531.2h33.4v32.1h-33.4z" fill="#4b0260"/>
<path d="M708.6 3531.2h33.4v32.1h-33.4z" fill="#443a8e"/>
<path d="M741.4 3531.2h33.4v32.1h-33.4z" fill="#4c2e88"/>
<path d="M774.2 3531.2h33.4v32.1h-33.4z" fill="#0a6594"/>
<path d="M807.0 3531.2h33.4v32.1h-33.4z" fill="#4b0260"/>
<path d="M839.9 3531.2h33.4v32.1h-33.4z" fill="#4b0260"/>
<path d="M872.7 3531.2h33.4v32.1h-33.4z" fill="#0acd4d"/>
<path d="M905.5 3531.2h33.4v32.1h-33.4z" fill="#48348b"/>
<path d="M938.3 3531.2h33.4v32.1h-33.4z" fill="#52076f"/>
<path d="M971.2 3531.2h33.4v32.1h-33.4z" fill="#04bf67"/>
<path d="M1004.0 3531.2h33.4v32.1h-33.4z" fill="#48348b"/>
<path d="M1036.8 3531.2h33.4v32.1h-33.4z" fill="#4b0260"/>
<path d="M1069.6 3531.2h33.4v32.1h-33.4z" fill="#4b0260"/>
<path d="M1102.5 3531.2h33.4v32.1h-33.4z" fill="#04b375"/>
<path d="M150.5 3562.7h33.4v35.3h-33.4z" fill="#4f2984"/>
<path d="M183.3 3562.7h33.4v35.3h-33.4z" fill="#2e4e93"/>
<path d="M216.2 3562.7h33.4v35.3h-33.4z" fill="#48d42e"/>
<path d="M249.0 3562.7h33.4v35.3h-33.4z" fill="#443a8e"/>
<path d="M281.8 3562.7h33.4v35.3h-33.4z" fill="#522281"/>
<path d="M314.6 3562.7h33.4v35.3h-33.4z" fill="#059987"/>
<path d="M347.5 3562.7h33.4v35.3h-33.4z" fill="#522281"/>
<path d="M380.3 3562.7h33.4v35.3h-33.4z" fill="#04b771"/>
<path d="M413.1 3562.7h33.4v35.3h-33.4z" fill="#06868d"/>
<path d="M445.9 3562.7h33.4v35.3h-33.4z" fill="#9ddd15"/>
<path d="M478.8 3562.7h33.4v35.3h-33.4z" fill="#4f2984"/>
<path d="M511.6 3562.7h33.4v35.3h-33.4z" fill="#4f2984"/>
<path d="M544.4 3562.7h33.4v35.3h-33.4z" fill="#059d85"/>
<path d="M577.2 3562.7h33.4v35.3h-33.4z" fill="#04b771"/>
<path d="M610.1 3562.7h33.4v35.3h-33.4z" fill="#04a183"/>
<path d="M642.9 3562.7h33.4v35.3h-33.4z" fill="#059987"/>
<path d="M675.7 3562.7h33.4v35.3h-33.4z" fill="#f0e50f"/>
<path d="M708.6 3562.7h33.4v35.3h-33.4z" fill="#32d237"/>
<path d="M741.4 3562.7h33.4v35.3h-33.4z" fill="#059987"/>
<path d="M774.2 3562.7h33.4v35.3h-33.4z" fill="#04b771"/>
<path d="M807.0 3562.7h33.4v35.3h-33.4z" fill="#068b8c"/>
<path d="M839.9 3562.7h33.4v35.3h-33.4z" fill="#059489"/>
<path d="M872.7 3562.7h33.4v35.3h-33.4z" fill="#04ca55"/>
<path d="M905.5 3562.7h33.4v35.3h-33.4z" fill="#04b375"/>
<path d="M938.3 3562.7h33.4v35.3h-33.4z" fill="#f4e60f"/>
<path d="M971.2 3562.7h33.4v35.3h-33.4z" fill="#059489"/>
<path d="M1004.0 3562.7h33.4v35.3h-33.4z" fill="#059489"/>
<path d="M1036.8 3562.7h33.4v35.3h-33.4z" fill="#f4e60f"/>
<path d="M1069.6 3562.7h33.4v35.3h-33.4z" fill="#cde20f"/>
<path d="M1102.5 3562.7h33.4v35.3h-33.4z" fill="#cde20f"/>
<path d="M150.5 3597.4h33.4v34.3h-33.4z" fill="#0e5d96"/>
<path d="M183.3 3597.4h33.4v34.3h-33.4z" fill="#0a6594"/>
<path d="M216.2 3597.4h33.4v34.3h-33.4z" fill="#068b8c"/>
<path d="M249.0 3597.4h33.4v34.3h-33.4z" fill="#096e91"/>
<path d="M281.8 3597.4h33.4v34.3h-33.4z" fill="#88db19"/>
<path d="M314.6 3597.4h33.4v34.3h-33.4z" fill="#0a6594"/>
<path d="M347.5 3597.4h33.4v34.3h-33.4z" fill="#0e5d96"/>
<path d="M380.3 3597.4h33.4v34.3h-33.4z" fill="#0a6594"/>
<path d="M413.1 3597.4h33.4v34.3h-33.4z" fill="#255494"/>
<path d="M445.9 3597.4h33.4v34.3h-33.4z" fill="#2e4e93"/>
<path d="M478.8 3597.4h33.4v34.3h-33.4z" fill="#b2e011"/>
<path d="M511.6 3597.4h33.4v34.3h-33.4z" fill="#52076f"/>
<path d="M544.4 3597.4h33.4v34.3h-33.4z" fill="#087290"/>
<path d="M577.2 3597.4h33.4v34.3h-33.4z" fill="#2e4e93"/>
<path d="M610.1 3597.4h33.4v34.3h-33.4z" fill="#0b6195"/>
<path d="M642.9 3597.4h33.4v34.3h-33.4z" fill="#73d81d"/>
<path d="M675.7 3597.4h33.4v34.3h-33.4z" fill="#52076f"/>
<path d="M708.6 3597.4h33.4v34.3h-33.4z" fill="#04bb6d"/>
<path d="M741.4 3597.4h33.4v34.3h-33.4z" fill="#04bf67"/>
<path d="M774.2 3597.4h33.4v34.3h-33.4z" fill="#88db19"/>
<path d="M807.0 3597.4h33.4v34.3h-33.4z" fill="#04b375"/>
<path d="M839.9 3597.4h33.4v34.3h-33.4z" fill="#04b375"/>
<path d="M872.7 3597.4h33.4v34.3h-33.4z" fill="#521578"/>
<path d="M905.5 3597.4h33.4v34.3h-33.4z" fill="#521578"/>
<path d="M938.3 3597.4h33.4v34.3h-33.4z" fill="#521578"/>
<path d="M971.2 3597.4h33.4v34.3h-33.4z" fill="#07778f"/>
<path d="M1004.0 3597.4h33.4v34.3h-33.4z" fill="#04b771"/>
<path d="M1036.8 3597.4h33.4v34.3h-33.4z" fill="#dee30e"/>
<path d="M1069.6 3597.4h33.4v34.3h-33.4z" fill="#04a183"/>
<path d="M1102.5 3597.4h33.4v34.3h-33.4z" fill="#0a6594"/>
<rect x="150.8" y="3500.2" width="984.8" height="131.2" fill="none" stroke="#222" stroke-width="2"/>
<line x1="141.2" y1="3516.60" x2="150.8" y2="3516.60" stroke="#222" stroke-width="2"/>
<text x="132.8" y="3525.10" font-size="27.0" text-anchor="end">α</text>
<line x1="141.2" y1="3549.40" x2="150.8" y2="3549.40" stroke="#222" stroke-width="2"/>
<text x="132.8" y="3557.90" font-size="27.0" text-anchor="end">β</text>
<line x1="141.2" y1="3582.20" x2="150.8" y2="3582.20" stroke="#222" stroke-width="2"/>
<text x="132.8" y="3590.70" font-size="27.0" text-anchor="end">θ</text>
<line x1="141.2" y1="3615.00" x2="150.8" y2="3615.00" stroke="#222" stroke-width="2"/>
<text x="132.8" y="3623.50" font-size="27.0" text-anchor="end">δ</text>
<line x1="167.21" y1="3631.4" x2="167.21" y2="3641.0" stroke="#222" stroke-width="2"/>
<text transform="translate(167.21,3677.48) rotate(45)" y="7.43" font-size="27.0" text-anchor="middle">FP1</text>
<line x1="200.04" y1="3631.4" x2="200.04" y2="3641.0" stroke="#222" stroke-width="2"/>
<text transform="translate(200.04,3677.48) rotate(45)" y="7.43" font-size="27.0" text-anchor="middle">FP2</text>
<line x1="232.87" y1="3631.4" x2="232.87" y2="3641.0" stroke="#222" stroke-width="2"/>
<text transform="translate(232.87,3671.72) rotate(45)" y="7.43" font-size="27.0" text-anchor="middle">F7</text>
<line x1="265.69" y1="3631.4" x2="265.69" y2="3641.0" stroke="#222" stroke-width="2"/>
<text transform="translate(265.69,3671.72) rotate(45)" y="7.43" font-size="27.0" text-anchor="middle">F3</text>
<line x1="298.52" y1="3631.4" x2="298.52" y2="3641.0" stroke="#222" stroke-width="2"/>
<text transform="translate(298.52,3672.19) rotate(45)" y="7.43" font-size="27.0" text-anchor="middle">FZ</text>
<line x1="331.35" y1="3631.4" x2="331.35" y2="3641.0" stroke="#222" stroke-width="2"/>
<text transform="translate(331.35,3671.72) rotate(45)" y="7.43" font-size="27.0" text-anchor="middle">F4</text>
<line x1="364.17" y1="3631.4" x2="364.17" y2="3641.0" stroke="#222" stroke-width="2"/>
<text transform="translate(364.17,3671.72) rotate(45)" y="7.43" font-size="27.0" text-anchor="middle">F8</text>
<line x1="397.00" y1="3631.4" x2="397.00" y2="3641.0" stroke="#222" stroke-width="2"/>
<text transform="translate(397.00,3677.55) rotate(45)" y="7.43" font-size="27.0" text-anchor="middle">FT7</text>
<line x1="429.83" y1="3631.4" x2="429.83" y2="3641.0" stroke="#222" stroke-width="2"/>
<text transform="translate(429.83,3678.38) rotate(45)" y="7.43" font-size="27.0" text-anchor="middle">FC3</text>
<line x1="462.65" y1="3631.4" x2="462.65" y2="3641.0" stroke="#222" stroke-width="2"/>
<text transform="translate(462.65,3678.85) rotate(45)" y="7.43" font-size="27.0" text-anchor="middle">FCZ</text>
<line x1="495.48" y1="3631.4" x2="495.48" y2="3641.0" stroke="#222" stroke-width="2"/>
<text transform="translate(495.48,3678.38) rotate(45)" y="7.43" font-size="27.0" text-anchor="middle">FC4</text>
<line x1="528.31" y1="3631.4" x2="528.31" y2="3641.0" stroke="#222" stroke-width="2"/>
<text transform="translate(528.31,3677.55) rotate(45)" y="7.43" font-size="27.0" text-anchor="middle">FT8</text>
<line x1="561.13" y1="3631.4" x2="561.13" y2="3641.0" stroke="#222" stroke-width="2"/>
<text transform="translate(561.13,3672.06) rotate(45)" y="7.43" font-size="27.0" text-anchor="middle">T3</text>
<line x1="593.96" y1="3631.4" x2="593.96" y2="3641.0" stroke="#222" stroke-width="2"/>
<text transform="translate(593.96,3672.89) rotate(45)" y="7.43" font-size="27.0" text-anchor="middle">C3</text>
<line x1="626.79" y1="3631.4" x2="626.79" y2="3641.0" stroke="#222" stroke-width="2"/>
<text transform="translate(626.79,3673.36) rotate(45)" y="7.43" font-size="27.0" text-anchor="middle">CZ</text>
<line x1="659.61" y1="3631.4" x2="659.61" y2="3641.0" stroke="#222" stroke-width="2"/>
<text transform="translate(659.61,3672.89) rotate(45)" y="7.43" font-size="27.0" text-anchor="middle">C4</text>
<line x1="692.44" y1="3631.4" x2="692.44" y2="3641.0" stroke="#222" stroke-width="2"/>
<text transform="translate(692.44,3672.06) rotate(45)" y="7.43" font-size="27.0" text-anchor="middle">T4</text>
<line x1="725.27" y1="3631.4" x2="725.27" y2="3641.0" stroke="#222" stroke-width="2"/>
<text transform="translate(725.27,3677.82) rotate(45)" y="7.43" font-size="27.0" text-anchor="middle">TP7</text>
<line x1="758.09" y1="3631.4" x2="758.09" y2="3641.0" stroke="#222" stroke-width="2"/>
<text transform="translate(758.09,3678.65) rotate(45)" y="7.43" font-size="27.0" text-anchor="middle">CP3</text>
<line x1="790.92" y1="3631.4" x2="790.92" y2="3641.0" stroke="#222" stroke-width="2"/>
<text transform="translate(790.92,3679.12) rotate(45)" y="7.43" font-size="27.0" text-anchor="middle">CPZ</text>
<line x1="823.75" y1="3631.4" x2="823.75" y2="3641.0" stroke="#222" stroke-width="2"/>
<text transform="translate(823.75,3678.65) rotate(45)" y="7.43" font-size="27.0" text-anchor="middle">CP4</text>
<line x1="856.57" y1="3631.4" x2="856.57" y2="3641.0" stroke="#222" stroke-width="2"/>
<text transform="translate(856.57,3677.82) rotate(45)" y="7.43" font-size="27.0" text-anchor="middle">TP8</text>
<line x1="889.40" y1="3631.4" x2="889.40" y2="3641.0" stroke="#222" stroke-width="2"/>
<text transform="translate(889.40,3672.06) rotate(45)" y="7.43" font-size="27.0" text-anchor="middle">T5</text>
<line x1="922.23" y1="3631.4" x2="922.23" y2="3641.0" stroke="#222" stroke-width="2"/>
<text transform="translate(922.23,3671.99) rotate(45)" y="7.43" font-size="27.0" text-anchor="middle">P3</text>
<line x1="955.05" y1="3631.4" x2="955.05" y2="3641.0" stroke="#222" stroke-width="2"/>
<text transform="translate(955.05,3672.45) rotate(45)" y="7.43" font-size="27.0" text-anchor="middle">PZ</text>
<line x1="987.88" y1="3631.4" x2="987.88" y2="3641.0" stroke="#222" stroke-width="2"/>
<text transform="translate(987.88,3671.99) rotate(45)" y="7.43" font-size="27.0" text-anchor="middle">P4</text>
<line x1="1020.71" y1="3631.4" x2="1020.71" y2="3641.0" stroke="#222" stroke-width="2"/>
<text transform="translate(1020.71,3672.06) rotate(45)" y="7.43" font-size="27.0" text-anchor="middle">T6</text>
<line x1="1053.53" y1="3631.4" x2="1053.53" y2="3641.0" stroke="#222" stroke-width="2"/>
<text transform="translate(1053.53,3673.74) rotate(45)" y="7.43" font-size="27.0" text-anchor="middle">O1</text>
<line x1="1086.36" y1="3631.4" x2="1086.36" y2="3641.0" stroke="#222" stroke-width="2"/>
<text transform="translate(1086.36,3674.21) rotate(45)" y="7.43" font-size="27.0" text-anchor="middle">OZ</text>
<line x1="1119.19" y1="3631.4" x2="1119.19" y2="3641.0" stroke="#222" stroke-width="2"/>
<text transform="translate(1119.19,3673.74) rotate(45)" y="7.43" font-size="27.0" text-anchor="middle">O2</text>
<text x="643.2" y="3483.0" font-size="33.05" text-anchor="middle">Feature Importance Ranking of Sub 18</text>
<rect x="150.8" y="3744.2" width="984.8" height="49.4" fill="url(#cb)" stroke="#222" stroke-width="2"/>
<line x1="320.29" y1="3793.6" x2="320.29" y2="3803.2" stroke="#222" stroke-width="2"/>
<text x="320.29" y="3832.6" font-size="27.0" text-anchor="middle">20</text>
<line x1="498.69" y1="3793.6" x2="498.69" y2="3803.2" stroke="#222" stroke-width="2"/>
<text x="498.69" y="3832.6" font-size="27.0" text-anchor="middle">40</text>
<line x1="677.10" y1="3793.6" x2="677.10" y2="3803.2" stroke="#222" stroke-width="2"/>
<text x="677.10" y="3832.6" font-size="27.0" text-anchor="middle">60</text>
<line x1="855.50" y1="3793.6" x2="855.50" y2="3803.2" stroke="#222" stroke-width="2"/>
<text x="855.50" y="3832.6" font-size="27.0" text-anchor="middle">80</text>
<line x1="1033.91" y1="3793.6" x2="1033.91" y2="3803.2" stroke="#222" stroke-width="2"/>
<text x="1033.91" y="3832.6" font-size="27.0" text-anchor="middle">100</text>
</g><g class="hm tc" opacity="0.28"><line x1="141.2" y1="3516.60" x2="150.8" y2="3516.60" stroke="#222" stroke-width="2"/><text x="132.8" y="3525.10" font-size="27.0" text-anchor="end">α</text><line x1="141.2" y1="3549.40" x2="150.8" y2="3549.40" stroke="#222" stroke-width="2"/><text x="132.8" y="3557.90" font-size="27.0" text-anchor="end">β</text><line x1="141.2" y1="3582.20" x2="150.8" y2="3582.20" stroke="#222" stroke-width="2"/><text x="132.8" y="3590.70" font-size="27.0" text-anchor="end">θ</text><line x1="141.2" y1="3615.00" x2="150.8" y2="3615.00" stroke="#222" stroke-width="2"/><text x="132.8" y="3623.50" font-size="27.0" text-anchor="end">δ</text><line x1="167.21" y1="3631.4" x2="167.21" y2="3641.0" stroke="#222" stroke-width="2"/><text transform="translate(167.21,3677.48) rotate(45)" y="7.43" font-size="27.0" text-anchor="middle">FP1</text><line x1="200.04" y1="3631.4" x2="200.04" y2="3641.0" stroke="#222" stroke-width="2"/><text transform="translate(200.04,3677.48) rotate(45)" y="7.43" font-size="27.0" text-anchor="middle">FP2</text><line x1="232.87" y1="3631.4" x2="232.87" y2="3641.0" stroke="#222" stroke-width="2"/><text transform="translate(232.87,3671.72) rotate(45)" y="7.43" font-size="27.0" text-anchor="middle">F7</text><line x1="265.69" y1="3631.4" x2="265.69" y2="3641.0" stroke="#222" stroke-width="2"/><text transform="translate(265.69,3671.72) rotate(45)" y="7.43" font-size="27.0" text-anchor="middle">F3</text><line x1="298.52" y1="3631.4" x2="298.52" y2="3641.0" stroke="#222" stroke-width="2"/><text transform="translate(298.52,3672.19) rotate(45)" y="7.43" font-size="27.0" text-anchor="middle">FZ</text><line x1="331.35" y1="3631.4" x2="331.35" y2="3641.0" stroke="#222" stroke-width="2"/><text transform="translate(331.35,3671.72) rotate(45)" y="7.43" font-size="27.0" text-anchor="middle">F4</text><line x1="364.17" y1="3631.4" x2="364.17" y2="3641.0" stroke="#222" stroke-width="2"/><text transform="translate(364.17,3671.72) rotate(45)" y="7.43" font-size="27.0" text-anchor="middle">F8</text><line x1="397.00" y1="3631.4" x2="397.00" y2="3641.0" stroke="#222" stroke-width="2"/><text transform="translate(397.00,3677.55) rotate(45)" y="7.43" font-size="27.0" text-anchor="middle">FT7</text><line x1="429.83" y1="3631.4" x2="429.83" y2="3641.0" stroke="#222" stroke-width="2"/><text transform="translate(429.83,3678.38) rotate(45)" y="7.43" font-size="27.0" text-anchor="middle">FC3</text><line x1="462.65" y1="3631.4" x2="462.65" y2="3641.0" stroke="#222" stroke-width="2"/><text transform="translate(462.65,3678.85) rotate(45)" y="7.43" font-size="27.0" text-anchor="middle">FCZ</text><line x1="495.48" y1="3631.4" x2="495.48" y2="3641.0" stroke="#222" stroke-width="2"/><text transform="translate(495.48,3678.38) rotate(45)" y="7.43" font-size="27.0" text-anchor="middle">FC4</text><line x1="528.31" y1="3631.4" x2="528.31" y2="3641.0" stroke="#222" stroke-width="2"/><text transform="translate(528.31,3677.55) rotate(45)" y="7.43" font-size="27.0" text-anchor="middle">FT8</text><line x1="561.13" y1="3631.4" x2="561.13" y2="3641.0" stroke="#222" stroke-width="2"/><text transform="translate(561.13,3672.06) rotate(45)" y="7.43" font-size="27.0" text-anchor="middle">T3</text><line x1="593.96" y1="3631.4" x2="593.96" y2="3641.0" stroke="#222" stroke-width="2"/><text transform="translate(593.96,3672.89) rotate(45)" y="7.43" font-size="27.0" text-anchor="middle">C3</text><line x1="626.79" y1="3631.4" x2="626.79" y2="3641.0" stroke="#222" stroke-width="2"/><text transform="translate(626.79,3673.36) rotate(45)" y="7.43" font-size="27.0" text-anchor="middle">CZ</text><line x1="659.61" y1="3631.4" x2="659.61" y2="3641.0" stroke="#222" stroke-width="2"/><text transform="translate(659.61,3672.89) rotate(45)" y="7.43" font-size="27.0" text-anchor="middle">C4</text><line x1="692.44" y1="3631.4" x2="692.44" y2="3641.0" stroke="#222" stroke-width="2"/><text transform="translate(692.44,3672.06) rotate(45)" y="7.43" font-size="27.0" text-anchor="middle">T4</text><line x1="725.27" y1="3631.4" x2="725.27" y2="3641.0" stroke="#222" stroke-width="2"/><text transform="translate(725.27,3677.82) rotate(45)" y="7.43" font-size="27.0" text-anchor="middle">TP7</text><line x1="758.09" y1="3631.4" x2="758.09" y2="3641.0" stroke="#222" stroke-width="2"/><text transform="translate(758.09,3678.65) rotate(45)" y="7.43" font-size="27.0" text-anchor="middle">CP3</text><line x1="790.92" y1="3631.4" x2="790.92" y2="3641.0" stroke="#222" stroke-width="2"/><text transform="translate(790.92,3679.12) rotate(45)" y="7.43" font-size="27.0" text-anchor="middle">CPZ</text><line x1="823.75" y1="3631.4" x2="823.75" y2="3641.0" stroke="#222" stroke-width="2"/><text transform="translate(823.75,3678.65) rotate(45)" y="7.43" font-size="27.0" text-anchor="middle">CP4</text><line x1="856.57" y1="3631.4" x2="856.57" y2="3641.0" stroke="#222" stroke-width="2"/><text transform="translate(856.57,3677.82) rotate(45)" y="7.43" font-size="27.0" text-anchor="middle">TP8</text><line x1="889.40" y1="3631.4" x2="889.40" y2="3641.0" stroke="#222" stroke-width="2"/><text transform="translate(889.40,3672.06) rotate(45)" y="7.43" font-size="27.0" text-anchor="middle">T5</text><line x1="922.23" y1="3631.4" x2="922.23" y2="3641.0" stroke="#222" stroke-width="2"/><text transform="translate(922.23,3671.99) rotate(45)" y="7.43" font-size="27.0" text-anchor="middle">P3</text><line x1="955.05" y1="3631.4" x2="955.05" y2="3641.0" stroke="#222" stroke-width="2"/><text transform="translate(955.05,3672.45) rotate(45)" y="7.43" font-size="27.0" text-anchor="middle">PZ</text><line x1="987.88" y1="3631.4" x2="987.88" y2="3641.0" stroke="#222" stroke-width="2"/><text transform="translate(987.88,3671.99) rotate(45)" y="7.43" font-size="27.0" text-anchor="middle">P4</text><line x1="1020.71" y1="3631.4" x2="1020.71" y2="3641.0" stroke="#222" stroke-width="2"/><text transform="translate(1020.71,3672.06) rotate(45)" y="7.43" font-size="27.0" text-anchor="middle">T6</text><line x1="1053.53" y1="3631.4" x2="1053.53" y2="3641.0" stroke="#222" stroke-width="2"/><text transform="translate(1053.53,3673.74) rotate(45)" y="7.43" font-size="27.0" text-anchor="middle">O1</text><line x1="1086.36" y1="3631.4" x2="1086.36" y2="3641.0" stroke="#222" stroke-width="2"/><text transform="translate(1086.36,3674.21) rotate(45)" y="7.43" font-size="27.0" text-anchor="middle">OZ</text><line x1="1119.19" y1="3631.4" x2="1119.19" y2="3641.0" stroke="#222" stroke-width="2"/><text transform="translate(1119.19,3673.74) rotate(45)" y="7.43" font-size="27.0" text-anchor="middle">O2</text><text x="643.2" y="3483.0" font-size="33.05" text-anchor="middle">Feature Importance Ranking of Sub 18</text><line x1="320.29" y1="3793.6" x2="320.29" y2="3803.2" stroke="#222" stroke-width="2"/><text x="320.29" y="3832.6" font-size="27.0" text-anchor="middle">20</text><line x1="498.69" y1="3793.6" x2="498.69" y2="3803.2" stroke="#222" stroke-width="2"/><text x="498.69" y="3832.6" font-size="27.0" text-anchor="middle">40</text><line x1="677.10" y1="3793.6" x2="677.10" y2="3803.2" stroke="#222" stroke-width="2"/><text x="677.10" y="3832.6" font-size="27.0" text-anchor="middle">60</text><line x1="855.50" y1="3793.6" x2="855.50" y2="3803.2" stroke="#222" stroke-width="2"/><text x="855.50" y="3832.6" font-size="27.0" text-anchor="middle">80</text><line x1="1033.91" y1="3793.6" x2="1033.91" y2="3803.2" stroke="#222" stroke-width="2"/><text x="1033.91" y="3832.6" font-size="27.0" text-anchor="middle">100</text>
</g>
<g filter="url(#b2)" class="hm">
<path d="M1367.5 3499.9h33.4v31.9h-33.4z" fill="#e7e40e"/>
<path d="M1400.3 3499.9h33.4v31.9h-33.4z" fill="#e7e40e"/>
<path d="M1433.2 3499.9h33.4v31.9h-33.4z" fill="#096e91"/>
<path d="M1466.0 3499.9h33.4v31.9h-33.4z" fill="#1bd041"/>
<path d="M1498.8 3499.9h33.4v31.9h-33.4z" fill="#0a6594"/>
<path d="M1531.6 3499.9h33.4v31.9h-33.4z" fill="#0a6594"/>
<path d="M1564.5 3499.9h33.4v31.9h-33.4z" fill="#0a6594"/>
<path d="M1597.3 3499.9h33.4v31.9h-33.4z" fill="#087290"/>
<path d="M1630.1 3499.9h33.4v31.9h-33.4z" fill="#4f2984"/>
<path d="M1662.9 3499.9h33.4v31.9h-33.4z" fill="#500569"/>
<path d="M1695.8 3499.9h33.4v31.9h-33.4z" fill="#06908a"/>
<path d="M1728.6 3499.9h33.4v31.9h-33.4z" fill="#04c361"/>
<path d="M1761.4 3499.9h33.4v31.9h-33.4z" fill="#068b8c"/>
<path d="M1794.2 3499.9h33.4v31.9h-33.4z" fill="#04a183"/>
<path d="M1827.1 3499.9h33.4v31.9h-33.4z" fill="#4f2984"/>
<path d="M1859.9 3499.9h33.4v31.9h-33.4z" fill="#068b8c"/>
<path d="M1892.7 3499.9h33.4v31.9h-33.4z" fill="#500569"/>
<path d="M1925.6 3499.9h33.4v31.9h-33.4z" fill="#88db19"/>
<path d="M1958.4 3499.9h33.4v31.9h-33.4z" fill="#04c361"/>
<path d="M1991.2 3499.9h33.4v31.9h-33.4z" fill="#48348b"/>
<path d="M2024.0 3499.9h33.4v31.9h-33.4z" fill="#52076f"/>
<path d="M2056.9 3499.9h33.4v31.9h-33.4z" fill="#4e0466"/>
<path d="M2089.7 3499.9h33.4v31.9h-33.4z" fill="#3f4090"/>
<path d="M2122.5 3499.9h33.4v31.9h-33.4z" fill="#3f4090"/>
<path d="M2155.3 3499.9h33.4v31.9h-33.4z" fill="#4f2984"/>
<path d="M2188.2 3499.9h33.4v31.9h-33.4z" fill="#04b771"/>
<path d="M2221.0 3499.9h33.4v31.9h-33.4z" fill="#443a8e"/>
<path d="M2253.8 3499.9h33.4v31.9h-33.4z" fill="#374792"/>
<path d="M2286.6 3499.9h33.4v31.9h-33.4z" fill="#374792"/>
<path d="M2319.5 3499.9h33.4v31.9h-33.4z" fill="#374792"/>
<path d="M1367.5 3531.2h33.4v32.1h-33.4z" fill="#73d81d"/>
<path d="M1400.3 3531.2h33.4v32.1h-33.4z" fill="#07778f"/>
<path d="M1433.2 3531.2h33.4v32.1h-33.4z" fill="#c4e10f"/>
<path d="M1466.0 3531.2h33.4v32.1h-33.4z" fill="#522281"/>
<path d="M1498.8 3531.2h33.4v32.1h-33.4z" fill="#4d0363"/>
<path d="M1531.6 3531.2h33.4v32.1h-33.4z" fill="#52076f"/>
<path d="M1564.5 3531.2h33.4v32.1h-33.4z" fill="#521578"/>
<path d="M1597.3 3531.2h33.4v32.1h-33.4z" fill="#4d0363"/>
<path d="M1630.1 3531.2h33.4v32.1h-33.4z" fill="#4d0363"/>
<path d="M1662.9 3531.2h33.4v32.1h-33.4z" fill="#73d81d"/>
<path d="M1695.8 3531.2h33.4v32.1h-33.4z" fill="#4b0260"/>
<path d="M1728.6 3531.2h33.4v32.1h-33.4z" fill="#4b0260"/>
<path d="M1761.4 3531.2h33.4v32.1h-33.4z" fill="#06908a"/>
<path d="M1794.2 3531.2h33.4v32.1h-33.4z" fill="#0acd4d"/>
<path d="M1827.1 3531.2h33.4v32.1h-33.4z" fill="#0a6594"/>
<path d="M1859.9 3531.2h33.4v32.1h-33.4z" fill="#4d0363"/>
<path d="M1892.7 3531.2h33.4v32.1h-33.4z" fill="#521578"/>
<path d="M1925.6 3531.2h33.4v32.1h-33.4z" fill="#500569"/>
<path d="M1958.4 3531.2h33.4v32.1h-33.4z" fill="#500569"/>
<path d="M1991.2 3531.2h33.4v32.1h-33.4z" fill="#07778f"/>
<path d="M2024.0 3531.2h33.4v32.1h-33.4z" fill="#4e0466"/>
<path d="M2056.9 3531.2h33.4v32.1h-33.4z" fill="#0b6195"/>
<path d="M2089.7 3531.2h33.4v32.1h-33.4z" fill="#500569"/>
<path d="M2122.5 3531.2h33.4v32.1h-33.4z" fill="#077c8e"/>
<path d="M2155.3 3531.2h33.4v32.1h-33.4z" fill="#04bf67"/>
<path d="M2188.2 3531.2h33.4v32.1h-33.4z" fill="#068b8c"/>
<path d="M2221.0 3531.2h33.4v32.1h-33.4z" fill="#3f4090"/>
<path d="M2253.8 3531.2h33.4v32.1h-33.4z" fill="#087290"/>
<path d="M2286.6 3531.2h33.4v32.1h-33.4z" fill="#4d0363"/>
<path d="M2319.5 3531.2h33.4v32.1h-33.4z" fill="#4d0363"/>
<path d="M1367.5 3562.7h33.4v35.3h-33.4z" fill="#255494"/>
<path d="M1400.3 3562.7h33.4v35.3h-33.4z" fill="#1a5995"/>
<path d="M1433.2 3562.7h33.4v35.3h-33.4z" fill="#096e91"/>
<path d="M1466.0 3562.7h33.4v35.3h-33.4z" fill="#255494"/>
<path d="M1498.8 3562.7h33.4v35.3h-33.4z" fill="#059d85"/>
<path d="M1531.6 3562.7h33.4v35.3h-33.4z" fill="#059d85"/>
<path d="M1564.5 3562.7h33.4v35.3h-33.4z" fill="#04ca55"/>
<path d="M1597.3 3562.7h33.4v35.3h-33.4z" fill="#04b375"/>
<path d="M1630.1 3562.7h33.4v35.3h-33.4z" fill="#0b6195"/>
<path d="M1662.9 3562.7h33.4v35.3h-33.4z" fill="#068b8c"/>
<path d="M1695.8 3562.7h33.4v35.3h-33.4z" fill="#7dda1b"/>
<path d="M1728.6 3562.7h33.4v35.3h-33.4z" fill="#7dda1b"/>
<path d="M1761.4 3562.7h33.4v35.3h-33.4z" fill="#c4e10f"/>
<path d="M1794.2 3562.7h33.4v35.3h-33.4z" fill="#522281"/>
<path d="M1827.1 3562.7h33.4v35.3h-33.4z" fill="#04b375"/>
<path d="M1859.9 3562.7h33.4v35.3h-33.4z" fill="#068b8c"/>
<path d="M1892.7 3562.7h33.4v35.3h-33.4z" fill="#04bb6d"/>
<path d="M1925.6 3562.7h33.4v35.3h-33.4z" fill="#04aa7c"/>
<path d="M1958.4 3562.7h33.4v35.3h-33.4z" fill="#48348b"/>
<path d="M1991.2 3562.7h33.4v35.3h-33.4z" fill="#04bf67"/>
<path d="M2024.0 3562.7h33.4v35.3h-33.4z" fill="#077c8e"/>
<path d="M2056.9 3562.7h33.4v35.3h-33.4z" fill="#48d42e"/>
<path d="M2089.7 3562.7h33.4v35.3h-33.4z" fill="#04a680"/>
<path d="M2122.5 3562.7h33.4v35.3h-33.4z" fill="#06908a"/>
<path d="M2155.3 3562.7h33.4v35.3h-33.4z" fill="#04bf67"/>
<path d="M2188.2 3562.7h33.4v35.3h-33.4z" fill="#0b6195"/>
<path d="M2221.0 3562.7h33.4v35.3h-33.4z" fill="#096e91"/>
<path d="M2253.8 3562.7h33.4v35.3h-33.4z" fill="#059987"/>
<path d="M2286.6 3562.7h33.4v35.3h-33.4z" fill="#059987"/>
<path d="M2319.5 3562.7h33.4v35.3h-33.4z" fill="#f0e50f"/>
<path d="M1367.5 3597.4h33.4v34.3h-33.4z" fill="#d6e30f"/>
<path d="M1400.3 3597.4h33.4v34.3h-33.4z" fill="#d6e30f"/>
<path d="M1433.2 3597.4h33.4v34.3h-33.4z" fill="#04bf67"/>
<path d="M1466.0 3597.4h33.4v34.3h-33.4z" fill="#04bf67"/>
<path d="M1498.8 3597.4h33.4v34.3h-33.4z" fill="#0a6594"/>
<path d="M1531.6 3597.4h33.4v34.3h-33.4z" fill="#04b771"/>
<path d="M1564.5 3597.4h33.4v34.3h-33.4z" fill="#b2e011"/>
<path d="M1597.3 3597.4h33.4v34.3h-33.4z" fill="#04b771"/>
<path d="M1630.1 3597.4h33.4v34.3h-33.4z" fill="#88db19"/>
<path d="M1662.9 3597.4h33.4v34.3h-33.4z" fill="#0a6594"/>
<path d="M1695.8 3597.4h33.4v34.3h-33.4z" fill="#04ca55"/>
<path d="M1728.6 3597.4h33.4v34.3h-33.4z" fill="#f0e50f"/>
<path d="M1761.4 3597.4h33.4v34.3h-33.4z" fill="#d6e30f"/>
<path d="M1794.2 3597.4h33.4v34.3h-33.4z" fill="#04b375"/>
<path d="M1827.1 3597.4h33.4v34.3h-33.4z" fill="#04b375"/>
<path d="M1859.9 3597.4h33.4v34.3h-33.4z" fill="#f0e50f"/>
<path d="M1892.7 3597.4h33.4v34.3h-33.4z" fill="#04aa7c"/>
<path d="M1925.6 3597.4h33.4v34.3h-33.4z" fill="#f4e60f"/>
<path d="M1958.4 3597.4h33.4v34.3h-33.4z" fill="#059987"/>
<path d="M1991.2 3597.4h33.4v34.3h-33.4z" fill="#068b8c"/>
<path d="M2024.0 3597.4h33.4v34.3h-33.4z" fill="#521c7c"/>
<path d="M2056.9 3597.4h33.4v34.3h-33.4z" fill="#06868d"/>
<path d="M2089.7 3597.4h33.4v34.3h-33.4z" fill="#7dda1b"/>
<path d="M2122.5 3597.4h33.4v34.3h-33.4z" fill="#04aa7c"/>
<path d="M2155.3 3597.4h33.4v34.3h-33.4z" fill="#a8de13"/>
<path d="M2188.2 3597.4h33.4v34.3h-33.4z" fill="#521578"/>
<path d="M2221.0 3597.4h33.4v34.3h-33.4z" fill="#04bf67"/>
<path d="M2253.8 3597.4h33.4v34.3h-33.4z" fill="#520e73"/>
<path d="M2286.6 3597.4h33.4v34.3h-33.4z" fill="#522281"/>
<path d="M2319.5 3597.4h33.4v34.3h-33.4z" fill="#48d42e"/>
<rect x="1367.8" y="3500.2" width="984.8" height="131.2" fill="none" stroke="#222" stroke-width="2"/>
<line x1="1358.2" y1="3516.60" x2="1367.8" y2="3516.60" stroke="#222" stroke-width="2"/>
<text x="1349.8" y="3525.10" font-size="27.0" text-anchor="end">α</text>
<line x1="1358.2" y1="3549.40" x2="1367.8" y2="3549.40" stroke="#222" stroke-width="2"/>
<text x="1349.8" y="3557.90" font-size="27.0" text-anchor="end">β</text>
<line x1="1358.2" y1="3582.20" x2="1367.8" y2="3582.20" stroke="#222" stroke-width="2"/>
<text x="1349.8" y="3590.70" font-size="27.0" text-anchor="end">θ</text>
<line x1="1358.2" y1="3615.00" x2="1367.8" y2="3615.00" stroke="#222" stroke-width="2"/>
<text x="1349.8" y="3623.50" font-size="27.0" text-anchor="end">δ</text>
<line x1="1384.21" y1="3631.4" x2="1384.21" y2="3641.0" stroke="#222" stroke-width="2"/>
<text transform="translate(1384.21,3677.48) rotate(45)" y="7.43" font-size="27.0" text-anchor="middle">FP1</text>
<line x1="1417.04" y1="3631.4" x2="1417.04" y2="3641.0" stroke="#222" stroke-width="2"/>
<text transform="translate(1417.04,3677.48) rotate(45)" y="7.43" font-size="27.0" text-anchor="middle">FP2</text>
<line x1="1449.87" y1="3631.4" x2="1449.87" y2="3641.0" stroke="#222" stroke-width="2"/>
<text transform="translate(1449.87,3671.72) rotate(45)" y="7.43" font-size="27.0" text-anchor="middle">F7</text>
<line x1="1482.69" y1="3631.4" x2="1482.69" y2="3641.0" stroke="#222" stroke-width="2"/>
<text transform="translate(1482.69,3671.72) rotate(45)" y="7.43" font-size="27.0" text-anchor="middle">F3</text>
<line x1="1515.52" y1="3631.4" x2="1515.52" y2="3641.0" stroke="#222" stroke-width="2"/>
<text transform="translate(1515.52,3672.19) rotate(45)" y="7.43" font-size="27.0" text-anchor="middle">FZ</text>
<line x1="1548.35" y1="3631.4" x2="1548.35" y2="3641.0" stroke="#222" stroke-width="2"/>
<text transform="translate(1548.35,3671.72) rotate(45)" y="7.43" font-size="27.0" text-anchor="middle">F4</text>
<line x1="1581.17" y1="3631.4" x2="1581.17" y2="3641.0" stroke="#222" stroke-width="2"/>
<text transform="translate(1581.17,3671.72) rotate(45)" y="7.43" font-size="27.0" text-anchor="middle">F8</text>
<line x1="1614.00" y1="3631.4" x2="1614.00" y2="3641.0" stroke="#222" stroke-width="2"/>
<text transform="translate(1614.00,3677.55) rotate(45)" y="7.43" font-size="27.0" text-anchor="middle">FT7</text>
<line x1="1646.83" y1="3631.4" x2="1646.83" y2="3641.0" stroke="#222" stroke-width="2"/>
<text transform="translate(1646.83,3678.38) rotate(45)" y="7.43" font-size="27.0" text-anchor="middle">FC3</text>
<line x1="1679.65" y1="3631.4" x2="1679.65" y2="3641.0" stroke="#222" stroke-width="2"/>
<text transform="translate(1679.65,3678.85) rotate(45)" y="7.43" font-size="27.0" text-anchor="middle">FCZ</text>
<line x1="1712.48" y1="3631.4" x2="1712.48" y2="3641.0" stroke="#222" stroke-width="2"/>
<text transform="translate(1712.48,3678.38) rotate(45)" y="7.43" font-size="27.0" text-anchor="middle">FC4</text>
<line x1="1745.31" y1="3631.4" x2="1745.31" y2="3641.0" stroke="#222" stroke-width="2"/>
<text transform="translate(1745.31,3677.55) rotate(45)" y="7.43" font-size="27.0" text-anchor="middle">FT8</text>
<line x1="1778.13" y1="3631.4" x2="1778.13" y2="3641.0" stroke="#222" stroke-width="2"/>
<text transform="translate(1778.13,3672.06) rotate(45)" y="7.43" font-size="27.0" text-anchor="middle">T3</text>
<line x1="1810.96" y1="3631.4" x2="1810.96" y2="3641.0" stroke="#222" stroke-width="2"/>
<text transform="translate(1810.96,3672.89) rotate(45)" y="7.43" font-size="27.0" text-anchor="middle">C3</text>
<line x1="1843.79" y1="3631.4" x2="1843.79" y2="3641.0" stroke="#222" stroke-width="2"/>
<text transform="translate(1843.79,3673.36) rotate(45)" y="7.43" font-size="27.0" text-anchor="middle">CZ</text>
<line x1="1876.61" y1="3631.4" x2="1876.61" y2="3641.0" stroke="#222" stroke-width="2"/>
<text transform="translate(1876.61,3672.89) rotate(45)" y="7.43" font-size="27.0" text-anchor="middle">C4</text>
<line x1="1909.44" y1="3631.4" x2="1909.44" y2="3641.0" stroke="#222" stroke-width="2"/>
<text transform="translate(1909.44,3672.06) rotate(45)" y="7.43" font-size="27.0" text-anchor="middle">T4</text>
<line x1="1942.27" y1="3631.4" x2="1942.27" y2="3641.0" stroke="#222" stroke-width="2"/>
<text transform="translate(1942.27,3677.82) rotate(45)" y="7.43" font-size="27.0" text-anchor="middle">TP7</text>
<line x1="1975.09" y1="3631.4" x2="1975.09" y2="3641.0" stroke="#222" stroke-width="2"/>
<text transform="translate(1975.09,3678.65) rotate(45)" y="7.43" font-size="27.0" text-anchor="middle">CP3</text>
<line x1="2007.92" y1="3631.4" x2="2007.92" y2="3641.0" stroke="#222" stroke-width="2"/>
<text transform="translate(2007.92,3679.12) rotate(45)" y="7.43" font-size="27.0" text-anchor="middle">CPZ</text>
<line x1="2040.75" y1="3631.4" x2="2040.75" y2="3641.0" stroke="#222" stroke-width="2"/>
<text transform="translate(2040.75,3678.65) rotate(45)" y="7.43" font-size="27.0" text-anchor="middle">CP4</text>
<line x1="2073.57" y1="3631.4" x2="2073.57" y2="3641.0" stroke="#222" stroke-width="2"/>
<text transform="translate(2073.57,3677.82) rotate(45)" y="7.43" font-size="27.0" text-anchor="middle">TP8</text>
<line x1="2106.40" y1="3631.4" x2="2106.40" y2="3641.0" stroke="#222" stroke-width="2"/>
<text transform="translate(2106.40,3672.06) rotate(45)" y="7.43" font-size="27.0" text-anchor="middle">T5</text>
<line x1="2139.23" y1="3631.4" x2="2139.23" y2="3641.0" stroke="#222" stroke-width="2"/>
<text transform="translate(2139.23,3671.99) rotate(45)" y="7.43" font-size="27.0" text-anchor="middle">P3</text>
<line x1="2172.05" y1="3631.4" x2="2172.05" y2="3641.0" stroke="#222" stroke-width="2"/>
<text transform="translate(2172.05,3672.45) rotate(45)" y="7.43" font-size="27.0" text-anchor="middle">PZ</text>
<line x1="2204.88" y1="3631.4" x2="2204.88" y2="3641.0" stroke="#222" stroke-width="2"/>
<text transform="translate(2204.88,3671.99) rotate(45)" y="7.43" font-size="27.0" text-anchor="middle">P4</text>
<line x1="2237.71" y1="3631.4" x2="2237.71" y2="3641.0" stroke="#222" stroke-width="2"/>
<text transform="translate(2237.71,3672.06) rotate(45)" y="7.43" font-size="27.0" text-anchor="middle">T6</text>
<line x1="2270.53" y1="3631.4" x2="2270.53" y2="3641.0" stroke="#222" stroke-width="2"/>
<text transform="translate(2270.53,3673.74) rotate(45)" y="7.43" font-size="27.0" text-anchor="middle">O1</text>
<line x1="2303.36" y1="3631.4" x2="2303.36" y2="3641.0" stroke="#222" stroke-width="2"/>
<text transform="translate(2303.36,3674.21) rotate(45)" y="7.43" font-size="27.0" text-anchor="middle">OZ</text>
<line x1="2336.19" y1="3631.4" x2="2336.19" y2="3641.0" stroke="#222" stroke-width="2"/>
<text transform="translate(2336.19,3673.74) rotate(45)" y="7.43" font-size="27.0" text-anchor="middle">O2</text>
<text x="1860.2" y="3483.0" font-size="33.05" text-anchor="middle">Feature Importance Ranking of Sub 12</text>
<rect x="1367.8" y="3744.2" width="984.8" height="49.4" fill="url(#cb)" stroke="#222" stroke-width="2"/>
<line x1="1537.29" y1="3793.6" x2="1537.29" y2="3803.2" stroke="#222" stroke-width="2"/>
<text x="1537.29" y="3832.6" font-size="27.0" text-anchor="middle">20</text>
<line x1="1715.69" y1="3793.6" x2="1715.69" y2="3803.2" stroke="#222" stroke-width="2"/>
<text x="1715.69" y="3832.6" font-size="27.0" text-anchor="middle">40</text>
<line x1="1894.10" y1="3793.6" x2="1894.10" y2="3803.2" stroke="#222" stroke-width="2"/>
<text x="1894.10" y="3832.6" font-size="27.0" text-anchor="middle">60</text>
<line x1="2072.50" y1="3793.6" x2="2072.50" y2="3803.2" stroke="#222" stroke-width="2"/>
<text x="2072.50" y="3832.6" font-size="27.0" text-anchor="middle">80</text>
<line x1="2250.91" y1="3793.6" x2="2250.91" y2="3803.2" stroke="#222" stroke-width="2"/>
<text x="2250.91" y="3832.6" font-size="27.0" text-anchor="middle">100</text>
</g><g class="hm tc" opacity="0.28"><line x1="1358.2" y1="3516.60" x2="1367.8" y2="3516.60" stroke="#222" stroke-width="2"/><text x="1349.8" y="3525.10" font-size="27.0" text-anchor="end">α</text><line x1="1358.2" y1="3549.40" x2="1367.8" y2="3549.40" stroke="#222" stroke-width="2"/><text x="1349.8" y="3557.90" font-size="27.0" text-anchor="end">β</text><line x1="1358.2" y1="3582.20" x2="1367.8" y2="3582.20" stroke="#222" stroke-width="2"/><text x="1349.8" y="3590.70" font-size="27.0" text-anchor="end">θ</text><line x1="1358.2" y1="3615.00" x2="1367.8" y2="3615.00" stroke="#222" stroke-width="2"/><text x="1349.8" y="3623.50" font-size="27.0" text-anchor="end">δ</text><line x1="1384.21" y1="3631.4" x2="1384.21" y2="3641.0" stroke="#222" stroke-width="2"/><text transform="translate(1384.21,3677.48) rotate(45)" y="7.43" font-size="27.0" text-anchor="middle">FP1</text><line x1="1417.04" y1="3631.4" x2="1417.04" y2="3641.0" stroke="#222" stroke-width="2"/><text transform="translate(1417.04,3677.48) rotate(45)" y="7.43" font-size="27.0" text-anchor="middle">FP2</text><line x1="1449.87" y1="3631.4" x2="1449.87" y2="3641.0" stroke="#222" stroke-width="2"/><text transform="translate(1449.87,3671.72) rotate(45)" y="7.43" font-size="27.0" text-anchor="middle">F7</text><line x1="1482.69" y1="3631.4" x2="1482.69" y2="3641.0" stroke="#222" stroke-width="2"/><text transform="translate(1482.69,3671.72) rotate(45)" y="7.43" font-size="27.0" text-anchor="middle">F3</text><line x1="1515.52" y1="3631.4" x2="1515.52" y2="3641.0" stroke="#222" stroke-width="2"/><text transform="translate(1515.52,3672.19) rotate(45)" y="7.43" font-size="27.0" text-anchor="middle">FZ</text><line x1="1548.35" y1="3631.4" x2="1548.35" y2="3641.0" stroke="#222" stroke-width="2"/><text transform="translate(1548.35,3671.72) rotate(45)" y="7.43" font-size="27.0" text-anchor="middle">F4</text><line x1="1581.17" y1="3631.4" x2="1581.17" y2="3641.0" stroke="#222" stroke-width="2"/><text transform="translate(1581.17,3671.72) rotate(45)" y="7.43" font-size="27.0" text-anchor="middle">F8</text><line x1="1614.00" y1="3631.4" x2="1614.00" y2="3641.0" stroke="#222" stroke-width="2"/><text transform="translate(1614.00,3677.55) rotate(45)" y="7.43" font-size="27.0" text-anchor="middle">FT7</text><line x1="1646.83" y1="3631.4" x2="1646.83" y2="3641.0" stroke="#222" stroke-width="2"/><text transform="translate(1646.83,3678.38) rotate(45)" y="7.43" font-size="27.0" text-anchor="middle">FC3</text><line x1="1679.65" y1="3631.4" x2="1679.65" y2="3641.0" stroke="#222" stroke-width="2"/><text transform="translate(1679.65,3678.85) rotate(45)" y="7.43" font-size="27.0" text-anchor="middle">FCZ</text><line x1="1712.48" y1="3631.4" x2="1712.48" y2="3641.0" stroke="#222" stroke-width="2"/><text transform="translate(1712.48,3678.38) rotate(45)" y="7.43" font-size="27.0" text-anchor="middle">FC4</text><line x1="1745.31" y1="3631.4" x2="1745.31" y2="3641.0" stroke="#222" stroke-width="2"/><text transform="translate(1745.31,3677.55) rotate(45)" y="7.43" font-size="27.0" text-anchor="middle">FT8</text><line x1="1778.13" y1="3631.4" x2="1778.13" y2="3641.0" stroke="#222" stroke-width="2"/><text transform="translate(1778.13,3672.06) rotate(45)" y="7.43" font-size="27.0" text-anchor="middle">T3</text><line x1="1810.96" y1="3631.4" x2="1810.96" y2="3641.0" stroke="#222" stroke-width="2"/><text transform="translate(1810.96,3672.89) rotate(45)" y="7.43" font-size="27.0" text-anchor="middle">C3</text><line x1="1843.79" y1="3631.4" x2="1843.79" y2="3641.0" stroke="#222" stroke-width="2"/><text transform="translate(1843.79,3673.36) rotate(45)" y="7.43" font-size="27.0" text-anchor="middle">CZ</text><line x1="1876.61" y1="3631.4" x2="1876.61" y2="3641.0" stroke="#222" stroke-width="2"/><text transform="translate(1876.61,3672.89) rotate(45)" y="7.43" font-size="27.0" text-anchor="middle">C4</text><line x1="1909.44" y1="3631.4" x2="1909.44" y2="3641.0" stroke="#222" stroke-width="2"/><text transform="translate(1909.44,3672.06) rotate(45)" y="7.43" font-size="27.0" text-anchor="middle">T4</text><line x1="1942.27" y1="3631.4" x2="1942.27" y2="3641.0" stroke="#222" stroke-width="2"/><text transform="translate(1942.27,3677.82) rotate(45)" y="7.43" font-size="27.0" text-anchor="middle">TP7</text><line x1="1975.09" y1="3631.4" x2="1975.09" y2="3641.0" stroke="#222" stroke-width="2"/><text transform="translate(1975.09,3678.65) rotate(45)" y="7.43" font-size="27.0" text-anchor="middle">CP3</text><line x1="2007.92" y1="3631.4" x2="2007.92" y2="3641.0" stroke="#222" stroke-width="2"/><text transform="translate(2007.92,3679.12) rotate(45)" y="7.43" font-size="27.0" text-anchor="middle">CPZ</text><line x1="2040.75" y1="3631.4" x2="2040.75" y2="3641.0" stroke="#222" stroke-width="2"/><text transform="translate(2040.75,3678.65) rotate(45)" y="7.43" font-size="27.0" text-anchor="middle">CP4</text><line x1="2073.57" y1="3631.4" x2="2073.57" y2="3641.0" stroke="#222" stroke-width="2"/><text transform="translate(2073.57,3677.82) rotate(45)" y="7.43" font-size="27.0" text-anchor="middle">TP8</text><line x1="2106.40" y1="3631.4" x2="2106.40" y2="3641.0" stroke="#222" stroke-width="2"/><text transform="translate(2106.40,3672.06) rotate(45)" y="7.43" font-size="27.0" text-anchor="middle">T5</text><line x1="2139.23" y1="3631.4" x2="2139.23" y2="3641.0" stroke="#222" stroke-width="2"/><text transform="translate(2139.23,3671.99) rotate(45)" y="7.43" font-size="27.0" text-anchor="middle">P3</text><line x1="2172.05" y1="3631.4" x2="2172.05" y2="3641.0" stroke="#222" stroke-width="2"/><text transform="translate(2172.05,3672.45) rotate(45)" y="7.43" font-size="27.0" text-anchor="middle">PZ</text><line x1="2204.88" y1="3631.4" x2="2204.88" y2="3641.0" stroke="#222" stroke-width="2"/><text transform="translate(2204.88,3671.99) rotate(45)" y="7.43" font-size="27.0" text-anchor="middle">P4</text><line x1="2237.71" y1="3631.4" x2="2237.71" y2="3641.0" stroke="#222" stroke-width="2"/><text transform="translate(2237.71,3672.06) rotate(45)" y="7.43" font-size="27.0" text-anchor="middle">T6</text><line x1="2270.53" y1="3631.4" x2="2270.53" y2="3641.0" stroke="#222" stroke-width="2"/><text transform="translate(2270.53,3673.74) rotate(45)" y="7.43" font-size="27.0" text-anchor="middle">O1</text><line x1="2303.36" y1="3631.4" x2="2303.36" y2="3641.0" stroke="#222" stroke-width="2"/><text transform="translate(2303.36,3674.21) rotate(45)" y="7.43" font-size="27.0" text-anchor="middle">OZ</text><line x1="2336.19" y1="3631.4" x2="2336.19" y2="3641.0" stroke="#222" stroke-width="2"/><text transform="translate(2336.19,3673.74) rotate(45)" y="7.43" font-size="27.0" text-anchor="middle">O2</text><text x="1860.2" y="3483.0" font-size="33.05" text-anchor="middle">Feature Importance Ranking of Sub 12</text><line x1="1537.29" y1="3793.6" x2="1537.29" y2="3803.2" stroke="#222" stroke-width="2"/><text x="1537.29" y="3832.6" font-size="27.0" text-anchor="middle">20</text><line x1="1715.69" y1="3793.6" x2="1715.69" y2="3803.2" stroke="#222" stroke-width="2"/><text x="1715.69" y="3832.6" font-size="27.0" text-anchor="middle">40</text><line x1="1894.10" y1="3793.6" x2="1894.10" y2="3803.2" stroke="#222" stroke-width="2"/><text x="1894.10" y="3832.6" font-size="27.0" text-anchor="middle">60</text><line x1="2072.50" y1="3793.6" x2="2072.50" y2="3803.2" stroke="#222" stroke-width="2"/><text x="2072.50" y="3832.6" font-size="27.0" text-anchor="middle">80</text><line x1="2250.91" y1="3793.6" x2="2250.91" y2="3803.2" stroke="#222" stroke-width="2"/><text x="2250.91" y="3832.6" font-size="27.0" text-anchor="middle">100</text>
</g>
<g filter="url(#b3)">
<text class="cap" x="1232.3" y="2024.8" font-size="68" text-anchor="middle" textLength="598" lengthAdjust="spacingAndGlyphs">(<tspan font-weight="700">a</tspan>) Importance score</text>
<text class="cap" x="1232.5" y="3907.7" font-size="68" text-anchor="middle" textLength="774" lengthAdjust="spacingAndGlyphs">(<tspan font-weight="700">b</tspan>) Ranking of importance</text>
</g>
</svg></body></html>
